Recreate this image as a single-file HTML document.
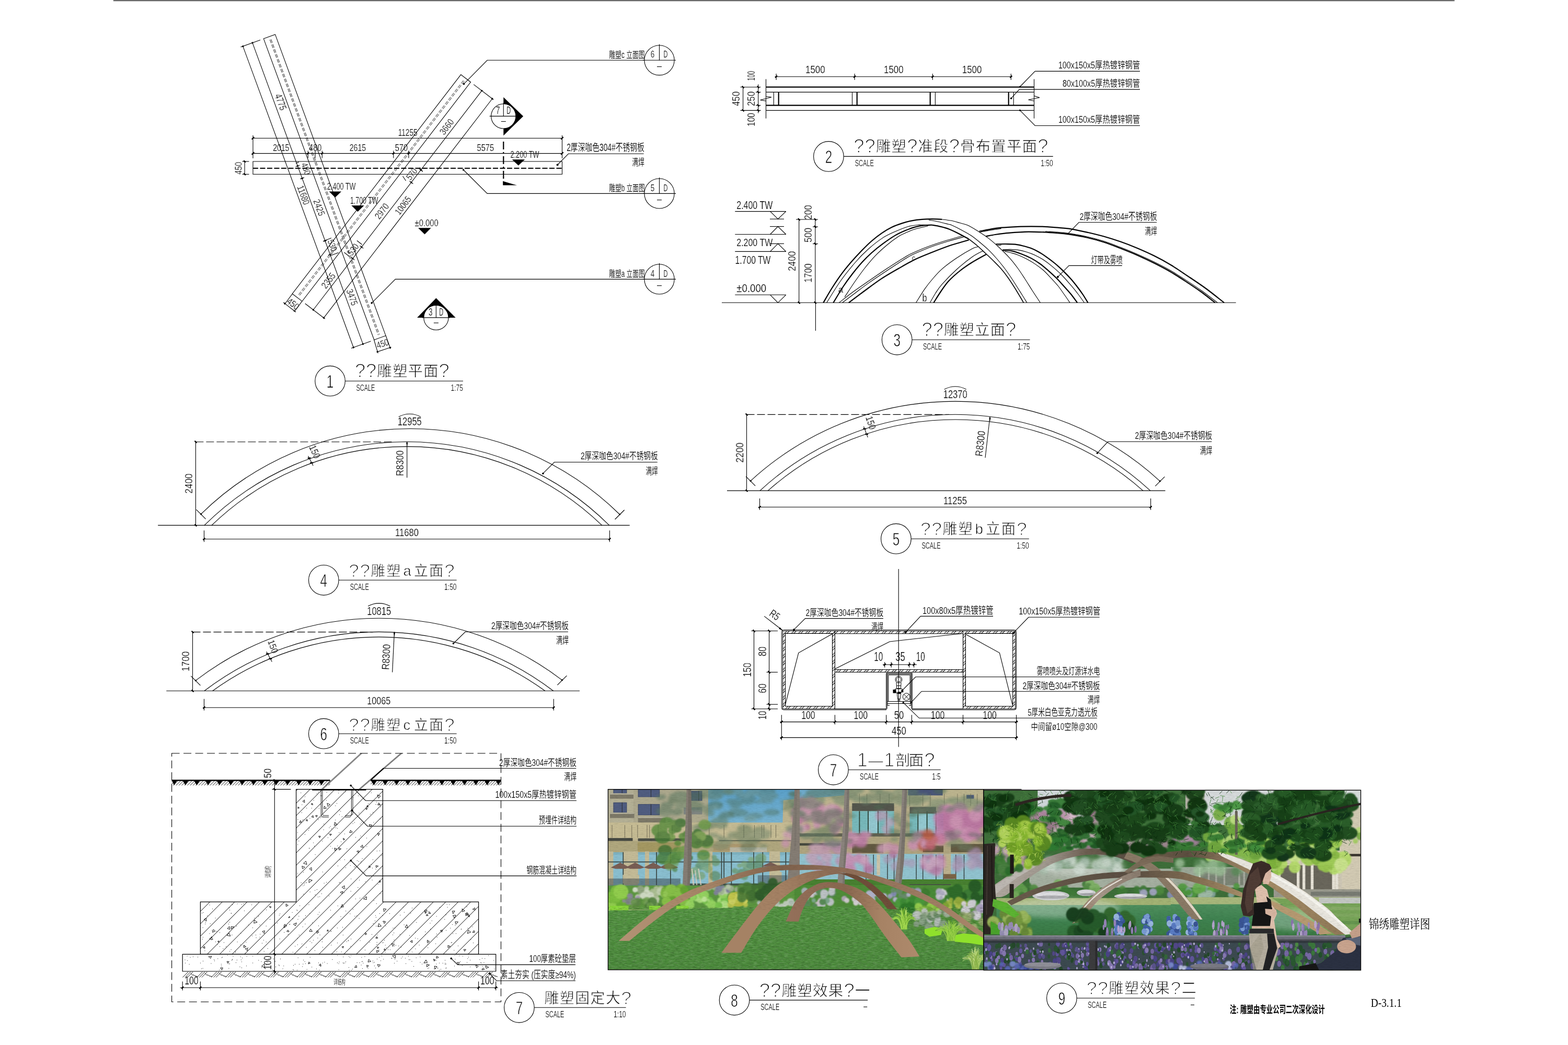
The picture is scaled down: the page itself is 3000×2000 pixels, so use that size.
<!DOCTYPE html>
<html lang="zh"><head><meta charset="utf-8"><title>锦绣雕塑详图 D-3.1.1</title>
<style>html,body{margin:0;padding:0;background:#fff}svg{display:block}.n{font-family:'Liberation Sans','Noto Sans CJK SC',sans-serif;stroke:#fff;stroke-width:.22px}.c{font-family:'Liberation Sans','Noto Sans CJK SC',sans-serif;stroke:#fff;stroke-width:.15px}.b{font-family:'Liberation Sans','Noto Sans CJK SC',sans-serif;font-weight:700;stroke:none}.t{font-family:'Liberation Sans','Noto Sans CJK SC',sans-serif;stroke:#fff;stroke-width:.75px}.s{font-family:'Liberation Serif','Noto Serif CJK SC',serif;stroke:none}.ln{fill:none;stroke:#000;stroke-width:1.1;stroke-linecap:butt;stroke-linejoin:miter}</style></head><body>
<svg xmlns="http://www.w3.org/2000/svg" width="3000" height="2000" viewBox="0 0 3000 2000">
<rect width="3000" height="2000" fill="#fff"/>
<defs><clipPath id="cp1"><rect x="1163.4" y="1510.7" width="718.4" height="345.4"/></clipPath>
<filter id="b1" x="-20%" y="-20%" width="140%" height="140%"><feGaussianBlur stdDeviation="1.2"/></filter>
<filter id="b2" x="-20%" y="-20%" width="140%" height="140%"><feGaussianBlur stdDeviation="2.5"/></filter>
<filter id="b4" x="-20%" y="-20%" width="140%" height="140%"><feGaussianBlur stdDeviation="5"/></filter>
<filter id="nzd" x="0" y="0" width="100%" height="100%"><feTurbulence type="fractalNoise" baseFrequency="0.12 0.7" numOctaves="3" seed="4"/><feColorMatrix type="matrix" values="0 0 0 0 0  0 0 0 0 0  0 0 0 0 0  3.2 0 0 0 -1.35"/></filter>
<filter id="nzl" x="0" y="0" width="100%" height="100%"><feTurbulence type="fractalNoise" baseFrequency="0.1 0.6" numOctaves="3" seed="9"/><feColorMatrix type="matrix" values="0 0 0 0 1  0 0 0 0 1  0 0 0 0 1  0 3.2 0 0 -1.45"/></filter>
<linearGradient id="lawn1" x1="0" y1="0" x2="0" y2="1"><stop offset="0" stop-color="#529340"/><stop offset="1" stop-color="#4b8a3b"/></linearGradient>
<linearGradient id="sky1" x1="0" y1="0" x2="0" y2="1"><stop offset="0" stop-color="#62b2e6"/><stop offset="1" stop-color="#8acbee"/></linearGradient>
<linearGradient id="gS" gradientUnits="userSpaceOnUse" x1="1503" y1="0" x2="1760" y2="0"><stop offset="0" stop-color="#94705a"/><stop offset="0.45" stop-color="#8a6850"/><stop offset="0.7" stop-color="#a68264"/><stop offset="1" stop-color="#ae8a6c"/></linearGradient>
<linearGradient id="gL" gradientUnits="userSpaceOnUse" x1="1183" y1="0" x2="1882" y2="0"><stop offset="0" stop-color="#b29274"/><stop offset="0.25" stop-color="#a58466"/><stop offset="0.45" stop-color="#80624c"/><stop offset="0.62" stop-color="#8f6e58"/><stop offset="1" stop-color="#a8866a"/></linearGradient>
<linearGradient id="gM" gradientUnits="userSpaceOnUse" x1="1380" y1="1823" x2="1600" y2="1665"><stop offset="0" stop-color="#a58265"/><stop offset="0.6" stop-color="#a58264"/><stop offset="1" stop-color="#8a6a54"/></linearGradient>
<clipPath id="cp2"><rect x="1882.1" y="1512.3" width="721.4" height="344.5"/></clipPath>
<linearGradient id="lawn2" x1="0" y1="0" x2="0" y2="1"><stop offset="0" stop-color="#4f8f5e"/><stop offset="0.5" stop-color="#3f8250"/><stop offset="1" stop-color="#3a7a44"/></linearGradient>
<linearGradient id="a1" gradientUnits="userSpaceOnUse" x1="1900" y1="0" x2="2200" y2="0"><stop offset="0" stop-color="#b0a8a0"/><stop offset="0.35" stop-color="#a0988e"/><stop offset="0.6" stop-color="#6c5e50"/><stop offset="1" stop-color="#51463c"/></linearGradient>
<linearGradient id="a2" gradientUnits="userSpaceOnUse" x1="1930" y1="0" x2="2400" y2="0"><stop offset="0" stop-color="#6a5c4c"/><stop offset="0.5" stop-color="#5a4e42"/><stop offset="0.8" stop-color="#8a7456"/><stop offset="1" stop-color="#b09670"/></linearGradient>
<linearGradient id="a3" gradientUnits="userSpaceOnUse" x1="2050" y1="1768" x2="2250" y2="1640"><stop offset="0" stop-color="#8a6a50"/><stop offset="0.3" stop-color="#a8998a"/><stop offset="1" stop-color="#6e6154"/></linearGradient>
<linearGradient id="ab" gradientUnits="userSpaceOnUse" x1="2180" y1="0" x2="2600" y2="0"><stop offset="0" stop-color="#73634f"/><stop offset="0.22" stop-color="#5c4e40"/><stop offset="0.42" stop-color="#8f7a5e"/><stop offset="0.6" stop-color="#a58c66"/><stop offset="1" stop-color="#8a7454"/></linearGradient>
<pattern id="hs" patternUnits="userSpaceOnUse" width="9.4" height="9.4" patternTransform="rotate(45)"><path d="M1 0V9.4M4.2 0V9.4" stroke="#000" stroke-width="1" fill="none"/></pattern></defs>
<g id="photos"><g clip-path="url(#cp1)">
<rect x="1163.4" y="1510.7" width="718.4" height="345.4" fill="#d9caa0"/>
<path d="M1354.8 1509.7L1530 1509.7L1530 1528.6L1498.7 1531.8L1497.1 1583.8L1354.8 1583Z" fill="url(#sky1)"/>
<path d="M1520 1509.7L1617.7 1509.7L1614.5 1522.3L1567.3 1526.3L1520 1528.6Z" fill="#7cc0ea"/>
<rect x="1865" y="1514.5" width="16.5" height="15.8" fill="#7cc4ee"/>
<rect x="1163.2" y="1509.7" width="191.7" height="64.6" fill="#c6bd9f"/>
<rect x="1163.2" y="1509.7" width="48.8" height="64.6" fill="#cfc6a8"/>
<rect x="1173.4" y="1510.5" width="26" height="9.5" fill="#465078"/>
<rect x="1174.6" y="1511.8" width="23.5" height="7.2" fill="#7684b8" opacity="0.35"/>
<path d="M1190.3 1510.5L1190.3 1520" stroke="#2a2a30" stroke-width="1" fill="none"/>
<rect x="1220.6" y="1510.5" width="41.7" height="15" fill="#465078"/>
<rect x="1221.9" y="1511.8" width="39.2" height="12.8" fill="#7684b8" opacity="0.35"/>
<path d="M1245.5 1510.5L1245.5 1525.5" stroke="#2a2a30" stroke-width="1" fill="none"/>
<rect x="1173.4" y="1535.7" width="26" height="19.7" fill="#465078"/>
<rect x="1174.6" y="1537" width="23.5" height="17.5" fill="#7684b8" opacity="0.35"/>
<path d="M1190.3 1535.7L1190.3 1555.4" stroke="#2a2a30" stroke-width="1" fill="none"/>
<rect x="1220.6" y="1538.9" width="41.7" height="21.3" fill="#465078"/>
<rect x="1221.9" y="1540.1" width="39.2" height="19.1" fill="#7684b8" opacity="0.35"/>
<path d="M1245.5 1538.9L1245.5 1560.1" stroke="#2a2a30" stroke-width="1" fill="none"/>
<rect x="1322.2" y="1513.7" width="21.3" height="18.9" fill="#465078"/>
<rect x="1323.5" y="1514.9" width="18.7" height="16.7" fill="#7684b8" opacity="0.35"/>
<path d="M1336.8 1513.7L1336.8 1532.6" stroke="#2a2a30" stroke-width="1" fill="none"/>
<rect x="1308.1" y="1545.2" width="35.4" height="13.4" fill="#6a7488" opacity="0.6"/>
<rect x="1167.1" y="1518.4" width="44.9" height="10.2" fill="#8c8472"/>
<rect x="1167.1" y="1518.4" width="44.9" height="2.2" fill="#d8d0b8"/>
<rect x="1167.1" y="1555.4" width="46.5" height="10.2" fill="#8c8472"/>
<rect x="1167.1" y="1555.4" width="46.5" height="2.2" fill="#d8d0b8"/>
<rect x="1220.6" y="1563.3" width="52.8" height="11" fill="#8c8472"/>
<rect x="1220.6" y="1563.3" width="52.8" height="2.2" fill="#d8d0b8"/>
<rect x="1163.2" y="1574.3" width="366.9" height="31.5" fill="#e3d3a6"/>
<rect x="1520" y="1574.3" width="97.7" height="31.5" fill="#dccb9e"/>
<path d="M1171 1579L1171 1603.4" stroke="#6e6650" stroke-width="0.8" fill="none"/>
<path d="M1195.4 1579L1195.4 1603.4" stroke="#6e6650" stroke-width="0.8" fill="none"/>
<path d="M1208.8 1579L1208.8 1603.4" stroke="#6e6650" stroke-width="0.8" fill="none"/>
<path d="M1219.9 1579L1219.9 1603.4" stroke="#6e6650" stroke-width="0.8" fill="none"/>
<path d="M1238 1579L1238 1603.4" stroke="#6e6650" stroke-width="0.8" fill="none"/>
<path d="M1242.7 1579L1242.7 1603.4" stroke="#6e6650" stroke-width="0.8" fill="none"/>
<path d="M1259.2 1579L1259.2 1603.4" stroke="#6e6650" stroke-width="0.8" fill="none"/>
<path d="M1286 1579L1286 1603.4" stroke="#6e6650" stroke-width="0.8" fill="none"/>
<path d="M1356.9 1579L1356.9 1603.4" stroke="#6e6650" stroke-width="0.8" fill="none"/>
<path d="M1385.2 1579L1385.2 1603.4" stroke="#6e6650" stroke-width="0.8" fill="none"/>
<path d="M1423.1 1579L1423.1 1603.4" stroke="#6e6650" stroke-width="0.8" fill="none"/>
<path d="M1443.5 1579L1443.5 1603.4" stroke="#6e6650" stroke-width="0.8" fill="none"/>
<path d="M1457.7 1579L1457.7 1603.4" stroke="#6e6650" stroke-width="0.8" fill="none"/>
<path d="M1461.6 1579L1461.6 1603.4" stroke="#6e6650" stroke-width="0.8" fill="none"/>
<path d="M1475 1579L1475 1603.4" stroke="#6e6650" stroke-width="0.8" fill="none"/>
<path d="M1484.5 1579L1484.5 1603.4" stroke="#6e6650" stroke-width="0.8" fill="none"/>
<rect x="1163.2" y="1603.9" width="47.3" height="5.8" fill="#4a4a44"/>
<rect x="1220.6" y="1604.5" width="90.6" height="6.3" fill="#51524a"/>
<rect x="1375.8" y="1608.2" width="154.2" height="6.3" fill="#56564a"/>
<rect x="1163.2" y="1609.7" width="366.9" height="22.1" fill="#c9ba8c"/>
<rect x="1219.9" y="1612.1" width="81.9" height="17.3" fill="#b7a562" opacity="0.8"/>
<rect x="1364.8" y="1615.3" width="78.8" height="14.2" fill="#c4a070" opacity="0.6"/>
<rect x="1396.3" y="1621.6" width="70.9" height="9.5" fill="#d8d8d0" opacity="0.7"/>
<rect x="1163.2" y="1631" width="366.9" height="63.8" fill="#9bd7ee"/>
<rect x="1163.2" y="1631" width="366.9" height="4.7" fill="#7fb8c8" opacity="0.5"/>
<rect x="1163.2" y="1629.4" width="10.2" height="64.6" fill="#e0d2aa"/>
<rect x="1193.1" y="1629.4" width="27.6" height="64.6" fill="#e0d2aa"/>
<rect x="1234" y="1629.4" width="7.9" height="64.6" fill="#e0d2aa"/>
<rect x="1355.3" y="1629.4" width="7.9" height="64.6" fill="#e0d2aa"/>
<rect x="1471.9" y="1629.4" width="20.5" height="64.6" fill="#e0d2aa"/>
<path d="M1192.3 1631L1192.3 1694" stroke="#38403c" stroke-width="1.6" fill="none"/>
<path d="M1256.1 1631L1256.1 1694" stroke="#38403c" stroke-width="1.6" fill="none"/>
<path d="M1282.9 1631L1282.9 1694" stroke="#38403c" stroke-width="1.6" fill="none"/>
<path d="M1380.5 1631L1380.5 1694" stroke="#38403c" stroke-width="1.6" fill="none"/>
<path d="M1385.2 1631L1385.2 1694" stroke="#38403c" stroke-width="1.6" fill="none"/>
<path d="M1399.4 1631L1399.4 1694" stroke="#38403c" stroke-width="1.6" fill="none"/>
<path d="M1442 1631L1442 1694" stroke="#38403c" stroke-width="1.6" fill="none"/>
<path d="M1459.3 1631L1459.3 1694" stroke="#38403c" stroke-width="1.6" fill="none"/>
<path d="M1503.4 1631L1503.4 1694" stroke="#38403c" stroke-width="1.6" fill="none"/>
<path d="M1163.2 1649.6L1530 1649.6" stroke="#3c4a4c" stroke-width="1.6" fill="none"/>
<rect x="1191.5" y="1674.3" width="31.5" height="16.5" fill="#e2d4ac"/>
<rect x="1472.7" y="1668.8" width="22.8" height="20.5" fill="#e2d4ac"/>
<path d="M1168.7 1660.2L1186.8 1650.7L1204.9 1660.2L1196.2 1662.8L1177.3 1662.8Z" fill="#87645a"/>
<path d="M1197 1660.2L1215.1 1650.7L1233.2 1660.2L1224.6 1662.8L1205.7 1662.8Z" fill="#87645a"/>
<path d="M1231.7 1660.2L1249.8 1650.7L1267.9 1660.2L1259.2 1662.8L1240.3 1662.8Z" fill="#87645a"/>
<path d="M1261.6 1660.2L1279.7 1650.7L1297.8 1660.2L1289.2 1662.8L1270.3 1662.8Z" fill="#87645a"/>
<path d="M1456.1 1658.6L1474.2 1649.9L1492.4 1658.6Z" fill="#87645a"/>
<rect x="1163.2" y="1681.4" width="138.6" height="15" fill="#3c4550" opacity="0.5"/>
<rect x="1449.8" y="1675.1" width="56.7" height="15.8" fill="#3c4048" opacity="0.45"/>
<rect x="1317.5" y="1690.9" width="212.5" height="5.5" fill="#33402c" opacity="0.8"/>
<rect x="1617.7" y="1509.7" width="263.8" height="33.1" fill="#d8cba0"/>
<rect x="1737.4" y="1509.7" width="66.2" height="12.6" fill="#4f5a86"/>
<rect x="1849.2" y="1521.5" width="14.2" height="7.1" fill="#4f5a86"/>
<path d="M1644.4 1519.2L1644.4 1542.8" stroke="#7a7258" stroke-width="0.8" fill="none"/>
<path d="M1658.6 1519.2L1658.6 1542.8" stroke="#7a7258" stroke-width="0.8" fill="none"/>
<path d="M1683.8 1519.2L1683.8 1542.8" stroke="#7a7258" stroke-width="0.8" fill="none"/>
<path d="M1701.1 1519.2L1701.1 1542.8" stroke="#7a7258" stroke-width="0.8" fill="none"/>
<path d="M1740.5 1519.2L1740.5 1542.8" stroke="#7a7258" stroke-width="0.8" fill="none"/>
<path d="M1765.7 1519.2L1765.7 1542.8" stroke="#7a7258" stroke-width="0.8" fill="none"/>
<path d="M1779.9 1519.2L1779.9 1542.8" stroke="#7a7258" stroke-width="0.8" fill="none"/>
<path d="M1806.7 1519.2L1806.7 1542.8" stroke="#7a7258" stroke-width="0.8" fill="none"/>
<path d="M1831.9 1519.2L1831.9 1542.8" stroke="#7a7258" stroke-width="0.8" fill="none"/>
<path d="M1844.5 1519.2L1844.5 1542.8" stroke="#7a7258" stroke-width="0.8" fill="none"/>
<path d="M1857.1 1519.2L1857.1 1542.8" stroke="#7a7258" stroke-width="0.8" fill="none"/>
<path d="M1869.7 1519.2L1869.7 1542.8" stroke="#7a7258" stroke-width="0.8" fill="none"/>
<rect x="1617.7" y="1542.8" width="263.8" height="56.7" fill="#cdbf98"/>
<rect x="1630.3" y="1537.3" width="80.3" height="15" fill="#5b5a52"/>
<rect x="1740.5" y="1544.4" width="50.4" height="12.6" fill="#5b5a52"/>
<rect x="1630.3" y="1552.3" width="80.3" height="42.5" fill="#86d0d4"/>
<rect x="1740.5" y="1557" width="64.6" height="40.2" fill="#86d0d4"/>
<rect x="1661.8" y="1553.8" width="17.3" height="40.2" fill="#a6e2ee"/>
<rect x="1756.3" y="1558.6" width="15.8" height="37.8" fill="#a6e2ee"/>
<rect x="1775.2" y="1558.6" width="14.2" height="37.8" fill="#a0dcec"/>
<path d="M1644.4 1552.3L1644.4 1595.6" stroke="#2c4034" stroke-width="1.8" fill="none"/>
<path d="M1661 1552.3L1661 1595.6" stroke="#2c4034" stroke-width="1.8" fill="none"/>
<path d="M1679.9 1552.3L1679.9 1595.6" stroke="#2c4034" stroke-width="1.8" fill="none"/>
<path d="M1696.4 1552.3L1696.4 1595.6" stroke="#2c4034" stroke-width="1.8" fill="none"/>
<path d="M1756.3 1552.3L1756.3 1595.6" stroke="#2c4034" stroke-width="1.8" fill="none"/>
<path d="M1773.6 1552.3L1773.6 1595.6" stroke="#2c4034" stroke-width="1.8" fill="none"/>
<path d="M1790.9 1552.3L1790.9 1595.6" stroke="#2c4034" stroke-width="1.8" fill="none"/>
<rect x="1520" y="1594.8" width="361.5" height="6.3" fill="#57584c" opacity="0.85"/>
<rect x="1520" y="1601.1" width="361.5" height="34.7" fill="#c8b88e"/>
<rect x="1630.3" y="1615.3" width="59.9" height="17.3" fill="#6d5f44"/>
<rect x="1765.7" y="1618.4" width="39.4" height="12.6" fill="#6d5f44"/>
<rect x="1819.3" y="1615.3" width="62.2" height="15.8" fill="#6d5f44"/>
<rect x="1520" y="1613.7" width="88.2" height="4.7" fill="#4a4a40"/>
<rect x="1520" y="1634.2" width="361.5" height="49.6" fill="#a4dcec"/>
<path d="M1657 1635.7L1657 1683" stroke="#3a4648" stroke-width="1.5" fill="none"/>
<path d="M1671.2 1635.7L1671.2 1683" stroke="#3a4648" stroke-width="1.5" fill="none"/>
<path d="M1698 1635.7L1698 1683" stroke="#3a4648" stroke-width="1.5" fill="none"/>
<path d="M1710.6 1635.7L1710.6 1683" stroke="#3a4648" stroke-width="1.5" fill="none"/>
<path d="M1753.1 1635.7L1753.1 1683" stroke="#3a4648" stroke-width="1.5" fill="none"/>
<path d="M1765.7 1635.7L1765.7 1683" stroke="#3a4648" stroke-width="1.5" fill="none"/>
<path d="M1790.9 1635.7L1790.9 1683" stroke="#3a4648" stroke-width="1.5" fill="none"/>
<path d="M1805.1 1635.7L1805.1 1683" stroke="#3a4648" stroke-width="1.5" fill="none"/>
<path d="M1828.7 1635.7L1828.7 1683" stroke="#3a4648" stroke-width="1.5" fill="none"/>
<path d="M1844.5 1635.7L1844.5 1683" stroke="#3a4648" stroke-width="1.5" fill="none"/>
<rect x="1677.5" y="1635.7" width="6.3" height="39.4" fill="#e8dcc0"/>
<rect x="1805.1" y="1634.2" width="14.2" height="44.1" fill="#d8c8a0"/>
<rect x="1805.1" y="1672.8" width="24.4" height="9.5" fill="#8a6a4a"/>
<rect x="1520" y="1683" width="361.5" height="11.8" fill="#4d8d30"/>
<rect x="1740.5" y="1692.4" width="78.8" height="11.3" fill="#4a4c4a"/>
<rect x="1646" y="1694.8" width="97.7" height="7.1" fill="#3a5a44" opacity="0.8"/>
<g opacity="0.8" filter="url(#b2)"><ellipse cx="1563.4" cy="1562.6" rx="13.6" ry="13.6" fill="#cf7fb4"/><ellipse cx="1563.3" cy="1578.9" rx="7.8" ry="7.8" fill="#e8a2cc"/><ellipse cx="1565.3" cy="1565.6" rx="7.8" ry="7.8" fill="#cf7fb4"/><ellipse cx="1551.2" cy="1536.8" rx="12.7" ry="12.7" fill="#e395c6"/><ellipse cx="1575.1" cy="1553.6" rx="9.9" ry="9.9" fill="#e8a2cc"/><ellipse cx="1579.5" cy="1566.1" rx="12.9" ry="12.9" fill="#e395c6"/><ellipse cx="1531.2" cy="1542.3" rx="8.2" ry="8.2" fill="#e395c6"/><ellipse cx="1590" cy="1549.8" rx="11" ry="11" fill="#d884bc"/><ellipse cx="1568.8" cy="1567.1" rx="10.2" ry="10.2" fill="#e395c6"/><ellipse cx="1563.8" cy="1547.1" rx="14.2" ry="14.2" fill="#e395c6"/><ellipse cx="1584.3" cy="1549.2" rx="8.1" ry="8.1" fill="#eeb0d4"/><ellipse cx="1528.7" cy="1562.8" rx="7.2" ry="7.2" fill="#e395c6"/><ellipse cx="1595.6" cy="1553.1" rx="13.8" ry="13.8" fill="#e395c6"/><ellipse cx="1543.8" cy="1582.9" rx="6.7" ry="6.7" fill="#cf7fb4"/><ellipse cx="1606.6" cy="1553.7" rx="6.9" ry="6.9" fill="#d884bc"/><ellipse cx="1590.1" cy="1546.7" rx="7" ry="7" fill="#eeb0d4"/><ellipse cx="1527.5" cy="1554.4" rx="13.6" ry="13.6" fill="#d884bc"/><ellipse cx="1546.5" cy="1537.3" rx="6.8" ry="6.8" fill="#cf7fb4"/><ellipse cx="1540.9" cy="1562.6" rx="9.8" ry="9.8" fill="#d884bc"/><ellipse cx="1607" cy="1574.2" rx="9.6" ry="9.6" fill="#cf7fb4"/><ellipse cx="1535.8" cy="1555" rx="8" ry="8" fill="#eeb0d4"/><ellipse cx="1597.1" cy="1585.5" rx="11" ry="11" fill="#e395c6"/><ellipse cx="1543.6" cy="1553.5" rx="13" ry="13" fill="#e8a2cc"/><ellipse cx="1534.5" cy="1586.3" rx="8" ry="8" fill="#eeb0d4"/><ellipse cx="1527.1" cy="1565.4" rx="12.8" ry="12.8" fill="#cf7fb4"/><ellipse cx="1532.3" cy="1536.7" rx="10.9" ry="10.9" fill="#d884bc"/></g>
<g opacity="0.92" filter="url(#b2)"><ellipse cx="1798.5" cy="1565.1" rx="12.5" ry="12.5" fill="#e08cc2"/><ellipse cx="1877.3" cy="1571.1" rx="12.1" ry="12.1" fill="#d67cb8"/><ellipse cx="1812.5" cy="1554" rx="15" ry="15" fill="#ea9ecc"/><ellipse cx="1818.1" cy="1555.8" rx="13.5" ry="13.5" fill="#ea9ecc"/><ellipse cx="1813.6" cy="1595.3" rx="14.7" ry="14.7" fill="#ea9ecc"/><ellipse cx="1803.8" cy="1548.4" rx="8" ry="8" fill="#ea9ecc"/><ellipse cx="1877.6" cy="1558.3" rx="13.2" ry="13.2" fill="#d67cb8"/><ellipse cx="1832.4" cy="1593" rx="11.3" ry="11.3" fill="#ea9ecc"/><ellipse cx="1811.9" cy="1583.4" rx="7.7" ry="7.7" fill="#e08cc2"/><ellipse cx="1837.2" cy="1579.9" rx="12.4" ry="12.4" fill="#e08cc2"/><ellipse cx="1820.6" cy="1593.6" rx="8.9" ry="8.9" fill="#e08cc2"/><ellipse cx="1803" cy="1567.3" rx="9.2" ry="9.2" fill="#e08cc2"/><ellipse cx="1811.9" cy="1565.1" rx="12" ry="12" fill="#e08cc2"/><ellipse cx="1804.9" cy="1553.1" rx="11" ry="11" fill="#d67cb8"/><ellipse cx="1852.1" cy="1581.9" rx="12.2" ry="12.2" fill="#e08cc2"/><ellipse cx="1846.5" cy="1594" rx="11.2" ry="11.2" fill="#d67cb8"/><ellipse cx="1855.7" cy="1596" rx="7.3" ry="7.3" fill="#ea9ecc"/><ellipse cx="1803.5" cy="1549.5" rx="9.8" ry="9.8" fill="#e08cc2"/><ellipse cx="1880.7" cy="1549.9" rx="11.8" ry="11.8" fill="#ea9ecc"/><ellipse cx="1800.9" cy="1594.6" rx="13.5" ry="13.5" fill="#e08cc2"/><ellipse cx="1863.5" cy="1593.5" rx="10.1" ry="10.1" fill="#ea9ecc"/><ellipse cx="1836.7" cy="1550" rx="14.5" ry="14.5" fill="#e08cc2"/><ellipse cx="1869.3" cy="1575.7" rx="12.5" ry="12.5" fill="#d67cb8"/><ellipse cx="1828.9" cy="1546.6" rx="7.7" ry="7.7" fill="#e08cc2"/><ellipse cx="1850.6" cy="1597.6" rx="14.7" ry="14.7" fill="#ea9ecc"/><ellipse cx="1824.8" cy="1594.5" rx="13.1" ry="13.1" fill="#d67cb8"/><ellipse cx="1834" cy="1589.5" rx="7.8" ry="7.8" fill="#ea9ecc"/><ellipse cx="1799.7" cy="1577.2" rx="11.3" ry="11.3" fill="#e08cc2"/><ellipse cx="1877.2" cy="1551.8" rx="13.8" ry="13.8" fill="#ea9ecc"/><ellipse cx="1874.1" cy="1559.3" rx="7.2" ry="7.2" fill="#d67cb8"/><ellipse cx="1809.2" cy="1577.8" rx="11.6" ry="11.6" fill="#d67cb8"/><ellipse cx="1852.3" cy="1568.9" rx="14.8" ry="14.8" fill="#d67cb8"/><ellipse cx="1831" cy="1559" rx="12.6" ry="12.6" fill="#e08cc2"/><ellipse cx="1870.7" cy="1565.9" rx="12.1" ry="12.1" fill="#d67cb8"/><ellipse cx="1814.7" cy="1552.9" rx="10.1" ry="10.1" fill="#e08cc2"/><ellipse cx="1856.6" cy="1595.3" rx="9.5" ry="9.5" fill="#e08cc2"/><ellipse cx="1806.6" cy="1570.5" rx="15.1" ry="15.1" fill="#d67cb8"/><ellipse cx="1829.2" cy="1573" rx="12.9" ry="12.9" fill="#ea9ecc"/><ellipse cx="1867.3" cy="1597" rx="11" ry="11" fill="#e08cc2"/><ellipse cx="1866.4" cy="1560.4" rx="12.4" ry="12.4" fill="#ea9ecc"/></g>
<g opacity="0.85" filter="url(#b2)"><ellipse cx="1650.7" cy="1606.5" rx="7.2" ry="7.2" fill="#e8a2cc"/><ellipse cx="1624.7" cy="1597.6" rx="8" ry="8" fill="#e395c6"/><ellipse cx="1653" cy="1600.2" rx="9.8" ry="9.8" fill="#e395c6"/><ellipse cx="1661.2" cy="1597.1" rx="6.1" ry="6.1" fill="#e8a2cc"/><ellipse cx="1648.7" cy="1611.3" rx="10.8" ry="10.8" fill="#d884bc"/><ellipse cx="1631.5" cy="1604.5" rx="6.5" ry="6.5" fill="#e395c6"/><ellipse cx="1652.5" cy="1605.7" rx="5.7" ry="5.7" fill="#d884bc"/><ellipse cx="1634.3" cy="1601.9" rx="9.4" ry="9.4" fill="#e8a2cc"/><ellipse cx="1642.9" cy="1615.2" rx="6.4" ry="6.4" fill="#d884bc"/><ellipse cx="1627.3" cy="1613.9" rx="9.5" ry="9.5" fill="#d884bc"/></g>
<g opacity="0.85" filter="url(#b2)"><ellipse cx="1764.6" cy="1601.3" rx="10.4" ry="10.4" fill="#e488b4"/><ellipse cx="1759.4" cy="1609.2" rx="10.4" ry="10.4" fill="#ea9ecc"/><ellipse cx="1765.5" cy="1611" rx="6.6" ry="6.6" fill="#e488b4"/><ellipse cx="1747.8" cy="1616.3" rx="10.9" ry="10.9" fill="#ea9ecc"/><ellipse cx="1770.7" cy="1614" rx="7.3" ry="7.3" fill="#e488b4"/><ellipse cx="1757.3" cy="1598.9" rx="7.9" ry="7.9" fill="#d8604a"/><ellipse cx="1787.1" cy="1607.5" rx="5.7" ry="5.7" fill="#e488b4"/><ellipse cx="1763" cy="1597.9" rx="8.5" ry="8.5" fill="#e06a80"/><ellipse cx="1766" cy="1618.4" rx="10.5" ry="10.5" fill="#d8604a"/><ellipse cx="1799.7" cy="1607.6" rx="10.7" ry="10.7" fill="#e488b4"/><ellipse cx="1786.4" cy="1606.5" rx="8.6" ry="8.6" fill="#e06a80"/><ellipse cx="1769.7" cy="1615.1" rx="8.6" ry="8.6" fill="#ea9ecc"/><ellipse cx="1780.2" cy="1617.4" rx="10.3" ry="10.3" fill="#e06a80"/><ellipse cx="1754.2" cy="1600.1" rx="8.5" ry="8.5" fill="#ea9ecc"/><ellipse cx="1773.3" cy="1601.4" rx="8.5" ry="8.5" fill="#e488b4"/><ellipse cx="1775.5" cy="1597.7" rx="10.9" ry="10.9" fill="#d8604a"/></g>
<g opacity="0.8" filter="url(#b2)"><ellipse cx="1584.1" cy="1655.8" rx="7.1" ry="7.1" fill="#d8a0c8"/><ellipse cx="1592.9" cy="1618" rx="9.7" ry="9.7" fill="#c890c0"/><ellipse cx="1606.6" cy="1648" rx="8.8" ry="8.8" fill="#d8a0c8"/><ellipse cx="1579.8" cy="1620.5" rx="9" ry="9" fill="#c890c0"/><ellipse cx="1582.9" cy="1619.7" rx="8.9" ry="8.9" fill="#d8a0c8"/><ellipse cx="1606.9" cy="1620.6" rx="11.2" ry="11.2" fill="#d8a0c8"/><ellipse cx="1553.6" cy="1621.6" rx="6.4" ry="6.4" fill="#c890c0"/><ellipse cx="1570.8" cy="1629.8" rx="10.2" ry="10.2" fill="#d8a0c8"/><ellipse cx="1581.4" cy="1639.1" rx="11.7" ry="11.7" fill="#e0b0d0"/><ellipse cx="1566.5" cy="1623.4" rx="9.6" ry="9.6" fill="#c890c0"/><ellipse cx="1552.9" cy="1641.2" rx="11.5" ry="11.5" fill="#e0b0d0"/><ellipse cx="1561.1" cy="1623.6" rx="10.3" ry="10.3" fill="#e0b0d0"/><ellipse cx="1564.6" cy="1624.1" rx="9.7" ry="9.7" fill="#e0b0d0"/><ellipse cx="1602.8" cy="1624.8" rx="11" ry="11" fill="#c890c0"/><ellipse cx="1605.5" cy="1628.2" rx="8.3" ry="8.3" fill="#d8a0c8"/><ellipse cx="1564.6" cy="1656.1" rx="11.9" ry="11.9" fill="#d8a0c8"/><ellipse cx="1604.7" cy="1620.7" rx="6.9" ry="6.9" fill="#c890c0"/><ellipse cx="1557.3" cy="1649.3" rx="9" ry="9" fill="#e0b0d0"/></g>
<g opacity="0.9" filter="url(#b2)"><ellipse cx="1623.2" cy="1650.3" rx="9.3" ry="9.3" fill="#e395c6"/><ellipse cx="1621.9" cy="1655" rx="7.5" ry="7.5" fill="#eeb0d4"/><ellipse cx="1622.7" cy="1653.2" rx="9.7" ry="9.7" fill="#e8a2cc"/><ellipse cx="1661.7" cy="1662.5" rx="9.9" ry="9.9" fill="#cf7fb4"/><ellipse cx="1622.3" cy="1639.9" rx="8.6" ry="8.6" fill="#e8a2cc"/><ellipse cx="1657.6" cy="1652.5" rx="6.6" ry="6.6" fill="#e395c6"/><ellipse cx="1626.7" cy="1662.7" rx="11" ry="11" fill="#e395c6"/><ellipse cx="1643.2" cy="1642.7" rx="9.3" ry="9.3" fill="#e395c6"/><ellipse cx="1651.4" cy="1648.2" rx="8.1" ry="8.1" fill="#e8a2cc"/><ellipse cx="1633.3" cy="1644.8" rx="7.6" ry="7.6" fill="#e395c6"/><ellipse cx="1654.9" cy="1644" rx="8" ry="8" fill="#eeb0d4"/><ellipse cx="1635.5" cy="1644.4" rx="6.4" ry="6.4" fill="#e8a2cc"/></g>
<g opacity="0.8" filter="url(#b2)"><ellipse cx="1711.6" cy="1625.5" rx="5.1" ry="5.1" fill="#cf7fb4"/><ellipse cx="1704.2" cy="1622.6" rx="7.5" ry="7.5" fill="#eeb0d4"/><ellipse cx="1712" cy="1624.1" rx="9" ry="9" fill="#d884bc"/><ellipse cx="1712.3" cy="1627.4" rx="9" ry="9" fill="#e8a2cc"/><ellipse cx="1708.4" cy="1635.3" rx="8.3" ry="8.3" fill="#cf7fb4"/><ellipse cx="1692.2" cy="1622.5" rx="8.5" ry="8.5" fill="#eeb0d4"/><ellipse cx="1700.9" cy="1618.6" rx="6.4" ry="6.4" fill="#e8a2cc"/><ellipse cx="1687" cy="1624.4" rx="9.3" ry="9.3" fill="#eeb0d4"/></g>
<g opacity="0.85" filter="url(#b2)"><ellipse cx="1778.5" cy="1661.8" rx="8.7" ry="8.7" fill="#e8a2cc"/><ellipse cx="1768.6" cy="1656.7" rx="8.3" ry="8.3" fill="#d884bc"/><ellipse cx="1792.2" cy="1665.3" rx="10.9" ry="10.9" fill="#e395c6"/><ellipse cx="1770.1" cy="1642.6" rx="6.8" ry="6.8" fill="#cf7fb4"/><ellipse cx="1780.9" cy="1640.6" rx="6.6" ry="6.6" fill="#cf7fb4"/><ellipse cx="1766.1" cy="1647.8" rx="7" ry="7" fill="#eeb0d4"/><ellipse cx="1786.5" cy="1656.5" rx="10.8" ry="10.8" fill="#e8a2cc"/><ellipse cx="1797.7" cy="1642.3" rx="8" ry="8" fill="#e395c6"/><ellipse cx="1786.5" cy="1662.1" rx="10.8" ry="10.8" fill="#cf7fb4"/><ellipse cx="1800.9" cy="1644.4" rx="8.1" ry="8.1" fill="#d884bc"/><ellipse cx="1798.1" cy="1657.7" rx="8.8" ry="8.8" fill="#cf7fb4"/><ellipse cx="1801.5" cy="1653.5" rx="8.4" ry="8.4" fill="#e8a2cc"/><ellipse cx="1777.5" cy="1657.3" rx="8.2" ry="8.2" fill="#eeb0d4"/><ellipse cx="1786.9" cy="1648.7" rx="9.5" ry="9.5" fill="#eeb0d4"/></g>
<g opacity="0.8" filter="url(#b2)"><ellipse cx="1828.6" cy="1656.6" rx="8.7" ry="8.7" fill="#d4b4d4"/><ellipse cx="1835.5" cy="1656" rx="7.7" ry="7.7" fill="#b898c0"/><ellipse cx="1867.2" cy="1632.7" rx="11" ry="11" fill="#b898c0"/><ellipse cx="1831.1" cy="1661" rx="7.9" ry="7.9" fill="#b898c0"/><ellipse cx="1840.6" cy="1656" rx="5.8" ry="5.8" fill="#c8a4cc"/><ellipse cx="1877.3" cy="1654.9" rx="8.1" ry="8.1" fill="#c8a4cc"/><ellipse cx="1859.5" cy="1634.8" rx="9" ry="9" fill="#b898c0"/><ellipse cx="1833.5" cy="1659.5" rx="7.5" ry="7.5" fill="#c8a4cc"/><ellipse cx="1833.8" cy="1645.7" rx="9.2" ry="9.2" fill="#b898c0"/><ellipse cx="1859.3" cy="1652.2" rx="9.3" ry="9.3" fill="#b898c0"/><ellipse cx="1868.8" cy="1648.6" rx="11" ry="11" fill="#b898c0"/><ellipse cx="1866.5" cy="1638.9" rx="6.1" ry="6.1" fill="#b898c0"/><ellipse cx="1869.2" cy="1651.7" rx="7.5" ry="7.5" fill="#b898c0"/><ellipse cx="1859.8" cy="1655" rx="9.4" ry="9.4" fill="#c8a4cc"/><ellipse cx="1861.1" cy="1655.9" rx="6.6" ry="6.6" fill="#c8a4cc"/><ellipse cx="1854" cy="1652.6" rx="6.6" ry="6.6" fill="#d4b4d4"/></g>
<g opacity="0.6" filter="url(#b2)"><ellipse cx="1695.8" cy="1644.8" rx="6" ry="6" fill="#d8b0d4"/><ellipse cx="1695" cy="1644.3" rx="5.8" ry="5.8" fill="#d8b0d4"/><ellipse cx="1697.8" cy="1645.2" rx="7.9" ry="7.9" fill="#c8a4cc"/><ellipse cx="1733" cy="1650.7" rx="7" ry="7" fill="#c8a4cc"/><ellipse cx="1714.6" cy="1653" rx="5.4" ry="5.4" fill="#c8a4cc"/><ellipse cx="1743.8" cy="1652.1" rx="8.6" ry="8.6" fill="#c8a4cc"/><ellipse cx="1721.3" cy="1657.7" rx="6.6" ry="6.6" fill="#c8a4cc"/><ellipse cx="1716.5" cy="1656" rx="9.4" ry="9.4" fill="#d8b0d4"/><ellipse cx="1711.6" cy="1658" rx="8.6" ry="8.6" fill="#c8a4cc"/><ellipse cx="1720.2" cy="1650.6" rx="5.2" ry="5.2" fill="#d8b0d4"/></g>
<g opacity="0.6" filter="url(#b2)"><ellipse cx="1682.9" cy="1558.5" rx="7.4" ry="7.4" fill="#cf7fb4"/><ellipse cx="1703.8" cy="1572.9" rx="8.6" ry="8.6" fill="#e395c6"/><ellipse cx="1682.8" cy="1563.5" rx="7.9" ry="7.9" fill="#e395c6"/><ellipse cx="1700.4" cy="1574.1" rx="8.3" ry="8.3" fill="#eeb0d4"/><ellipse cx="1688.7" cy="1560.8" rx="6.4" ry="6.4" fill="#eeb0d4"/><ellipse cx="1691.1" cy="1559.8" rx="8.1" ry="8.1" fill="#e8a2cc"/><ellipse cx="1697.5" cy="1589.5" rx="8" ry="8" fill="#eeb0d4"/><ellipse cx="1693.1" cy="1585.8" rx="6.2" ry="6.2" fill="#eeb0d4"/></g>
<g opacity="0.7" filter="url(#b2)"><ellipse cx="1503.1" cy="1614.3" rx="8.2" ry="8.2" fill="#e8a2cc"/><ellipse cx="1504.1" cy="1597.2" rx="6.5" ry="6.5" fill="#eeb0d4"/><ellipse cx="1518.9" cy="1603.5" rx="8.5" ry="8.5" fill="#e8a2cc"/><ellipse cx="1508.2" cy="1598" rx="5.5" ry="5.5" fill="#e8a2cc"/><ellipse cx="1514.9" cy="1591.9" rx="8.3" ry="8.3" fill="#eeb0d4"/><ellipse cx="1523.5" cy="1593.2" rx="5" ry="5" fill="#d884bc"/></g>
<g opacity="0.55" filter="url(#b2)"><ellipse cx="1338.4" cy="1584.4" rx="15.1" ry="7.5" fill="#7a9478"/><ellipse cx="1271" cy="1552.6" rx="16.6" ry="8.3" fill="#5f7f66"/><ellipse cx="1307.2" cy="1532" rx="9" ry="4.5" fill="#527458"/><ellipse cx="1273.7" cy="1559.2" rx="9.5" ry="4.7" fill="#7a9478"/><ellipse cx="1295.2" cy="1528" rx="16.3" ry="8.2" fill="#527458"/><ellipse cx="1364.8" cy="1541.1" rx="11.6" ry="5.8" fill="#527458"/><ellipse cx="1352.4" cy="1548.6" rx="13.8" ry="6.9" fill="#5f7f66"/><ellipse cx="1357.2" cy="1580.5" rx="12.4" ry="6.2" fill="#527458"/><ellipse cx="1376.7" cy="1572.2" rx="17.1" ry="8.5" fill="#7a9478"/><ellipse cx="1390.6" cy="1559.7" rx="13.7" ry="6.8" fill="#5f7f66"/><ellipse cx="1369.8" cy="1543.2" rx="12.5" ry="6.3" fill="#6c8a70"/><ellipse cx="1295.3" cy="1523.6" rx="14.9" ry="7.4" fill="#6c8a70"/><ellipse cx="1305.3" cy="1540.7" rx="13.7" ry="6.9" fill="#527458"/><ellipse cx="1392.2" cy="1515.8" rx="11.3" ry="5.6" fill="#5f7f66"/><ellipse cx="1303" cy="1523.1" rx="18" ry="9" fill="#5f7f66"/><ellipse cx="1363.2" cy="1512.6" rx="13.2" ry="6.6" fill="#5f7f66"/><ellipse cx="1304.2" cy="1526.2" rx="11.8" ry="5.9" fill="#6c8a70"/><ellipse cx="1342.7" cy="1547" rx="13.5" ry="6.7" fill="#7a9478"/><ellipse cx="1287.2" cy="1532.6" rx="9.8" ry="4.9" fill="#527458"/><ellipse cx="1346.3" cy="1582.5" rx="13.9" ry="7" fill="#527458"/><ellipse cx="1327.3" cy="1541.7" rx="18.4" ry="9.2" fill="#5f7f66"/><ellipse cx="1327" cy="1528" rx="8.4" ry="4.2" fill="#6c8a70"/><ellipse cx="1369.7" cy="1540.4" rx="13.7" ry="6.8" fill="#527458"/><ellipse cx="1367.8" cy="1515.7" rx="18.1" ry="9" fill="#5f7f66"/><ellipse cx="1379.4" cy="1579.7" rx="12.8" ry="6.4" fill="#6c8a70"/><ellipse cx="1357.9" cy="1557.1" rx="9.6" ry="4.8" fill="#6c8a70"/><ellipse cx="1365.7" cy="1522.2" rx="17.9" ry="8.9" fill="#6c8a70"/><ellipse cx="1347.7" cy="1586.4" rx="10.8" ry="5.4" fill="#5f7f66"/><ellipse cx="1282.6" cy="1569.5" rx="7.9" ry="3.9" fill="#6c8a70"/><ellipse cx="1372.5" cy="1517.5" rx="10.9" ry="5.4" fill="#5f7f66"/><ellipse cx="1381.5" cy="1563.7" rx="8.8" ry="4.4" fill="#527458"/><ellipse cx="1264.9" cy="1525.5" rx="10" ry="5" fill="#5f7f66"/><ellipse cx="1367" cy="1544.6" rx="8.3" ry="4.1" fill="#7a9478"/><ellipse cx="1332.8" cy="1523.2" rx="17" ry="8.5" fill="#527458"/><ellipse cx="1304.7" cy="1542" rx="14" ry="7" fill="#7a9478"/><ellipse cx="1351.7" cy="1516.4" rx="8.7" ry="4.3" fill="#6c8a70"/><ellipse cx="1276.5" cy="1541.1" rx="13" ry="6.5" fill="#5f7f66"/><ellipse cx="1349.9" cy="1512.2" rx="12" ry="6" fill="#7a9478"/><ellipse cx="1294.2" cy="1554" rx="12.9" ry="6.5" fill="#5f7f66"/><ellipse cx="1377" cy="1575.2" rx="15.8" ry="7.9" fill="#6c8a70"/></g>
<g opacity="0.42" filter="url(#b2)"><ellipse cx="1429.5" cy="1533.8" rx="14.7" ry="5.9" fill="#527458"/><ellipse cx="1523.5" cy="1556.5" rx="14.9" ry="6" fill="#5f7f66"/><ellipse cx="1424.7" cy="1523.3" rx="17.1" ry="6.8" fill="#527458"/><ellipse cx="1432.3" cy="1527.7" rx="13.8" ry="5.5" fill="#527458"/><ellipse cx="1451.7" cy="1534.2" rx="9.2" ry="3.7" fill="#5f7f66"/><ellipse cx="1407" cy="1549" rx="10.1" ry="4.1" fill="#6c8a70"/><ellipse cx="1445.4" cy="1561.4" rx="15.3" ry="6.1" fill="#5f7f66"/><ellipse cx="1402.6" cy="1513.2" rx="20.3" ry="8.1" fill="#7a9478"/><ellipse cx="1446" cy="1515.7" rx="19.5" ry="7.8" fill="#7a9478"/><ellipse cx="1519.7" cy="1519.6" rx="10.5" ry="4.2" fill="#6c8a70"/><ellipse cx="1504.7" cy="1534.4" rx="12.1" ry="4.8" fill="#7a9478"/><ellipse cx="1476.6" cy="1554.8" rx="15.6" ry="6.2" fill="#527458"/><ellipse cx="1527.4" cy="1558.6" rx="16.2" ry="6.5" fill="#5f7f66"/><ellipse cx="1425.3" cy="1522.6" rx="11.7" ry="4.7" fill="#7a9478"/><ellipse cx="1403.4" cy="1533.9" rx="14.3" ry="5.7" fill="#527458"/><ellipse cx="1505.2" cy="1547.9" rx="9.9" ry="3.9" fill="#527458"/><ellipse cx="1466" cy="1532.4" rx="14.2" ry="5.7" fill="#6c8a70"/><ellipse cx="1469.7" cy="1523.2" rx="19.6" ry="7.9" fill="#6c8a70"/><ellipse cx="1468.7" cy="1512.9" rx="16.2" ry="6.5" fill="#5f7f66"/><ellipse cx="1407.7" cy="1539.9" rx="13.1" ry="5.3" fill="#527458"/><ellipse cx="1435" cy="1566.9" rx="12.4" ry="5" fill="#7a9478"/><ellipse cx="1513.4" cy="1538.4" rx="17.1" ry="6.8" fill="#6c8a70"/><ellipse cx="1516.4" cy="1543.8" rx="14.9" ry="6" fill="#527458"/><ellipse cx="1412.3" cy="1555.9" rx="19.2" ry="7.7" fill="#527458"/></g>
<g opacity="0.45" filter="url(#b2)"><ellipse cx="1424.8" cy="1586" rx="15.4" ry="7.7" fill="#527458"/><ellipse cx="1435.3" cy="1596.6" rx="14.7" ry="7.3" fill="#527458"/><ellipse cx="1453.7" cy="1588.8" rx="12.3" ry="6.2" fill="#5f7f66"/><ellipse cx="1406.3" cy="1598.4" rx="14.9" ry="7.5" fill="#6c8a70"/><ellipse cx="1387.8" cy="1610.2" rx="14.4" ry="7.2" fill="#7a9478"/><ellipse cx="1426.5" cy="1608.8" rx="14.7" ry="7.4" fill="#6c8a70"/><ellipse cx="1374.2" cy="1601.2" rx="7.9" ry="3.9" fill="#7a9478"/><ellipse cx="1363.9" cy="1598.5" rx="10" ry="5" fill="#6c8a70"/><ellipse cx="1382.2" cy="1605.7" rx="10" ry="5" fill="#5f7f66"/><ellipse cx="1440" cy="1615.3" rx="10.7" ry="5.4" fill="#7a9478"/><ellipse cx="1424.6" cy="1601.3" rx="10.8" ry="5.4" fill="#7a9478"/><ellipse cx="1443.7" cy="1602" rx="17.3" ry="8.6" fill="#7a9478"/><ellipse cx="1453" cy="1585.8" rx="7.6" ry="3.8" fill="#527458"/><ellipse cx="1415.2" cy="1599.7" rx="16.3" ry="8.1" fill="#527458"/><ellipse cx="1463.3" cy="1593.7" rx="13.1" ry="6.5" fill="#7a9478"/><ellipse cx="1441.3" cy="1607" rx="14.6" ry="7.3" fill="#527458"/><ellipse cx="1460.2" cy="1619.3" rx="9" ry="4.5" fill="#7a9478"/><ellipse cx="1379.6" cy="1619.1" rx="17" ry="8.5" fill="#7a9478"/><ellipse cx="1436.6" cy="1603.8" rx="8.9" ry="4.5" fill="#527458"/><ellipse cx="1431.8" cy="1622.1" rx="16" ry="8" fill="#527458"/><ellipse cx="1458.2" cy="1599.2" rx="15.2" ry="7.6" fill="#6c8a70"/><ellipse cx="1430.9" cy="1599.2" rx="7.7" ry="3.8" fill="#5f7f66"/></g>
<g opacity="0.55" filter="url(#b2)"><ellipse cx="1535.5" cy="1538.8" rx="9.4" ry="4.2" fill="#7a9478"/><ellipse cx="1520.1" cy="1519.8" rx="11.6" ry="5.2" fill="#527458"/><ellipse cx="1547.1" cy="1526.6" rx="13.5" ry="6.1" fill="#7a9478"/><ellipse cx="1542.3" cy="1535.3" rx="10.8" ry="4.9" fill="#527458"/><ellipse cx="1524.9" cy="1542.4" rx="11.8" ry="5.3" fill="#7a9478"/><ellipse cx="1542.6" cy="1538.2" rx="17.7" ry="7.9" fill="#6c8a70"/><ellipse cx="1551.9" cy="1541.1" rx="16.6" ry="7.5" fill="#5f7f66"/><ellipse cx="1550.8" cy="1540.3" rx="12.3" ry="5.6" fill="#7a9478"/><ellipse cx="1522.5" cy="1533.3" rx="16.7" ry="7.5" fill="#6c8a70"/><ellipse cx="1604" cy="1519.5" rx="19.8" ry="8.9" fill="#5f7f66"/><ellipse cx="1622.4" cy="1521.9" rx="18.2" ry="8.2" fill="#527458"/><ellipse cx="1657" cy="1536" rx="9.6" ry="4.3" fill="#7a9478"/><ellipse cx="1585.4" cy="1517.2" rx="18.7" ry="8.4" fill="#5f7f66"/><ellipse cx="1631.9" cy="1518.1" rx="10.2" ry="4.6" fill="#6c8a70"/><ellipse cx="1599" cy="1521.5" rx="11.3" ry="5.1" fill="#5f7f66"/><ellipse cx="1612.9" cy="1519.2" rx="11.7" ry="5.3" fill="#6c8a70"/><ellipse cx="1625.1" cy="1520.9" rx="15.9" ry="7.2" fill="#5f7f66"/><ellipse cx="1592.9" cy="1513.9" rx="19.4" ry="8.7" fill="#5f7f66"/><ellipse cx="1603.6" cy="1512.9" rx="15.4" ry="6.9" fill="#527458"/><ellipse cx="1604.6" cy="1526" rx="15" ry="6.8" fill="#6c8a70"/><ellipse cx="1564.9" cy="1537.5" rx="11" ry="4.9" fill="#527458"/><ellipse cx="1635.6" cy="1512.3" rx="17.8" ry="8" fill="#6c8a70"/><ellipse cx="1675.6" cy="1512.5" rx="13.7" ry="6.2" fill="#7a9478"/><ellipse cx="1520.4" cy="1542.2" rx="8.6" ry="3.9" fill="#5f7f66"/><ellipse cx="1607.6" cy="1533.7" rx="12.4" ry="5.6" fill="#7a9478"/><ellipse cx="1643.3" cy="1529.2" rx="14.2" ry="6.4" fill="#6c8a70"/><ellipse cx="1613.5" cy="1538" rx="9.3" ry="4.2" fill="#7a9478"/><ellipse cx="1557.1" cy="1526.6" rx="17.6" ry="7.9" fill="#6c8a70"/><ellipse cx="1560.9" cy="1530.2" rx="18.6" ry="8.4" fill="#7a9478"/><ellipse cx="1561.2" cy="1518.3" rx="20.1" ry="9" fill="#5f7f66"/></g>
<g opacity="0.5" filter="url(#b2)"><ellipse cx="1787.6" cy="1547" rx="10.1" ry="4.6" fill="#6c8a70"/><ellipse cx="1795.4" cy="1536.2" rx="18" ry="8.1" fill="#7a9478"/><ellipse cx="1820.7" cy="1546.4" rx="8.3" ry="3.7" fill="#5f7f66"/><ellipse cx="1861.1" cy="1534.6" rx="14.7" ry="6.6" fill="#6c8a70"/><ellipse cx="1798.7" cy="1513.5" rx="13.2" ry="6" fill="#527458"/><ellipse cx="1841.9" cy="1541.5" rx="17.7" ry="8" fill="#7a9478"/><ellipse cx="1681.2" cy="1544.9" rx="10" ry="4.5" fill="#527458"/><ellipse cx="1716.3" cy="1531.6" rx="16.2" ry="7.3" fill="#7a9478"/><ellipse cx="1675.2" cy="1528.1" rx="12.5" ry="5.6" fill="#6c8a70"/><ellipse cx="1816.4" cy="1550.5" rx="9.5" ry="4.3" fill="#6c8a70"/><ellipse cx="1693.5" cy="1529.9" rx="17.3" ry="7.8" fill="#5f7f66"/><ellipse cx="1662.5" cy="1528.1" rx="14.5" ry="6.5" fill="#5f7f66"/><ellipse cx="1748.1" cy="1523.5" rx="13.2" ry="6" fill="#5f7f66"/><ellipse cx="1875.3" cy="1539.1" rx="16.9" ry="7.6" fill="#6c8a70"/><ellipse cx="1726.7" cy="1516.2" rx="18.7" ry="8.4" fill="#7a9478"/><ellipse cx="1763.2" cy="1549.5" rx="12.5" ry="5.6" fill="#527458"/><ellipse cx="1869.7" cy="1549.1" rx="10.6" ry="4.8" fill="#6c8a70"/><ellipse cx="1750.3" cy="1537.9" rx="8.6" ry="3.9" fill="#527458"/><ellipse cx="1786.4" cy="1548.7" rx="19" ry="8.6" fill="#6c8a70"/><ellipse cx="1763.4" cy="1527.4" rx="18.5" ry="8.3" fill="#7a9478"/><ellipse cx="1745" cy="1513.3" rx="13.1" ry="5.9" fill="#6c8a70"/><ellipse cx="1702.1" cy="1533.8" rx="9.9" ry="4.5" fill="#6c8a70"/><ellipse cx="1749.7" cy="1535.6" rx="17.4" ry="7.9" fill="#7a9478"/><ellipse cx="1760" cy="1552" rx="16.4" ry="7.4" fill="#7a9478"/><ellipse cx="1706.7" cy="1527" rx="8.8" ry="4" fill="#527458"/><ellipse cx="1741.5" cy="1522.5" rx="8.1" ry="3.6" fill="#6c8a70"/><ellipse cx="1824.7" cy="1532.3" rx="15" ry="6.8" fill="#6c8a70"/><ellipse cx="1720.8" cy="1526.1" rx="9.8" ry="4.4" fill="#527458"/><ellipse cx="1691.9" cy="1521.2" rx="18.5" ry="8.3" fill="#5f7f66"/><ellipse cx="1666.2" cy="1524.5" rx="12.7" ry="5.7" fill="#5f7f66"/><ellipse cx="1849.5" cy="1526.9" rx="11.1" ry="5" fill="#5f7f66"/><ellipse cx="1728.2" cy="1536.2" rx="14" ry="6.3" fill="#6c8a70"/><ellipse cx="1694.9" cy="1535.7" rx="8.3" ry="3.7" fill="#527458"/><ellipse cx="1752" cy="1530.9" rx="16.6" ry="7.5" fill="#527458"/><ellipse cx="1730.7" cy="1529.8" rx="12.6" ry="5.7" fill="#6c8a70"/><ellipse cx="1845.2" cy="1533.2" rx="13.5" ry="6.1" fill="#6c8a70"/></g>
<g opacity="0.5" filter="url(#b2)"><ellipse cx="1562.6" cy="1606.8" rx="10.4" ry="5.2" fill="#527458"/><ellipse cx="1560.8" cy="1590.8" rx="9.4" ry="4.7" fill="#5f7f66"/><ellipse cx="1602.4" cy="1582.7" rx="8" ry="4" fill="#527458"/><ellipse cx="1592.8" cy="1556.5" rx="17.3" ry="8.6" fill="#527458"/><ellipse cx="1593.5" cy="1612.4" rx="17.5" ry="8.7" fill="#6c8a70"/><ellipse cx="1606.4" cy="1568.6" rx="16.7" ry="8.3" fill="#5f7f66"/><ellipse cx="1563.3" cy="1556" rx="12.1" ry="6.1" fill="#527458"/><ellipse cx="1551.4" cy="1596.6" rx="10.3" ry="5.2" fill="#7a9478"/><ellipse cx="1542.3" cy="1600.7" rx="11.7" ry="5.9" fill="#6c8a70"/><ellipse cx="1577.4" cy="1599.1" rx="17.9" ry="8.9" fill="#6c8a70"/><ellipse cx="1572.7" cy="1568.4" rx="17.3" ry="8.6" fill="#527458"/><ellipse cx="1597.2" cy="1553.7" rx="12.2" ry="6.1" fill="#527458"/><ellipse cx="1620.3" cy="1609.7" rx="10.9" ry="5.4" fill="#7a9478"/><ellipse cx="1574.6" cy="1589.2" rx="13" ry="6.5" fill="#527458"/><ellipse cx="1617.7" cy="1556.8" rx="8.3" ry="4.1" fill="#527458"/><ellipse cx="1618.3" cy="1587.9" rx="10.8" ry="5.4" fill="#6c8a70"/><ellipse cx="1590.8" cy="1576.5" rx="11.6" ry="5.8" fill="#527458"/><ellipse cx="1523.4" cy="1596.8" rx="10.3" ry="5.1" fill="#5f7f66"/><ellipse cx="1589.2" cy="1591.4" rx="12.4" ry="6.2" fill="#7a9478"/><ellipse cx="1527" cy="1556.6" rx="13" ry="6.5" fill="#7a9478"/><ellipse cx="1562.1" cy="1609.6" rx="8.3" ry="4.1" fill="#6c8a70"/><ellipse cx="1595.4" cy="1569.4" rx="13.3" ry="6.7" fill="#7a9478"/><ellipse cx="1627.7" cy="1561.7" rx="10" ry="5" fill="#6c8a70"/><ellipse cx="1548.5" cy="1566.1" rx="13.6" ry="6.8" fill="#7a9478"/><ellipse cx="1520.4" cy="1586.7" rx="17.2" ry="8.6" fill="#5f7f66"/><ellipse cx="1588.8" cy="1587.6" rx="17" ry="8.5" fill="#527458"/></g>
<g opacity="0.45" filter="url(#b2)"><ellipse cx="1715.7" cy="1558.8" rx="6.5" ry="3.2" fill="#6c8a70"/><ellipse cx="1739.5" cy="1595.5" rx="15.4" ry="7.7" fill="#6c8a70"/><ellipse cx="1709.9" cy="1591.4" rx="10.9" ry="5.5" fill="#527458"/><ellipse cx="1721.5" cy="1570.3" rx="13.4" ry="6.7" fill="#7a9478"/><ellipse cx="1714.2" cy="1568" rx="9.4" ry="4.7" fill="#6c8a70"/><ellipse cx="1751.7" cy="1598.7" rx="14.6" ry="7.3" fill="#5f7f66"/><ellipse cx="1746.2" cy="1608.1" rx="9.2" ry="4.6" fill="#7a9478"/><ellipse cx="1729.4" cy="1595.1" rx="6.7" ry="3.3" fill="#7a9478"/><ellipse cx="1749.1" cy="1555.6" rx="8.7" ry="4.4" fill="#7a9478"/><ellipse cx="1715.1" cy="1592.2" rx="9.8" ry="4.9" fill="#527458"/><ellipse cx="1711.3" cy="1606.2" rx="8.2" ry="4.1" fill="#6c8a70"/><ellipse cx="1732.4" cy="1578.8" rx="13" ry="6.5" fill="#527458"/><ellipse cx="1745.3" cy="1560.1" rx="9.9" ry="4.9" fill="#527458"/><ellipse cx="1713.9" cy="1563.9" rx="6.4" ry="3.2" fill="#6c8a70"/></g>
<g opacity="0.4" filter="url(#b2)"><ellipse cx="1824.4" cy="1601.7" rx="8.7" ry="4.3" fill="#7a9478"/><ellipse cx="1833.7" cy="1614.6" rx="7.6" ry="3.8" fill="#6c8a70"/><ellipse cx="1859.1" cy="1596.9" rx="6.7" ry="3.4" fill="#527458"/><ellipse cx="1831.3" cy="1610.2" rx="13.9" ry="6.9" fill="#7a9478"/><ellipse cx="1829.3" cy="1594" rx="11.4" ry="5.7" fill="#7a9478"/><ellipse cx="1816.9" cy="1595.3" rx="10.4" ry="5.2" fill="#527458"/><ellipse cx="1821" cy="1615.9" rx="10.2" ry="5.1" fill="#6c8a70"/><ellipse cx="1880" cy="1605.5" rx="12.9" ry="6.4" fill="#527458"/><ellipse cx="1865.9" cy="1597.8" rx="8" ry="4" fill="#5f7f66"/><ellipse cx="1846.9" cy="1621.5" rx="14.6" ry="7.3" fill="#7a9478"/><ellipse cx="1812.9" cy="1603.4" rx="6.5" ry="3.2" fill="#6c8a70"/><ellipse cx="1824.9" cy="1605.8" rx="9.3" ry="4.7" fill="#5f7f66"/></g>
<g opacity="0.8" filter="url(#b1)"><ellipse cx="1307.1" cy="1600.8" rx="8.8" ry="7" fill="#5f9a3c"/><ellipse cx="1275.4" cy="1574.8" rx="13.5" ry="10.8" fill="#5f9a3c"/><ellipse cx="1261.2" cy="1598.7" rx="7.6" ry="6.1" fill="#4c8834"/><ellipse cx="1356.1" cy="1603.9" rx="6.6" ry="5.3" fill="#78ac4c"/><ellipse cx="1338.4" cy="1603" rx="6.8" ry="5.5" fill="#78ac4c"/><ellipse cx="1287.4" cy="1642.3" rx="14.5" ry="11.6" fill="#3f7a30"/><ellipse cx="1315.7" cy="1642.5" rx="6.7" ry="5.4" fill="#5f9a3c"/><ellipse cx="1351.6" cy="1613.4" rx="12.7" ry="10.1" fill="#78ac4c"/><ellipse cx="1295.3" cy="1628.9" rx="9.2" ry="7.4" fill="#3f7a30"/><ellipse cx="1261.8" cy="1589.5" rx="15.4" ry="12.3" fill="#5f9a3c"/><ellipse cx="1334.5" cy="1593.5" rx="8.6" ry="6.9" fill="#3f7a30"/><ellipse cx="1299.2" cy="1632.5" rx="14.1" ry="11.3" fill="#5f9a3c"/><ellipse cx="1350.8" cy="1609.2" rx="14.2" ry="11.4" fill="#3f7a30"/><ellipse cx="1284.9" cy="1640.2" rx="6.5" ry="5.2" fill="#4c8834"/><ellipse cx="1282.6" cy="1602.4" rx="9.8" ry="7.8" fill="#78ac4c"/><ellipse cx="1338.7" cy="1600.7" rx="12.3" ry="9.9" fill="#78ac4c"/><ellipse cx="1290.8" cy="1579.1" rx="12.5" ry="10" fill="#5f9a3c"/><ellipse cx="1286.2" cy="1589.8" rx="8" ry="6.4" fill="#5f9a3c"/><ellipse cx="1332.2" cy="1613.9" rx="12.7" ry="10.2" fill="#4c8834"/><ellipse cx="1294.2" cy="1585.6" rx="9.8" ry="7.9" fill="#4c8834"/><ellipse cx="1302.2" cy="1575" rx="11.1" ry="8.8" fill="#3f7a30"/><ellipse cx="1269.9" cy="1643.2" rx="14.2" ry="11.4" fill="#4c8834"/><ellipse cx="1262.8" cy="1587" rx="6.9" ry="5.5" fill="#5f9a3c"/><ellipse cx="1316.4" cy="1597.6" rx="10.8" ry="8.6" fill="#4c8834"/><ellipse cx="1308.8" cy="1630.9" rx="14.7" ry="11.8" fill="#78ac4c"/><ellipse cx="1267.5" cy="1602.6" rx="15" ry="12" fill="#4c8834"/><ellipse cx="1335.5" cy="1612.4" rx="6.4" ry="5.1" fill="#3f7a30"/><ellipse cx="1348.3" cy="1578.3" rx="12.1" ry="9.7" fill="#78ac4c"/><ellipse cx="1346.1" cy="1636.4" rx="12.2" ry="9.8" fill="#5f9a3c"/><ellipse cx="1272.5" cy="1627.8" rx="13.3" ry="10.7" fill="#3f7a30"/><ellipse cx="1324.7" cy="1604.7" rx="9.9" ry="7.9" fill="#4c8834"/><ellipse cx="1296.9" cy="1613.5" rx="6.7" ry="5.4" fill="#5f9a3c"/><ellipse cx="1311.6" cy="1607" rx="9" ry="7.2" fill="#5f9a3c"/><ellipse cx="1317.9" cy="1641.8" rx="7.7" ry="6.2" fill="#3f7a30"/></g>
<g opacity="0.55" filter="url(#b1)"><ellipse cx="1369.3" cy="1650.1" rx="8.6" ry="7.8" fill="#6a9a50"/><ellipse cx="1424" cy="1677.9" rx="7.3" ry="6.5" fill="#6a9a50"/><ellipse cx="1426.2" cy="1674.4" rx="5.4" ry="4.9" fill="#6a9a50"/><ellipse cx="1437.9" cy="1665" rx="10.6" ry="9.6" fill="#6a9a50"/><ellipse cx="1432.2" cy="1659.8" rx="11" ry="9.9" fill="#6a9a50"/><ellipse cx="1350.1" cy="1641.9" rx="6.9" ry="6.2" fill="#5a8a48"/><ellipse cx="1433.5" cy="1657.6" rx="8.1" ry="7.3" fill="#88b060"/><ellipse cx="1351.6" cy="1651" rx="8.8" ry="7.9" fill="#6a9a50"/><ellipse cx="1339.8" cy="1657.1" rx="9.5" ry="8.5" fill="#6a9a50"/><ellipse cx="1335.1" cy="1659.2" rx="5.1" ry="4.6" fill="#5a8a48"/><ellipse cx="1455.6" cy="1642.9" rx="10.7" ry="9.6" fill="#88b060"/><ellipse cx="1349.3" cy="1653.1" rx="10.6" ry="9.5" fill="#6a9a50"/><ellipse cx="1437" cy="1644.9" rx="5.9" ry="5.3" fill="#88b060"/><ellipse cx="1329.6" cy="1666.2" rx="7.7" ry="6.9" fill="#88b060"/><ellipse cx="1335" cy="1677.8" rx="6" ry="5.4" fill="#5a8a48"/><ellipse cx="1367.8" cy="1676.6" rx="10.8" ry="9.8" fill="#5a8a48"/><ellipse cx="1414.9" cy="1656.7" rx="4.8" ry="4.3" fill="#88b060"/><ellipse cx="1419.1" cy="1672.4" rx="10.7" ry="9.6" fill="#5a8a48"/><ellipse cx="1406.1" cy="1666.7" rx="5.9" ry="5.3" fill="#6a9a50"/><ellipse cx="1348.4" cy="1662.4" rx="5" ry="4.5" fill="#88b060"/><ellipse cx="1340.9" cy="1676" rx="8.6" ry="7.7" fill="#88b060"/><ellipse cx="1366.5" cy="1640.8" rx="5.2" ry="4.6" fill="#6a9a50"/><ellipse cx="1424" cy="1654.1" rx="6.7" ry="6" fill="#88b060"/><ellipse cx="1352.2" cy="1643.2" rx="6.4" ry="5.8" fill="#88b060"/><ellipse cx="1435.2" cy="1655.9" rx="7.6" ry="6.8" fill="#5a8a48"/><ellipse cx="1341.9" cy="1644.1" rx="8" ry="7.2" fill="#88b060"/><ellipse cx="1356.9" cy="1662.4" rx="6.5" ry="5.9" fill="#88b060"/><ellipse cx="1452.9" cy="1643.4" rx="8.8" ry="7.9" fill="#6a9a50"/><ellipse cx="1450.4" cy="1655.1" rx="9.4" ry="8.5" fill="#5a8a48"/><ellipse cx="1354.9" cy="1664.6" rx="7" ry="6.3" fill="#88b060"/></g>
<g opacity="0.6" filter="url(#b1)"><ellipse cx="1281.3" cy="1655.4" rx="10.7" ry="10.7" fill="#78ac4c"/><ellipse cx="1300.5" cy="1637.8" rx="8.6" ry="8.6" fill="#5f9a3c"/><ellipse cx="1287.9" cy="1642.7" rx="10.4" ry="10.4" fill="#78ac4c"/><ellipse cx="1286.7" cy="1648.7" rx="5.4" ry="5.4" fill="#5f9a3c"/><ellipse cx="1294.6" cy="1641.4" rx="10.4" ry="10.4" fill="#5f9a3c"/><ellipse cx="1306.9" cy="1638" rx="4.9" ry="4.9" fill="#78ac4c"/><ellipse cx="1317" cy="1670.7" rx="10.2" ry="10.2" fill="#4c8834"/><ellipse cx="1290.8" cy="1652.1" rx="7.7" ry="7.7" fill="#78ac4c"/><ellipse cx="1291.3" cy="1664" rx="5.1" ry="5.1" fill="#4c8834"/><ellipse cx="1316.3" cy="1678" rx="7.2" ry="7.2" fill="#4c8834"/></g>
<rect x="1163.4" y="1510.7" width="718.4" height="185" fill="#34443a" opacity="0.16"/>
<path d="M1313.6 1509.7L1322.2 1509.7L1323.8 1583.8L1323 1646.8L1319.1 1701.9L1305.7 1701.9L1308.1 1646.8L1311.2 1583.8Z" fill="#857d74"/>
<path d="M1316.7 1509.7L1322.2 1509.7L1323.8 1583.8L1323 1646.8L1319.1 1701.9L1315.2 1701.9Z" fill="#6e675f" opacity="0.6"/>
<path d="M1520.7 1509.7L1530 1509.7L1530 1686.1L1506.5 1686.1L1514.4 1599.5Z" fill="#857d74"/>
<path d="M1616.1 1509.7L1624.7 1509.7L1624 1583.8L1616.1 1670.4L1616.1 1738.1L1598.8 1738.1L1605.1 1654.6L1612.9 1583.8Z" fill="#8a837c"/>
<path d="M1620.8 1509.7L1624.7 1509.7L1624 1583.8L1616.1 1670.4L1616.1 1738.1L1609.8 1738.1Z" fill="#6f6a64" opacity="0.6"/>
<path d="M1726.3 1509.7L1735.8 1509.7L1732.6 1583.8L1729.5 1646.8L1724.8 1690.9L1711.4 1690.9L1716.9 1646.8L1723.2 1583.8Z" fill="#8a837c"/>
<path d="M1731.1 1509.7L1735.8 1509.7L1732.6 1583.8L1729.5 1646.8L1724.8 1690.9L1720 1690.9Z" fill="#6f6a64" opacity="0.6"/>
<path d="M1520 1509.7L1525.5 1509.7L1523.2 1615.3L1520 1631Z" fill="#7d766e"/>
<path d="M1323.8 1662.5L1327 1694" stroke="#d8d0c0" stroke-width="3" fill="none" opacity="0.8"/>
<path d="M1336.4 1662.5L1341.1 1694" stroke="#d8d0c0" stroke-width="2.5" fill="none" opacity="0.8"/>
<path d="M1330.1 1665.7L1333.3 1694" stroke="#d8d0c0" stroke-width="2" fill="none" opacity="0.8"/>
<rect x="1163.2" y="1694.8" width="366.9" height="46.5" fill="#5c9640"/>
<rect x="1520" y="1694" width="361.5" height="58" fill="#4f8c38"/>
<rect x="1661.8" y="1728.2" width="219.7" height="86.6" fill="#4f8c38"/>
<g opacity="0.95" filter="url(#b1)"><ellipse cx="1184.2" cy="1727.8" rx="14.2" ry="14.2" fill="#7fc040"/><ellipse cx="1194.6" cy="1726.2" rx="12.5" ry="12.5" fill="#7fc040"/><ellipse cx="1180.2" cy="1723.7" rx="10.2" ry="10.2" fill="#7fc040"/><ellipse cx="1180.2" cy="1706.8" rx="12.6" ry="12.6" fill="#7fc040"/><ellipse cx="1169.7" cy="1726" rx="11.2" ry="11.2" fill="#94d050"/><ellipse cx="1191.8" cy="1726.5" rx="13.9" ry="13.9" fill="#6cb034"/><ellipse cx="1187.9" cy="1707.6" rx="10" ry="10" fill="#7fc040"/><ellipse cx="1175.8" cy="1716.2" rx="12.9" ry="12.9" fill="#7fc040"/><ellipse cx="1168" cy="1717.8" rx="10.7" ry="10.7" fill="#7fc040"/><ellipse cx="1188" cy="1706.7" rx="14.2" ry="14.2" fill="#94d050"/></g>
<g opacity="0.85" filter="url(#b1)"><ellipse cx="1219.6" cy="1716.4" rx="4.6" ry="4.6" fill="#d0d6c0"/><ellipse cx="1243.3" cy="1709.1" rx="5.6" ry="5.6" fill="#b8c4a0"/><ellipse cx="1227.1" cy="1712.1" rx="4.2" ry="4.2" fill="#b8c4a0"/><ellipse cx="1248.2" cy="1705.1" rx="4.4" ry="4.4" fill="#b8c4a0"/><ellipse cx="1264.2" cy="1703.3" rx="8" ry="8" fill="#b8c4a0"/><ellipse cx="1220.8" cy="1716.3" rx="4.8" ry="4.8" fill="#d0d6c0"/><ellipse cx="1237.4" cy="1700.6" rx="4.7" ry="4.7" fill="#d0d6c0"/><ellipse cx="1257.1" cy="1720.5" rx="4.7" ry="4.7" fill="#d0d6c0"/><ellipse cx="1236.9" cy="1714.3" rx="8.2" ry="8.2" fill="#d0d6c0"/><ellipse cx="1235.9" cy="1708.8" rx="5" ry="5" fill="#d0d6c0"/><ellipse cx="1252.3" cy="1712.2" rx="8.2" ry="8.2" fill="#b8c4a0"/><ellipse cx="1252.2" cy="1725.5" rx="8.4" ry="8.4" fill="#d0d6c0"/><ellipse cx="1236.2" cy="1708.8" rx="7.4" ry="7.4" fill="#e4e6da"/><ellipse cx="1225.5" cy="1702.7" rx="7.7" ry="7.7" fill="#9aa88a"/><ellipse cx="1234" cy="1712.5" rx="6.1" ry="6.1" fill="#d0d6c0"/><ellipse cx="1231.1" cy="1715.4" rx="4.7" ry="4.7" fill="#9aa88a"/><ellipse cx="1245.6" cy="1711.7" rx="5" ry="5" fill="#d0d6c0"/><ellipse cx="1255.8" cy="1701.2" rx="5.6" ry="5.6" fill="#b8c4a0"/><ellipse cx="1243.9" cy="1715.3" rx="7.4" ry="7.4" fill="#e4e6da"/><ellipse cx="1237" cy="1727.7" rx="4" ry="4" fill="#e4e6da"/><ellipse cx="1271" cy="1710.7" rx="6.8" ry="6.8" fill="#e4e6da"/><ellipse cx="1263.6" cy="1706.3" rx="7.5" ry="7.5" fill="#d0d6c0"/><ellipse cx="1231.3" cy="1714.4" rx="6.4" ry="6.4" fill="#e4e6da"/><ellipse cx="1215.2" cy="1703" rx="5.1" ry="5.1" fill="#e4e6da"/></g>
<g opacity="0.7" filter="url(#b1)"><ellipse cx="1219.5" cy="1727.6" rx="5.7" ry="5.7" fill="#8670a8"/><ellipse cx="1205.4" cy="1715.2" rx="5.8" ry="5.8" fill="#9a84b8"/><ellipse cx="1205.2" cy="1714" rx="4.1" ry="4.1" fill="#9a84b8"/><ellipse cx="1202.5" cy="1725.3" rx="6.3" ry="6.3" fill="#8670a8"/><ellipse cx="1193.5" cy="1724.2" rx="3.3" ry="3.3" fill="#9a84b8"/><ellipse cx="1210.6" cy="1727.3" rx="5.7" ry="5.7" fill="#9a84b8"/><ellipse cx="1212.9" cy="1722.7" rx="4" ry="4" fill="#9a84b8"/><ellipse cx="1220.1" cy="1718.8" rx="4.5" ry="4.5" fill="#9a84b8"/></g>
<g opacity="0.85" filter="url(#b1)"><ellipse cx="1219.8" cy="1726.6" rx="8" ry="8" fill="#5a8a3c"/><ellipse cx="1244" cy="1731.2" rx="6.8" ry="6.8" fill="#5a8a3c"/><ellipse cx="1251.9" cy="1736.8" rx="8.2" ry="8.2" fill="#5a8a3c"/><ellipse cx="1312.4" cy="1730" rx="8.7" ry="8.7" fill="#6a9a48"/><ellipse cx="1212.8" cy="1727" rx="6.2" ry="6.2" fill="#6a9a48"/><ellipse cx="1265.6" cy="1737.1" rx="5.7" ry="5.7" fill="#4a7a34"/><ellipse cx="1237.7" cy="1727.3" rx="9.2" ry="9.2" fill="#5a8a3c"/><ellipse cx="1302.6" cy="1731.5" rx="4.9" ry="4.9" fill="#4a7a34"/><ellipse cx="1309.3" cy="1728" rx="8" ry="8" fill="#4a7a34"/><ellipse cx="1257.7" cy="1734.2" rx="6.6" ry="6.6" fill="#4a7a34"/><ellipse cx="1211.8" cy="1734.9" rx="5.5" ry="5.5" fill="#6a9a48"/><ellipse cx="1237.7" cy="1725.7" rx="8.6" ry="8.6" fill="#6a9a48"/><ellipse cx="1240.7" cy="1733" rx="7.2" ry="7.2" fill="#4a7a34"/><ellipse cx="1252.9" cy="1732.9" rx="6.9" ry="6.9" fill="#6a9a48"/><ellipse cx="1216.8" cy="1734.4" rx="6.6" ry="6.6" fill="#5a8a3c"/><ellipse cx="1281.8" cy="1728.5" rx="6" ry="6" fill="#6a9a48"/><ellipse cx="1247.9" cy="1726.1" rx="9.1" ry="9.1" fill="#4a7a34"/><ellipse cx="1244" cy="1734.5" rx="6.8" ry="6.8" fill="#6a9a48"/></g>
<g opacity="0.9" filter="url(#b1)"><ellipse cx="1272.9" cy="1705" rx="8.1" ry="8.1" fill="#68a430"/><ellipse cx="1288.9" cy="1715.6" rx="7" ry="7" fill="#68a430"/><ellipse cx="1274.5" cy="1709.4" rx="10.9" ry="10.9" fill="#78b438"/><ellipse cx="1310.9" cy="1710.9" rx="6.5" ry="6.5" fill="#8cc448"/><ellipse cx="1283.9" cy="1704" rx="11.5" ry="11.5" fill="#8cc448"/><ellipse cx="1303.3" cy="1702.1" rx="10.5" ry="10.5" fill="#78b438"/><ellipse cx="1310.6" cy="1728.6" rx="10.2" ry="10.2" fill="#8cc448"/><ellipse cx="1275.2" cy="1725.2" rx="9.2" ry="9.2" fill="#8cc448"/><ellipse cx="1298.5" cy="1711.4" rx="11.5" ry="11.5" fill="#68a430"/><ellipse cx="1303.3" cy="1719.8" rx="10.7" ry="10.7" fill="#8cc448"/><ellipse cx="1274.8" cy="1711.1" rx="6.6" ry="6.6" fill="#8cc448"/><ellipse cx="1297.6" cy="1708.7" rx="9" ry="9" fill="#8cc448"/><ellipse cx="1290.1" cy="1708.2" rx="7.3" ry="7.3" fill="#8cc448"/><ellipse cx="1308.9" cy="1704" rx="8" ry="8" fill="#68a430"/></g>
<g opacity="0.9" filter="url(#b1)"><ellipse cx="1379.4" cy="1724.2" rx="7.3" ry="7.3" fill="#b4e484"/><ellipse cx="1356.2" cy="1725.4" rx="9.1" ry="9.1" fill="#7cc850"/><ellipse cx="1339.7" cy="1719.9" rx="8.4" ry="8.4" fill="#b4e484"/><ellipse cx="1352.4" cy="1726" rx="6.4" ry="6.4" fill="#b4e484"/><ellipse cx="1385.9" cy="1721.7" rx="7.4" ry="7.4" fill="#7cc850"/><ellipse cx="1381.7" cy="1711.6" rx="7.3" ry="7.3" fill="#9ad864"/><ellipse cx="1339.4" cy="1709.8" rx="9.1" ry="9.1" fill="#9ad864"/><ellipse cx="1331.7" cy="1718.5" rx="6.4" ry="6.4" fill="#b4e484"/><ellipse cx="1322" cy="1725.5" rx="5" ry="5" fill="#9ad864"/><ellipse cx="1347.5" cy="1713.1" rx="9" ry="9" fill="#9ad864"/><ellipse cx="1349.2" cy="1725.8" rx="5.1" ry="5.1" fill="#7cc850"/><ellipse cx="1361.9" cy="1731.6" rx="8.9" ry="8.9" fill="#9ad864"/><ellipse cx="1347.7" cy="1721.2" rx="5.1" ry="5.1" fill="#c8ecA0"/><ellipse cx="1319.7" cy="1732" rx="9" ry="9" fill="#9ad864"/><ellipse cx="1327.3" cy="1716.9" rx="6.3" ry="6.3" fill="#7cc850"/><ellipse cx="1385.5" cy="1732.8" rx="9.2" ry="9.2" fill="#b4e484"/><ellipse cx="1379.7" cy="1731.9" rx="4.8" ry="4.8" fill="#c8ecA0"/><ellipse cx="1375.2" cy="1733.3" rx="7.4" ry="7.4" fill="#7cc850"/><ellipse cx="1385.1" cy="1711.8" rx="7.2" ry="7.2" fill="#9ad864"/><ellipse cx="1325.4" cy="1716.8" rx="6.1" ry="6.1" fill="#9ad864"/></g>
<g opacity="0.8" filter="url(#b1)"><ellipse cx="1382.7" cy="1699" rx="4.7" ry="4.7" fill="#8a80b0"/><ellipse cx="1389.7" cy="1704.5" rx="6.9" ry="6.9" fill="#c8cec0"/><ellipse cx="1355.4" cy="1698" rx="7.1" ry="7.1" fill="#a8b4a0"/><ellipse cx="1410.5" cy="1702.3" rx="5.3" ry="5.3" fill="#a8b4a0"/><ellipse cx="1381.3" cy="1708.5" rx="4.9" ry="4.9" fill="#c8cec0"/><ellipse cx="1394.1" cy="1703.8" rx="5.3" ry="5.3" fill="#8a80b0"/><ellipse cx="1378.6" cy="1705.4" rx="7.6" ry="7.6" fill="#a8b4a0"/><ellipse cx="1366.9" cy="1699.1" rx="4.9" ry="4.9" fill="#a8b4a0"/><ellipse cx="1369.9" cy="1708.7" rx="4.7" ry="4.7" fill="#8a80b0"/><ellipse cx="1398.6" cy="1700.4" rx="6" ry="6" fill="#a8b4a0"/><ellipse cx="1393.3" cy="1697.4" rx="5.2" ry="5.2" fill="#c8cec0"/><ellipse cx="1375.3" cy="1701.3" rx="6.8" ry="6.8" fill="#8a80b0"/></g>
<ellipse cx="1412" cy="1720.8" rx="19.7" ry="14.2" fill="#b2b840"/>
<g opacity="0.85" filter="url(#b1)"><ellipse cx="1397.4" cy="1715.2" rx="3.5" ry="3.5" fill="#d0d468"/><ellipse cx="1421.5" cy="1715.2" rx="4" ry="4" fill="#9aa434"/><ellipse cx="1414.7" cy="1712.8" rx="5.8" ry="5.8" fill="#c4c850"/><ellipse cx="1426.4" cy="1731.6" rx="4.7" ry="4.7" fill="#c4c850"/><ellipse cx="1410.1" cy="1724.6" rx="4.1" ry="4.1" fill="#c4c850"/><ellipse cx="1408.8" cy="1716.1" rx="5.5" ry="5.5" fill="#d0d468"/><ellipse cx="1398.5" cy="1731.3" rx="6.7" ry="6.7" fill="#c4c850"/><ellipse cx="1412.8" cy="1718.2" rx="3.4" ry="3.4" fill="#c4c850"/><ellipse cx="1401" cy="1714.3" rx="6.6" ry="6.6" fill="#c4c850"/><ellipse cx="1427.1" cy="1717.3" rx="6.8" ry="6.8" fill="#c4c850"/><ellipse cx="1422.9" cy="1716.8" rx="3.3" ry="3.3" fill="#c4c850"/><ellipse cx="1400.8" cy="1724.7" rx="6.6" ry="6.6" fill="#d0d468"/><ellipse cx="1425.6" cy="1724.5" rx="4.6" ry="4.6" fill="#d0d468"/><ellipse cx="1400.2" cy="1715.8" rx="6.8" ry="6.8" fill="#c4c850"/></g>
<g opacity="0.9" filter="url(#b1)"><ellipse cx="1458.6" cy="1717.3" rx="10.6" ry="10.6" fill="#4c7c3a"/><ellipse cx="1430.9" cy="1701.1" rx="7.1" ry="7.1" fill="#5a8a44"/><ellipse cx="1439.7" cy="1720" rx="9.1" ry="9.1" fill="#5a8a44"/><ellipse cx="1429" cy="1698.4" rx="10.4" ry="10.4" fill="#4c7c3a"/><ellipse cx="1421.5" cy="1704.9" rx="11.1" ry="11.1" fill="#5a8a44"/><ellipse cx="1439" cy="1700.4" rx="8.4" ry="8.4" fill="#5a8a44"/><ellipse cx="1422.6" cy="1710.1" rx="11.9" ry="11.9" fill="#5a8a44"/><ellipse cx="1437.2" cy="1713.6" rx="11.6" ry="11.6" fill="#3f6e32"/><ellipse cx="1419.9" cy="1700" rx="9.3" ry="9.3" fill="#5a8a44"/><ellipse cx="1419.3" cy="1718.4" rx="8.8" ry="8.8" fill="#4c7c3a"/><ellipse cx="1429.9" cy="1697" rx="8.8" ry="8.8" fill="#4c7c3a"/><ellipse cx="1457.7" cy="1696.3" rx="9" ry="9" fill="#3f6e32"/><ellipse cx="1443.4" cy="1697.5" rx="6.5" ry="6.5" fill="#3f6e32"/><ellipse cx="1418.9" cy="1704.7" rx="6.6" ry="6.6" fill="#3f6e32"/></g>
<g opacity="0.9" filter="url(#b1)"><ellipse cx="1490.3" cy="1703.5" rx="10.6" ry="10.6" fill="#3a6a30"/><ellipse cx="1477.9" cy="1697.3" rx="8.5" ry="8.5" fill="#3a6a30"/><ellipse cx="1467.2" cy="1704.1" rx="7.9" ry="7.9" fill="#3a6a30"/><ellipse cx="1456.4" cy="1712.9" rx="11.7" ry="11.7" fill="#2f5a2a"/><ellipse cx="1469.3" cy="1703.4" rx="12.1" ry="12.1" fill="#2f5a2a"/><ellipse cx="1495" cy="1697.2" rx="9.8" ry="9.8" fill="#3a6a30"/><ellipse cx="1452.2" cy="1713.2" rx="8.1" ry="8.1" fill="#2f5a2a"/><ellipse cx="1478.5" cy="1689.4" rx="9.3" ry="9.3" fill="#2f5a2a"/><ellipse cx="1470.9" cy="1712.5" rx="9.5" ry="9.5" fill="#3a6a30"/><ellipse cx="1481.3" cy="1706" rx="8.8" ry="8.8" fill="#3a6a30"/><ellipse cx="1475.2" cy="1705.2" rx="9.2" ry="9.2" fill="#2f5a2a"/><ellipse cx="1461.1" cy="1705.4" rx="6.7" ry="6.7" fill="#2f5a2a"/></g>
<g opacity="0.8" filter="url(#b1)"><ellipse cx="1527.4" cy="1726.8" rx="5.7" ry="5.7" fill="#c0c4cc"/><ellipse cx="1467.8" cy="1723.2" rx="6.2" ry="6.2" fill="#a8aab8"/><ellipse cx="1512.5" cy="1726.4" rx="7.5" ry="7.5" fill="#d8d8dc"/><ellipse cx="1452.4" cy="1727.9" rx="4.2" ry="4.2" fill="#c0c4cc"/><ellipse cx="1485.9" cy="1730" rx="5.1" ry="5.1" fill="#d8d8dc"/><ellipse cx="1487" cy="1727.8" rx="4.7" ry="4.7" fill="#c0c4cc"/><ellipse cx="1503.2" cy="1729.4" rx="5.1" ry="5.1" fill="#d8d8dc"/><ellipse cx="1522.8" cy="1733.2" rx="7.1" ry="7.1" fill="#d8d8dc"/><ellipse cx="1467.2" cy="1727.1" rx="7.4" ry="7.4" fill="#c0c4cc"/><ellipse cx="1514" cy="1727.1" rx="4.9" ry="4.9" fill="#c0c4cc"/><ellipse cx="1526.2" cy="1732.7" rx="5.8" ry="5.8" fill="#d8d8dc"/><ellipse cx="1496.3" cy="1736.7" rx="7.6" ry="7.6" fill="#d8d8dc"/><ellipse cx="1518.4" cy="1737.7" rx="4.6" ry="4.6" fill="#a8aab8"/><ellipse cx="1528.5" cy="1736.1" rx="5.2" ry="5.2" fill="#c0c4cc"/></g>
<rect x="1164.7" y="1733.7" width="37.8" height="9.5" fill="#8ad83a"/>
<rect x="1241.9" y="1733.7" width="22.1" height="9.5" fill="#8ad83a"/>
<rect x="1293.9" y="1733.7" width="23.6" height="9.5" fill="#8ad83a"/>
<g opacity="0.9" filter="url(#b1)"><ellipse cx="1568.1" cy="1726.4" rx="5.2" ry="5.2" fill="#5a8a5a"/><ellipse cx="1571.1" cy="1725.4" rx="7.1" ry="7.1" fill="#d8c8d8"/><ellipse cx="1588.3" cy="1726.1" rx="7.6" ry="7.6" fill="#c8c8d4"/><ellipse cx="1564.8" cy="1732.5" rx="7" ry="7" fill="#d8c8d8"/><ellipse cx="1537.7" cy="1724" rx="4.1" ry="4.1" fill="#b0b4c4"/><ellipse cx="1559.4" cy="1733.8" rx="5" ry="5" fill="#5a8a5a"/><ellipse cx="1581.1" cy="1723.4" rx="6.4" ry="6.4" fill="#7fa890"/><ellipse cx="1556.8" cy="1723.3" rx="4.1" ry="4.1" fill="#7fa890"/><ellipse cx="1574" cy="1732.4" rx="5.5" ry="5.5" fill="#c8c8d4"/><ellipse cx="1591.8" cy="1708.8" rx="8.4" ry="8.4" fill="#5a8a5a"/><ellipse cx="1543.9" cy="1715.1" rx="4.2" ry="4.2" fill="#c8c8d4"/><ellipse cx="1542" cy="1717.2" rx="6.2" ry="6.2" fill="#c8c8d4"/><ellipse cx="1527.6" cy="1723.8" rx="4.2" ry="4.2" fill="#5a8a5a"/><ellipse cx="1539.7" cy="1705.5" rx="6.7" ry="6.7" fill="#b0b4c4"/><ellipse cx="1554.2" cy="1712.7" rx="5.5" ry="5.5" fill="#7fa890"/><ellipse cx="1543.3" cy="1729.4" rx="8" ry="8" fill="#5a8a5a"/><ellipse cx="1552.6" cy="1713" rx="5.1" ry="5.1" fill="#d8c8d8"/><ellipse cx="1592.2" cy="1701.1" rx="6" ry="6" fill="#d8c8d8"/><ellipse cx="1574" cy="1725.9" rx="6.6" ry="6.6" fill="#5a8a5a"/><ellipse cx="1591.1" cy="1707.4" rx="6.5" ry="6.5" fill="#c8c8d4"/><ellipse cx="1561.6" cy="1705.1" rx="7.6" ry="7.6" fill="#c8c8d4"/><ellipse cx="1568.5" cy="1704.9" rx="8.5" ry="8.5" fill="#5a8a5a"/><ellipse cx="1577.2" cy="1709.8" rx="7.6" ry="7.6" fill="#c8c8d4"/><ellipse cx="1575.6" cy="1714.8" rx="6" ry="6" fill="#c8c8d4"/></g>
<g opacity="0.9" filter="url(#b1)"><ellipse cx="1659.5" cy="1721.8" rx="4.9" ry="4.9" fill="#d0c0d0"/><ellipse cx="1640.5" cy="1718.8" rx="5.8" ry="5.8" fill="#e0d4e0"/><ellipse cx="1635.2" cy="1720.8" rx="5.6" ry="5.6" fill="#e0d4e0"/><ellipse cx="1651.6" cy="1722.6" rx="7.1" ry="7.1" fill="#d0c0d0"/><ellipse cx="1646.7" cy="1728.5" rx="4.1" ry="4.1" fill="#e0d4e0"/><ellipse cx="1641.2" cy="1722.6" rx="6.2" ry="6.2" fill="#b8a8c0"/><ellipse cx="1615.3" cy="1719.9" rx="5.5" ry="5.5" fill="#b8a8c0"/><ellipse cx="1643.8" cy="1722" rx="4.9" ry="4.9" fill="#e0d4e0"/><ellipse cx="1637.5" cy="1728" rx="5.2" ry="5.2" fill="#e0d4e0"/><ellipse cx="1620.2" cy="1723.5" rx="4.8" ry="4.8" fill="#e0d4e0"/></g>
<g opacity="0.85" filter="url(#b1)"><ellipse cx="1709.9" cy="1710.8" rx="5.5" ry="5.5" fill="#8c8cc8"/><ellipse cx="1686.1" cy="1718" rx="6.7" ry="6.7" fill="#6a8a70"/><ellipse cx="1681.3" cy="1715.5" rx="4.7" ry="4.7" fill="#6a8a70"/><ellipse cx="1691.6" cy="1714.8" rx="5.6" ry="5.6" fill="#c0b8e0"/><ellipse cx="1720.6" cy="1704.7" rx="6.8" ry="6.8" fill="#6a8a70"/><ellipse cx="1724.1" cy="1715.8" rx="5.9" ry="5.9" fill="#6a8a70"/><ellipse cx="1745.5" cy="1704.4" rx="4.8" ry="4.8" fill="#8c8cc8"/><ellipse cx="1730.2" cy="1721" rx="6.5" ry="6.5" fill="#6a8a70"/><ellipse cx="1702.9" cy="1715.4" rx="4.8" ry="4.8" fill="#a8a0d0"/><ellipse cx="1712.7" cy="1721.5" rx="5.3" ry="5.3" fill="#6a8a70"/><ellipse cx="1663.3" cy="1710.9" rx="7" ry="7" fill="#c0b8e0"/><ellipse cx="1670.3" cy="1710.2" rx="7.3" ry="7.3" fill="#c0b8e0"/><ellipse cx="1755.7" cy="1706.7" rx="7.5" ry="7.5" fill="#a8a0d0"/><ellipse cx="1708.8" cy="1704" rx="4.8" ry="4.8" fill="#6a8a70"/><ellipse cx="1668.1" cy="1721.5" rx="6.7" ry="6.7" fill="#c0b8e0"/><ellipse cx="1732.3" cy="1713.9" rx="4.9" ry="4.9" fill="#6a8a70"/><ellipse cx="1713.2" cy="1721.7" rx="4.5" ry="4.5" fill="#c0b8e0"/><ellipse cx="1738.3" cy="1712.6" rx="4" ry="4" fill="#c0b8e0"/></g>
<g opacity="0.95" filter="url(#b1)"><ellipse cx="1741.9" cy="1732" rx="6.4" ry="6.4" fill="#4c9a3c"/><ellipse cx="1755.3" cy="1732" rx="8.2" ry="8.2" fill="#2f7a2c"/><ellipse cx="1749.4" cy="1723.9" rx="5.8" ry="5.8" fill="#2f7a2c"/><ellipse cx="1742" cy="1742.2" rx="8.7" ry="8.7" fill="#2f7a2c"/><ellipse cx="1733.1" cy="1737.4" rx="5.9" ry="5.9" fill="#2f7a2c"/><ellipse cx="1742.8" cy="1725.4" rx="7.5" ry="7.5" fill="#3c8a34"/><ellipse cx="1734.5" cy="1727.5" rx="7.5" ry="7.5" fill="#4c9a3c"/><ellipse cx="1741.2" cy="1733" rx="7.7" ry="7.7" fill="#2f7a2c"/><ellipse cx="1722.8" cy="1728.3" rx="10.3" ry="10.3" fill="#4c9a3c"/><ellipse cx="1727.9" cy="1725.6" rx="6.2" ry="6.2" fill="#3c8a34"/><ellipse cx="1747.4" cy="1722.5" rx="6.6" ry="6.6" fill="#3c8a34"/><ellipse cx="1740" cy="1736.1" rx="5.7" ry="5.7" fill="#2f7a2c"/><ellipse cx="1758.6" cy="1726.2" rx="9.4" ry="9.4" fill="#4c9a3c"/><ellipse cx="1731.5" cy="1738.5" rx="10.5" ry="10.5" fill="#2f7a2c"/></g>
<g opacity="0.9" filter="url(#b1)"><ellipse cx="1785" cy="1728.8" rx="9.1" ry="9.1" fill="#74b034"/><ellipse cx="1767.8" cy="1739.4" rx="6.4" ry="6.4" fill="#74b034"/><ellipse cx="1765.4" cy="1741.9" rx="5.4" ry="5.4" fill="#9cd050"/><ellipse cx="1788.5" cy="1747.8" rx="5.6" ry="5.6" fill="#88c040"/><ellipse cx="1793.8" cy="1743.1" rx="5.5" ry="5.5" fill="#9cd050"/><ellipse cx="1781" cy="1735.9" rx="8.4" ry="8.4" fill="#9cd050"/><ellipse cx="1792" cy="1733.2" rx="6.4" ry="6.4" fill="#88c040"/><ellipse cx="1776.5" cy="1743" rx="8.7" ry="8.7" fill="#74b034"/><ellipse cx="1758.8" cy="1746.8" rx="7.3" ry="7.3" fill="#74b034"/><ellipse cx="1757.3" cy="1735.4" rx="7.5" ry="7.5" fill="#9cd050"/><ellipse cx="1780.8" cy="1747.2" rx="5" ry="5" fill="#88c040"/><ellipse cx="1773.4" cy="1748.3" rx="7.6" ry="7.6" fill="#74b034"/></g>
<g opacity="0.9" filter="url(#b1)"><ellipse cx="1767.2" cy="1765" rx="8" ry="8" fill="#6c8a6c"/><ellipse cx="1753.4" cy="1768.5" rx="5.8" ry="5.8" fill="#8aa088"/><ellipse cx="1772.4" cy="1755.3" rx="5.9" ry="5.9" fill="#6c8a6c"/><ellipse cx="1768.9" cy="1744.4" rx="6.4" ry="6.4" fill="#c0c4c8"/><ellipse cx="1787.3" cy="1752.4" rx="5.3" ry="5.3" fill="#8aa088"/><ellipse cx="1779.5" cy="1760.1" rx="6.2" ry="6.2" fill="#c0c4c8"/><ellipse cx="1793.6" cy="1759.7" rx="6.7" ry="6.7" fill="#c0c4c8"/><ellipse cx="1772.8" cy="1752.3" rx="6.8" ry="6.8" fill="#a8b4a4"/><ellipse cx="1767.9" cy="1753.3" rx="6.6" ry="6.6" fill="#8aa088"/><ellipse cx="1789.1" cy="1753" rx="5.6" ry="5.6" fill="#c0c4c8"/><ellipse cx="1793.6" cy="1767.4" rx="6.9" ry="6.9" fill="#c0c4c8"/><ellipse cx="1781.6" cy="1751.1" rx="7.5" ry="7.5" fill="#a8b4a4"/><ellipse cx="1754.7" cy="1751.7" rx="9.3" ry="9.3" fill="#c0c4c8"/><ellipse cx="1782.4" cy="1753.7" rx="8.8" ry="8.8" fill="#6c8a6c"/><ellipse cx="1812.4" cy="1746.3" rx="9.4" ry="9.4" fill="#8aa088"/><ellipse cx="1804.6" cy="1769.1" rx="8.1" ry="8.1" fill="#8aa088"/><ellipse cx="1778.2" cy="1775.1" rx="9" ry="9" fill="#8aa088"/><ellipse cx="1786.7" cy="1749.4" rx="6.9" ry="6.9" fill="#a8b4a4"/><ellipse cx="1792.4" cy="1750.8" rx="6.8" ry="6.8" fill="#6c8a6c"/><ellipse cx="1812.3" cy="1773" rx="7.6" ry="7.6" fill="#8aa088"/><ellipse cx="1763.8" cy="1764.6" rx="5.7" ry="5.7" fill="#8aa088"/><ellipse cx="1765.3" cy="1753.8" rx="5.6" ry="5.6" fill="#8aa088"/><ellipse cx="1811.5" cy="1749.8" rx="5.6" ry="5.6" fill="#a8b4a4"/><ellipse cx="1797.8" cy="1745.8" rx="4.9" ry="4.9" fill="#a8b4a4"/></g>
<g opacity="0.9" filter="url(#b1)"><ellipse cx="1808.1" cy="1714.4" rx="8.2" ry="8.2" fill="#3c7a30"/><ellipse cx="1800.3" cy="1721.6" rx="8.5" ry="8.5" fill="#4a8a38"/><ellipse cx="1782.8" cy="1703.8" rx="4.8" ry="4.8" fill="#4a8a38"/><ellipse cx="1812.1" cy="1707.7" rx="8.9" ry="8.9" fill="#3c7a30"/><ellipse cx="1786.5" cy="1714.7" rx="6.7" ry="6.7" fill="#4a8a38"/><ellipse cx="1778.6" cy="1707.1" rx="9.1" ry="9.1" fill="#4a8a38"/><ellipse cx="1769.3" cy="1705.2" rx="5.8" ry="5.8" fill="#3c7a30"/><ellipse cx="1815.8" cy="1715.1" rx="5.3" ry="5.3" fill="#3c7a30"/><ellipse cx="1815.8" cy="1708" rx="4.8" ry="4.8" fill="#3c7a30"/><ellipse cx="1792.1" cy="1709.3" rx="7.2" ry="7.2" fill="#4a8a38"/><ellipse cx="1772" cy="1708.8" rx="7.6" ry="7.6" fill="#3c7a30"/><ellipse cx="1786.6" cy="1720.7" rx="7.8" ry="7.8" fill="#4a8a38"/></g>
<g opacity="0.9" filter="url(#b1)"><ellipse cx="1802.1" cy="1706.4" rx="5.7" ry="5.7" fill="#e0dce8"/><ellipse cx="1813.5" cy="1710.3" rx="3.9" ry="3.9" fill="#e0dce8"/><ellipse cx="1797" cy="1715.6" rx="6.9" ry="6.9" fill="#d0c8dc"/><ellipse cx="1801.6" cy="1714.3" rx="6.5" ry="6.5" fill="#e0dce8"/><ellipse cx="1807.5" cy="1709" rx="4.6" ry="4.6" fill="#d0c8dc"/><ellipse cx="1806.7" cy="1707.3" rx="4.2" ry="4.2" fill="#e0dce8"/><ellipse cx="1796.8" cy="1706.6" rx="6.6" ry="6.6" fill="#b8b0d0"/><ellipse cx="1800.2" cy="1718.5" rx="3.7" ry="3.7" fill="#b8b0d0"/><ellipse cx="1814.6" cy="1722" rx="3.3" ry="3.3" fill="#d0c8dc"/><ellipse cx="1802.9" cy="1709.3" rx="4.9" ry="4.9" fill="#b8b0d0"/></g>
<g opacity="0.95" filter="url(#b1)"><ellipse cx="1825.5" cy="1715.2" rx="7.4" ry="7.4" fill="#2f6a2c"/><ellipse cx="1869.3" cy="1720.7" rx="8.9" ry="8.9" fill="#3a7a34"/><ellipse cx="1851.2" cy="1710.4" rx="8.7" ry="8.7" fill="#3a7a34"/><ellipse cx="1833" cy="1727.8" rx="6.5" ry="6.5" fill="#3a7a34"/><ellipse cx="1877" cy="1707.3" rx="11.3" ry="11.3" fill="#3a7a34"/><ellipse cx="1831.7" cy="1702.3" rx="10.5" ry="10.5" fill="#2f6a2c"/><ellipse cx="1838.3" cy="1717.6" rx="8.6" ry="8.6" fill="#285a26"/><ellipse cx="1819" cy="1715.6" rx="8" ry="8" fill="#3a7a34"/><ellipse cx="1831.9" cy="1719.2" rx="11.2" ry="11.2" fill="#285a26"/><ellipse cx="1862.8" cy="1715.3" rx="10.3" ry="10.3" fill="#3a7a34"/><ellipse cx="1865.1" cy="1696.1" rx="12.5" ry="12.5" fill="#285a26"/><ellipse cx="1840.5" cy="1716.8" rx="10" ry="10" fill="#285a26"/><ellipse cx="1878.6" cy="1724.5" rx="9.9" ry="9.9" fill="#3a7a34"/><ellipse cx="1881.4" cy="1722.4" rx="10.4" ry="10.4" fill="#285a26"/><ellipse cx="1821.5" cy="1706.6" rx="9.9" ry="9.9" fill="#2f6a2c"/><ellipse cx="1865.9" cy="1715.7" rx="9" ry="9" fill="#285a26"/><ellipse cx="1831" cy="1703.7" rx="10.1" ry="10.1" fill="#2f6a2c"/><ellipse cx="1830.2" cy="1716.2" rx="11.7" ry="11.7" fill="#2f6a2c"/></g>
<g opacity="0.8" filter="url(#b1)"><ellipse cx="1815.9" cy="1728.8" rx="6.7" ry="6.7" fill="#a8b840"/><ellipse cx="1829.2" cy="1726.9" rx="5.4" ry="5.4" fill="#c0c850"/><ellipse cx="1819.6" cy="1721.9" rx="3.9" ry="3.9" fill="#a8b840"/><ellipse cx="1833.2" cy="1734" rx="5.8" ry="5.8" fill="#c0c850"/><ellipse cx="1833.7" cy="1723.1" rx="6.8" ry="6.8" fill="#a8b840"/><ellipse cx="1841.4" cy="1725.3" rx="5.8" ry="5.8" fill="#8ca834"/><ellipse cx="1847.7" cy="1729.9" rx="5.2" ry="5.2" fill="#8ca834"/><ellipse cx="1814.9" cy="1735.6" rx="7" ry="7" fill="#c0c850"/><ellipse cx="1835.9" cy="1724.8" rx="7" ry="7" fill="#a8b840"/><ellipse cx="1809.5" cy="1733.2" rx="6.6" ry="6.6" fill="#8ca834"/></g>
<g opacity="0.9" filter="url(#b1)"><ellipse cx="1858.9" cy="1730.3" rx="8.2" ry="8.2" fill="#dcd4e4"/><ellipse cx="1880.3" cy="1726.7" rx="5.2" ry="5.2" fill="#c8b8d8"/><ellipse cx="1848.3" cy="1744.2" rx="5.9" ry="5.9" fill="#dcd4e4"/><ellipse cx="1864" cy="1749.3" rx="6.5" ry="6.5" fill="#c8b8d8"/><ellipse cx="1845.1" cy="1743.4" rx="7" ry="7" fill="#c8b8d8"/><ellipse cx="1844.1" cy="1729.6" rx="5" ry="5" fill="#dcd4e4"/><ellipse cx="1847.8" cy="1742.2" rx="8.6" ry="8.6" fill="#dcd4e4"/><ellipse cx="1878.4" cy="1735.6" rx="7.8" ry="7.8" fill="#dcd4e4"/><ellipse cx="1877" cy="1740.8" rx="7.5" ry="7.5" fill="#c8b8d8"/><ellipse cx="1869" cy="1752.7" rx="6.1" ry="6.1" fill="#dcd4e4"/><ellipse cx="1867.3" cy="1738.3" rx="4.8" ry="4.8" fill="#8a9a7a"/><ellipse cx="1875.8" cy="1738.7" rx="9" ry="9" fill="#b4a4cc"/><ellipse cx="1862.6" cy="1726.7" rx="5.3" ry="5.3" fill="#dcd4e4"/><ellipse cx="1869.2" cy="1753.1" rx="8.5" ry="8.5" fill="#dcd4e4"/><ellipse cx="1845.8" cy="1742.3" rx="6.7" ry="6.7" fill="#dcd4e4"/><ellipse cx="1858.1" cy="1751.2" rx="7" ry="7" fill="#8a9a7a"/></g>
<g opacity="0.8" filter="url(#b1)"><ellipse cx="1866.7" cy="1777.2" rx="5.1" ry="5.1" fill="#9aac6c"/><ellipse cx="1837.2" cy="1762.9" rx="5.1" ry="5.1" fill="#7c9454"/><ellipse cx="1879.3" cy="1764.2" rx="7.4" ry="7.4" fill="#9aac6c"/><ellipse cx="1863" cy="1774.3" rx="6.8" ry="6.8" fill="#b4c080"/><ellipse cx="1849.5" cy="1762.4" rx="9" ry="9" fill="#7c9454"/><ellipse cx="1835.6" cy="1778.2" rx="7" ry="7" fill="#9aac6c"/><ellipse cx="1842.6" cy="1753.8" rx="8.9" ry="8.9" fill="#7c9454"/><ellipse cx="1838" cy="1771.5" rx="5.7" ry="5.7" fill="#b4c080"/><ellipse cx="1843.5" cy="1781.2" rx="6.1" ry="6.1" fill="#9aac6c"/><ellipse cx="1850.6" cy="1754.8" rx="8.4" ry="8.4" fill="#9aac6c"/></g>
<path d="M1163.2 1742.4L1254.5 1741.6L1317.5 1738.9L1443.5 1736.9L1530 1734.5L1530 1855.8L1163.2 1855.8Z" fill="url(#lawn1)"/>
<path d="M1520 1734.5L1661.8 1735.8L1709 1750.3L1748.4 1778.6L1787.8 1791.2L1827.2 1805.4L1881.5 1811.7L1881.5 1855.8L1520 1855.8Z" fill="url(#lawn1)"/>
<rect x="1163.4" y="1736" width="718.4" height="121" fill="#1d5a1c" opacity="0.16" filter="url(#nzd)"/>
<rect x="1163.4" y="1736" width="718.4" height="121" fill="#7cd060" opacity="0.13" filter="url(#nzl)"/>
<path d="M1768.9 1778.6L1787.8 1773.9L1803.5 1777L1800.4 1789.6L1778.3 1792.8L1768.9 1786.5Z" fill="#8fe02c"/>
<path d="M1819.3 1791.2L1842.9 1786.5L1881.5 1789.6L1881.5 1809.3L1858.7 1805.4L1827.2 1802.2Z" fill="#8fe02c"/>
<path d="M1614.5 1671.5C1617.1 1671.5 1622.4 1668.9 1630.3 1671.5C1638.2 1674.1 1652.6 1681.5 1661.8 1687.3C1671 1693.1 1678.9 1700.4 1685.4 1706.2C1692 1712 1695.8 1716.1 1701.1 1721.9C1706.3 1727.7 1714.3 1737.7 1716.9 1740.8L1698 1739.5C1695.9 1736.8 1690.1 1728.8 1685.4 1723.5C1680.7 1718.2 1676.2 1713.3 1669.6 1707.5C1663 1701.7 1655.2 1694.1 1646 1688.5C1636.8 1682.9 1622.2 1676.6 1614.5 1674C1606.8 1671.4 1602.4 1673.2 1600 1673Z" fill="#6f4e3a"/>
<path d="M1503.4 1763.6C1506.2 1757.7 1514.6 1737.2 1520 1728.2C1525.4 1719.2 1530.5 1714.3 1535.8 1709.3C1541 1704.3 1545.5 1701.6 1551.5 1698.3C1557.5 1695 1564.1 1691.2 1572 1689.6C1579.9 1688 1590.4 1688.1 1598.8 1688.8C1607.2 1689.5 1614.5 1691.2 1622.4 1693.6C1630.3 1696 1638.1 1698.8 1646 1703C1653.9 1707.2 1661.7 1712.2 1669.6 1718.8C1677.5 1725.4 1685.4 1733.8 1693.3 1742.4C1701.2 1751.1 1709 1761 1716.9 1770.7C1724.8 1780.4 1733.4 1790.7 1740.5 1800.7C1747.6 1810.7 1756.2 1825.6 1759.4 1830.6L1724.8 1832.2C1720.8 1827.2 1708.4 1811.9 1701.1 1802.2C1693.8 1792.5 1687.2 1783.1 1680.7 1773.9C1674.2 1764.7 1667.6 1754.7 1661.8 1747.1C1656 1739.5 1652.6 1734.2 1646 1728.2C1639.4 1722.2 1630.3 1715.5 1622.4 1710.9C1614.5 1706.3 1606.7 1702.3 1598.8 1700.6C1590.9 1698.9 1583 1698.4 1575.1 1700.6C1567.2 1702.8 1558 1707.3 1551.5 1714C1545 1720.7 1539.7 1732.5 1535.8 1740.8C1531.9 1749.1 1529.3 1760 1528 1763.8Z" fill="url(#gS)"/>
<path d="M1183.6 1800.7C1194.4 1791.8 1227.2 1762.3 1248.2 1747.1C1269.2 1731.9 1290.2 1719.3 1309.6 1709.3C1329 1699.3 1345.1 1694.4 1364.8 1687.3C1384.5 1680.2 1409.4 1671.8 1427.8 1666.8C1446.2 1661.8 1458 1659.3 1475 1657.3C1492 1655.3 1512 1655 1530 1655C1548 1655 1566.3 1655.9 1583 1657.3C1599.7 1658.7 1614.5 1660.4 1630.3 1663.6C1646 1666.8 1661.8 1671.5 1677.5 1676.2C1693.2 1680.9 1709 1686 1724.8 1692C1740.5 1698 1756.2 1704.4 1772 1712.5C1787.8 1720.6 1804.9 1731.3 1819.3 1740.8C1833.7 1750.2 1848.2 1761.8 1858.6 1769.2C1869 1776.6 1877.9 1782.3 1881.8 1784.9L1881.8 1795.1C1879.2 1793.7 1874.3 1791.6 1866.5 1786.5C1858.7 1781.4 1846.8 1772.5 1835 1764.4C1823.2 1756.3 1810 1746.1 1795.6 1737.7C1781.2 1729.3 1764.2 1721.1 1748.4 1714C1732.7 1706.9 1716.8 1700.9 1701.1 1695.1C1685.3 1689.3 1668.3 1683.6 1653.9 1679.4C1639.5 1675.2 1627.6 1672.3 1614.5 1669.9C1601.4 1667.5 1589.2 1666 1575.1 1665.2C1561 1664.4 1544 1665.1 1530 1665.2C1516 1665.3 1505.2 1664.7 1490.8 1666C1476.4 1667.3 1461.9 1668.5 1443.5 1673.1C1425.1 1677.7 1400.2 1686.5 1380.5 1693.6C1360.8 1700.7 1343.8 1706.4 1325.4 1715.6C1307 1724.8 1290.5 1734.5 1270.3 1748.7C1250.1 1762.9 1215.1 1792 1204.1 1800.7Z" fill="url(#gL)"/>
<path d="M1380.5 1823.5C1384.7 1817.8 1396.5 1801.8 1405.7 1789.6C1414.9 1777.4 1426.7 1761.6 1435.6 1750.3C1444.5 1739 1450.1 1731.6 1459.3 1721.9C1468.5 1712.2 1479 1700 1490.8 1692C1502.6 1684 1519.9 1677.8 1530 1673.9C1540.1 1670 1541.3 1670.1 1551.5 1668.4C1561.7 1666.7 1584.3 1664.4 1590.9 1663.6L1614.5 1671.5C1609.2 1672.2 1593.5 1673 1583 1675.4C1572.5 1677.8 1560.3 1682.2 1551.5 1685.7C1542.7 1689.2 1536.2 1693.3 1530 1696.7C1523.8 1700.1 1520.9 1701.5 1514.4 1706.2C1507.9 1710.9 1498.7 1717.8 1490.8 1725.1C1482.9 1732.4 1475 1740.8 1467.1 1750.3C1459.2 1759.8 1451.6 1769.6 1443.5 1781.8C1435.4 1794 1422.5 1816.5 1418.3 1823.5Z" fill="url(#gM)"/>
<path d="M1734.9 1778.6Q1734 1750.3 1732 1743M1726.8 1778.6Q1729 1750.3 1734 1745.9M1724.9 1778.6Q1720.9 1750.3 1711.5 1758M1731.8 1778.6Q1725.8 1750.3 1711.9 1754M1731.2 1778.6Q1729.4 1750.3 1725.1 1744.2M1725.2 1778.6Q1730.5 1750.3 1742.8 1753.3M1730.7 1778.6Q1734.5 1750.3 1743.3 1756M1729.4 1778.6Q1728.9 1750.3 1728 1742.4M1725.6 1778.6Q1729.2 1750.3 1737.5 1745.6M1732.3 1778.6Q1735.8 1750.3 1743.9 1748.2M1727.6 1778.6Q1722.6 1750.3 1710.8 1756.6M1729.7 1778.6Q1728.4 1750.3 1725.4 1746.1M1730.3 1778.6Q1731.4 1750.3 1734 1742.2M1735 1778.6Q1726.3 1750.3 1706 1758.3M1729.2 1778.6Q1731.1 1750.3 1735.5 1742.1M1731.7 1778.6Q1737.8 1750.3 1751.8 1761.6M1734.4 1778.6Q1733.8 1750.3 1732.5 1740.6M1727.1 1778.6Q1721.4 1750.3 1708.3 1759.8M1724.7 1778.6Q1724.7 1750.3 1724.7 1738.4" stroke="#c0e070" stroke-width="0.9" fill="none"/>
<path d="M1732.8 1778.6Q1737.5 1750.3 1748.4 1758.5M1726.2 1778.6Q1733.1 1750.3 1749.2 1755.8M1732 1778.6Q1728.7 1750.3 1721 1741.8M1734.5 1778.6Q1738.2 1750.3 1746.9 1757.1M1727.3 1778.6Q1733.9 1750.3 1749.4 1758M1734.9 1778.6Q1736.1 1750.3 1738.9 1746.9M1732.6 1778.6Q1732.2 1750.3 1731.1 1740.1M1724 1778.6Q1725.6 1750.3 1729.3 1739.7M1726.7 1778.6Q1726.7 1750.3 1726.6 1746M1733 1778.6Q1726.6 1750.3 1711.8 1758.4M1730.4 1778.6Q1737.1 1750.3 1752.7 1757.6M1724.9 1778.6Q1726.9 1750.3 1731.7 1735.4M1728 1778.6Q1730.5 1750.3 1736.4 1745.8M1726.4 1778.6Q1729.7 1750.3 1737.5 1747.6M1729.4 1778.6Q1722.9 1750.3 1707.9 1761.5M1734 1778.6Q1728.5 1750.3 1715.5 1748" stroke="#8ac83c" stroke-width="0.9" fill="none"/>
<path d="M1725.8 1778.6Q1732.8 1750.3 1748.9 1756.7M1726.5 1778.6Q1731.9 1750.3 1744.5 1749.3M1731.1 1778.6Q1730.6 1750.3 1729.3 1740.5M1728.2 1778.6Q1733.5 1750.3 1745.7 1752.4M1734.4 1778.6Q1737.2 1750.3 1743.7 1748.8M1724.2 1778.6Q1729 1750.3 1740.3 1747.1M1725.9 1778.6Q1727 1750.3 1729.7 1737M1731.1 1778.6Q1734.3 1750.3 1741.7 1750.1M1730.2 1778.6Q1729.5 1750.3 1727.9 1743M1729.2 1778.6Q1735.1 1750.3 1748.9 1759.5M1727.1 1778.6Q1722 1750.3 1710.2 1753.8M1729 1778.6Q1728.3 1750.3 1726.5 1741.7M1729.6 1778.6Q1733.7 1750.3 1743.4 1747.1M1731.6 1778.6Q1724.7 1750.3 1708.7 1757.1M1727.4 1778.6Q1723.6 1750.3 1714.8 1749.7M1726.8 1778.6Q1731.8 1750.3 1743.4 1748.4M1727.3 1778.6Q1722.6 1750.3 1711.6 1755.7M1726.6 1778.6Q1721.4 1750.3 1709.2 1755.7M1729.5 1778.6Q1728.6 1750.3 1726.5 1737.6" stroke="#6aa82c" stroke-width="0.9" fill="none"/>
<path d="M1725.6 1778.6Q1725.6 1750.3 1725.7 1742.6M1730.1 1778.6Q1726.3 1750.3 1717.6 1751.4M1726.4 1778.6Q1721.3 1750.3 1709.5 1756.3M1733.4 1778.6Q1730.1 1750.3 1722.5 1741.4M1730.3 1778.6Q1728.4 1750.3 1724 1737.7M1727.8 1778.6Q1733.7 1750.3 1747.3 1755.4M1725.5 1778.6Q1720.9 1750.3 1710.2 1760M1732.6 1778.6Q1738.3 1750.3 1751.3 1761.6M1731.2 1778.6Q1728.5 1750.3 1722.3 1743.2M1724.5 1778.6Q1719.5 1750.3 1707.8 1758.9M1732.4 1778.6Q1727 1750.3 1714.3 1749.8M1728 1778.6Q1725.9 1750.3 1720.8 1748.7M1725 1778.6Q1721.8 1750.3 1714.2 1757.2M1733.1 1778.6Q1727.6 1750.3 1714.7 1748.2M1734.7 1778.6Q1734.6 1750.3 1734.3 1737.4M1727.6 1778.6Q1733.1 1750.3 1746.1 1750.3" stroke="#a4d850" stroke-width="0.9" fill="none"/>
<path d="M1819.9 1800.7Q1818.2 1773.3 1814 1766.8M1815.3 1800.7Q1807.7 1773.3 1789.8 1781.4M1813.9 1800.7Q1823.3 1773.3 1845.3 1780.8M1818.9 1800.7Q1817.4 1773.3 1813.9 1766.5M1817.1 1800.7Q1819.7 1773.3 1825.6 1760.4M1815.9 1800.7Q1824 1773.3 1843.1 1781.9M1822.4 1800.7Q1829.9 1773.3 1847.5 1782.2M1819.4 1800.7Q1824.2 1773.3 1835.3 1775.5M1824.2 1800.7Q1830.3 1773.3 1844.7 1777.5M1820.9 1800.7Q1824.6 1773.3 1833.2 1773.2M1813 1800.7Q1811.6 1773.3 1808.3 1765.6M1816.4 1800.7Q1818.7 1773.3 1823.9 1767.3M1822 1800.7Q1819.7 1773.3 1814.3 1767.4M1817.2 1800.7Q1821.4 1773.3 1831.1 1771.3M1826 1800.7Q1817.4 1773.3 1797.4 1777.4M1825.3 1800.7Q1830.5 1773.3 1842.6 1780.4M1819.2 1800.7Q1825.6 1773.3 1840.7 1777.5M1819.6 1800.7Q1818 1773.3 1814.1 1768.3M1825.1 1800.7Q1822.9 1773.3 1817.6 1760.3M1818.1 1800.7Q1818.4 1773.3 1818.9 1763.9M1819.9 1800.7Q1827.3 1773.3 1844.6 1783.2M1825.3 1800.7Q1814.5 1773.3 1789.5 1780.8" stroke="#5c9c28" stroke-width="0.9" fill="none"/>
<path d="M1818.6 1800.7Q1816.5 1773.3 1811.4 1772.8M1817.9 1800.7Q1816.8 1773.3 1814.4 1761.1M1817.6 1800.7Q1810.9 1773.3 1795.2 1780.8M1816 1800.7Q1824.1 1773.3 1843.1 1775.8M1821.2 1800.7Q1813.7 1773.3 1796.1 1775.9M1822.2 1800.7Q1822.9 1773.3 1824.6 1770.9M1817 1800.7Q1817.3 1773.3 1818.1 1768M1819.3 1800.7Q1820.2 1773.3 1822.4 1768.2M1814.9 1800.7Q1820 1773.3 1831.7 1766.3M1813 1800.7Q1806.7 1773.3 1792 1779.8M1817.5 1800.7Q1822.8 1773.3 1834.9 1770.9M1820.8 1800.7Q1823.4 1773.3 1829.3 1765.6M1816.7 1800.7Q1820.1 1773.3 1828 1768.1M1825.3 1800.7Q1824.4 1773.3 1822.5 1769.8M1822.8 1800.7Q1826.1 1773.3 1833.9 1776.4M1813.7 1800.7Q1821.2 1773.3 1838.8 1776.3M1815.2 1800.7Q1812.1 1773.3 1804.9 1774.1M1814 1800.7Q1821.4 1773.3 1838.7 1772.7M1816.3 1800.7Q1820.6 1773.3 1830.5 1774.4M1814.8 1800.7Q1812.7 1773.3 1807.7 1770.9M1819.8 1800.7Q1812.4 1773.3 1795.1 1782.5" stroke="#b4dc60" stroke-width="0.9" fill="none"/>
<path d="M1813.4 1800.7Q1820.5 1773.3 1837 1773.4M1816.4 1800.7Q1813.6 1773.3 1807.1 1774.6M1820.6 1800.7Q1825.7 1773.3 1837.5 1772.7M1818.5 1800.7Q1816.2 1773.3 1810.9 1767.5M1818.7 1800.7Q1822 1773.3 1829.7 1768.9M1824 1800.7Q1828.5 1773.3 1839.2 1775.7M1818 1800.7Q1826.6 1773.3 1846.8 1781.8M1814 1800.7Q1818.3 1773.3 1828.4 1763.4M1813.5 1800.7Q1818.1 1773.3 1828.8 1772.9M1822.8 1800.7Q1815.9 1773.3 1799.8 1779.1M1813.2 1800.7Q1816.2 1773.3 1823.3 1761.7M1822.1 1800.7Q1824.2 1773.3 1829.2 1770.4M1815 1800.7Q1815.6 1773.3 1817 1764.1M1817.1 1800.7Q1820.3 1773.3 1827.6 1762.1M1820.9 1800.7Q1826.9 1773.3 1841 1778.5M1825 1800.7Q1822.6 1773.3 1817 1764.8M1818.4 1800.7Q1810.8 1773.3 1792.9 1778.4M1820.5 1800.7Q1812.7 1773.3 1794.7 1782.6M1822 1800.7Q1821.4 1773.3 1820 1766.1M1819.7 1800.7Q1811.3 1773.3 1791.7 1778.6M1814.8 1800.7Q1813.8 1773.3 1811.3 1773.4M1826.2 1800.7Q1828.6 1773.3 1834.3 1771.7M1820.8 1800.7Q1811.9 1773.3 1791.1 1779.5M1814.3 1800.7Q1811.2 1773.3 1804 1768.1M1815.2 1800.7Q1822.7 1773.3 1840.3 1779.6M1822.7 1800.7Q1814.5 1773.3 1795.3 1779.4M1817.7 1800.7Q1813.6 1773.3 1804 1769.9" stroke="#7cbc38" stroke-width="0.9" fill="none"/>
<path d="M1824.1 1800.7Q1827.9 1773.3 1836.8 1770.7M1814 1800.7Q1817.4 1773.3 1825.2 1772.1M1825.5 1800.7Q1831.5 1773.3 1845.6 1777.8M1814.1 1800.7Q1820 1773.3 1833.8 1774.6M1820.5 1800.7Q1812 1773.3 1792.2 1779.9M1826.3 1800.7Q1818 1773.3 1798.7 1772.9M1826 1800.7Q1817.5 1773.3 1797.6 1774.7M1812.4 1800.7Q1817.6 1773.3 1829.9 1765.3M1812.3 1800.7Q1813.7 1773.3 1816.9 1762.1M1824.3 1800.7Q1824.5 1773.3 1824.9 1762.5M1812.8 1800.7Q1812.1 1773.3 1810.7 1766.5M1823.2 1800.7Q1830.2 1773.3 1846.3 1779.1M1822.7 1800.7Q1828.3 1773.3 1841.2 1781.1M1813.5 1800.7Q1810.7 1773.3 1804.2 1769.3M1821.6 1800.7Q1817.7 1773.3 1808.5 1765.1M1814.6 1800.7Q1812.9 1773.3 1809 1770.1M1825.8 1800.7Q1826.1 1773.3 1826.6 1769.5M1812.4 1800.7Q1807 1773.3 1794.4 1777M1813.9 1800.7Q1810.9 1773.3 1803.9 1774.5M1825.7 1800.7Q1815.6 1773.3 1792.1 1783" stroke="#98d048" stroke-width="0.9" fill="none"/>
<path d="M1865 1855.8Q1866.1 1827.4 1868.8 1821.1M1868.2 1855.8Q1860.7 1827.4 1843.2 1835.7M1863.2 1855.8Q1871.7 1827.4 1891.6 1839.8M1864.6 1855.8Q1864.7 1827.4 1865 1812.2M1862.3 1855.8Q1865.6 1827.4 1873.4 1816.8M1862.8 1855.8Q1861.1 1827.4 1857 1824.3M1872.6 1855.8Q1870.4 1827.4 1865.2 1819.7M1865.4 1855.8Q1861.3 1827.4 1851.6 1832.3M1867.6 1855.8Q1869.2 1827.4 1872.9 1823.2M1863.8 1855.8Q1866.3 1827.4 1871.9 1814.1M1865.2 1855.8Q1858.2 1827.4 1841.6 1833.9M1869.2 1855.8Q1863.4 1827.4 1849.9 1829M1863.1 1855.8Q1865.1 1827.4 1870 1821.3M1872.5 1855.8Q1863 1827.4 1840.9 1834.8M1863.9 1855.8Q1862.6 1827.4 1859.7 1817.9M1860.3 1855.8Q1867.2 1827.4 1883 1829.1M1865.7 1855.8Q1863.8 1827.4 1859.3 1815.9M1872.8 1855.8Q1869.1 1827.4 1860.4 1822.1" stroke="#d8e4a0" stroke-width="0.9" fill="none"/>
<path d="M1869 1855.8Q1875.2 1827.4 1889.8 1837.4M1862.9 1855.8Q1870.9 1827.4 1889.5 1838.8M1867.7 1855.8Q1861.6 1827.4 1847.5 1830.6M1862.6 1855.8Q1869.8 1827.4 1886.6 1832.8M1872.3 1855.8Q1874.8 1827.4 1880.5 1829.6M1871.4 1855.8Q1877.5 1827.4 1891.9 1836.7M1861.8 1855.8Q1870.2 1827.4 1889.8 1834.5M1871.1 1855.8Q1871.5 1827.4 1872.3 1819.8M1864.6 1855.8Q1857.8 1827.4 1841.7 1839.4M1871.9 1855.8Q1868.9 1827.4 1861.8 1823.4M1860.5 1855.8Q1856.9 1827.4 1848.5 1830.3M1867.3 1855.8Q1870.6 1827.4 1878.4 1828.2M1861.7 1855.8Q1860.2 1827.4 1856.7 1829.2M1861.5 1855.8Q1859 1827.4 1853.1 1824.2M1870.7 1855.8Q1874.6 1827.4 1883.6 1825.8M1867.9 1855.8Q1867.7 1827.4 1867.5 1815.7M1870.1 1855.8Q1864 1827.4 1849.8 1833.6M1862.1 1855.8Q1862.9 1827.4 1865 1816.8M1869.8 1855.8Q1865.8 1827.4 1856.6 1824.2M1869.7 1855.8Q1865.9 1827.4 1857 1819.7M1872.4 1855.8Q1869.5 1827.4 1862.8 1819.1M1862.5 1855.8Q1869.8 1827.4 1886.7 1831.1M1866.7 1855.8Q1864.2 1827.4 1858.3 1821.6M1863.9 1855.8Q1864.5 1827.4 1865.9 1820.9M1868.3 1855.8Q1867.2 1827.4 1864.8 1815.3M1866.8 1855.8Q1867.9 1827.4 1870.6 1818.4" stroke="#c0d880" stroke-width="0.9" fill="none"/>
<path d="M1870.9 1855.8Q1863.7 1827.4 1847 1834.5M1864.6 1855.8Q1865.3 1827.4 1867 1811M1865.9 1855.8Q1867.4 1827.4 1871 1820.7M1871.8 1855.8Q1876.2 1827.4 1886.4 1834.4M1867 1855.8Q1867.7 1827.4 1869.4 1819.8M1866.3 1855.8Q1870.3 1827.4 1879.8 1829.9M1866 1855.8Q1871.7 1827.4 1884.9 1831.8M1869.3 1855.8Q1871.3 1827.4 1875.9 1827.7M1861.6 1855.8Q1865.5 1827.4 1874.5 1827.1M1871.7 1855.8Q1875.2 1827.4 1883.3 1828.8M1867.2 1855.8Q1861.9 1827.4 1849.3 1834.5M1866.1 1855.8Q1872.4 1827.4 1887.1 1835.6M1869.3 1855.8Q1874.1 1827.4 1885.5 1834M1867.2 1855.8Q1867.9 1827.4 1869.5 1821.7M1870.6 1855.8Q1872.2 1827.4 1876 1829.3M1865.1 1855.8Q1867.4 1827.4 1872.8 1826.1M1867.3 1855.8Q1869.7 1827.4 1875.2 1827.7M1868 1855.8Q1865.9 1827.4 1860.9 1822.9M1869.6 1855.8Q1875.7 1827.4 1889.9 1838.4M1870.1 1855.8Q1876.4 1827.4 1890.9 1833.4" stroke="#a4c860" stroke-width="0.9" fill="none"/>
<path d="M1872.2 1855.8Q1869.2 1827.4 1862.2 1825.6M1863.5 1855.8Q1865.9 1827.4 1871.3 1825.4M1862.8 1855.8Q1859 1827.4 1850.2 1825.1M1871.1 1855.8Q1866 1827.4 1854 1824.5M1861.8 1855.8Q1859.2 1827.4 1853.2 1830.7M1864.2 1855.8Q1866.1 1827.4 1870.5 1824.1M1861.5 1855.8Q1859.6 1827.4 1854.9 1820.9M1867.1 1855.8Q1868.8 1827.4 1872.6 1817.5M1862.1 1855.8Q1861.2 1827.4 1859.1 1821.9M1865.7 1855.8Q1870.4 1827.4 1881.2 1825.8M1870.1 1855.8Q1862.4 1827.4 1844.6 1830.7M1872.2 1855.8Q1867.7 1827.4 1857.4 1822.3M1863.2 1855.8Q1859.6 1827.4 1851.4 1829.9M1872.5 1855.8Q1866.6 1827.4 1852.9 1826.8M1863.5 1855.8Q1867.3 1827.4 1876.1 1819.7M1861 1855.8Q1855.1 1827.4 1841.3 1834.9" stroke="#88b048" stroke-width="0.9" fill="none"/>
<rect x="1163.4" y="1510.7" width="718.4" height="230" fill="#20301c" opacity="0.05" filter="url(#nzd)"/>
</g>
<rect x="1163.4" y="1510.7" width="718.4" height="345.4" fill="none" stroke="#0a0a0a" stroke-width="1.4"/>
<g clip-path="url(#cp2)">
<rect x="1882.1" y="1512.3" width="721.4" height="344.5" fill="#3e6f3a"/>
<rect x="1985.3" y="1511.3" width="94.5" height="59.9" fill="#d3d9dc"/>
<rect x="2268.4" y="1511.3" width="176.4" height="67.7" fill="#d6dadb"/>
<rect x="2555" y="1511.3" width="48.8" height="34.7" fill="#d8dcdc"/>
<rect x="2268.4" y="1511.3" width="36.2" height="61.4" fill="#b9b5aa"/>
<g opacity="0.9" filter="url(#b2)"><ellipse cx="2108.4" cy="1624.2" rx="13.3" ry="13.3" fill="#c9a3ba"/><ellipse cx="1959.7" cy="1578.7" rx="9.3" ry="9.3" fill="#d8b8c8"/><ellipse cx="1978.3" cy="1570.6" rx="9.8" ry="9.8" fill="#b98fa8"/><ellipse cx="2058.5" cy="1620.9" rx="7.1" ry="7.1" fill="#a87c98"/><ellipse cx="2025.9" cy="1593.3" rx="12.1" ry="12.1" fill="#d8b8c8"/><ellipse cx="2083.2" cy="1571.6" rx="6.6" ry="6.6" fill="#d8b8c8"/><ellipse cx="2064.7" cy="1601" rx="13.9" ry="13.9" fill="#d8b8c8"/><ellipse cx="2049.6" cy="1617.9" rx="13.9" ry="13.9" fill="#d8b8c8"/><ellipse cx="2065.1" cy="1579.3" rx="7" ry="7" fill="#a87c98"/><ellipse cx="1986" cy="1591.2" rx="12.5" ry="12.5" fill="#b98fa8"/><ellipse cx="1986.7" cy="1569.6" rx="8.8" ry="8.8" fill="#b98fa8"/><ellipse cx="2052.3" cy="1562.8" rx="9.7" ry="9.7" fill="#d8b8c8"/><ellipse cx="2110.9" cy="1576.9" rx="10.9" ry="10.9" fill="#c9a3ba"/><ellipse cx="2017.5" cy="1577.4" rx="8.7" ry="8.7" fill="#a87c98"/><ellipse cx="2046.8" cy="1575.3" rx="7.1" ry="7.1" fill="#c9a3ba"/><ellipse cx="2072.7" cy="1615.7" rx="8.2" ry="8.2" fill="#b98fa8"/><ellipse cx="2107.4" cy="1599" rx="13.7" ry="13.7" fill="#b98fa8"/><ellipse cx="2030.5" cy="1559.4" rx="11.3" ry="11.3" fill="#a87c98"/><ellipse cx="1960.7" cy="1614.4" rx="11.7" ry="11.7" fill="#b98fa8"/><ellipse cx="2088.8" cy="1624.2" rx="10.5" ry="10.5" fill="#a87c98"/><ellipse cx="2079.6" cy="1581.5" rx="14" ry="14" fill="#a87c98"/><ellipse cx="2037.3" cy="1559.6" rx="8.4" ry="8.4" fill="#b98fa8"/><ellipse cx="2080.6" cy="1589.5" rx="8.6" ry="8.6" fill="#c9a3ba"/><ellipse cx="1973.9" cy="1594.5" rx="7.6" ry="7.6" fill="#b98fa8"/><ellipse cx="1998.4" cy="1586.9" rx="13.4" ry="13.4" fill="#a87c98"/><ellipse cx="2081.7" cy="1603.5" rx="9.6" ry="9.6" fill="#b98fa8"/><ellipse cx="2103.6" cy="1605.7" rx="9.6" ry="9.6" fill="#b98fa8"/><ellipse cx="2046.3" cy="1587.1" rx="8.7" ry="8.7" fill="#c9a3ba"/><ellipse cx="2092.3" cy="1564.7" rx="11.3" ry="11.3" fill="#d8b8c8"/><ellipse cx="2115" cy="1608.6" rx="9.7" ry="9.7" fill="#b98fa8"/><ellipse cx="2112.8" cy="1562.5" rx="10.7" ry="10.7" fill="#c9a3ba"/><ellipse cx="1995.4" cy="1596.7" rx="10" ry="10" fill="#a87c98"/><ellipse cx="2118.8" cy="1576.3" rx="9" ry="9" fill="#c9a3ba"/><ellipse cx="2085.6" cy="1567" rx="13.1" ry="13.1" fill="#b98fa8"/><ellipse cx="2086.9" cy="1559.1" rx="11.5" ry="11.5" fill="#a87c98"/><ellipse cx="2113.3" cy="1586.7" rx="8.5" ry="8.5" fill="#b98fa8"/><ellipse cx="2043.1" cy="1578.1" rx="13.4" ry="13.4" fill="#c9a3ba"/><ellipse cx="1994" cy="1561.4" rx="13.3" ry="13.3" fill="#a87c98"/><ellipse cx="2084.2" cy="1604.7" rx="11.1" ry="11.1" fill="#d8b8c8"/><ellipse cx="2068.5" cy="1585.9" rx="12.6" ry="12.6" fill="#d8b8c8"/></g>
<g opacity="0.9" filter="url(#b2)"><ellipse cx="1954.7" cy="1637.6" rx="8.7" ry="8.7" fill="#b98fa8"/><ellipse cx="1950.7" cy="1650" rx="11.1" ry="11.1" fill="#b98fa8"/><ellipse cx="1931.5" cy="1650.8" rx="8.7" ry="8.7" fill="#b98fa8"/><ellipse cx="1956.2" cy="1630.2" rx="8.6" ry="8.6" fill="#d4b0c4"/><ellipse cx="1927.3" cy="1629.3" rx="9.9" ry="9.9" fill="#b98fa8"/><ellipse cx="1902.2" cy="1626.1" rx="11.2" ry="11.2" fill="#c9a3ba"/><ellipse cx="1915.4" cy="1661.9" rx="10.3" ry="10.3" fill="#c9a3ba"/><ellipse cx="1924.2" cy="1627.7" rx="7.6" ry="7.6" fill="#d4b0c4"/><ellipse cx="1909.9" cy="1656.4" rx="6.9" ry="6.9" fill="#d4b0c4"/><ellipse cx="1929.8" cy="1647.8" rx="8.6" ry="8.6" fill="#c9a3ba"/><ellipse cx="1936.2" cy="1651" rx="10.1" ry="10.1" fill="#c9a3ba"/><ellipse cx="1955.6" cy="1659.2" rx="7.5" ry="7.5" fill="#c9a3ba"/></g>
<g opacity="0.8" filter="url(#b2)"><ellipse cx="2156.7" cy="1616.7" rx="12.2" ry="12.2" fill="#b98fa8"/><ellipse cx="2190.7" cy="1617.4" rx="9.9" ry="9.9" fill="#c9a3ba"/><ellipse cx="2226.8" cy="1614.7" rx="10" ry="10" fill="#b98fa8"/><ellipse cx="2145.8" cy="1608.3" rx="7.3" ry="7.3" fill="#c9a3ba"/><ellipse cx="2163.8" cy="1610.3" rx="8.3" ry="8.3" fill="#c9a3ba"/><ellipse cx="2197.3" cy="1621.2" rx="9" ry="9" fill="#b98fa8"/><ellipse cx="2197.1" cy="1605" rx="9.8" ry="9.8" fill="#b98fa8"/><ellipse cx="2189.4" cy="1616.1" rx="12.3" ry="12.3" fill="#c9a3ba"/><ellipse cx="2179.2" cy="1624.3" rx="8.3" ry="8.3" fill="#c9a3ba"/><ellipse cx="2193" cy="1608.3" rx="7.6" ry="7.6" fill="#c9a3ba"/></g>
<g opacity="0.9" filter="url(#b2)"><ellipse cx="2249.9" cy="1607.2" rx="6.6" ry="6.6" fill="#a880a0"/><ellipse cx="2274.8" cy="1608.4" rx="7.1" ry="7.1" fill="#a880a0"/><ellipse cx="2257.3" cy="1617.6" rx="6.5" ry="6.5" fill="#a880a0"/><ellipse cx="2261" cy="1602.8" rx="10.2" ry="10.2" fill="#a880a0"/><ellipse cx="2285.7" cy="1609.6" rx="9.2" ry="9.2" fill="#a880a0"/><ellipse cx="2278.5" cy="1602.9" rx="8.4" ry="8.4" fill="#b890b0"/><ellipse cx="2271.2" cy="1607.6" rx="6.6" ry="6.6" fill="#b890b0"/><ellipse cx="2258.5" cy="1606.7" rx="6.6" ry="6.6" fill="#b890b0"/></g>
<rect x="2562.9" y="1544.4" width="41" height="159.1" fill="#d3cbb4"/>
<rect x="2441.6" y="1627.9" width="126" height="75.6" fill="#cfc8b6"/>
<rect x="2441.6" y="1656.2" width="107.1" height="47.3" fill="#6a675c"/>
<rect x="2444.8" y="1656.2" width="5.4" height="47.3" fill="#e6e2d6"/>
<rect x="2481" y="1656.2" width="5.4" height="47.3" fill="#e6e2d6"/>
<rect x="2492" y="1631" width="5.4" height="72.5" fill="#e6e2d6"/>
<rect x="2507.8" y="1656.2" width="5.4" height="47.3" fill="#e6e2d6"/>
<rect x="2548.7" y="1631" width="5.4" height="72.5" fill="#e6e2d6"/>
<rect x="2555" y="1631" width="5.4" height="72.5" fill="#e6e2d6"/>
<rect x="2581.8" y="1634.2" width="22.1" height="4.7" fill="#3c3830"/>
<rect x="2436.9" y="1701.9" width="167" height="15.8" fill="#9a9a8e"/>
<rect x="2507.8" y="1706.6" width="96.1" height="7.9" fill="#6a6e68" opacity="0.7"/>
<rect x="1969.5" y="1662.5" width="275.5" height="36.2" fill="#b7bcb4" opacity="0.85"/>
<rect x="2240" y="1659.4" width="157.5" height="39.4" fill="#aeb4aa" opacity="0.85"/>
<rect x="2293.6" y="1660.9" width="3.5" height="33.1" fill="#e8e8e0"/>
<rect x="2310.9" y="1660.9" width="3.5" height="33.1" fill="#e8e8e0"/>
<rect x="2325.1" y="1660.9" width="3.5" height="33.1" fill="#e8e8e0"/>
<rect x="2340.8" y="1660.9" width="3.5" height="33.1" fill="#e8e8e0"/>
<rect x="2369.2" y="1660.9" width="3.5" height="33.1" fill="#e8e8e0"/>
<rect x="2378.6" y="1660.9" width="3.5" height="33.1" fill="#e8e8e0"/>
<rect x="2296.7" y="1662.5" width="94.5" height="31.5" fill="#55584c" opacity="0.45"/>
<g opacity="0.92" filter="url(#b1)"><ellipse cx="2364" cy="1588.4" rx="15.2" ry="15.2" fill="#74ac40"/><ellipse cx="2401.5" cy="1569.9" rx="15.6" ry="15.6" fill="#b8dc78"/><ellipse cx="2379.2" cy="1567.9" rx="6.9" ry="6.9" fill="#b8dc78"/><ellipse cx="2397.4" cy="1644.9" rx="13.8" ry="13.8" fill="#8cc050"/><ellipse cx="2389.1" cy="1624.3" rx="12" ry="12" fill="#a4d060"/><ellipse cx="2418.2" cy="1627.3" rx="9.3" ry="9.3" fill="#74ac40"/><ellipse cx="2365.1" cy="1638.9" rx="15.2" ry="15.2" fill="#74ac40"/><ellipse cx="2353.5" cy="1623.3" rx="8.4" ry="8.4" fill="#a4d060"/><ellipse cx="2318.9" cy="1627.1" rx="7.6" ry="7.6" fill="#8cc050"/><ellipse cx="2398.7" cy="1584.9" rx="8.7" ry="8.7" fill="#8cc050"/><ellipse cx="2415.4" cy="1643.4" rx="6.6" ry="6.6" fill="#b8dc78"/><ellipse cx="2431.5" cy="1613.7" rx="11.1" ry="11.1" fill="#74ac40"/><ellipse cx="2379.5" cy="1594.9" rx="12.3" ry="12.3" fill="#8cc050"/><ellipse cx="2421.2" cy="1574.7" rx="13.2" ry="13.2" fill="#8cc050"/><ellipse cx="2393.7" cy="1568.8" rx="14.2" ry="14.2" fill="#b8dc78"/><ellipse cx="2318.6" cy="1616.5" rx="7.6" ry="7.6" fill="#8cc050"/><ellipse cx="2386.5" cy="1591.7" rx="6.7" ry="6.7" fill="#b8dc78"/><ellipse cx="2411.4" cy="1614.1" rx="7.6" ry="7.6" fill="#8cc050"/><ellipse cx="2355.5" cy="1609.4" rx="11.1" ry="11.1" fill="#b8dc78"/><ellipse cx="2311.9" cy="1601.6" rx="10.6" ry="10.6" fill="#74ac40"/><ellipse cx="2395.4" cy="1611.9" rx="14.2" ry="14.2" fill="#a4d060"/><ellipse cx="2349.6" cy="1632.5" rx="7.4" ry="7.4" fill="#a4d060"/><ellipse cx="2328.5" cy="1609.3" rx="15.5" ry="15.5" fill="#b8dc78"/><ellipse cx="2405.7" cy="1574.6" rx="7.9" ry="7.9" fill="#a4d060"/><ellipse cx="2416.6" cy="1580.9" rx="12" ry="12" fill="#a4d060"/><ellipse cx="2325.4" cy="1595.6" rx="6.9" ry="6.9" fill="#b8dc78"/><ellipse cx="2434.8" cy="1626" rx="7.2" ry="7.2" fill="#a4d060"/><ellipse cx="2329.5" cy="1613.6" rx="10.3" ry="10.3" fill="#a4d060"/><ellipse cx="2331" cy="1606.4" rx="8.6" ry="8.6" fill="#8cc050"/><ellipse cx="2381.9" cy="1644.4" rx="7.2" ry="7.2" fill="#a4d060"/><ellipse cx="2403.7" cy="1570.7" rx="11.6" ry="11.6" fill="#8cc050"/><ellipse cx="2406.5" cy="1597.1" rx="6.8" ry="6.8" fill="#74ac40"/><ellipse cx="2354.9" cy="1575.5" rx="13" ry="13" fill="#74ac40"/><ellipse cx="2348.8" cy="1629" rx="14.9" ry="14.9" fill="#8cc050"/><ellipse cx="2361.8" cy="1616.8" rx="9.9" ry="9.9" fill="#8cc050"/><ellipse cx="2332.8" cy="1636" rx="15.2" ry="15.2" fill="#8cc050"/><ellipse cx="2315.4" cy="1640.2" rx="9.4" ry="9.4" fill="#a4d060"/><ellipse cx="2324.2" cy="1622.8" rx="13.6" ry="13.6" fill="#74ac40"/><ellipse cx="2430.2" cy="1613.9" rx="15" ry="15" fill="#a4d060"/><ellipse cx="2362.5" cy="1568.4" rx="8.9" ry="8.9" fill="#b8dc78"/><ellipse cx="2396" cy="1572.9" rx="8.8" ry="8.8" fill="#74ac40"/><ellipse cx="2402.5" cy="1630.3" rx="14.7" ry="14.7" fill="#74ac40"/><ellipse cx="2380" cy="1635.9" rx="10.8" ry="10.8" fill="#8cc050"/><ellipse cx="2409.2" cy="1616.7" rx="14.3" ry="14.3" fill="#74ac40"/><ellipse cx="2333.2" cy="1558.7" rx="12.1" ry="12.1" fill="#74ac40"/><ellipse cx="2364.4" cy="1636.5" rx="8.6" ry="8.6" fill="#8cc050"/></g>
<g opacity="0.92" filter="url(#b1)"><ellipse cx="2547" cy="1634.8" rx="8.8" ry="8.8" fill="#b4dc68"/><ellipse cx="2570" cy="1644.9" rx="15.6" ry="15.6" fill="#b4dc68"/><ellipse cx="2500.3" cy="1622.4" rx="13.6" ry="13.6" fill="#c8e488"/><ellipse cx="2478.2" cy="1636" rx="11.9" ry="11.9" fill="#9ccc50"/><ellipse cx="2537.3" cy="1657.8" rx="11.9" ry="11.9" fill="#9ccc50"/><ellipse cx="2438.4" cy="1610.5" rx="8" ry="8" fill="#c8e488"/><ellipse cx="2470.2" cy="1610.4" rx="7.9" ry="7.9" fill="#84b83c"/><ellipse cx="2477.2" cy="1637.7" rx="13.4" ry="13.4" fill="#c8e488"/><ellipse cx="2562" cy="1664" rx="8.2" ry="8.2" fill="#c8e488"/><ellipse cx="2559.6" cy="1648.5" rx="9" ry="9" fill="#9ccc50"/><ellipse cx="2540.9" cy="1650.9" rx="13.2" ry="13.2" fill="#9ccc50"/><ellipse cx="2548.5" cy="1635.9" rx="12.4" ry="12.4" fill="#9ccc50"/><ellipse cx="2447.3" cy="1603.5" rx="9.7" ry="9.7" fill="#c8e488"/><ellipse cx="2541.9" cy="1636" rx="7.6" ry="7.6" fill="#b4dc68"/><ellipse cx="2531" cy="1619.9" rx="13.8" ry="13.8" fill="#b4dc68"/><ellipse cx="2444.9" cy="1663.5" rx="11.9" ry="11.9" fill="#9ccc50"/><ellipse cx="2545.9" cy="1618.4" rx="11.2" ry="11.2" fill="#b4dc68"/><ellipse cx="2552" cy="1663.6" rx="10.3" ry="10.3" fill="#b4dc68"/><ellipse cx="2445.8" cy="1615.3" rx="10" ry="10" fill="#9ccc50"/><ellipse cx="2554.9" cy="1610.1" rx="13.3" ry="13.3" fill="#84b83c"/><ellipse cx="2455.1" cy="1653.8" rx="8.4" ry="8.4" fill="#b4dc68"/><ellipse cx="2430.1" cy="1644.7" rx="11.2" ry="11.2" fill="#c8e488"/><ellipse cx="2441.4" cy="1613.5" rx="8.1" ry="8.1" fill="#9ccc50"/><ellipse cx="2545.7" cy="1657.9" rx="7" ry="7" fill="#9ccc50"/><ellipse cx="2429.5" cy="1625.5" rx="13.3" ry="13.3" fill="#9ccc50"/><ellipse cx="2503.7" cy="1645.6" rx="11.7" ry="11.7" fill="#9ccc50"/><ellipse cx="2557.5" cy="1616.4" rx="6.9" ry="6.9" fill="#b4dc68"/><ellipse cx="2429.6" cy="1606.4" rx="7.3" ry="7.3" fill="#b4dc68"/><ellipse cx="2565.9" cy="1654.8" rx="12.9" ry="12.9" fill="#c8e488"/><ellipse cx="2505.6" cy="1633.2" rx="11.1" ry="11.1" fill="#9ccc50"/><ellipse cx="2555.3" cy="1636.7" rx="7.9" ry="7.9" fill="#84b83c"/><ellipse cx="2502.3" cy="1641" rx="14.3" ry="14.3" fill="#9ccc50"/><ellipse cx="2511.7" cy="1617.5" rx="12" ry="12" fill="#9ccc50"/><ellipse cx="2477.1" cy="1659.8" rx="11.2" ry="11.2" fill="#b4dc68"/><ellipse cx="2499.6" cy="1608" rx="13.8" ry="13.8" fill="#84b83c"/><ellipse cx="2521.3" cy="1643.4" rx="13.4" ry="13.4" fill="#84b83c"/><ellipse cx="2542.9" cy="1616.4" rx="8.6" ry="8.6" fill="#9ccc50"/><ellipse cx="2437" cy="1656.1" rx="10.1" ry="10.1" fill="#c8e488"/><ellipse cx="2529.2" cy="1658.1" rx="8.4" ry="8.4" fill="#9ccc50"/><ellipse cx="2559.2" cy="1612.4" rx="8.2" ry="8.2" fill="#9ccc50"/><ellipse cx="2507.5" cy="1630.2" rx="12.6" ry="12.6" fill="#c8e488"/><ellipse cx="2467.7" cy="1626.5" rx="7.2" ry="7.2" fill="#b4dc68"/><ellipse cx="2433.7" cy="1652.2" rx="8" ry="8" fill="#c8e488"/><ellipse cx="2437.8" cy="1648.5" rx="15.1" ry="15.1" fill="#84b83c"/></g>
<g opacity="0.9" filter="url(#b1)"><ellipse cx="2603.2" cy="1593.3" rx="5.5" ry="5.5" fill="#a4d060"/><ellipse cx="2601.1" cy="1591.8" rx="9" ry="9" fill="#b8dc78"/><ellipse cx="2593.3" cy="1609.8" rx="4.8" ry="4.8" fill="#a4d060"/><ellipse cx="2602.5" cy="1600.4" rx="7.4" ry="7.4" fill="#74ac40"/></g>
<g opacity="0.95" filter="url(#b1)"><ellipse cx="1966.1" cy="1555.2" rx="6.5" ry="3.9" fill="#40883c"/><ellipse cx="1970.5" cy="1552" rx="12.3" ry="7.4" fill="#40883c"/><ellipse cx="2031.2" cy="1543.1" rx="7.1" ry="4.3" fill="#1f5c22"/><ellipse cx="2018.5" cy="1555.7" rx="13.4" ry="8" fill="#1f5c22"/><ellipse cx="1959.7" cy="1537.5" rx="8.8" ry="5.3" fill="#347c34"/><ellipse cx="2022.4" cy="1540.1" rx="13.2" ry="7.9" fill="#286c2a"/><ellipse cx="1987.9" cy="1548.7" rx="8.6" ry="5.2" fill="#347c34"/><ellipse cx="1971.8" cy="1535.9" rx="6.6" ry="4" fill="#286c2a"/><ellipse cx="2033.3" cy="1541.2" rx="8.1" ry="4.8" fill="#286c2a"/><ellipse cx="1971.2" cy="1545.1" rx="9" ry="5.4" fill="#1f5c22"/><ellipse cx="2014.4" cy="1534.7" rx="9.2" ry="5.5" fill="#347c34"/><ellipse cx="2010.1" cy="1555.5" rx="7.5" ry="4.5" fill="#1f5c22"/><ellipse cx="2030" cy="1534.5" rx="11.9" ry="7.1" fill="#347c34"/><ellipse cx="1969.7" cy="1549.9" rx="9.7" ry="5.8" fill="#1f5c22"/><ellipse cx="2003.7" cy="1547" rx="7.7" ry="4.6" fill="#40883c"/><ellipse cx="2016.4" cy="1541.7" rx="12.2" ry="7.3" fill="#1f5c22"/><ellipse cx="2054.8" cy="1536.3" rx="6.4" ry="3.8" fill="#286c2a"/><ellipse cx="2013.1" cy="1552" rx="11" ry="6.6" fill="#286c2a"/></g>
<g opacity="0.95" filter="url(#b1)"><ellipse cx="1969.7" cy="1581.1" rx="7.5" ry="4.1" fill="#40883c"/><ellipse cx="1979.1" cy="1574" rx="8.5" ry="4.7" fill="#1f5c22"/><ellipse cx="2038.2" cy="1575.6" rx="11.4" ry="6.3" fill="#1f5c22"/><ellipse cx="2027.8" cy="1569.7" rx="8.5" ry="4.7" fill="#347c34"/><ellipse cx="2021.9" cy="1567.7" rx="9" ry="4.9" fill="#1f5c22"/><ellipse cx="1998.6" cy="1567.4" rx="10.7" ry="5.9" fill="#40883c"/><ellipse cx="1980.2" cy="1571.5" rx="6.4" ry="3.5" fill="#40883c"/><ellipse cx="2016.8" cy="1566.3" rx="12.3" ry="6.8" fill="#347c34"/><ellipse cx="2022.7" cy="1565.3" rx="8" ry="4.4" fill="#347c34"/><ellipse cx="2012.2" cy="1567.7" rx="10" ry="5.5" fill="#1f5c22"/><ellipse cx="1996.9" cy="1579" rx="7.8" ry="4.3" fill="#1f5c22"/><ellipse cx="2034.1" cy="1574.2" rx="11.4" ry="6.3" fill="#40883c"/></g>
<g opacity="0.95" filter="url(#b1)"><ellipse cx="2021.1" cy="1598.5" rx="10.4" ry="6.2" fill="#2a6a2a"/><ellipse cx="2016.7" cy="1602.1" rx="6.7" ry="4" fill="#2a6a2a"/><ellipse cx="2028.1" cy="1589.2" rx="6.6" ry="4" fill="#1f5a22"/><ellipse cx="2030.4" cy="1598.3" rx="7.6" ry="4.5" fill="#1f5a22"/><ellipse cx="2033.3" cy="1595" rx="10.7" ry="6.4" fill="#1f5a22"/><ellipse cx="2036.5" cy="1592.5" rx="8.5" ry="5.1" fill="#2a6a2a"/></g>
<g opacity="0.95" filter="url(#b1)"><ellipse cx="2118.1" cy="1622.4" rx="7.3" ry="4" fill="#26682a"/><ellipse cx="2100.6" cy="1612.9" rx="10.9" ry="6" fill="#26682a"/><ellipse cx="2035.8" cy="1606" rx="13.9" ry="7.6" fill="#1f5a22"/><ellipse cx="2025.2" cy="1606.1" rx="7.2" ry="4" fill="#1f5a22"/><ellipse cx="2095.6" cy="1618.6" rx="10.5" ry="5.8" fill="#1f5a22"/><ellipse cx="2013.8" cy="1621.4" rx="12.8" ry="7.1" fill="#2f7a30"/><ellipse cx="2081.3" cy="1614.1" rx="6.8" ry="3.8" fill="#26682a"/><ellipse cx="2069.7" cy="1618.1" rx="10.5" ry="5.8" fill="#26682a"/><ellipse cx="2044.3" cy="1614.4" rx="7.9" ry="4.3" fill="#26682a"/><ellipse cx="2020.1" cy="1607.8" rx="10.3" ry="5.6" fill="#2f7a30"/><ellipse cx="2058.3" cy="1620.2" rx="6.8" ry="3.7" fill="#26682a"/><ellipse cx="2099.1" cy="1610.8" rx="10.2" ry="5.6" fill="#1f5a22"/><ellipse cx="2042.7" cy="1624.2" rx="11.6" ry="6.4" fill="#2f7a30"/><ellipse cx="2101.3" cy="1606.5" rx="7.8" ry="4.3" fill="#1f5a22"/><ellipse cx="2045.9" cy="1622.8" rx="6.9" ry="3.8" fill="#1f5a22"/><ellipse cx="2051.2" cy="1606.7" rx="6.9" ry="3.8" fill="#1f5a22"/><ellipse cx="2054.3" cy="1609.3" rx="12.5" ry="6.9" fill="#26682a"/><ellipse cx="2085.2" cy="1614.7" rx="6.4" ry="3.5" fill="#2f7a30"/><ellipse cx="2034.4" cy="1606.6" rx="10" ry="5.5" fill="#2f7a30"/><ellipse cx="2118.7" cy="1619.7" rx="6.3" ry="3.5" fill="#1f5a22"/><ellipse cx="2026.3" cy="1616" rx="8.9" ry="4.9" fill="#26682a"/><ellipse cx="2087.8" cy="1607" rx="8.1" ry="4.5" fill="#1f5a22"/></g>
<g opacity="0.9" filter="url(#b1)"><ellipse cx="2089.8" cy="1591.5" rx="7.9" ry="4.7" fill="#1f5c22"/><ellipse cx="2073.5" cy="1594.5" rx="9.2" ry="5.5" fill="#286c2a"/><ellipse cx="2062.8" cy="1602.2" rx="11.2" ry="6.7" fill="#1f5c22"/><ellipse cx="2086.4" cy="1584" rx="7.8" ry="4.7" fill="#286c2a"/><ellipse cx="2068.6" cy="1599.8" rx="9.1" ry="5.5" fill="#347c34"/><ellipse cx="2104" cy="1591.9" rx="10.8" ry="6.5" fill="#347c34"/><ellipse cx="2056.8" cy="1586.9" rx="7.4" ry="4.4" fill="#286c2a"/><ellipse cx="2097.8" cy="1586.8" rx="11.8" ry="7.1" fill="#347c34"/><ellipse cx="2075.4" cy="1600.1" rx="10.4" ry="6.2" fill="#286c2a"/><ellipse cx="2069.1" cy="1584.5" rx="8.9" ry="5.3" fill="#347c34"/><ellipse cx="2066.2" cy="1581.7" rx="11.5" ry="6.9" fill="#286c2a"/><ellipse cx="2104" cy="1599.2" rx="9.4" ry="5.6" fill="#347c34"/></g>
<g opacity="0.97" filter="url(#b1)"><ellipse cx="2330.7" cy="1543.8" rx="10.3" ry="5.7" fill="#4c9a44"/><ellipse cx="2336" cy="1546.9" rx="7.2" ry="4" fill="#3f8a38"/><ellipse cx="2389.5" cy="1549.1" rx="11.2" ry="6.1" fill="#4c9a44"/><ellipse cx="2352.7" cy="1545.8" rx="8.9" ry="4.9" fill="#347a30"/><ellipse cx="2378.4" cy="1543.4" rx="8.1" ry="4.5" fill="#4c9a44"/><ellipse cx="2365.3" cy="1536.1" rx="6.6" ry="3.6" fill="#3f8a38"/><ellipse cx="2351.8" cy="1541.4" rx="11.7" ry="6.5" fill="#347a30"/><ellipse cx="2349.1" cy="1550.7" rx="10.4" ry="5.7" fill="#4c9a44"/><ellipse cx="2368.2" cy="1539.7" rx="7.8" ry="4.3" fill="#4c9a44"/><ellipse cx="2367.6" cy="1544.5" rx="10.1" ry="5.6" fill="#4c9a44"/><ellipse cx="2340" cy="1548.5" rx="9" ry="4.9" fill="#3f8a38"/><ellipse cx="2339.3" cy="1545.2" rx="8.2" ry="4.5" fill="#347a30"/></g>
<rect x="2362.9" y="1552.3" width="5" height="83.5" fill="#6a6458"/>
<g opacity="0.95" filter="url(#b1)"><ellipse cx="2331.1" cy="1601.9" rx="11.3" ry="6.2" fill="#347a32"/><ellipse cx="2312.9" cy="1585.4" rx="12.8" ry="7" fill="#205a22"/><ellipse cx="2290.5" cy="1575.1" rx="12.7" ry="7" fill="#2a6a2a"/><ellipse cx="2244.5" cy="1629" rx="13.7" ry="7.5" fill="#2a6a2a"/><ellipse cx="2285.3" cy="1598.4" rx="10.5" ry="5.8" fill="#205a22"/><ellipse cx="2258" cy="1604.3" rx="7.6" ry="4.2" fill="#2a6a2a"/><ellipse cx="2330.6" cy="1579.1" rx="6.4" ry="3.5" fill="#205a22"/><ellipse cx="2241.4" cy="1620" rx="7.5" ry="4.1" fill="#205a22"/><ellipse cx="2318.5" cy="1588.2" rx="12.8" ry="7" fill="#347a32"/><ellipse cx="2245.6" cy="1589.5" rx="9.7" ry="5.4" fill="#205a22"/><ellipse cx="2248.4" cy="1615.2" rx="10.8" ry="6" fill="#2a6a2a"/><ellipse cx="2251.6" cy="1589.1" rx="12.4" ry="6.8" fill="#2a6a2a"/><ellipse cx="2291.3" cy="1604.5" rx="9.1" ry="5" fill="#205a22"/><ellipse cx="2269.6" cy="1593.8" rx="7.6" ry="4.2" fill="#347a32"/><ellipse cx="2301.7" cy="1588.1" rx="10" ry="5.5" fill="#347a32"/><ellipse cx="2264.5" cy="1619.8" rx="13" ry="7.2" fill="#347a32"/><ellipse cx="2287.4" cy="1625.5" rx="9.3" ry="5.1" fill="#347a32"/><ellipse cx="2302.6" cy="1616.7" rx="8.8" ry="4.8" fill="#347a32"/><ellipse cx="2276.7" cy="1614.5" rx="7.4" ry="4.1" fill="#2a6a2a"/><ellipse cx="2294.4" cy="1583.9" rx="7" ry="3.8" fill="#2a6a2a"/><ellipse cx="2260.5" cy="1578.5" rx="9.8" ry="5.4" fill="#205a22"/><ellipse cx="2321.8" cy="1603.9" rx="11.4" ry="6.3" fill="#347a32"/></g>
<g opacity="0.9" filter="url(#b1)"><ellipse cx="2368.2" cy="1611.4" rx="10.9" ry="6.5" fill="#2a6a2a"/><ellipse cx="2364.1" cy="1627.9" rx="6.8" ry="4.1" fill="#3c8a3a"/><ellipse cx="2350" cy="1617.5" rx="8.7" ry="5.2" fill="#2a6a2a"/><ellipse cx="2412" cy="1612.2" rx="8.7" ry="5.2" fill="#2a6a2a"/><ellipse cx="2397" cy="1618.4" rx="10.6" ry="6.4" fill="#2a6a2a"/><ellipse cx="2379.5" cy="1619.1" rx="6.7" ry="4" fill="#3c8a3a"/><ellipse cx="2359.5" cy="1618.7" rx="12.2" ry="7.3" fill="#3c8a3a"/><ellipse cx="2357.8" cy="1628.9" rx="8.2" ry="4.9" fill="#2a6a2a"/><ellipse cx="2392.9" cy="1624.8" rx="7" ry="4.2" fill="#2a6a2a"/><ellipse cx="2401.8" cy="1625.9" rx="10" ry="6" fill="#2a6a2a"/><ellipse cx="2402.2" cy="1622.3" rx="10.6" ry="6.4" fill="#3c8a3a"/><ellipse cx="2417.5" cy="1626.9" rx="10.2" ry="6.1" fill="#3c8a3a"/><ellipse cx="2357.2" cy="1614.3" rx="10.8" ry="6.5" fill="#2a6a2a"/><ellipse cx="2341.3" cy="1627.6" rx="7.1" ry="4.3" fill="#3c8a3a"/></g>
<g opacity="0.85" filter="url(#b2)"><ellipse cx="2098.5" cy="1655.9" rx="10.1" ry="10.1" fill="#a4bca8"/><ellipse cx="2017.6" cy="1659.5" rx="7.7" ry="7.7" fill="#c0d0c4"/><ellipse cx="2100.4" cy="1659.5" rx="7" ry="7" fill="#8aa894"/><ellipse cx="2024.4" cy="1657.5" rx="9.5" ry="9.5" fill="#8aa894"/><ellipse cx="2138.4" cy="1644" rx="11" ry="11" fill="#c0d0c4"/><ellipse cx="2131.3" cy="1662.2" rx="11.3" ry="11.3" fill="#6f9478"/><ellipse cx="2033.2" cy="1644.3" rx="7.4" ry="7.4" fill="#6f9478"/><ellipse cx="2073" cy="1653.7" rx="9.3" ry="9.3" fill="#8aa894"/><ellipse cx="2046.5" cy="1648" rx="11.7" ry="11.7" fill="#c0d0c4"/><ellipse cx="2138.1" cy="1661.3" rx="9.5" ry="9.5" fill="#c0d0c4"/><ellipse cx="2115.5" cy="1646.6" rx="11.5" ry="11.5" fill="#6f9478"/><ellipse cx="2075.4" cy="1650.3" rx="10" ry="10" fill="#8aa894"/><ellipse cx="2119.3" cy="1658.2" rx="8.8" ry="8.8" fill="#6f9478"/><ellipse cx="2110" cy="1651.9" rx="12.1" ry="12.1" fill="#a4bca8"/><ellipse cx="2138.1" cy="1644.2" rx="6.3" ry="6.3" fill="#8aa894"/><ellipse cx="2124.9" cy="1657.9" rx="6.5" ry="6.5" fill="#8aa894"/><ellipse cx="2065.6" cy="1663.3" rx="11.7" ry="11.7" fill="#c0d0c4"/><ellipse cx="2047.1" cy="1646.1" rx="12.5" ry="12.5" fill="#c0d0c4"/><ellipse cx="1997.6" cy="1663.9" rx="9.7" ry="9.7" fill="#a4bca8"/><ellipse cx="2006.2" cy="1645.7" rx="7.8" ry="7.8" fill="#8aa894"/><ellipse cx="2118.1" cy="1649.6" rx="9.1" ry="9.1" fill="#c0d0c4"/><ellipse cx="2042.6" cy="1654.4" rx="7.4" ry="7.4" fill="#6f9478"/><ellipse cx="2005.6" cy="1654.3" rx="7" ry="7" fill="#8aa894"/><ellipse cx="2010.5" cy="1655.7" rx="9.5" ry="9.5" fill="#c0d0c4"/></g>
<g opacity="0.85" filter="url(#b2)"><ellipse cx="2374.9" cy="1658.8" rx="11.2" ry="11.2" fill="#9cc098"/><ellipse cx="2318" cy="1657.7" rx="9" ry="9" fill="#3f7a40"/><ellipse cx="2357.1" cy="1646.1" rx="7.4" ry="7.4" fill="#9cc098"/><ellipse cx="2338.4" cy="1656" rx="9.5" ry="9.5" fill="#5a8a58"/><ellipse cx="2362.4" cy="1667.3" rx="7.4" ry="7.4" fill="#7aa878"/><ellipse cx="2251.6" cy="1660.8" rx="8.8" ry="8.8" fill="#3f7a40"/><ellipse cx="2308" cy="1661.1" rx="9.2" ry="9.2" fill="#9cc098"/><ellipse cx="2333.1" cy="1664.4" rx="12.4" ry="12.4" fill="#9cc098"/><ellipse cx="2333.7" cy="1652.4" rx="8.7" ry="8.7" fill="#7aa878"/><ellipse cx="2257.4" cy="1652.1" rx="9" ry="9" fill="#9cc098"/><ellipse cx="2372" cy="1652" rx="10.7" ry="10.7" fill="#9cc098"/><ellipse cx="2365.3" cy="1667.5" rx="9.5" ry="9.5" fill="#5a8a58"/><ellipse cx="2319" cy="1661.8" rx="11.1" ry="11.1" fill="#9cc098"/><ellipse cx="2297.9" cy="1656.9" rx="11.7" ry="11.7" fill="#9cc098"/><ellipse cx="2320.3" cy="1652.7" rx="9.4" ry="9.4" fill="#9cc098"/><ellipse cx="2291.7" cy="1651.7" rx="6.7" ry="6.7" fill="#5a8a58"/><ellipse cx="2299.5" cy="1659.6" rx="7.2" ry="7.2" fill="#7aa878"/><ellipse cx="2294.3" cy="1666.6" rx="10.6" ry="10.6" fill="#9cc098"/></g>
<g opacity="0.9" filter="url(#b1)"><ellipse cx="2052" cy="1714.6" rx="10" ry="10" fill="#4f8a40"/><ellipse cx="2042" cy="1707.5" rx="9" ry="9" fill="#3f7a38"/><ellipse cx="2052.4" cy="1714.5" rx="11" ry="11" fill="#3f7a38"/><ellipse cx="2025.1" cy="1692.6" rx="9.9" ry="9.9" fill="#7ab060"/><ellipse cx="2077.8" cy="1692.1" rx="7.7" ry="7.7" fill="#3f7a38"/><ellipse cx="2092.1" cy="1712.3" rx="10.3" ry="10.3" fill="#7ab060"/><ellipse cx="1954.8" cy="1703.9" rx="11" ry="11" fill="#64a050"/><ellipse cx="1978.1" cy="1700.8" rx="8.2" ry="8.2" fill="#4f8a40"/><ellipse cx="1967.4" cy="1694.5" rx="5.8" ry="5.8" fill="#3f7a38"/><ellipse cx="1951.2" cy="1696.3" rx="8" ry="8" fill="#64a050"/><ellipse cx="2071.4" cy="1711.3" rx="7.9" ry="7.9" fill="#3f7a38"/><ellipse cx="2085.4" cy="1692.3" rx="9.3" ry="9.3" fill="#7ab060"/><ellipse cx="2087.6" cy="1710.8" rx="5.8" ry="5.8" fill="#3f7a38"/><ellipse cx="2082.4" cy="1699.6" rx="9.7" ry="9.7" fill="#4f8a40"/><ellipse cx="2014.4" cy="1706.3" rx="6.9" ry="6.9" fill="#4f8a40"/><ellipse cx="1941.7" cy="1714.5" rx="9.2" ry="9.2" fill="#7ab060"/><ellipse cx="1955.5" cy="1712.9" rx="6" ry="6" fill="#3f7a38"/><ellipse cx="1994.1" cy="1708" rx="8.6" ry="8.6" fill="#4f8a40"/><ellipse cx="2036.9" cy="1699.1" rx="7.1" ry="7.1" fill="#3f7a38"/><ellipse cx="1941.9" cy="1695.5" rx="10" ry="10" fill="#64a050"/><ellipse cx="2004.4" cy="1703.7" rx="7.7" ry="7.7" fill="#3f7a38"/><ellipse cx="2094.5" cy="1701.1" rx="10.8" ry="10.8" fill="#7ab060"/></g>
<g opacity="0.9" filter="url(#b1)"><ellipse cx="2143.8" cy="1708.6" rx="5.7" ry="5.7" fill="#a8a8c8"/><ellipse cx="2177.1" cy="1706.5" rx="5.5" ry="5.5" fill="#8a90b8"/><ellipse cx="2187.6" cy="1701.2" rx="6.8" ry="6.8" fill="#3f7a38"/><ellipse cx="2218.4" cy="1703.9" rx="9.3" ry="9.3" fill="#4f8a40"/><ellipse cx="2206" cy="1707.2" rx="7.1" ry="7.1" fill="#a8a8c8"/><ellipse cx="2181.3" cy="1713.4" rx="5.3" ry="5.3" fill="#8a90b8"/><ellipse cx="2149" cy="1710.7" rx="6.1" ry="6.1" fill="#a8a8c8"/><ellipse cx="2144.6" cy="1713.3" rx="8.1" ry="8.1" fill="#3f7a38"/><ellipse cx="2147.4" cy="1700.9" rx="6" ry="6" fill="#4f8a40"/><ellipse cx="2174.9" cy="1700.9" rx="5.7" ry="5.7" fill="#3f7a38"/><ellipse cx="2142.2" cy="1705.8" rx="5.1" ry="5.1" fill="#3f7a38"/><ellipse cx="2240.8" cy="1712.5" rx="7.9" ry="7.9" fill="#8a90b8"/><ellipse cx="2186.4" cy="1711.7" rx="7.9" ry="7.9" fill="#3f7a38"/><ellipse cx="2175.9" cy="1709.2" rx="5.7" ry="5.7" fill="#3f7a38"/><ellipse cx="2188.1" cy="1709.5" rx="7.6" ry="7.6" fill="#a8a8c8"/><ellipse cx="2151.3" cy="1705.6" rx="5.8" ry="5.8" fill="#3f7a38"/></g>
<g opacity="0.9" filter="url(#b1)"><ellipse cx="2316.1" cy="1710" rx="9.8" ry="9.8" fill="#88a8a0"/><ellipse cx="2325.3" cy="1699.8" rx="8.2" ry="8.2" fill="#4f9a40"/><ellipse cx="2312.1" cy="1702.7" rx="6.7" ry="6.7" fill="#88a8a0"/><ellipse cx="2365.8" cy="1695.8" rx="5.9" ry="5.9" fill="#4f9a40"/><ellipse cx="2262.4" cy="1700.1" rx="9.6" ry="9.6" fill="#4f9a40"/><ellipse cx="2301" cy="1714.7" rx="9.2" ry="9.2" fill="#a8c0b0"/><ellipse cx="2270.1" cy="1704.2" rx="8" ry="8" fill="#4f9a40"/><ellipse cx="2281.8" cy="1709.6" rx="8.8" ry="8.8" fill="#4f9a40"/><ellipse cx="2275.7" cy="1711.2" rx="5.6" ry="5.6" fill="#88a8a0"/><ellipse cx="2292.5" cy="1700.1" rx="10.8" ry="10.8" fill="#6ab050"/><ellipse cx="2265.1" cy="1707.1" rx="7.9" ry="7.9" fill="#4f9a40"/><ellipse cx="2297.8" cy="1698.7" rx="10" ry="10" fill="#6ab050"/><ellipse cx="2291.4" cy="1702.7" rx="5.6" ry="5.6" fill="#6ab050"/><ellipse cx="2274.3" cy="1703.9" rx="5.8" ry="5.8" fill="#88a8a0"/><ellipse cx="2355.6" cy="1712.8" rx="6.1" ry="6.1" fill="#88a8a0"/><ellipse cx="2316.1" cy="1702.6" rx="6.5" ry="6.5" fill="#6ab050"/><ellipse cx="2274" cy="1708.1" rx="6" ry="6" fill="#4f9a40"/><ellipse cx="2313.3" cy="1710.6" rx="7.2" ry="7.2" fill="#a8c0b0"/></g>
<rect x="1906.5" y="1718.8" width="338.5" height="15.8" fill="#a3b374"/>
<rect x="2240" y="1717.2" width="363.9" height="17.3" fill="#a9b87c"/>
<rect x="1906.5" y="1732.1" width="338.5" height="56.7" fill="url(#lawn2)"/>
<rect x="2240" y="1730.6" width="363.9" height="59.1" fill="url(#lawn2)"/>
<path d="M2433.7 1718.8L2603.9 1728.2L2603.9 1789.6L2539.3 1789.6Z" fill="#77a458"/>
<rect x="2523.5" y="1718" width="80.3" height="11" fill="#c4c8c4"/>
<path d="M2507.8 1734.5L2603.9 1736.1L2603.9 1742.4L2520.4 1740.8Z" fill="#8fb070" opacity="0.6"/>
<path d="M2507.8 1747.1L2603.9 1748.7L2603.9 1755L2520.4 1753.4Z" fill="#86ac66" opacity="0.6"/>
<path d="M2507.8 1761.3L2603.9 1762.9L2603.9 1769.2L2520.4 1767.6Z" fill="#5a8c4a" opacity="0.6"/>
<ellipse cx="2010.5" cy="1714" rx="35.4" ry="9.1" fill="#c9c9cc"/>
<ellipse cx="2008.9" cy="1712.1" rx="28.4" ry="4.6" fill="#e4e4e6" opacity="0.8"/>
<ellipse cx="2013.6" cy="1716.9" rx="30.1" ry="3.2" fill="#8a8a90" opacity="0.6"/>
<ellipse cx="2078.2" cy="1708.5" rx="18.1" ry="6.3" fill="#c9c9cc"/>
<ellipse cx="2076.6" cy="1706.6" rx="14.5" ry="3.2" fill="#e4e4e6" opacity="0.8"/>
<ellipse cx="2081.3" cy="1711.4" rx="15.4" ry="2.2" fill="#8a8a90" opacity="0.6"/>
<ellipse cx="2163.3" cy="1715.3" rx="31.5" ry="5.4" fill="#c9c9cc"/>
<ellipse cx="2161.7" cy="1713.4" rx="25.2" ry="2.7" fill="#e4e4e6" opacity="0.8"/>
<ellipse cx="2166.4" cy="1718.1" rx="26.8" ry="1.9" fill="#8a8a90" opacity="0.6"/>
<ellipse cx="2032.5" cy="1737.7" rx="110.3" ry="18.9" fill="#e8f0ec" opacity="0.35" filter="url(#b4)"/>
<ellipse cx="2476.3" cy="1759.7" rx="63" ry="20.5" fill="#e8f0ec" opacity="0.3" filter="url(#b4)"/>
<ellipse cx="2071.9" cy="1659.4" rx="81.9" ry="17.3" fill="#f0f4f0" opacity="0.35" filter="url(#b4)"/>
<path d="M1901.8 1694C1907.8 1690.1 1925.4 1677.5 1938 1670.4C1950.6 1663.3 1966.4 1656.5 1977.4 1651.5C1988.4 1646.5 1992.3 1644.4 2004.2 1640.5C2016 1636.5 2033 1630.5 2048.3 1627.9C2063.5 1625.2 2079.8 1624.1 2095.5 1624.4C2111.3 1624.7 2129.6 1627 2142.8 1629.4C2155.9 1631.9 2167.3 1636.4 2174.3 1638.9C2181.2 1641.4 2182.8 1643.5 2184.5 1644.4L2166.4 1652.3C2162.5 1650.6 2152 1645.1 2142.8 1642.4C2133.6 1639.6 2121.8 1637.1 2111.3 1636.1C2100.8 1635 2090.3 1635.2 2079.8 1636.1C2069.3 1636.9 2058.8 1638.7 2048.3 1641.3C2037.8 1643.8 2027.3 1646.9 2016.8 1651.5C2006.3 1656.1 1995.8 1662.3 1985.3 1668.8C1974.8 1675.4 1964.3 1683.3 1953.8 1690.9C1943.3 1698.5 1930.9 1710.2 1922.3 1714.5C1913.6 1718.8 1905.2 1716.5 1901.8 1716.9Z" fill="url(#a1)"/>
<path d="M2157 1630.3C2162.3 1632.4 2178.2 1637.2 2188.9 1643.1C2199.5 1648.9 2210.1 1656.3 2220.8 1665.4C2231.4 1674.4 2242.6 1686.1 2252.7 1697.3C2262.8 1708.4 2273.3 1722 2281.4 1732.3C2289.4 1742.7 2297.8 1754.9 2301.1 1759.5L2281.4 1760.4C2278.7 1757.3 2272.3 1750.3 2265.4 1741.9C2258.5 1733.5 2248.9 1720.7 2239.9 1710C2230.9 1699.4 2220.8 1687.2 2211.2 1678.1C2201.6 1669.1 2192.6 1661.8 2182.5 1655.8C2172.4 1649.9 2155.9 1644.7 2150.6 1642.4Z" fill="#8a7a66"/>
<path d="M2220.8 1666C2226.1 1671.3 2242.6 1686.7 2252.7 1697.9C2262.8 1709.1 2273.4 1722.7 2281.4 1733C2289.3 1743.2 2297.3 1755 2300.5 1759.5L2296 1760.1C2292.9 1756 2285.4 1745.5 2277.5 1735.5C2269.7 1725.6 2258.8 1711.6 2248.8 1700.5C2238.8 1689.3 2222.8 1673.9 2217.6 1668.6Z" fill="#ece4d4" opacity="0.9"/>
<path d="M1903.4 1695.6L1938 1672L1975.8 1653.1L2001 1643.6L1985.3 1656.2L1945.9 1679.8L1914.4 1703.5L1903.4 1712.9Z" fill="#c4c0bc" opacity="0.7"/>
<path d="M2183.7 1643.6C2188.7 1641.9 2203.4 1635.7 2213.7 1633.4C2223.9 1631 2235.4 1630.3 2245 1629.4C2254.6 1628.6 2261.8 1628.2 2271.5 1628.2C2281.2 1628.2 2289.9 1628.2 2303 1629.4C2316.1 1630.7 2334.5 1631.8 2350.3 1635.7C2366 1639.7 2381.8 1646.5 2397.5 1653.1C2413.3 1659.6 2429 1666.7 2444.8 1675.1C2460.5 1683.5 2476.3 1693 2492 1703.5C2507.8 1714 2527.5 1728.5 2539.3 1738.1C2551.1 1747.8 2554.2 1753.2 2562.9 1761.3C2571.6 1769.3 2586.5 1782.3 2591.3 1786.5L2555 1789.3C2547.9 1784.4 2526.2 1769.8 2512.5 1759.7C2498.8 1749.6 2487.6 1739.6 2473.1 1728.7C2458.7 1717.7 2441.6 1704.3 2425.9 1694C2410.1 1683.8 2393.8 1674.9 2378.6 1667.2C2363.4 1659.6 2349.7 1652.7 2334.5 1648.3C2319.3 1643.9 2302.2 1641.8 2287.3 1640.8C2272.3 1639.8 2258.6 1641.2 2245 1642.4C2231.4 1643.5 2217.6 1645.2 2205.8 1647.6C2194 1649.9 2179.5 1654.8 2174.3 1656.2Z" fill="url(#ab)"/>
<path d="M2328.2 1631C2331.9 1631.8 2338.7 1632.1 2350.3 1635.7C2361.8 1639.4 2381.8 1646.5 2397.5 1653.1C2413.3 1659.6 2429 1666.7 2444.8 1675.1C2460.5 1683.5 2476.3 1693 2492 1703.5C2507.8 1714 2527.5 1728.5 2539.3 1738.1C2551.1 1747.8 2554.2 1753.2 2562.9 1761.3C2571.6 1769.3 2586.5 1782.3 2591.3 1786.5L2573.9 1788.9C2566.3 1783.2 2543.7 1766.7 2528.3 1755C2512.8 1743.3 2496.7 1729.9 2481 1718.8C2465.2 1707.6 2449.5 1697.4 2433.7 1688C2418 1678.7 2402.5 1670.7 2386.5 1662.5C2370.5 1654.3 2345.8 1642.8 2337.7 1638.9Z" fill="#e9e6de"/>
<path d="M2397.5 1655C2405.4 1658.9 2429 1670.1 2444.8 1678.6C2460.5 1687.1 2476.3 1695.8 2492 1706.2C2507.8 1716.5 2524.8 1729.3 2539.3 1740.8C2553.7 1752.4 2572.1 1769.7 2578.7 1775.5L2578.7 1781.8C2572.1 1776 2553.7 1758.8 2539.3 1747.1C2524.8 1735.4 2507.8 1722.3 2492 1711.7C2476.3 1701 2460.5 1692.1 2444.8 1683.3C2429 1674.5 2405.4 1663 2397.5 1658.9Z" fill="#f8f7f2" opacity="0.9"/>
<path d="M1927 1725.5C1934.1 1722.1 1954.5 1711.1 1969.5 1705C1984.5 1699 1998.4 1694.3 2016.8 1689.3C2035.1 1684.3 2058.8 1678.5 2079.8 1675.1C2100.8 1671.7 2115.2 1670.1 2142.8 1668.8C2170.3 1667.5 2220.9 1665.9 2245 1667.2C2269.1 1668.6 2272.3 1672.8 2287.3 1676.7C2302.2 1680.6 2319.5 1685.6 2334.5 1690.9C2349.5 1696.1 2369.9 1705.3 2377 1708.2L2377 1717.6C2369.9 1715.3 2349.5 1708.5 2334.5 1703.8C2319.5 1699.1 2302.2 1693.4 2287.3 1689.6C2272.3 1685.8 2266.5 1682.7 2245 1681.1C2223.5 1679.5 2183.4 1679.4 2158.5 1679.8C2133.6 1680.3 2116.5 1681.1 2095.5 1683.8C2074.5 1686.5 2050.9 1691.6 2032.5 1695.9C2014.1 1700.2 2001.5 1703.7 1985.3 1709.8C1969 1715.9 1943.3 1728.8 1934.9 1732.6Z" fill="url(#a2)"/>
<path d="M2432.2 1723.5C2439.5 1726.9 2461 1736.1 2476.3 1744C2491.5 1751.8 2511.5 1763.6 2523.5 1770.7C2535.6 1777.8 2544.5 1783.9 2548.7 1786.5L2525.1 1788.9C2523.5 1787.7 2523.8 1787.1 2515.7 1782.1C2507.5 1777 2490.2 1766.2 2476.3 1758.5C2462.4 1750.7 2439.5 1739.2 2432.2 1735.3Z" fill="#b69a72"/>
<path d="M2051.4 1767.6C2054.8 1762.1 2063.2 1745.3 2071.9 1734.5C2080.6 1723.7 2091.6 1712.2 2103.4 1703C2115.2 1693.8 2129.6 1685.9 2142.8 1679.4C2155.9 1672.8 2175.6 1666.3 2182.2 1663.6L2182.2 1676.2C2176.9 1678.3 2161.2 1683.3 2150.7 1688.8C2140.2 1694.3 2128.3 1702.5 2119.1 1709.3C2110 1716.1 2103.9 1720.6 2095.5 1729.8C2087.1 1739 2073.2 1758.7 2068.7 1764.4Z" fill="url(#a3)"/>
<path d="M2053.8 1766C2057.3 1760.8 2066.2 1744.7 2075 1734.5C2083.8 1724.3 2094.7 1713.5 2106.5 1704.6C2118.4 1695.7 2139.4 1685.2 2145.9 1681.3L2147.5 1682.8C2141.1 1686.7 2120.6 1697.1 2108.9 1705.8C2097.2 1714.6 2086.2 1725.3 2077.4 1735.3C2068.6 1745.3 2059.7 1760.9 2056.1 1766Z" fill="#f0ece4" opacity="0.9"/>
<path d="M2150.7 1668.8C2155.9 1665.1 2171.7 1651.8 2182.2 1646.8C2192.7 1641.8 2203.2 1639.7 2213.7 1638.9C2224.1 1638.1 2239.8 1641.5 2245 1642L2245 1651.5C2239.8 1651.1 2223.3 1648.3 2213.7 1649.1C2204 1649.9 2196.1 1652.4 2186.9 1656.2C2177.7 1660 2163.3 1669.3 2158.5 1672Z" fill="#7c6c5a" opacity="0.9"/>
<g opacity="0.97" filter="url(#b1)"><ellipse cx="1923.3" cy="1562.6" rx="8.1" ry="5.6" fill="#0f3011"/><ellipse cx="1961.4" cy="1543.8" rx="11" ry="7.7" fill="#0f3011"/><ellipse cx="1916.8" cy="1548.7" rx="9.4" ry="6.6" fill="#143c17"/><ellipse cx="1902.6" cy="1567" rx="13.7" ry="9.6" fill="#143c17"/><ellipse cx="1933.7" cy="1616.4" rx="9.3" ry="6.5" fill="#225426"/><ellipse cx="1894.5" cy="1551" rx="10.6" ry="7.4" fill="#225426"/><ellipse cx="1903" cy="1560.8" rx="10.2" ry="7.1" fill="#225426"/><ellipse cx="1928.8" cy="1550.3" rx="14.7" ry="10.3" fill="#1a481c"/><ellipse cx="1909.2" cy="1530.8" rx="17.6" ry="12.3" fill="#143c17"/><ellipse cx="1895.2" cy="1527.9" rx="11" ry="7.7" fill="#225426"/><ellipse cx="1949" cy="1550.7" rx="18.7" ry="13.1" fill="#143c17"/><ellipse cx="1901.1" cy="1584.6" rx="9.3" ry="6.5" fill="#225426"/><ellipse cx="1928.3" cy="1526.8" rx="12.7" ry="8.9" fill="#143c17"/><ellipse cx="1912.4" cy="1603.1" rx="10.1" ry="7.1" fill="#225426"/><ellipse cx="1950" cy="1614.3" rx="14.9" ry="10.4" fill="#1a481c"/><ellipse cx="1952.3" cy="1596" rx="14" ry="9.8" fill="#1a481c"/><ellipse cx="1881.8" cy="1536.6" rx="11.8" ry="8.3" fill="#143c17"/><ellipse cx="1887.3" cy="1570.6" rx="13.8" ry="9.6" fill="#143c17"/><ellipse cx="1931.1" cy="1566.1" rx="17.1" ry="12" fill="#1a481c"/><ellipse cx="1951.2" cy="1596.9" rx="8.1" ry="5.6" fill="#225426"/><ellipse cx="1952.5" cy="1560.2" rx="17.9" ry="12.6" fill="#225426"/><ellipse cx="1950.7" cy="1557.5" rx="15.9" ry="11.1" fill="#225426"/><ellipse cx="1882.8" cy="1575.1" rx="18.3" ry="12.8" fill="#143c17"/><ellipse cx="1935.7" cy="1580.9" rx="7.9" ry="5.5" fill="#0f3011"/><ellipse cx="1915.3" cy="1551.1" rx="9.9" ry="6.9" fill="#225426"/><ellipse cx="1896" cy="1539" rx="11.5" ry="8" fill="#0f3011"/><ellipse cx="1920.6" cy="1528" rx="10.2" ry="7.2" fill="#0f3011"/><ellipse cx="1898.9" cy="1560" rx="8.2" ry="5.7" fill="#143c17"/><ellipse cx="1955.4" cy="1587.2" rx="16.2" ry="11.3" fill="#1a481c"/><ellipse cx="1953.5" cy="1615.1" rx="14.4" ry="10.1" fill="#225426"/><ellipse cx="1887" cy="1580.7" rx="18.1" ry="12.7" fill="#143c17"/><ellipse cx="1948.4" cy="1546.9" rx="13.9" ry="9.7" fill="#1a481c"/><ellipse cx="1890.7" cy="1579.5" rx="11" ry="7.7" fill="#1a481c"/><ellipse cx="1952.6" cy="1548.3" rx="8.7" ry="6.1" fill="#225426"/><ellipse cx="1895.2" cy="1572.5" rx="12.6" ry="8.8" fill="#143c17"/><ellipse cx="1884.3" cy="1532.3" rx="11" ry="7.7" fill="#143c17"/><ellipse cx="1908.3" cy="1576.5" rx="8.4" ry="5.9" fill="#225426"/><ellipse cx="1944.9" cy="1546.2" rx="18.1" ry="12.7" fill="#143c17"/><ellipse cx="1950.3" cy="1564.3" rx="16.8" ry="11.8" fill="#0f3011"/><ellipse cx="1907.6" cy="1563.9" rx="11.4" ry="8" fill="#0f3011"/></g>
<g opacity="0.97" filter="url(#b1)"><ellipse cx="2153.5" cy="1524.7" rx="14.3" ry="10" fill="#1a481c"/><ellipse cx="2114" cy="1554.7" rx="9.7" ry="6.8" fill="#1a481c"/><ellipse cx="2163.3" cy="1566.6" rx="12.3" ry="8.6" fill="#0f3011"/><ellipse cx="2152.7" cy="1560.6" rx="18.2" ry="12.8" fill="#0f3011"/><ellipse cx="2163.8" cy="1544.8" rx="15.4" ry="10.7" fill="#143c17"/><ellipse cx="2125.2" cy="1555.9" rx="10.4" ry="7.3" fill="#0f3011"/><ellipse cx="2133.8" cy="1540.8" rx="15.2" ry="10.7" fill="#0f3011"/><ellipse cx="2126.2" cy="1571.9" rx="13.4" ry="9.4" fill="#1a481c"/><ellipse cx="2239.6" cy="1566.1" rx="15.5" ry="10.8" fill="#143c17"/><ellipse cx="2129.2" cy="1572" rx="15.2" ry="10.6" fill="#143c17"/><ellipse cx="2080" cy="1523.1" rx="18.8" ry="13.2" fill="#1a481c"/><ellipse cx="2097.1" cy="1536.1" rx="14.9" ry="10.4" fill="#0f3011"/><ellipse cx="2194.4" cy="1537.3" rx="20.3" ry="14.2" fill="#0f3011"/><ellipse cx="2113.3" cy="1533.5" rx="20" ry="14" fill="#225426"/><ellipse cx="2063.9" cy="1585.2" rx="10" ry="7" fill="#0f3011"/><ellipse cx="2219.4" cy="1543.8" rx="9.9" ry="6.9" fill="#143c17"/><ellipse cx="2057.8" cy="1553.6" rx="9.3" ry="6.5" fill="#0f3011"/><ellipse cx="2115.7" cy="1575.9" rx="14.4" ry="10" fill="#1a481c"/><ellipse cx="2074" cy="1540.3" rx="9.7" ry="6.8" fill="#0f3011"/><ellipse cx="2209.2" cy="1512.2" rx="16.6" ry="11.6" fill="#225426"/><ellipse cx="2109.8" cy="1524.6" rx="16.8" ry="11.8" fill="#143c17"/><ellipse cx="2116.7" cy="1552" rx="18.2" ry="12.7" fill="#143c17"/><ellipse cx="2218.5" cy="1543.6" rx="16.2" ry="11.3" fill="#0f3011"/><ellipse cx="2077.6" cy="1582.3" rx="17.4" ry="12.2" fill="#0f3011"/><ellipse cx="2158" cy="1568.7" rx="14.8" ry="10.4" fill="#1a481c"/><ellipse cx="2078.7" cy="1555.9" rx="10.4" ry="7.3" fill="#0f3011"/><ellipse cx="2114.4" cy="1562" rx="20" ry="14" fill="#1a481c"/><ellipse cx="2100.2" cy="1542.9" rx="9.6" ry="6.7" fill="#225426"/><ellipse cx="2203.9" cy="1541.7" rx="10.7" ry="7.5" fill="#0f3011"/><ellipse cx="2196.2" cy="1562.1" rx="12.1" ry="8.5" fill="#1a481c"/><ellipse cx="2175.2" cy="1568.9" rx="16.2" ry="11.3" fill="#225426"/><ellipse cx="2230.9" cy="1541.2" rx="17.6" ry="12.3" fill="#143c17"/><ellipse cx="2133.2" cy="1554.1" rx="8.4" ry="5.9" fill="#0f3011"/><ellipse cx="2132.3" cy="1518.4" rx="19.8" ry="13.8" fill="#143c17"/><ellipse cx="2220.6" cy="1552.5" rx="8.5" ry="5.9" fill="#0f3011"/><ellipse cx="2048.4" cy="1544.6" rx="16.2" ry="11.3" fill="#0f3011"/><ellipse cx="2105.1" cy="1525.1" rx="12.8" ry="9" fill="#225426"/><ellipse cx="2052.4" cy="1525.3" rx="18.2" ry="12.8" fill="#0f3011"/><ellipse cx="2187.7" cy="1536" rx="17.3" ry="12.1" fill="#0f3011"/><ellipse cx="2176.1" cy="1566.6" rx="18.1" ry="12.7" fill="#1a481c"/><ellipse cx="2132.4" cy="1567.2" rx="8.9" ry="6.2" fill="#143c17"/><ellipse cx="2060.7" cy="1588.7" rx="16.4" ry="11.4" fill="#143c17"/><ellipse cx="2174" cy="1544.3" rx="14.2" ry="9.9" fill="#225426"/><ellipse cx="2187.3" cy="1517.2" rx="20" ry="14" fill="#1a481c"/><ellipse cx="2202.9" cy="1592.4" rx="17.8" ry="12.5" fill="#0f3011"/><ellipse cx="2161" cy="1548.8" rx="18" ry="12.6" fill="#225426"/><ellipse cx="2205.1" cy="1548.4" rx="16.6" ry="11.6" fill="#143c17"/><ellipse cx="2059.9" cy="1514.6" rx="13.9" ry="9.8" fill="#1a481c"/><ellipse cx="2082.5" cy="1538" rx="17.7" ry="12.4" fill="#143c17"/><ellipse cx="2244.4" cy="1580.8" rx="18.3" ry="12.8" fill="#143c17"/><ellipse cx="2228.8" cy="1533.9" rx="16.8" ry="11.7" fill="#0f3011"/><ellipse cx="2145.7" cy="1554.8" rx="13.8" ry="9.6" fill="#0f3011"/><ellipse cx="2111.9" cy="1518" rx="11.4" ry="8" fill="#0f3011"/><ellipse cx="2066.6" cy="1571.7" rx="13.7" ry="9.6" fill="#1a481c"/><ellipse cx="2222" cy="1544.4" rx="14" ry="9.8" fill="#225426"/><ellipse cx="2058.9" cy="1542.7" rx="16.3" ry="11.4" fill="#0f3011"/><ellipse cx="2135" cy="1547.2" rx="19.3" ry="13.5" fill="#1a481c"/><ellipse cx="2099.7" cy="1547.1" rx="8" ry="5.6" fill="#143c17"/><ellipse cx="2065.4" cy="1511.7" rx="17.3" ry="12.1" fill="#225426"/><ellipse cx="2075.9" cy="1548.3" rx="18.5" ry="12.9" fill="#143c17"/><ellipse cx="2159" cy="1550.6" rx="10.7" ry="7.5" fill="#0f3011"/><ellipse cx="2233.5" cy="1528.2" rx="13.6" ry="9.5" fill="#0f3011"/><ellipse cx="2209.9" cy="1586.6" rx="19.2" ry="13.5" fill="#1a481c"/><ellipse cx="2049.5" cy="1586.7" rx="13.7" ry="9.6" fill="#143c17"/><ellipse cx="2126.5" cy="1547" rx="15.6" ry="10.9" fill="#143c17"/><ellipse cx="2080.5" cy="1569.1" rx="11.7" ry="8.2" fill="#225426"/><ellipse cx="2072.1" cy="1517.2" rx="16.2" ry="11.3" fill="#1a481c"/><ellipse cx="2203" cy="1561.8" rx="9.7" ry="6.8" fill="#0f3011"/><ellipse cx="2233.7" cy="1528" rx="8.5" ry="5.9" fill="#0f3011"/><ellipse cx="2069" cy="1544.6" rx="20" ry="14" fill="#1a481c"/></g>
<g opacity="0.96" filter="url(#b1)"><ellipse cx="2159.7" cy="1595.6" rx="14" ry="9.8" fill="#153d17"/><ellipse cx="2202.9" cy="1613" rx="8" ry="5.6" fill="#1c4a1e"/><ellipse cx="2241.7" cy="1612.6" rx="7.6" ry="5.3" fill="#0f3011"/><ellipse cx="2190.4" cy="1589.6" rx="12.4" ry="8.7" fill="#1c4a1e"/><ellipse cx="2129.6" cy="1613.3" rx="11" ry="7.7" fill="#153d17"/><ellipse cx="2178" cy="1593.1" rx="17.2" ry="12.1" fill="#1c4a1e"/><ellipse cx="2210.6" cy="1590.7" rx="12.3" ry="8.6" fill="#153d17"/><ellipse cx="2118" cy="1621" rx="14.6" ry="10.2" fill="#153d17"/><ellipse cx="2138.1" cy="1586.3" rx="11.3" ry="7.9" fill="#1c4a1e"/><ellipse cx="2225" cy="1606.5" rx="9" ry="6.3" fill="#0f3011"/><ellipse cx="2166.8" cy="1596.4" rx="8.5" ry="6" fill="#1c4a1e"/><ellipse cx="2210.3" cy="1623.2" rx="15.6" ry="11" fill="#1c4a1e"/><ellipse cx="2126.2" cy="1592.2" rx="14.2" ry="10" fill="#153d17"/><ellipse cx="2171.6" cy="1585.6" rx="14" ry="9.8" fill="#153d17"/><ellipse cx="2178" cy="1621.9" rx="16" ry="11.2" fill="#0f3011"/><ellipse cx="2169.5" cy="1624" rx="7.7" ry="5.4" fill="#0f3011"/><ellipse cx="2198.9" cy="1598.5" rx="11.2" ry="7.8" fill="#0f3011"/><ellipse cx="2142.8" cy="1586.6" rx="17.1" ry="12" fill="#153d17"/><ellipse cx="2170.9" cy="1595.1" rx="12.9" ry="9" fill="#153d17"/><ellipse cx="2144.8" cy="1622.8" rx="16.4" ry="11.5" fill="#0f3011"/><ellipse cx="2136.6" cy="1602.2" rx="15.1" ry="10.6" fill="#153d17"/><ellipse cx="2136" cy="1624.9" rx="13.4" ry="9.4" fill="#153d17"/><ellipse cx="2217.5" cy="1602.5" rx="13.4" ry="9.4" fill="#153d17"/><ellipse cx="2214.9" cy="1589.3" rx="7.9" ry="5.5" fill="#153d17"/><ellipse cx="2196.8" cy="1628.4" rx="14.8" ry="10.4" fill="#0f3011"/><ellipse cx="2164.3" cy="1602.4" rx="11.9" ry="8.4" fill="#153d17"/><ellipse cx="2113" cy="1588.8" rx="14.7" ry="10.3" fill="#0f3011"/><ellipse cx="2112.4" cy="1613.8" rx="16.5" ry="11.5" fill="#1c4a1e"/><ellipse cx="2222.7" cy="1627.7" rx="10.5" ry="7.4" fill="#1c4a1e"/><ellipse cx="2136.3" cy="1623.5" rx="10.1" ry="7.1" fill="#153d17"/><ellipse cx="2190.1" cy="1593" rx="17.2" ry="12.1" fill="#153d17"/><ellipse cx="2122.8" cy="1617.3" rx="11.4" ry="8" fill="#153d17"/><ellipse cx="2128.1" cy="1630.8" rx="12.7" ry="8.9" fill="#153d17"/><ellipse cx="2120.7" cy="1613.6" rx="10.4" ry="7.3" fill="#153d17"/><ellipse cx="2186.7" cy="1590.7" rx="13.3" ry="9.3" fill="#153d17"/><ellipse cx="2241.2" cy="1586.2" rx="12.1" ry="8.4" fill="#1c4a1e"/><ellipse cx="2192" cy="1610.1" rx="8.8" ry="6.2" fill="#1c4a1e"/><ellipse cx="2119.3" cy="1598.9" rx="13.1" ry="9.2" fill="#0f3011"/><ellipse cx="2231.1" cy="1592.2" rx="11.3" ry="7.9" fill="#153d17"/><ellipse cx="2147.4" cy="1602.8" rx="16.5" ry="11.6" fill="#1c4a1e"/></g>
<g opacity="0.97" filter="url(#b1)"><ellipse cx="2243.3" cy="1555" rx="18.9" ry="13.2" fill="#0f3011"/><ellipse cx="2284.3" cy="1514.4" rx="9.6" ry="6.7" fill="#1a481c"/><ellipse cx="2286.7" cy="1520.6" rx="17.4" ry="12.2" fill="#143c17"/><ellipse cx="2267" cy="1572.5" rx="10.8" ry="7.5" fill="#1a481c"/><ellipse cx="2242.1" cy="1522.2" rx="7.9" ry="5.5" fill="#1a481c"/><ellipse cx="2244" cy="1550.5" rx="12.8" ry="8.9" fill="#1a481c"/><ellipse cx="2295.3" cy="1562.6" rx="15.6" ry="10.9" fill="#143c17"/><ellipse cx="2272.2" cy="1513.9" rx="11.9" ry="8.4" fill="#143c17"/><ellipse cx="2303.1" cy="1578.6" rx="11.8" ry="8.3" fill="#0f3011"/><ellipse cx="2247" cy="1550.8" rx="13.7" ry="9.6" fill="#225426"/><ellipse cx="2254.9" cy="1588.8" rx="17.6" ry="12.3" fill="#1a481c"/><ellipse cx="2287.6" cy="1592.9" rx="13.2" ry="9.2" fill="#225426"/><ellipse cx="2301.4" cy="1587" rx="12" ry="8.4" fill="#1a481c"/><ellipse cx="2247.6" cy="1550.5" rx="16.9" ry="11.9" fill="#143c17"/><ellipse cx="2259.5" cy="1568.9" rx="9.9" ry="6.9" fill="#0f3011"/><ellipse cx="2292.4" cy="1513.2" rx="13.5" ry="9.5" fill="#1a481c"/><ellipse cx="2287.2" cy="1538.3" rx="11.4" ry="8" fill="#143c17"/><ellipse cx="2295" cy="1587.9" rx="10.6" ry="7.4" fill="#225426"/><ellipse cx="2277.8" cy="1556" rx="13.6" ry="9.5" fill="#0f3011"/><ellipse cx="2245.7" cy="1529" rx="9.5" ry="6.7" fill="#225426"/><ellipse cx="2254.4" cy="1593" rx="18.6" ry="13" fill="#1a481c"/><ellipse cx="2291.5" cy="1543.7" rx="18.9" ry="13.2" fill="#1a481c"/><ellipse cx="2290.2" cy="1539.2" rx="18.3" ry="12.8" fill="#0f3011"/><ellipse cx="2253.5" cy="1573.7" rx="15" ry="10.5" fill="#0f3011"/><ellipse cx="2253.7" cy="1577.1" rx="11.7" ry="8.2" fill="#143c17"/><ellipse cx="2301.3" cy="1564.3" rx="12.8" ry="9" fill="#225426"/><ellipse cx="2292.6" cy="1554.5" rx="13.1" ry="9.2" fill="#225426"/><ellipse cx="2261.7" cy="1581.5" rx="10.9" ry="7.6" fill="#1a481c"/><ellipse cx="2249.7" cy="1525.1" rx="8.2" ry="5.7" fill="#225426"/><ellipse cx="2295.7" cy="1558" rx="8.2" ry="5.7" fill="#0f3011"/></g>
<g opacity="0.97" filter="url(#b1)"><ellipse cx="2430.1" cy="1563.6" rx="19.3" ry="13.5" fill="#103312"/><ellipse cx="2433.4" cy="1580.9" rx="11.6" ry="8.1" fill="#103312"/><ellipse cx="2508.7" cy="1537.5" rx="10.5" ry="7.3" fill="#103312"/><ellipse cx="2576.2" cy="1593.3" rx="15.6" ry="10.9" fill="#103312"/><ellipse cx="2579.2" cy="1558.8" rx="10.5" ry="7.4" fill="#265a26"/><ellipse cx="2558.8" cy="1588" rx="17.2" ry="12" fill="#103312"/><ellipse cx="2477.3" cy="1567" rx="9.8" ry="6.8" fill="#1d4c1f"/><ellipse cx="2536.6" cy="1562" rx="17.7" ry="12.4" fill="#163f18"/><ellipse cx="2426.4" cy="1529.7" rx="11.2" ry="7.9" fill="#265a26"/><ellipse cx="2445.4" cy="1588.8" rx="11.8" ry="8.3" fill="#1d4c1f"/><ellipse cx="2568.5" cy="1574.7" rx="19.3" ry="13.5" fill="#265a26"/><ellipse cx="2422.2" cy="1584.5" rx="15.2" ry="10.6" fill="#265a26"/><ellipse cx="2408" cy="1525" rx="10.9" ry="7.7" fill="#265a26"/><ellipse cx="2385.5" cy="1593.9" rx="14" ry="9.8" fill="#265a26"/><ellipse cx="2403.4" cy="1578" rx="9" ry="6.3" fill="#163f18"/><ellipse cx="2480.5" cy="1594.5" rx="15" ry="10.5" fill="#103312"/><ellipse cx="2459.9" cy="1574.4" rx="14.3" ry="10" fill="#265a26"/><ellipse cx="2544.6" cy="1594.1" rx="10.1" ry="7.1" fill="#103312"/><ellipse cx="2455.2" cy="1572.6" rx="10.3" ry="7.2" fill="#103312"/><ellipse cx="2445.6" cy="1554.7" rx="20.3" ry="14.2" fill="#265a26"/><ellipse cx="2563.6" cy="1595.8" rx="16.2" ry="11.3" fill="#1d4c1f"/><ellipse cx="2436.2" cy="1537.4" rx="18.9" ry="13.2" fill="#163f18"/><ellipse cx="2565.2" cy="1554.3" rx="20.3" ry="14.2" fill="#103312"/><ellipse cx="2496.1" cy="1529.9" rx="16.7" ry="11.7" fill="#163f18"/><ellipse cx="2532.8" cy="1602.6" rx="13.9" ry="9.7" fill="#103312"/><ellipse cx="2579.2" cy="1594.5" rx="18.2" ry="12.8" fill="#1d4c1f"/><ellipse cx="2458.3" cy="1564.2" rx="17.4" ry="12.2" fill="#103312"/><ellipse cx="2583.1" cy="1525.3" rx="10.9" ry="7.6" fill="#1d4c1f"/><ellipse cx="2412.4" cy="1561.4" rx="14.3" ry="10" fill="#103312"/><ellipse cx="2397.4" cy="1526.1" rx="19.3" ry="13.5" fill="#103312"/><ellipse cx="2558.7" cy="1553.9" rx="13.6" ry="9.5" fill="#265a26"/><ellipse cx="2392" cy="1557.9" rx="16.4" ry="11.5" fill="#1d4c1f"/><ellipse cx="2575.3" cy="1545.8" rx="8.9" ry="6.2" fill="#1d4c1f"/><ellipse cx="2391.6" cy="1587.2" rx="10.2" ry="7.2" fill="#163f18"/><ellipse cx="2498.3" cy="1521.5" rx="15.7" ry="11" fill="#1d4c1f"/><ellipse cx="2499.1" cy="1544.1" rx="19" ry="13.3" fill="#265a26"/><ellipse cx="2414.6" cy="1556.1" rx="7.9" ry="5.5" fill="#1d4c1f"/><ellipse cx="2534.9" cy="1545.2" rx="10" ry="7" fill="#265a26"/><ellipse cx="2396" cy="1557.9" rx="8.3" ry="5.8" fill="#1d4c1f"/><ellipse cx="2554.3" cy="1598.6" rx="16.9" ry="11.8" fill="#163f18"/><ellipse cx="2466.6" cy="1540" rx="18.7" ry="13.1" fill="#163f18"/><ellipse cx="2580.9" cy="1540.4" rx="19.5" ry="13.7" fill="#1d4c1f"/><ellipse cx="2402.1" cy="1566.5" rx="20.5" ry="14.3" fill="#103312"/><ellipse cx="2487.5" cy="1537.1" rx="9" ry="6.3" fill="#265a26"/><ellipse cx="2534.2" cy="1591.6" rx="9.6" ry="6.7" fill="#265a26"/><ellipse cx="2536.2" cy="1586.3" rx="20" ry="14" fill="#265a26"/><ellipse cx="2390.2" cy="1527.3" rx="15.1" ry="10.6" fill="#103312"/><ellipse cx="2385.3" cy="1554.4" rx="9.4" ry="6.6" fill="#163f18"/><ellipse cx="2463.7" cy="1560.4" rx="18.7" ry="13.1" fill="#163f18"/><ellipse cx="2579.6" cy="1538.3" rx="12.1" ry="8.5" fill="#163f18"/><ellipse cx="2457.8" cy="1546.4" rx="15.9" ry="11.2" fill="#163f18"/><ellipse cx="2437.5" cy="1539.6" rx="15.7" ry="11" fill="#103312"/><ellipse cx="2543.3" cy="1600.7" rx="12.4" ry="8.7" fill="#265a26"/><ellipse cx="2584.2" cy="1531.1" rx="13.5" ry="9.4" fill="#1d4c1f"/><ellipse cx="2563.5" cy="1543.1" rx="15.9" ry="11.2" fill="#103312"/><ellipse cx="2537" cy="1554.9" rx="19.5" ry="13.6" fill="#265a26"/><ellipse cx="2535" cy="1564.8" rx="14.3" ry="10" fill="#1d4c1f"/><ellipse cx="2565.2" cy="1562.5" rx="10.4" ry="7.3" fill="#103312"/><ellipse cx="2485.3" cy="1589.9" rx="18.7" ry="13.1" fill="#265a26"/><ellipse cx="2412.7" cy="1526" rx="10.4" ry="7.3" fill="#265a26"/><ellipse cx="2550.8" cy="1542.8" rx="16.4" ry="11.5" fill="#103312"/><ellipse cx="2476.1" cy="1592.9" rx="12.6" ry="8.8" fill="#265a26"/><ellipse cx="2469.3" cy="1524.1" rx="9" ry="6.3" fill="#163f18"/><ellipse cx="2388.3" cy="1540.6" rx="14" ry="9.8" fill="#1d4c1f"/><ellipse cx="2560" cy="1585.3" rx="9.6" ry="6.7" fill="#103312"/><ellipse cx="2485.7" cy="1600.9" rx="18.3" ry="12.8" fill="#265a26"/><ellipse cx="2519.8" cy="1587.4" rx="7.9" ry="5.5" fill="#163f18"/><ellipse cx="2494.8" cy="1572.4" rx="8.3" ry="5.8" fill="#1d4c1f"/><ellipse cx="2441.8" cy="1601.7" rx="10.6" ry="7.4" fill="#265a26"/><ellipse cx="2396.5" cy="1596.5" rx="17.4" ry="12.2" fill="#1d4c1f"/><ellipse cx="2458.3" cy="1533.5" rx="9.9" ry="7" fill="#103312"/><ellipse cx="2476.5" cy="1550.2" rx="14.7" ry="10.3" fill="#1d4c1f"/><ellipse cx="2420.1" cy="1556.5" rx="19.6" ry="13.7" fill="#103312"/><ellipse cx="2414.1" cy="1539.9" rx="17.8" ry="12.5" fill="#1d4c1f"/><ellipse cx="2392.9" cy="1568.3" rx="19.1" ry="13.4" fill="#265a26"/><ellipse cx="2508.1" cy="1573.3" rx="9" ry="6.3" fill="#265a26"/><ellipse cx="2443.1" cy="1551.9" rx="16.1" ry="11.3" fill="#163f18"/><ellipse cx="2565.7" cy="1536.8" rx="12.4" ry="8.7" fill="#163f18"/><ellipse cx="2497.5" cy="1580.8" rx="10.1" ry="7.1" fill="#103312"/><ellipse cx="2414.3" cy="1551.2" rx="14.1" ry="9.8" fill="#1d4c1f"/><ellipse cx="2416.6" cy="1602.2" rx="8.7" ry="6.1" fill="#265a26"/><ellipse cx="2411.1" cy="1601.3" rx="13.3" ry="9.3" fill="#163f18"/><ellipse cx="2445.1" cy="1542.8" rx="10.3" ry="7.2" fill="#265a26"/><ellipse cx="2398.6" cy="1582.7" rx="20" ry="14" fill="#163f18"/><ellipse cx="2510" cy="1596.2" rx="17.9" ry="12.5" fill="#265a26"/><ellipse cx="2434.6" cy="1529.8" rx="17.8" ry="12.4" fill="#265a26"/><ellipse cx="2408.9" cy="1542.9" rx="10.8" ry="7.6" fill="#265a26"/><ellipse cx="2434.3" cy="1599.8" rx="10.2" ry="7.2" fill="#1d4c1f"/><ellipse cx="2488.2" cy="1554" rx="17.8" ry="12.5" fill="#265a26"/><ellipse cx="2552.6" cy="1526" rx="12.3" ry="8.6" fill="#265a26"/></g>
<g opacity="0.96" filter="url(#b1)"><ellipse cx="2476.7" cy="1623.4" rx="7.6" ry="5.3" fill="#103312"/><ellipse cx="2508" cy="1639.2" rx="8" ry="5.6" fill="#103312"/><ellipse cx="2440.1" cy="1593.6" rx="7.6" ry="5.3" fill="#163f18"/><ellipse cx="2463.2" cy="1634.3" rx="13.4" ry="9.4" fill="#163f18"/><ellipse cx="2500.2" cy="1606.7" rx="8.3" ry="5.8" fill="#103312"/><ellipse cx="2527.2" cy="1619" rx="7.9" ry="5.5" fill="#163f18"/><ellipse cx="2507.6" cy="1595.3" rx="9.1" ry="6.4" fill="#163f18"/><ellipse cx="2454.2" cy="1640.4" rx="12.3" ry="8.6" fill="#103312"/><ellipse cx="2466.5" cy="1594.4" rx="14.6" ry="10.2" fill="#103312"/><ellipse cx="2507.9" cy="1605" rx="15.3" ry="10.7" fill="#1d4c1f"/><ellipse cx="2518.2" cy="1631.4" rx="11.9" ry="8.3" fill="#1d4c1f"/><ellipse cx="2495.1" cy="1621.8" rx="11.7" ry="8.2" fill="#163f18"/><ellipse cx="2495.1" cy="1631.5" rx="17.1" ry="12" fill="#1d4c1f"/><ellipse cx="2474.5" cy="1621.3" rx="8.1" ry="5.7" fill="#163f18"/><ellipse cx="2497.6" cy="1595.9" rx="12" ry="8.4" fill="#163f18"/><ellipse cx="2531.4" cy="1637.2" rx="17.1" ry="11.9" fill="#163f18"/><ellipse cx="2430.7" cy="1633.3" rx="17.2" ry="12.1" fill="#1d4c1f"/><ellipse cx="2523.2" cy="1632" rx="14.8" ry="10.3" fill="#1d4c1f"/><ellipse cx="2502.9" cy="1632" rx="15.7" ry="11" fill="#103312"/><ellipse cx="2464.6" cy="1596.6" rx="14" ry="9.8" fill="#103312"/><ellipse cx="2436.5" cy="1617.8" rx="17.2" ry="12" fill="#103312"/><ellipse cx="2536.2" cy="1617" rx="12.9" ry="9.1" fill="#103312"/><ellipse cx="2429.9" cy="1622" rx="8.5" ry="5.9" fill="#163f18"/><ellipse cx="2533.5" cy="1595.2" rx="16.8" ry="11.7" fill="#103312"/><ellipse cx="2445.9" cy="1626.8" rx="16.3" ry="11.4" fill="#1d4c1f"/><ellipse cx="2515.2" cy="1593.9" rx="15.9" ry="11.1" fill="#1d4c1f"/><ellipse cx="2445" cy="1609.3" rx="13.6" ry="9.5" fill="#1d4c1f"/><ellipse cx="2436.5" cy="1616.9" rx="15.6" ry="10.9" fill="#1d4c1f"/><ellipse cx="2507.6" cy="1597.8" rx="11.3" ry="7.9" fill="#1d4c1f"/><ellipse cx="2431.3" cy="1628.2" rx="9.8" ry="6.9" fill="#103312"/><ellipse cx="2479.7" cy="1602.8" rx="10.2" ry="7.2" fill="#1d4c1f"/><ellipse cx="2446" cy="1607.4" rx="14.1" ry="9.9" fill="#103312"/><ellipse cx="2529.6" cy="1618.3" rx="15.5" ry="10.8" fill="#1d4c1f"/><ellipse cx="2482.1" cy="1622.2" rx="7.4" ry="5.2" fill="#163f18"/></g>
<g opacity="0.96" filter="url(#b1)"><ellipse cx="2503.4" cy="1521.1" rx="8" ry="5.6" fill="#265a26"/><ellipse cx="2450.1" cy="1517.5" rx="14.1" ry="9.9" fill="#1d4c1f"/><ellipse cx="2480.1" cy="1519.4" rx="12.5" ry="8.7" fill="#163f18"/><ellipse cx="2452.2" cy="1519.6" rx="10.4" ry="7.2" fill="#1d4c1f"/><ellipse cx="2484.8" cy="1532.9" rx="10.2" ry="7.1" fill="#1d4c1f"/><ellipse cx="2495.5" cy="1514" rx="12.9" ry="9" fill="#1d4c1f"/><ellipse cx="2509.5" cy="1522.3" rx="14.4" ry="10.1" fill="#163f18"/><ellipse cx="2484.2" cy="1519.7" rx="11.8" ry="8.2" fill="#163f18"/><ellipse cx="2491.6" cy="1513.6" rx="10.8" ry="7.6" fill="#163f18"/><ellipse cx="2476.8" cy="1522.8" rx="9.2" ry="6.4" fill="#265a26"/><ellipse cx="2548.1" cy="1525.5" rx="8.8" ry="6.2" fill="#163f18"/><ellipse cx="2461.3" cy="1526.2" rx="13" ry="9.1" fill="#1d4c1f"/><ellipse cx="2518.3" cy="1517.9" rx="9.3" ry="6.5" fill="#1d4c1f"/><ellipse cx="2529.1" cy="1529" rx="9.5" ry="6.6" fill="#163f18"/><ellipse cx="2552.3" cy="1533.8" rx="12.3" ry="8.6" fill="#265a26"/><ellipse cx="2560.7" cy="1519.5" rx="12.8" ry="8.9" fill="#265a26"/><ellipse cx="2474.9" cy="1512.8" rx="9.6" ry="6.7" fill="#1d4c1f"/><ellipse cx="2561" cy="1515" rx="11.8" ry="8.3" fill="#1d4c1f"/><ellipse cx="2458.1" cy="1532.2" rx="14.3" ry="10" fill="#163f18"/><ellipse cx="2481.8" cy="1529.1" rx="9" ry="6.3" fill="#265a26"/><ellipse cx="2535" cy="1532.8" rx="15.2" ry="10.6" fill="#163f18"/><ellipse cx="2459.1" cy="1517" rx="13.9" ry="9.7" fill="#265a26"/><ellipse cx="2488.1" cy="1521.7" rx="14.3" ry="10" fill="#163f18"/><ellipse cx="2557.2" cy="1530.4" rx="14.9" ry="10.4" fill="#265a26"/></g>
<path d="M2156.2 1561.9L2160.3 1572.2M1971.5 1599.2L1972.9 1606.5M1915.9 1548L1923.6 1552M2096.5 1518.8L2090.6 1525.1M2015.4 1552.1L2008.9 1556.1M2222.1 1606.1L2225.4 1610.7M2067 1533.2L2063.8 1538.6M2199.3 1516L2205.5 1520.3M1918.8 1613.3L1924.2 1615.2M2156.5 1524.8L2162.5 1526.7M2114.5 1585.7L2111.6 1591M1915.8 1605.8L1926.1 1609.7M2214.9 1515L2216.4 1523.3M2016.9 1567.6L2019 1575.4M2030.9 1604.8L2032.6 1611.5M2109.4 1596.9L2107.4 1605.3M2227.3 1512.9L2237.4 1516.8M1996.5 1596.8L1992.7 1606.6M2013.2 1605.3L2008 1613.1M1892 1553.7L1887.3 1557.2M2169.4 1592.4L2167.3 1598.7M2194.9 1518.8L2186.5 1524M2153.6 1536.4L2145.6 1540.3M2203.8 1612.6L2209.9 1617.6M2217.7 1612.1L2224.9 1614.8M2109.2 1581.7L2105.3 1589.7M2144.4 1585.4L2137.8 1591.7M2123.1 1536.7L2115.2 1537.9M2235.9 1568.8L2235.1 1577.8M2066.5 1575.9L2060.5 1583.9M2089.6 1571.6L2079.8 1574.5M2122.1 1603.6L2121.7 1613.3M2027.8 1579.9L2034.9 1583.2M2026.6 1579.6L2031.7 1583.7M2118.2 1573L2111.8 1579.6M2195.6 1613.7L2189.7 1616.8M2067.9 1612.2L2068.3 1622.5M2098.2 1596.7L2092.2 1599.8M2005.3 1557.5L2001.4 1566.8M2026.7 1575.8L2018 1578.3M2180 1535.5L2175 1541.2M2171.2 1539.8L2174.3 1548M2114.3 1546.9L2113.5 1553.4M2041.2 1550.1L2045.8 1558.2M1892.1 1546.9L1885.6 1549.3M2112.9 1521.5L2105.8 1525.3M1892.6 1578.5L1894.4 1584.6M2193.1 1595.3L2192.1 1605.9M1898.5 1552.2L1904.3 1557.2M2023.2 1520.3L2023.6 1529.1M2135 1534.6L2142.6 1538.8M2033.5 1579.7L2026 1581.3M2120.4 1594.4L2123.3 1601.2M2129.2 1530.6L2133.2 1538.2M2126.5 1581.5L2120.5 1588.1M1988.9 1578.3L1988.2 1587.9M2178.2 1607L2176.7 1613.4M1975.7 1528.1L1971.9 1536.7M1984.6 1547.2L1989.9 1549.4M2072.9 1548.7L2074.2 1556.7M2207 1600.3L2213.7 1605M2122.8 1533.9L2132.3 1535.9M2009 1595.6L2002.5 1603.2M1881.3 1605.7L1880.4 1614.4M2040.2 1579.8L2047.3 1582.2M1946.4 1564.5L1955 1567.2M1893.6 1518.9L1895.8 1526.6M1992.4 1525.4L1984.4 1530.1M1881.5 1581.5L1886.3 1589.9M2221.7 1530.1L2217.8 1539.6M1971.6 1548.9L1970.8 1558.6M2048.7 1603.8L2050.5 1613.6M1982.5 1538.7L1981.4 1547.7M2098.8 1561.9L2105.7 1565.9M2050.8 1535.5L2054.2 1545.1M2214.7 1598.5L2211 1605.1M1897.4 1595L1901.8 1598.9M2081 1537L2081.1 1546.2M2060.2 1606.2L2062.2 1613M1988.9 1596.5L1996.5 1600.9M2200.1 1578.8L2204.4 1582.6M2027.9 1564.5L2029.6 1570.7M2090.2 1560.8L2100.2 1563.4M2127.7 1612.5L2133.7 1619.1M2009.6 1595.9L2003.9 1598.5M2149.5 1518.1L2157.4 1522.9M1953 1594.5L1953.8 1605M2195 1533.1L2196.9 1538.7M1910.9 1578.4L1904 1584.4M2126.6 1589.2L2121.9 1593.3M1915.9 1544L1912.5 1550.7M1978.6 1576.5L1975 1585M2069.1 1560.8L2064.1 1569.7M2214.9 1587.7L2220.2 1590.3M2221.9 1609.1L2220.1 1616.6M2211.8 1590.5L2204.2 1594.7M1995.4 1585.6L1994.2 1592.7M2105.8 1600.8L2114.5 1603.7M2147 1575.5L2139.2 1578.4M2186.1 1562.1L2186.6 1568.5M2204 1588.9L2201.9 1594.4M2169.7 1570L2171.5 1577.9M2153.2 1571.8L2144.7 1578.5M2216.7 1578.3L2220.9 1582.9M2087.6 1590.3L2095.9 1592.4M2149.8 1598.8L2146.7 1603.7M1914.7 1599.2L1919.5 1602.6M2195.7 1528.2L2197.7 1538.1M1966 1577.6L1956.1 1582M2197.8 1528.1L2191.2 1531.3M2213.5 1531.2L2208 1538M1903.8 1604.5L1898.3 1609.9M1897.6 1563L1903.9 1571.9M1994.1 1561.3L1996.4 1568.7M2019.4 1520.4L2020.2 1528.9M2178.3 1525.9L2182.7 1530.6M1979.3 1580.7L1976.2 1589.3M1967.4 1518.8L1973.7 1522.9M2186.1 1542L2185 1552.5M1894.8 1587.5L1896.1 1598M2189.5 1537.2L2180.3 1540M2066 1613.8L2064.8 1619.2M2230.5 1602.5L2224.3 1609.7M2057.3 1572.3L2052.4 1577M2131.8 1570.2L2139.8 1576.1M1903.8 1539.7L1899.3 1547.5M1900.5 1605.2L1899.1 1612M2074 1543.2L2077.2 1548.5M1921.3 1546.6L1922.3 1556.8M2163.1 1523.5L2158.3 1527.3M1991.4 1561.6L1986.1 1567.2M2128.6 1540.3L2135.2 1546.1M1957.1 1551.7L1960 1557.9M2083.4 1590.9L2083.3 1597.1M1901.2 1605.6L1901.3 1613.5M1993.8 1531.4L1994.8 1537M2009.4 1569.9L2011.5 1578.2M2014.2 1583.4L2013.8 1592.4M1973.4 1609.9L1971.9 1615.4" stroke="#0a2a0c" stroke-width="0.8" fill="none"/>
<path d="M2146.1 1604.3L2144 1610.9M2217 1575.7L2214.9 1582.1M1923.5 1579.6L1916.1 1584.7M1939.7 1532.6L1938.1 1542.8M2208.4 1521.4L2213.7 1526.1M2236.6 1571.3L2243.5 1575.9M1948 1586.4L1946.4 1595.7M2208.2 1585.4L2217.1 1587.4M1974.3 1559.6L1979.4 1567.9M2072.9 1535.9L2078.3 1536.9M2124.6 1519.5L2118.2 1527.4M2117.4 1523.5L2119.3 1531.3M1991.4 1608.9L1993.5 1619M2008.5 1511.4L2014 1520.2M2137.3 1563.6L2141.5 1571.4M2124.9 1604.1L2121.8 1611.8M2093.1 1551.3L2088.3 1557.3M2198.8 1560.4L2199.2 1568.3M2225.6 1526.4L2232.1 1532M2015.7 1548.1L2006.3 1550.9M2117.4 1529.9L2123.3 1531.2M1942.5 1592.7L1947.1 1600.1M1958.8 1552.6L1965.4 1555.8M2094.7 1590.2L2100.3 1592.9M2041.6 1559.1L2036.4 1562.1M2160.7 1604.9L2166.7 1612.9M1902.3 1538.8L1900.7 1548.3M1989.4 1614.6L1998.5 1616.7M2205 1534.7L2210.5 1535.5M2134.3 1515.8L2128.4 1522.3M1939.7 1606.1L1934.2 1609.5M2233.9 1606.8L2225.9 1609.5M2012.1 1594.8L2007.8 1604.3M1998.3 1611.3L1988.9 1616.6M2200.9 1519.2L2193.2 1521.3M2128.8 1517.7L2121.5 1522.5M2158.4 1533L2156.9 1541.2M1963 1588.3L1957.3 1592.9M2041.5 1541.6L2049.5 1548.9M2202.3 1537.4L2196.5 1539.8M2081.5 1543.6L2088.7 1548.2M2219.4 1532.6L2217.8 1538.8M2201.5 1516.6L2192.2 1521.5M2039.5 1551.6L2040 1559.9M2122.8 1598.2L2125.2 1605.4M2071 1519.8L2067 1524.9M2230.2 1529.6L2225.8 1535.7M2147.7 1557.7L2157.3 1560M2008.3 1545.3L2003.4 1548.2M2211 1526.5L2207.2 1536.6M2025 1614.1L2028.5 1620.7M2016.8 1607L2016.1 1612.8M2220.2 1534.2L2224.4 1539.1M1999.2 1570.2L2004.7 1572.4M2024.4 1551.7L2019.9 1560.7M2208.3 1540.4L2213.3 1543.1M2025.4 1525.8L2034 1530M1941.6 1585.2L1949.6 1592.2M2197.6 1593.1L2202.7 1597.9M1986.9 1614.5L1988.2 1621.6M2203.8 1526.2L2196.1 1527.9M2094.3 1557.2L2089.6 1566.9M2113.2 1577.9L2119.1 1585.2M2038.8 1576.1L2038 1583.1M2192.7 1576.5L2186.9 1577.5M2092.8 1542L2097.8 1546.3M1974.8 1593.4L1967.1 1597.5M2068.9 1567.7L2061.6 1569.9M2020.6 1592.8L2026.1 1599.2M2169.3 1532L2175.8 1534.9M2141.8 1587.3L2141 1596M1914 1602.8L1924.5 1605M2133.7 1573.1L2140.1 1582.1M1887.9 1523.2L1884.3 1531.3M1909.6 1517.9L1902.8 1522.5M1988 1549.7L1985.2 1560.1M2066.8 1553.7L2063.6 1558.7M1940.7 1610.8L1932.8 1612.7M2024 1522.9L2017.4 1528.2M2222.2 1541.1L2222.2 1546.8M2048.3 1553.6L2054 1556.5M2218.8 1547.1L2227.1 1553.4M1966.7 1606.5L1964.5 1613.8M2103.9 1520.6L2102.6 1529.4M2003.5 1584.1L1999.7 1591M1905.4 1525L1902.3 1530.8M2065.3 1570.2L2070 1575M2130.6 1539.1L2124.5 1541.5M2116.8 1515.3L2110.9 1517M1961.2 1522.7L1967 1527.7M1951.3 1542L1948.3 1550.6M2175.5 1572.5L2185.3 1577.2M1898.6 1530.6L1906.8 1532.6M2149.3 1527.9L2150.4 1533.4M2005.8 1562.9L1999.3 1565.2M1987.6 1524.3L1981.1 1525.6M1981.9 1556.4L1988.4 1563.7M2193.8 1559.6L2188.5 1563.7M1919.2 1581.2L1915.9 1588.4M2216 1533.7L2211.1 1539.4M2201.9 1551.3L2203.9 1556.9M1956.8 1513.1L1963.2 1518.7M2223.1 1537.3L2228.6 1539.1M2004.8 1595L2006.9 1602.4M2185.1 1603.8L2181.6 1614M2135.6 1522.2L2133.3 1528.2M1949.8 1548.1L1946.9 1556.8M2049.9 1515L2057.1 1518.2M1925.3 1544.7L1917.7 1548.6M2041.7 1567.3L2048.4 1574.7M2084.6 1546.3L2075.6 1548.7M2110.2 1570.5L2105.5 1574.5M2219.3 1527.4L2211.6 1532.5M1937.6 1562.5L1945.5 1569.8M2163.8 1577.4L2165.4 1583.2M2136.7 1540.7L2139.5 1547.7M2117.6 1577.6L2113.3 1587.1M2094.1 1602.1L2097.2 1608.9M1887.3 1559.3L1892.6 1562.3M2202.6 1512.5L2198 1517.1M1950.8 1584.1L1955.7 1590.6M2104.8 1516.6L2099.5 1519.6M2025.1 1517.4L2020.8 1524M1887.2 1562.2L1893.5 1563.8M1964.3 1522.4L1956.3 1529.9M1997.3 1596.8L2003.1 1601.5M2238.9 1593L2230.1 1596.9M2094 1538.2L2100.7 1545.9M2172 1513.8L2174.8 1522.9M2030.1 1581.9L2021.8 1587.5M1954.3 1524L1953.1 1534.7M1899.5 1604.1L1891.4 1605.9M2244 1614.8L2235.3 1616.7M2134.5 1588.8L2141.2 1592.3M2243.4 1586L2243.9 1597M2057.4 1593.6L2053.4 1598.5" stroke="#4a8c40" stroke-width="0.8" fill="none"/>
<path d="M2142.8 1545.4L2148.5 1546.9M2111.8 1566.9L2112.9 1575M2216.9 1588.2L2212.5 1597.8M2176.8 1544.1L2182.6 1547.8M2162.5 1516.1L2167.4 1522.7M1950.7 1530.2L1947.4 1535.8M1976.1 1525.9L1969.9 1527.6M2242.4 1553.4L2238.7 1563.1M2129.5 1599.5L2136.8 1602.8M1950.8 1554L1958.5 1556.2M2142.6 1536.8L2136.2 1537.9M2158.6 1561L2158 1567.1M2061.2 1517.3L2057.9 1522.5M2009.8 1539.4L2011.2 1545.9M2196.3 1516.7L2188.3 1521.3M2232.9 1555.3L2240.8 1559.5M1932.2 1548.1L1940.1 1553.5M2095.2 1585L2097.3 1593.5M1890.1 1527.3L1898.9 1532M2090.6 1529.3L2091.5 1535.3M2137.3 1515.7L2130.1 1521.7M2084.9 1547L2076.9 1552.3M2041.6 1529.8L2035.3 1531M1951.7 1594.6L1951.9 1602.4M2055.1 1528.5L2063.1 1531.3M2116.3 1576.3L2121.1 1580.5M1929.8 1543.7L1921.2 1547M2190.5 1524.5L2189.6 1534.3M2165.7 1576.5L2157.5 1582.4M2239.2 1534.4L2244.6 1543.5M1931 1520.4L1921.3 1524M2048.8 1590.3L2043.3 1598.7M2015.5 1591.4L2023.3 1596.9M2006.7 1517.6L1999.6 1525.3M2174 1561.4L2179.5 1562.7M2189.5 1602.5L2192.9 1607.5M1897.8 1587.2L1908.5 1589.7M2215 1595.8L2214.1 1601.8M1910 1592.4L1910.3 1598.4M2080 1560.5L2072.4 1567.9M2092.5 1537.8L2097.1 1544.5M1928.9 1553.1L1930.3 1562.8M1930.3 1614.1L1924.1 1619.3M2244.9 1580.2L2253.5 1586M2052.5 1569.6L2061.1 1573.6M1931.4 1513.2L1927.8 1518.3M2182.4 1569.7L2190.4 1575.5M2017.3 1542.2L2023.7 1546.5M2189.2 1548.8L2194.9 1550.3M1911.9 1546.7L1917.1 1554.1M2174.4 1552.4L2177.6 1559.8M1982.2 1546L1975.9 1552M1920.6 1604.2L1926.2 1610.2M2128.3 1555.6L2117.7 1557.4M2061.8 1563.8L2062.5 1572.1M1892.8 1519.8L1888.4 1525.7M1936.6 1565.6L1936 1572.8M1996.7 1583L1998.5 1589.8M2125.6 1558.9L2118.7 1561.1M1998 1600.2L1991.9 1601.3M2093.5 1570.4L2086.7 1576.6M2133.7 1517.4L2129.7 1523.5M2217.1 1577.2L2221.1 1586.6M2050.1 1520.7L2056.3 1525M1938.8 1584.4L1945.7 1590.1M2125.1 1542.8L2130.7 1546.7M2076.5 1529.9L2070.6 1537M2050.9 1517.7L2042.8 1524.7M2205.2 1519.1L2202.6 1526.2M2149.7 1608.5L2144.1 1616.7M2121.3 1542.3L2117.4 1546.9M1981.6 1568.8L1988.4 1571.1M1936.2 1574.9L1927.8 1579.2M1945.9 1531.2L1951.8 1540.5M2198.4 1602L2205.3 1606.8M1897.6 1531.4L1897.6 1541.3M1918.4 1587L1928.8 1588.8M2122.8 1522.9L2122.5 1530.4M2016.6 1595.9L2009.5 1599.7M2061.3 1522.8L2062 1530M1938.7 1563L1932.4 1566.9M2105.7 1555.1L2112.1 1559M2074 1572.3L2081.7 1575.9M2105 1517.4L2113.1 1523.3M2147.5 1530.3L2143.3 1536.5M2228 1528.6L2220.5 1534.7M1922.7 1532.1L1928 1533.7M1953.9 1534.4L1959.6 1538.3M2113.6 1555.1L2121.3 1559.1M2163.6 1591L2161.1 1600.8M1931.4 1578.9L1936.8 1583.6M2025.8 1553.8L2022.5 1559.6M1939.4 1560.5L1933.2 1561.5M2178.2 1572.4L2183.4 1581.1M1891.4 1550.6L1899.2 1553.6M2110 1607.4L2110.9 1613.5M2172.3 1545.4L2177.9 1550.8M2070.5 1527.2L2078.2 1528.8M1931.6 1538.2L1935.9 1545M2197.8 1552.9L2205 1556M2020.8 1612.3L2016.4 1617.4M2011.7 1555.6L2001.8 1558.6M2125.3 1602.2L2125.7 1611.1M1934.8 1554L1936.5 1561.6M1906.9 1567.8L1905.5 1576.7M2133.9 1575.2L2139.2 1581.3M1948.3 1568L1942.4 1570.8M1920.2 1572.9L1919.4 1579.6M2068.3 1548.9L2075.7 1555.4M2040.8 1535.3L2044.9 1539.8M1992.8 1535.9L1985.7 1539.7M2056.6 1585.8L2066.7 1589.8M1969.2 1548.6L1963 1549.7M1893.2 1537.7L1884 1543.3M2218 1517.2L2213.2 1525.4M1900.4 1554.8L1889.9 1557.8M1950.7 1591.1L1945.4 1597.4M2193.2 1529.6L2187.9 1535.7M2098.7 1593.8L2095.3 1598.6M2080.4 1574.9L2084.3 1583.9M2200.1 1553.1L2198.6 1558.7M2212.4 1553.7L2206.7 1557.1M1994.8 1511.4L2002 1516.4M2099.8 1513.7L2092.6 1518M2153 1580.6L2155.1 1589.7M1919.2 1579.1L1923.8 1586.9" stroke="#123a14" stroke-width="0.8" fill="none"/>
<path d="M2198.9 1544.4L2195.1 1548.6M2121.6 1540.4L2117.2 1547.7M2104.3 1578.8L2095.9 1582.5M2127.6 1577.8L2132.1 1587.5M2147.5 1607.7L2153.9 1609.3M1959.1 1534.1L1958.2 1539.7M1967 1605.7L1972.9 1613.5M2171.3 1530.7L2163.3 1535.1M2149.1 1573.8L2145 1577.9M2220.4 1518.7L2226.9 1525.4M2101.5 1530.7L2098.3 1539.9M2019.5 1576.7L2021.1 1587.3M1904 1513.5L1902.5 1519.2M2174.4 1597.5L2169 1598.7M2004 1586L2013.1 1591M1891 1607.1L1900.5 1610.3M1927 1600L1923.5 1606.5M2059.5 1551.6L2060 1560.8M2079.9 1571.4L2085.1 1575.4M1925.4 1598.8L1916.8 1604.5M2199.4 1586.6L2190.9 1592.6M1917.8 1583.2L1918.2 1591.5M2128.6 1556.9L2136.4 1562.1M1979.9 1546.2L1973.3 1550.9M2006.3 1532L2008.8 1542.7M1892.5 1585L1891.7 1593.1M2037.8 1600.1L2036.3 1608.5M2235.7 1545L2237.8 1554M2067 1588.5L2070.8 1595.3M1919.9 1514.8L1926.9 1519.2M1897.7 1525.5L1897.7 1531.8M1905.9 1559.7L1913.7 1564.5M2241.8 1533.5L2242.5 1539.7M2101.2 1594.3L2096.9 1598.6M1903.6 1614.4L1905.7 1620.3M2054.8 1594L2051.6 1599.5M2078.3 1551.7L2080.4 1557.3M2040.2 1538.8L2034.2 1545.7M2019.9 1577.7L2013.6 1580M2101.5 1529.3L2106.6 1534.9M2230.6 1550.1L2228.7 1556.8M1980.1 1514.7L1974.4 1518.6M1892.5 1526.5L1899.3 1531.2M2021.6 1545.6L2025.6 1550.1M2068.6 1611.1L2069.6 1620M1926.5 1520.9L1925.2 1531.2M1986.8 1522.8L1992.6 1530M1933.7 1554.1L1928.4 1555.9M1917.6 1571.3L1909.2 1573.2M2040.5 1569.4L2041.7 1576.3M1977.5 1566.1L1972.2 1575.5M2109.5 1592.4L2111.5 1597.9M1939.2 1544.3L1933.8 1546.8M2026.7 1512.7L2031.8 1522.3M2055.2 1525.9L2048.8 1527.5M1974.8 1567.4L1968.9 1569M2031.5 1512L2028.7 1517.3M2018.2 1593.1L2025 1594.3M2045 1567.6L2053.6 1569.2M2109.3 1518.7L2114.5 1523.3M2032.5 1522.7L2027.2 1529.2M1978.3 1596.7L1971.9 1600.2M2099.3 1531.4L2108.1 1533.3M2033.9 1555.5L2027.3 1558.5M2228.2 1578L2224.9 1584.7M2089.1 1593.3L2082.9 1594.5M2160 1559.3L2160 1566.2M2234 1562.6L2235.6 1568M2097.9 1530.3L2099.8 1538.8M1910.5 1600L1916.3 1602.8M1928.8 1557.1L1927.4 1564.3M2101.9 1551.1L2108.9 1553.2M1922.2 1591.7L1917.3 1598M2147.4 1552L2154.2 1559.2M2145.7 1532.1L2138.9 1535.3M2020.7 1550.5L2023.9 1555.9M2163.2 1613.1L2158.1 1620.4M2061.1 1609.6L2054.5 1614.7M2220.4 1516.8L2212.5 1519M2094.6 1545.8L2100.5 1547.9M1937.4 1590.8L1934.5 1596.7M2003.8 1565L1995.3 1569.1M2105.8 1581.8L2107.6 1588.6M1955.9 1572.5L1953.9 1577.7M2183.3 1524L2174.2 1529.8M1955.7 1605.9L1961 1611.9M2209.3 1542.4L2214.4 1552.1M2211.6 1536.3L2207.7 1540.5M2110.9 1585.3L2105.2 1589M1900 1561.2L1895.9 1566.1M2003.3 1593L1999 1597.5M1892.7 1552.9L1894.6 1560.3M2054.3 1601.6L2046.4 1605.3M2005.4 1614.8L1998.8 1622M2075.4 1572.1L2076.2 1578.8M2232.7 1557.6L2241.1 1563.2M2172.3 1608.1L2174.8 1613.3M1963.9 1566.1L1958.1 1568.9M1923.9 1545.6L1922 1553.7M2052.8 1564.6L2054.3 1573.7M1967.9 1535.7L1959.9 1537.1M2029.4 1512.4L2035.4 1514.2M2028.6 1526.6L2033.3 1534.3M1940.9 1588.1L1941.1 1595.2M1889.5 1521.3L1881 1524.2M2096.4 1599.3L2089.9 1607.2M1988.8 1519.7L1995.4 1521.6M2046.8 1598L2040.2 1601.6M1918.2 1546.7L1927.3 1548.2M2091 1535.2L2087.4 1541.8M2131.1 1578L2127.8 1586.5M2116.4 1602.2L2115.8 1607.8M2196.6 1582.2L2204.1 1584.8M1932.4 1612.5L1934.5 1618.7M2234.5 1602.2L2228.1 1606.1M2155.4 1587.6L2149.3 1588.8M2085 1580.2L2092.4 1586.5M2200 1608.3L2207.2 1611.9M2086.5 1604.4L2091.8 1608.1" stroke="#3a7a34" stroke-width="0.8" fill="none"/>
<path d="M2492.3 1533.7L2495.8 1539.7M2361 1611L2363.4 1616.4M2494 1567L2485.8 1569.2M2392.2 1610.1L2397.4 1613.6M2353.2 1547.8L2348.9 1553.2M2424.1 1536.8L2433.5 1539.8M2409 1595.9L2407.7 1603M2370.5 1596.8L2367.7 1606.7M2476.2 1569.6L2480.2 1574.8M2261.4 1625L2260.3 1632.1M2326.7 1605L2329.1 1612.5M2316.2 1580.7L2320.4 1584.3M2287.4 1583.5L2297.8 1586.2M2274.4 1605.5L2265.3 1607.3M2278.6 1517.3L2286.7 1518.6M2298.4 1589.3L2296.2 1598M2548.5 1561.2L2542.9 1569.9M2514.2 1564.5L2510.4 1572.2M2292.6 1589.7L2299.3 1595.8M2575.5 1530.4L2583.6 1531.9M2466.5 1522.8L2470.5 1528.1M2377.3 1555.7L2374.7 1562.5M2244.6 1580L2250.1 1586.9M2353.5 1542L2355.5 1552.8M2371.9 1615.2L2365.1 1617.1M2423.4 1522.5L2426.3 1529.1M2345.4 1559.6L2338.3 1563M2453.4 1553L2446.2 1554.7M2499.4 1590.4L2509.3 1594.2M2303.2 1556L2301.3 1561.2M2261.9 1538.6L2268.7 1546.8M2549.5 1583L2542.1 1586.1M2567.5 1590.1L2567.1 1597M2502 1578.2L2511.3 1580.8M2474.1 1524.2L2480.3 1526.8M2523.7 1631.6L2521.9 1639.4M2385.2 1625.7L2379.2 1633.1M2567.1 1581.6L2562.9 1587.6M2417.2 1536.1L2409.2 1540.2M2306.5 1557L2300.2 1559.2M2405.3 1626.5L2410 1636M2461.1 1571.9L2466.7 1577.9M2510 1516L2509.9 1526.5M2364.2 1539.2L2365.7 1544.7M2551.3 1545.3L2551.8 1555.9M2296.5 1538.6L2299.7 1545.8M2320 1629L2325.6 1633.6M2382.3 1521.5L2390.9 1524.6M2291.4 1616L2296.3 1619.8M2257.6 1589.4L2263.2 1593.9M2489.7 1586.4L2496 1592.3M2400.8 1618.6L2403.4 1624.2M2534.2 1587.8L2537.1 1596.3M2245.1 1577.1L2242.4 1583.1M2495.9 1573.2L2488.1 1579.5M2259.9 1594.4L2267 1597.4M2435 1585.8L2437.7 1593.3M2243.9 1612.3L2236.6 1617M2428.6 1587.5L2433.6 1592.4M2416.9 1524.7L2422.7 1527.8M2247.3 1557.5L2242.4 1566.7M2372.8 1592.3L2364.8 1594.7M2276.8 1548.3L2270.9 1550.2M2522.1 1528.3L2514.9 1531.4M2557.5 1513.7L2551.9 1522.4M2400.7 1556.2L2394.2 1564.7M2461.6 1586.3L2455.6 1595.3M2296.6 1634.1L2306.3 1636.4M2461.1 1545.4L2466 1553.4M2518.7 1562L2523.1 1566.6M2514.3 1545.8L2513.4 1555.7M2279 1579.3L2283.2 1582.9M2390.3 1557.7L2384.6 1566.4M2376.4 1546.1L2383.2 1548.4M2498.2 1529.9L2488.7 1532.1M2474.9 1525.7L2468.2 1531.2M2265.7 1515L2272.4 1521.3M2367.1 1567.2L2370.1 1573.7M2491.8 1631.4L2489.3 1638.6M2457 1529.1L2462.5 1538.1M2333.1 1573.4L2337.5 1581.6M2577.7 1544.4L2577.1 1554.1M2319.8 1563.1L2317.6 1571.1M2565.8 1589.9L2563 1594.8M2518.7 1524.2L2519.3 1529.9M2414.1 1535.8L2419.9 1537.9M2523.2 1626.9L2530.9 1629.7M2295.5 1616.2L2288.3 1618.6M2572.1 1562.9L2569.1 1569.1M2271.8 1512.3L2266.7 1518M2443.7 1603.7L2440.2 1612.8M2549.5 1561.4L2553.6 1571.6M2470.4 1517.4L2460.7 1522.6M2539.5 1620.3L2541.1 1628.1M2308.2 1518.5L2310.4 1523.8M2579 1602.1L2574.8 1609.3M2356.4 1595.1L2357.9 1605.8M2528.3 1538.3L2531 1544.8M2291.9 1554.1L2292.9 1564.4M2331.5 1627L2329.8 1632.9M2385.5 1580.1L2387.2 1590.8M2543.2 1606.9L2536.7 1610.6M2472.3 1613.4L2472.6 1619.5M2369.5 1606.1L2374.1 1611.2M2290.5 1531L2294.2 1539.4M2376 1611.5L2379.4 1621M2443.1 1523.4L2434.7 1529.9M2515.1 1551.7L2517.9 1560.4M2278.2 1629.3L2284.9 1636.6M2464.7 1566.8L2461.7 1571.6M2326.4 1573L2322.7 1577.3M2477.7 1627.9L2475.9 1637.4M2544.1 1516.9L2552.2 1519.6M2290 1556.3L2295.3 1557.8M2452.9 1528.4L2452 1536.3M2411.4 1615.4L2402.2 1617.7M2456.2 1576L2458.7 1582.1M2486.7 1605.5L2484.4 1611.1M2386.6 1615.7L2386.9 1623.1M2417.6 1549.7L2412 1556.2M2313.9 1540.2L2319.6 1543.2M2267.8 1555.9L2262.9 1559.9M2473.9 1540.5L2481.7 1546.8" stroke="#123a14" stroke-width="0.8" fill="none"/>
<path d="M2332.7 1524.9L2325.1 1528M2553.4 1611.1L2547.1 1613.5M2484.4 1569.1L2490.6 1577M2531.2 1514.3L2539.4 1519.4M2317.2 1548.6L2320.9 1557.8M2487.4 1580.6L2486.2 1591.5M2405.1 1512.3L2407.9 1517.6M2318.3 1596.6L2312.9 1597.8M2472.8 1622.2L2479.2 1626.4M2500.8 1574.4L2494.9 1576.9M2565.5 1562.7L2561.7 1567M2484 1585.6L2477.8 1593.8M2264.1 1555.3L2271.5 1556.5M2491.9 1592.2L2486.1 1598M2292.8 1573.3L2299.6 1575M2340.7 1626.6L2347 1631.8M2306.1 1516L2301.2 1520.5M2468.5 1513.7L2469.5 1519.3M2552.5 1595.3L2549.1 1600.2M2472.5 1603.3L2478 1604.9M2545.8 1618.4L2539.2 1622.6M2515.9 1548L2519 1557.3M2415.9 1580.5L2419.3 1589.4M2344.1 1581.8L2352.6 1585M2392.6 1529.3L2395.4 1534M2337.3 1628.6L2330.4 1631.7M2318.1 1575L2312.9 1578.5M2585.6 1610L2580.7 1618.4M2401.2 1572.7L2394.8 1578.8M2563.3 1532.1L2569.2 1536.1M2316.7 1580.2L2313.7 1586.4M2400.9 1572.8L2407.2 1580.5M2305.1 1570.1L2301.4 1574.6M2444.6 1537.3L2441.7 1546.6M2495.2 1519.8L2495.4 1528.1M2280.7 1585.9L2271.3 1589M2436.1 1554.8L2436.8 1563.9M2244.4 1573L2250.2 1582.2M2311.2 1602.5L2309.4 1608.6M2248.2 1580.7L2249.5 1587.7M2408.9 1600.8L2400.4 1607.5M2425.5 1554.2L2415.4 1556.5M2384.4 1566.1L2387.1 1575.7M2377.3 1566.2L2384.9 1570.2M2410.1 1576.9L2401 1582.4M2351.4 1573.3L2342 1577.1M2444.7 1568.2L2437.1 1575.4M2254.5 1607.2L2260.6 1613.5M2516.7 1597.6L2522.2 1601.1M2289.9 1603.7L2298.9 1608.4M2351.5 1627.3L2361.4 1629.3M2358.2 1545.9L2363.4 1548.5M2360.2 1595.9L2355.5 1599.4M2576.5 1513.6L2573 1521.6M2534.3 1539.3L2531.4 1546.6M2513.3 1622.9L2504.1 1628.5M2557.9 1565.2L2550.8 1570.8M2316.3 1547.7L2317.8 1556.9M2434 1611L2431.9 1621.3M2280.3 1535.9L2271.9 1541.5M2340.7 1631.5L2346.4 1635.6M2269.1 1574.9L2264.6 1578.3M2401.7 1627.1L2398.4 1633.3M2534.4 1560L2540.8 1568.2M2536.8 1566.5L2543.3 1570M2421.8 1547.6L2414.6 1550.4M2320.7 1596.7L2314.8 1602.8M2487.2 1618.4L2494.1 1620.6M2438.2 1572.6L2430.3 1575.3M2583.9 1594.8L2576.8 1599.4M2433.6 1582.9L2434.8 1593.6M2272.2 1547.7L2276.2 1553.5M2318.2 1578.2L2313.2 1583.3M2584.6 1534.4L2585.4 1545.2M2354.8 1576.8L2351.7 1581.7M2254.2 1538.1L2260.3 1541.4M2532.1 1614.4L2526.8 1617.8M2365 1620.3L2374.5 1622.4M2447.8 1629.8L2457.3 1633.2M2417.5 1534L2412.1 1540.7M2557.5 1593.6L2556 1602.6M2269.9 1518.9L2275 1521.9M2571.8 1629.1L2577.7 1635.5M2246.6 1573.2L2255 1576.4M2258.7 1530.5L2257.7 1536.2M2423.8 1601.5L2433.2 1604.9M2289 1575.8L2282.1 1579M2516.1 1519.8L2525.6 1521.4M2558.3 1609.7L2555.7 1615.2M2390.6 1612.2L2385.6 1614.4M2317.1 1529.5L2314.6 1538.1M2458.6 1561.3L2459.6 1567.4M2499 1633.2L2504.5 1639M2244.7 1516.9L2252.1 1518.9M2421.3 1570.2L2426.3 1577.7M2279.8 1596.7L2276 1602.1M2407.6 1632.6L2411.2 1638.2M2312.4 1597.3L2316.3 1602.2M2423.6 1532.7L2433.3 1536.8M2508.8 1530.3L2501.1 1537.7M2463.8 1597L2471.9 1598.4M2423.1 1565.1L2419.6 1575.3M2294.6 1613.8L2298.8 1619.5M2426.8 1586L2434.9 1590.4M2320.1 1576.6L2318.6 1583.3M2492.7 1562L2498.9 1563.8M2357.1 1556.8L2352.1 1563.1M2513.9 1600.3L2519.3 1605.8M2272.8 1568.2L2271.1 1575.7M2325.7 1628.3L2325.8 1634.6M2353.2 1552.5L2346.9 1558.1M2369.6 1530.4L2363.7 1532.5M2271.7 1621.7L2267.8 1626.2M2329.3 1559.4L2333.5 1563.2M2321.9 1549.4L2315 1554.8M2373.5 1588L2367.9 1593M2336.9 1535.2L2344 1537.1M2288.4 1519.1L2283.6 1522.1M2576.8 1525L2574.6 1530.9M2575.3 1556.2L2570 1564.5M2273.5 1537.7L2279.5 1540.5M2519.4 1595.2L2526 1599.6" stroke="#3a7a34" stroke-width="0.8" fill="none"/>
<path d="M2566.9 1610.3L2576.6 1614.6M2478.6 1613.8L2473.1 1617.9M2411.2 1623.4L2406.9 1627.8M2289.1 1630.7L2285.3 1638.4M2316.2 1524.4L2323.3 1531M2534.1 1533.4L2541.7 1540.5M2441.7 1585.8L2434.6 1588.1M2432 1554.2L2430.8 1561.4M2566.2 1544.7L2570.2 1549.6M2308.9 1631.5L2305 1638.2M2352 1533.1L2348.9 1541M2583.3 1573.5L2586.6 1579.3M2245.3 1581.4L2243.3 1590.8M2303.2 1535.8L2299.9 1543.6M2289.6 1547.5L2296.9 1554.4M2243.4 1539.6L2240.8 1545M2303.7 1608.5L2305.4 1617.9M2442 1618.2L2434.6 1623.3M2387.1 1625.4L2391.5 1630.7M2342.1 1629.1L2335.9 1635M2426 1512.7L2429 1522.1M2511.1 1532.7L2511.2 1542.3M2465.5 1606.3L2461.8 1612M2338.4 1513.8L2333.2 1519.3M2533.5 1608.3L2525.5 1610.3M2347.2 1572.9L2346 1580.1M2468.5 1583.3L2462.7 1589.9M2340.1 1596.6L2343.9 1604.6M2255 1577.2L2246 1579.2M2462.7 1542.4L2455.8 1544.4M2388.2 1568.9L2396.5 1570.2M2521 1616.2L2517.7 1621.1M2302.2 1576.2L2302.1 1585.7M2490.4 1532.5L2484.9 1534M2514.6 1585.2L2510.4 1593.9M2373.2 1546.6L2363.1 1549.7M2507.1 1605.9L2497.4 1607.4M2391.7 1515.7L2389.7 1524.4M2551 1550.9L2544.4 1558.3M2379.1 1531.2L2385 1536.6M2515.5 1567.5L2523.7 1573.8M2470.2 1614.3L2478.6 1617.6M2310.9 1562.5L2305.7 1570.3M2365.6 1548.6L2364.7 1554.2M2373.7 1533.4L2368.1 1539.2M2290.1 1591L2297.7 1598.9M2508.4 1586.3L2518.1 1588M2505.7 1557.4L2510.7 1561.1M2388.8 1626.7L2380.9 1629.9M2540.4 1583.6L2534.8 1589.9M2429.1 1553.2L2434.8 1559.7M2557.3 1577.9L2562.5 1587M2406.3 1586.1L2399.6 1589.5M2355.3 1596.9L2356 1604.5M2265.6 1513L2258.6 1521.3M2347 1552.9L2342.3 1562.8M2398.2 1523.6L2392.4 1525.4M2539.5 1520.8L2544.5 1524.8M2411.4 1527.5L2411.4 1537.6M2375 1590L2377.5 1596.9M2351.9 1512.8L2346.3 1518.1M2253.3 1631.3L2249.2 1637.3M2565.3 1608.5L2560.5 1611.8M2346.1 1592.3L2337.3 1597.7M2578.8 1632.8L2572.5 1638.3M2411.3 1572.9L2414.7 1578.1M2472.8 1619.6L2464.4 1623.2M2339.2 1550.4L2344.2 1556.1M2480.8 1585.9L2477.2 1590.5M2542.5 1549.8L2552.2 1554.2M2311.4 1516.5L2314.8 1523.7M2583.9 1574.9L2584.3 1582.7M2401.9 1631.4L2405.4 1636M2533 1558.6L2534.8 1565.4M2242.7 1571.4L2248.8 1572.7M2283.6 1578L2279.5 1587M2250.2 1553.8L2249.7 1560.9M2434.5 1537.7L2426.5 1539.9M2342.1 1617.2L2349.8 1624.8M2319.7 1617.9L2319 1625M2279 1515.5L2272.3 1520.2M2322.1 1524.9L2315.6 1527.8M2569 1604.5L2573 1610M2539 1619.9L2543 1625M2420.9 1603.8L2422 1609.5M2454 1608L2454.9 1615.8M2534 1628.9L2534.2 1639.1M2296.7 1600.2L2301.2 1609.9M2445.5 1603.2L2446.8 1608.9M2357.2 1542.9L2354 1549.5M2416.6 1626.8L2422.9 1629.8M2496.3 1613.5L2504.6 1615.3M2260.1 1616.3L2268.5 1619.2M2325.4 1537.7L2333 1540.6M2454.2 1545.7L2445.6 1547.3M2317.9 1576.2L2323.1 1579.7M2555 1582.3L2549.1 1591M2526.1 1539.7L2528 1548.8M2546.8 1570.6L2547.6 1581M2496.9 1561.9L2503.2 1565.6M2469.1 1513.6L2478 1517.7M2540.8 1617.6L2551.5 1619.7M2528.3 1541.1L2526.6 1547.6M2264.3 1590L2272.5 1593.5M2509.6 1519.4L2516.9 1527M2353.1 1549.4L2354.1 1560M2243.2 1580.8L2248.4 1587.5M2579.1 1557.5L2582.1 1562.5M2479.8 1623.6L2473.6 1628.4M2400.3 1543.3L2406.3 1547.3M2549.4 1574L2552.4 1582.3M2400.2 1623L2402.1 1630.7M2393.7 1599.7L2402.5 1603.8M2339 1628.4L2335.9 1635.1M2457.3 1545.5L2459.1 1556.1M2248 1545.2L2253.3 1550.5M2481.5 1556.2L2478.8 1561.4M2431.1 1571.5L2433 1577M2404.1 1585.3L2406.9 1594.4M2412.1 1540.3L2415.8 1545.4M2429.3 1590.7L2425.5 1598.2M2376.8 1516.7L2371.7 1523.9M2317 1569.9L2315.4 1578.1M2380.5 1568.5L2387 1574.5M2452.3 1599L2449.3 1605.1M2457.6 1539.4L2447.2 1541.2M2347.1 1610.4L2340.6 1614.1M2478.6 1524.1L2480.7 1533.1M2340.5 1561.3L2347.1 1563M2305.9 1625.4L2297.2 1629.7M2500.7 1538.6L2496.2 1548.5M2300.5 1631.4L2293.2 1635.2M2263.6 1595L2255 1599.1M2271.5 1578.2L2278 1584.9M2338.1 1589.6L2330.5 1592.5M2326 1536.3L2317.1 1539.1M2463.4 1539.1L2458.5 1543.1M2455.2 1523.3L2457.5 1531.1M2586.2 1530.4L2589.6 1537.9M2407.2 1542.1L2402.3 1548.9M2391.9 1541.3L2399.8 1548.3M2482.9 1524.3L2473.8 1530.2M2318.5 1593.1L2316.1 1600.9M2503.8 1554.8L2506 1563.4" stroke="#0a2a0c" stroke-width="0.8" fill="none"/>
<path d="M2350.4 1608.1L2360.6 1610.2M2388.8 1605.6L2385.5 1610.1M2272.4 1573.8L2283.2 1576M2325.1 1599.3L2317.8 1605.5M2262.2 1587.1L2264.1 1595.1M2544.5 1602.8L2549.7 1605.7M2344.9 1564.7L2350.7 1566.5M2256.5 1521.3L2263.8 1525.6M2240.3 1618.3L2249.4 1621.9M2520.4 1597.1L2514.9 1598.1M2458.8 1546.3L2462 1550.8M2488.4 1601.8L2493.9 1603.3M2431.7 1577.6L2435.4 1582.2M2569 1514.2L2561.9 1515.3M2285.7 1565.8L2283.7 1575.8M2356.1 1535.7L2350.2 1539.3M2571.9 1518.9L2568.7 1528.3M2351.3 1577.6L2355.2 1587M2422.8 1570.4L2422.6 1577.7M2477.2 1559.6L2471.4 1568.6M2320.3 1624.1L2319.1 1630.8M2540.2 1632.8L2535.4 1636M2304.5 1524.7L2299.4 1530.2M2526.1 1570.5L2521.2 1577.3M2268.6 1585.1L2274.8 1588.7M2383.1 1631.9L2386.7 1639M2252.9 1531.8L2253.1 1538.3M2434.7 1565.3L2424.5 1567.1M2353.6 1513.9L2356.8 1518.4M2430.4 1606.3L2439.4 1612.4M2377.6 1560.8L2375.7 1566.3M2330.7 1529.3L2326.9 1537M2544.6 1594.2L2539.5 1602M2505.8 1633L2515 1637.9M2426.8 1521L2424.8 1531.5M2580.1 1606.2L2583.2 1611.3M2330.8 1595L2331.1 1602.8M2491.1 1540.5L2490.4 1547.5M2393.4 1631.4L2391.4 1637M2263.3 1607.6L2271.3 1611.7M2564.5 1530.7L2557.7 1534.3M2372.9 1525.3L2364.3 1529.1M2483.7 1569.7L2479.2 1576.9M2546.7 1623.9L2540.8 1629.3M2300.1 1618.2L2293.1 1625.5M2395.5 1626.1L2400.9 1634.3M2306.5 1537.3L2296.8 1540.9M2276.7 1564.1L2279.1 1570.4M2475.5 1610.2L2483.6 1612.5M2489.3 1558.2L2483.6 1565.2M2415.9 1545.9L2415.7 1554.6M2311 1565.6L2313.4 1574.5M2500.7 1574.6L2498.9 1584M2527.4 1618.7L2517.9 1622.5M2438.8 1531.8L2436.4 1541.3M2334.6 1522.5L2343.9 1524.2M2481.3 1533.2L2481.4 1540.3M2500.7 1603.3L2507.8 1606.9M2414.5 1618.8L2418.2 1625.2M2260.9 1580.6L2268.5 1584.5M2288.8 1539.6L2295.5 1545.6M2561.3 1607L2559.1 1617.7M2469.6 1613.9L2467.4 1622.7M2584.7 1579L2581.9 1587.4M2281.1 1600.6L2288.7 1606.1M2381.1 1578.1L2380.2 1585.3M2475.5 1518.5L2479.3 1522.5M2518.1 1532L2525.6 1533.8M2538.7 1593.7L2544.7 1594.8M2281.1 1617.7L2271.1 1620M2325.7 1557.4L2318.9 1559.6M2253.4 1599.6L2259.4 1603.3M2296.5 1576.1L2306.5 1579.5M2380.9 1536.5L2372.2 1543M2280.3 1583.5L2287.4 1589.6M2472.6 1551.6L2478.8 1555.9M2246.8 1551L2242.2 1554.7M2552.2 1586L2555.8 1593.2M2278.5 1628.5L2284.2 1637M2267.5 1580.5L2277.7 1583.6M2240.7 1609.2L2234.6 1611.7M2433.3 1544.8L2427.7 1552.5M2477.8 1563.1L2468 1566.5M2411.2 1522.4L2407 1532.4M2571.4 1627.8L2579.2 1631.4M2290.6 1603.1L2300.1 1605.3M2248 1523.2L2242.5 1530.5M2272.5 1567.9L2278.8 1570.7M2298.6 1577.5L2307.5 1579.7M2250.4 1547.9L2244 1556.6M2252.6 1558.7L2246.3 1563M2390.9 1614.5L2395.3 1618M2336.2 1535.3L2328.5 1537.1M2516.2 1576L2524.6 1577.6M2567.1 1571.7L2564.1 1582M2376.6 1593.5L2372.5 1601.2M2535.6 1606.3L2537.1 1614.4M2252 1576.8L2243.9 1581.1M2245.9 1619.1L2247.1 1627M2452.5 1589.7L2455.5 1598.5M2554.5 1559.4L2559.8 1560.9M2434.7 1537.5L2442 1540.4M2250.1 1603.1L2254.9 1612.8M2552.7 1526.2L2547.1 1534.5M2563.7 1512.8L2555.9 1518.4M2442.1 1605.1L2433 1609.8M2411.3 1617.1L2415 1621.3M2424.9 1513.6L2432.5 1514.8M2287 1572.9L2296.1 1578M2255.7 1534.6L2266.6 1536.4M2371.7 1540.3L2376.6 1547M2461.7 1618.6L2462.5 1624.6M2283.9 1521.4L2292.6 1524.2M2533.9 1531.4L2532.1 1540.2M2566.5 1585.5L2565.7 1591M2339.7 1523.4L2338.8 1534M2470.3 1533.3L2467.9 1540.1M2399.7 1598.2L2389.2 1601.4M2525.6 1582.9L2531.8 1590M2321.4 1573.3L2318.1 1579M2537.7 1626.5L2542 1631M2450.5 1511.5L2455.1 1516.2M2372.9 1523.2L2366 1526.1M2467.3 1618.3L2477.7 1620.7M2482 1587L2487.8 1589.3M2494 1573.9L2502.5 1580.5M2369.7 1580.9L2372.4 1587.2M2545.4 1582.9L2539.3 1590.5M2248.1 1559.8L2253.9 1568.6M2493.3 1633.9L2496.8 1639.2M2317.5 1597.3L2318.2 1606.5" stroke="#4a8c40" stroke-width="0.8" fill="none"/>
<g opacity="0.95" filter="url(#b1)"><ellipse cx="1957.3" cy="1575" rx="15.2" ry="15.2" fill="#5c8c20"/><ellipse cx="1940.7" cy="1621.7" rx="7.4" ry="7.4" fill="#74a428"/><ellipse cx="1999.9" cy="1608.2" rx="12.9" ry="12.9" fill="#b8d860"/><ellipse cx="1942.5" cy="1629.8" rx="15.1" ry="15.1" fill="#b8d860"/><ellipse cx="1943.2" cy="1617.4" rx="10.3" ry="10.3" fill="#74a428"/><ellipse cx="1937" cy="1589.2" rx="8.3" ry="8.3" fill="#74a428"/><ellipse cx="1990.5" cy="1591.8" rx="12.8" ry="12.8" fill="#8cbc30"/><ellipse cx="1961.3" cy="1585.4" rx="15.1" ry="15.1" fill="#a4cc44"/><ellipse cx="1920" cy="1594.4" rx="13" ry="13" fill="#5c8c20"/><ellipse cx="1988.3" cy="1622.3" rx="8.9" ry="8.9" fill="#8cbc30"/><ellipse cx="1973.3" cy="1592.9" rx="12.8" ry="12.8" fill="#a4cc44"/><ellipse cx="1990.4" cy="1602.3" rx="8.6" ry="8.6" fill="#5c8c20"/><ellipse cx="1991.2" cy="1604.4" rx="11.3" ry="11.3" fill="#74a428"/><ellipse cx="1942.1" cy="1583" rx="12.2" ry="12.2" fill="#8cbc30"/><ellipse cx="1954.9" cy="1602.4" rx="12.2" ry="12.2" fill="#8cbc30"/><ellipse cx="1939.2" cy="1605" rx="15.7" ry="15.7" fill="#b8d860"/><ellipse cx="1936.2" cy="1576.7" rx="12.2" ry="12.2" fill="#5c8c20"/><ellipse cx="1980.9" cy="1642.1" rx="15" ry="15" fill="#5c8c20"/><ellipse cx="1977" cy="1584.2" rx="11.3" ry="11.3" fill="#8cbc30"/><ellipse cx="1942.4" cy="1648.2" rx="12.5" ry="12.5" fill="#a4cc44"/><ellipse cx="1943.7" cy="1623" rx="10.7" ry="10.7" fill="#5c8c20"/><ellipse cx="1996" cy="1614.4" rx="14.4" ry="14.4" fill="#5c8c20"/><ellipse cx="1939.1" cy="1600.5" rx="10.6" ry="10.6" fill="#8cbc30"/><ellipse cx="1953" cy="1623.5" rx="15.7" ry="15.7" fill="#8cbc30"/><ellipse cx="1935.6" cy="1621.6" rx="10.3" ry="10.3" fill="#74a428"/><ellipse cx="1917.6" cy="1614" rx="8" ry="8" fill="#b8d860"/><ellipse cx="1984.6" cy="1585.6" rx="13.4" ry="13.4" fill="#5c8c20"/><ellipse cx="1985.8" cy="1610.1" rx="9.7" ry="9.7" fill="#8cbc30"/><ellipse cx="1992.9" cy="1582.2" rx="8.3" ry="8.3" fill="#5c8c20"/><ellipse cx="1935" cy="1576.8" rx="13.1" ry="13.1" fill="#5c8c20"/><ellipse cx="1988.8" cy="1585.4" rx="10.4" ry="10.4" fill="#a4cc44"/><ellipse cx="1925.2" cy="1593.7" rx="14.2" ry="14.2" fill="#a4cc44"/><ellipse cx="1963.9" cy="1624.7" rx="13.3" ry="13.3" fill="#74a428"/><ellipse cx="1921.2" cy="1595.5" rx="9.8" ry="9.8" fill="#b8d860"/><ellipse cx="1966.9" cy="1655.9" rx="8.1" ry="8.1" fill="#8cbc30"/><ellipse cx="1966.7" cy="1650.1" rx="7.2" ry="7.2" fill="#a4cc44"/></g>
<path d="M1961.9 1575.5L1956 1579.3M1955.3 1642L1958.7 1648.9M1940.4 1578.3L1941.3 1586.4M1980.7 1603.6L1984.8 1606.9M1912.1 1605L1907.2 1607.8M1994.7 1631.5L1999.2 1633.6M1984.5 1573.2L1989.7 1579.7M1927.5 1579.6L1926.2 1585.3M1949.7 1614L1953.8 1621.3M1917.6 1598.5L1913.4 1605.8M1930.2 1616.1L1922.7 1617.3M1914 1645.6L1908.7 1651.7M1995.2 1645.5L2000.5 1646.9M1930.9 1589.6L1937.6 1593.4M1925.7 1591.1L1919.7 1597.6M1956.3 1627.4L1957.1 1635.8M1986.8 1609.3L1982.4 1611.9M1986.9 1631.7L1985.5 1641M1911.5 1574L1906.2 1579.3M1997.5 1631.4L1992.4 1638.2M1958.8 1586.3L1966 1590.3M1938 1577.3L1930.9 1579.3M1981.5 1632.7L1979.3 1638.8M1929.1 1579.6L1925.7 1583.3M1929.8 1585.1L1931.8 1592.1M1943.7 1641.4L1946.9 1645.8M1959.5 1579.6L1966.6 1582.5M1943.9 1593L1946.5 1599.1M1917.2 1610.9L1922.6 1616.2M1993.7 1609.4L1997.9 1615.6M1916.5 1630L1912 1637.2M1992.2 1582L1983.4 1585.4M1919 1605.2L1926.9 1607.3M1960.8 1645L1968.3 1649.3M1969.6 1590L1975.2 1594.1M1993.7 1606.6L1992.2 1611.1M1928 1631.8L1930.1 1637M1975.7 1619L1969.3 1623.4M1957.5 1609.9L1958.2 1616M1991.9 1629.2L1994.5 1634.4M1914.4 1585.5L1912.5 1594.6M1994.2 1587.5L1989.6 1592.9M1965.8 1582.8L1960.5 1583.9M1969.9 1634.9L1969.3 1641.5M1950 1616.8L1953.6 1621.9M1939.1 1592.2L1943.3 1599.5M1966.5 1608.6L1973.2 1614.5M1913.3 1604.3L1916.1 1613.3M1915.4 1577L1907.1 1579.7" stroke="#a4cc44" stroke-width="0.8" fill="none"/>
<path d="M1954.3 1627.6L1953.6 1637M1974.3 1598.7L1979 1600M1930.4 1629.2L1926.9 1634.6M1924.1 1623.7L1928 1628.3M1954.2 1638.2L1958.7 1642.5M1984.3 1600.5L1992 1603.8M1963 1605.8L1956.9 1610.1M1911.7 1632.5L1907.2 1634.7M1962.6 1584.1L1956.7 1586.8M1948.6 1624.9L1944.1 1628.2M1914 1579L1914.3 1585.3M1925.2 1582.9L1927 1588.6M1932 1623.6L1925.7 1625.9M1974.8 1607.8L1980.9 1613.4M1990.5 1638.5L1989.7 1643.3M1957.2 1624.3L1951.2 1628.9M1936.1 1589.4L1943.1 1592.9M1936.4 1574.9L1935 1579.9M1973.8 1632.3L1981.2 1635.2M1920 1580.8L1914 1584.4M1935.5 1584L1942 1587.9M1944.2 1578.2L1949 1580.1M1988.9 1642.8L1992.3 1646.3M1942.1 1584.8L1947.3 1587.6M1958.9 1575.1L1960.9 1580.4M1959.7 1590.6L1960.8 1596.8M1955.4 1592.1L1952.1 1597.4M1977.3 1590.9L1978.3 1600M1921.1 1623.3L1929.2 1627.7M1925.9 1633L1932.7 1634.3M1947.7 1604.5L1939.4 1606.9M1949.7 1627L1957.4 1630.1M1947.3 1638.9L1942 1640.4M1919.2 1615.7L1924.6 1617.7M1960.7 1646.7L1964.4 1653.8M1984.5 1630.8L1979.3 1637.2M1953.3 1622.9L1957.1 1629.6M1958.6 1583.1L1967.7 1585.1M1971 1634.4L1967 1642.9M1991.9 1596.2L1996.8 1601.5M1920 1625.3L1924.9 1632.3M1915.6 1578.8L1922.4 1584.9M1920.7 1585.1L1920.2 1593.1M1911.4 1619.2L1908.2 1626.9M1968.7 1616.6L1959.7 1619M1979.7 1645.3L1973.5 1649.2M1955.3 1583.9L1950.6 1587.9M1924 1607.6L1920 1614.5M1937 1619L1943 1620.5M1981.1 1635.3L1981.8 1640.7M1937 1637.8L1928.5 1639.6M1957.3 1599.3L1951.5 1603.5M1983.8 1608L1983.7 1614.2M1991.7 1580.8L1990.5 1589.5" stroke="#c8e070" stroke-width="0.8" fill="none"/>
<path d="M1976 1608.5L1969.1 1612.2M1996.2 1591.4L2002.3 1593.3M1933.9 1593.7L1935.7 1600.3M1968.3 1589.8L1973.2 1592.5M1924.1 1599L1931.1 1600.5M1986.3 1583.3L1979.9 1586.5M1928.2 1621.9L1922.5 1625.8M1961.4 1573.4L1959.4 1577.8M1994.4 1617.2L1997.1 1624.7M1945.3 1634.3L1940.9 1641.5M1938.5 1589.4L1938.2 1594.1M1964.1 1576.4L1957.2 1580.3M1981.9 1626.5L1974.5 1631.9M1919.5 1613.1L1925.3 1614.7M1973.8 1621.5L1965.4 1625.4M1957.8 1634.9L1950.8 1638.9M1924.4 1587.7L1932.3 1591.2M1915 1622.9L1913.9 1630.9M1988 1598.9L1989.8 1608M1988.1 1621.5L1995 1623.5M1986.9 1614.5L1992.1 1622.3M1919.5 1642.9L1919.8 1648.5M1914.5 1630.5L1913.5 1638.3M1988.5 1643.3L1988 1652M1978.9 1628.7L1983.4 1631.5M1936.2 1580.8L1943.5 1582.4M1984.8 1606.2L1989 1613.3M1979.6 1610.2L1976.1 1613.9M1934.2 1626.5L1934.5 1631.5M1940.9 1642.9L1943.7 1650.6M1947.7 1641.2L1954 1643M1917.1 1626.8L1911.4 1631.2M1995.6 1624.1L2001.5 1630.8M1915.2 1612L1920.6 1613.1M1934.5 1587.5L1928.2 1591.3M1955.2 1628.2L1950.5 1630.2M1933.3 1645.9L1936.3 1649.7M1988.5 1588.9L1995.5 1591.1M1992.1 1611L2000 1613.1M1995.5 1601.7L1992 1606.8M1972.9 1632.4L1979.7 1636.1M1948.5 1643.3L1943.5 1650.5M1989.6 1626.5L1991.5 1635M1987 1584.7L1987.9 1590.9M1987.5 1576.4L1989.8 1580.5M1928.7 1583.2L1935.4 1586.6M1995.6 1630.5L1998 1637.8M1944.9 1606L1942.3 1613.1M1946.3 1597.8L1941.8 1600.6M1968.8 1637.7L1972.8 1645.2M1957.8 1575.3L1964.1 1579.3M1970.7 1619.3L1974 1624.2M1948.7 1618.6L1949.4 1627.2M1979.6 1631.8L1975.6 1636.3M1991.7 1637.1L1987.4 1640.9M1989 1588.1L1984.1 1591.9M1941.2 1581.7L1938.5 1587.7" stroke="#5c8c20" stroke-width="0.8" fill="none"/>
<g opacity="0.9" filter="url(#b1)"><ellipse cx="1904.8" cy="1651.3" rx="11.4" ry="11.4" fill="#2c6c2a"/><ellipse cx="1933.5" cy="1645.9" rx="7.8" ry="7.8" fill="#2c6c2a"/><ellipse cx="1928.9" cy="1668" rx="10" ry="10" fill="#3c7c34"/><ellipse cx="1917.7" cy="1651.1" rx="7.2" ry="7.2" fill="#3c7c34"/><ellipse cx="1949.9" cy="1661.3" rx="8.2" ry="8.2" fill="#2c6c2a"/><ellipse cx="1929.5" cy="1660" rx="10.5" ry="10.5" fill="#2c6c2a"/><ellipse cx="1910.2" cy="1666.3" rx="6.6" ry="6.6" fill="#2c6c2a"/><ellipse cx="1910.5" cy="1646" rx="7.5" ry="7.5" fill="#3c7c34"/><ellipse cx="1921.1" cy="1663.3" rx="12.1" ry="12.1" fill="#3c7c34"/><ellipse cx="1931.2" cy="1666.5" rx="8.8" ry="8.8" fill="#2c6c2a"/></g>
<path d="M1942.7 1540.4Q1994.7 1523.9 2049.8 1522" stroke="#2e2622" stroke-width="5.5" fill="none"/>
<path d="M2444.8 1577.5Q2531.4 1552.3 2603.9 1538.4" stroke="#2a2420" stroke-width="4" fill="none"/>
<path d="M1882.9 1615.3L1904.1 1613.7L1902.6 1678.3L1905.7 1725.5L1898.6 1752L1882.9 1752Z" fill="#2d2723"/>
<path d="M1882.9 1640L1903.4 1640L1900.2 1718.8L1895.5 1788.1L1882.9 1788.1Z" fill="#2d2723"/>
<path d="M1889.2 1618.4L1887.6 1750.7" stroke="#5a5048" stroke-width="1.2" fill="none" opacity="0.7"/>
<path d="M1897.1 1618.4L1898.6 1725.5" stroke="#14100e" stroke-width="1.5" fill="none" opacity="0.7"/>
<rect x="1932.5" y="1635.7" width="7.1" height="36.2" fill="#1f1a18"/>
<rect x="1931.7" y="1692" width="7.9" height="26.8" fill="#2a2420"/>
<g opacity="0.95" filter="url(#b1)"><ellipse cx="1923.3" cy="1749.8" rx="11.3" ry="11.3" fill="#6a8a38"/><ellipse cx="1933.3" cy="1748.3" rx="11" ry="11" fill="#7a9a40"/><ellipse cx="1954.6" cy="1769.2" rx="11.5" ry="11.5" fill="#6a8a38"/><ellipse cx="1930.8" cy="1760.5" rx="12.6" ry="12.6" fill="#9cb85c"/><ellipse cx="1940.4" cy="1767.8" rx="7" ry="7" fill="#6a8a38"/><ellipse cx="1904.3" cy="1766" rx="11.1" ry="11.1" fill="#6a8a38"/><ellipse cx="1947.5" cy="1777.6" rx="10.1" ry="10.1" fill="#9cb85c"/><ellipse cx="1944.6" cy="1754.8" rx="7.6" ry="7.6" fill="#6a8a38"/><ellipse cx="1904.8" cy="1771.5" rx="10.5" ry="10.5" fill="#7a9a40"/><ellipse cx="1929.3" cy="1748.6" rx="9.5" ry="9.5" fill="#6a8a38"/><ellipse cx="1948.4" cy="1763" rx="7.2" ry="7.2" fill="#6a8a38"/><ellipse cx="1963.9" cy="1758.7" rx="9.3" ry="9.3" fill="#8cac4c"/><ellipse cx="1957" cy="1753.3" rx="10.7" ry="10.7" fill="#9cb85c"/><ellipse cx="1942.8" cy="1772.9" rx="9.8" ry="9.8" fill="#6a8a38"/><ellipse cx="1946.6" cy="1750.9" rx="7.7" ry="7.7" fill="#7a9a40"/><ellipse cx="1934.9" cy="1759.6" rx="11.6" ry="11.6" fill="#9cb85c"/><ellipse cx="1948.2" cy="1761" rx="8.9" ry="8.9" fill="#7a9a40"/><ellipse cx="1915.6" cy="1772.2" rx="10.1" ry="10.1" fill="#6a8a38"/><ellipse cx="1946.9" cy="1754.9" rx="8.5" ry="8.5" fill="#7a9a40"/><ellipse cx="1939.9" cy="1785.4" rx="9.1" ry="9.1" fill="#6a8a38"/><ellipse cx="1969" cy="1780.5" rx="6.4" ry="6.4" fill="#6a8a38"/><ellipse cx="1965.4" cy="1786.3" rx="10.1" ry="10.1" fill="#8cac4c"/><ellipse cx="1900.1" cy="1764.7" rx="11.4" ry="11.4" fill="#9cb85c"/><ellipse cx="1960.5" cy="1783.7" rx="8.5" ry="8.5" fill="#6a8a38"/><ellipse cx="1934.1" cy="1763.3" rx="10.1" ry="10.1" fill="#6a8a38"/><ellipse cx="1899.8" cy="1770.2" rx="6.9" ry="6.9" fill="#7a9a40"/></g>
<path d="M1900.2 1720.3L1927 1728.2L1950.6 1750.3L1941.2 1756.6L1914.4 1742.4L1898.6 1734.5Z" fill="#5cb432"/>
<path d="M1895.5 1762.9L1922.3 1778.6L1927 1788.1L1895.5 1788.1Z" fill="#4aa42c"/>
<g opacity="0.9"><ellipse cx="1926" cy="1783.3" rx="3.4" ry="7.5" fill="#9c8cc0"/><ellipse cx="1916.4" cy="1785.4" rx="3.9" ry="8.7" fill="#9c8cc0"/><ellipse cx="1944.2" cy="1775.8" rx="3.8" ry="8.4" fill="#b8a8d0"/><ellipse cx="1948.6" cy="1780.1" rx="2.9" ry="6.5" fill="#9c8cc0"/><ellipse cx="1912.5" cy="1772.4" rx="3.5" ry="7.7" fill="#9c8cc0"/><ellipse cx="1925.4" cy="1779" rx="4" ry="8.8" fill="#9c8cc0"/><ellipse cx="1917.8" cy="1770.9" rx="2.6" ry="5.8" fill="#b8a8d0"/><ellipse cx="1935.3" cy="1771.1" rx="3.1" ry="6.8" fill="#9c8cc0"/><ellipse cx="1941.7" cy="1777.2" rx="2" ry="4.5" fill="#b8a8d0"/><ellipse cx="1939.1" cy="1777.9" rx="2.1" ry="4.7" fill="#9c8cc0"/><ellipse cx="1920.3" cy="1785.1" rx="2.4" ry="5.4" fill="#9c8cc0"/><ellipse cx="1932.5" cy="1773" rx="3.7" ry="8.1" fill="#9c8cc0"/><ellipse cx="1917.2" cy="1776.8" rx="2.6" ry="5.7" fill="#b8a8d0"/><ellipse cx="1924.9" cy="1785.2" rx="4" ry="8.8" fill="#b8a8d0"/></g>
<g opacity="0.97" filter="url(#b1)"><ellipse cx="2053.3" cy="1786.4" rx="9.3" ry="9.3" fill="#285a2a"/><ellipse cx="2136.4" cy="1769.5" rx="13.1" ry="13.1" fill="#32682e"/><ellipse cx="2070.2" cy="1788.8" rx="14.8" ry="14.8" fill="#285a2a"/><ellipse cx="2126" cy="1755.1" rx="7.7" ry="7.7" fill="#32682e"/><ellipse cx="2124.8" cy="1749" rx="12.8" ry="12.8" fill="#32682e"/><ellipse cx="2158.5" cy="1763.7" rx="14.8" ry="14.8" fill="#32682e"/><ellipse cx="2098.9" cy="1774.9" rx="11.1" ry="11.1" fill="#32682e"/><ellipse cx="2072.4" cy="1760.4" rx="10.5" ry="10.5" fill="#1e4a22"/><ellipse cx="2073.3" cy="1751.1" rx="13.8" ry="13.8" fill="#183c1c"/><ellipse cx="2082.3" cy="1781.9" rx="9.4" ry="9.4" fill="#183c1c"/><ellipse cx="2058.6" cy="1758.2" rx="8" ry="8" fill="#32682e"/><ellipse cx="2079.8" cy="1779.6" rx="13.6" ry="13.6" fill="#32682e"/><ellipse cx="2163.1" cy="1770.8" rx="8.8" ry="8.8" fill="#32682e"/><ellipse cx="2146" cy="1757.4" rx="7.9" ry="7.9" fill="#183c1c"/><ellipse cx="2111.2" cy="1784.5" rx="10.5" ry="10.5" fill="#183c1c"/><ellipse cx="2155.9" cy="1777.5" rx="14.9" ry="14.9" fill="#183c1c"/><ellipse cx="2055.6" cy="1784" rx="14" ry="14" fill="#285a2a"/><ellipse cx="2148.5" cy="1785.5" rx="7.6" ry="7.6" fill="#183c1c"/><ellipse cx="2084.4" cy="1785.2" rx="7.8" ry="7.8" fill="#1e4a22"/><ellipse cx="2105.1" cy="1761" rx="14.5" ry="14.5" fill="#285a2a"/><ellipse cx="2080.5" cy="1757.9" rx="12.3" ry="12.3" fill="#1e4a22"/><ellipse cx="2067.5" cy="1783.1" rx="13.6" ry="13.6" fill="#1e4a22"/><ellipse cx="2150.2" cy="1783.4" rx="14.1" ry="14.1" fill="#32682e"/><ellipse cx="2091.5" cy="1752.9" rx="13.5" ry="13.5" fill="#285a2a"/><ellipse cx="2095.2" cy="1762.7" rx="14.8" ry="14.8" fill="#285a2a"/><ellipse cx="2067.8" cy="1777.5" rx="7.4" ry="7.4" fill="#183c1c"/><ellipse cx="2090.5" cy="1756.5" rx="8.9" ry="8.9" fill="#285a2a"/><ellipse cx="2073.6" cy="1755.7" rx="9.5" ry="9.5" fill="#183c1c"/><ellipse cx="2146.2" cy="1773.2" rx="7.2" ry="7.2" fill="#1e4a22"/><ellipse cx="2131.9" cy="1783.2" rx="7.4" ry="7.4" fill="#32682e"/><ellipse cx="2090.3" cy="1775.4" rx="8.9" ry="8.9" fill="#285a2a"/><ellipse cx="2152.2" cy="1754.3" rx="11.7" ry="11.7" fill="#32682e"/><ellipse cx="2144.8" cy="1779" rx="10.7" ry="10.7" fill="#1e4a22"/><ellipse cx="2159.1" cy="1776.4" rx="9.6" ry="9.6" fill="#1e4a22"/><ellipse cx="2111.2" cy="1785.1" rx="9.6" ry="9.6" fill="#183c1c"/><ellipse cx="2077.4" cy="1767.5" rx="14.1" ry="14.1" fill="#285a2a"/><ellipse cx="2150.3" cy="1778.8" rx="12.7" ry="12.7" fill="#285a2a"/><ellipse cx="2080.8" cy="1756.7" rx="12.6" ry="12.6" fill="#183c1c"/><ellipse cx="2053.5" cy="1750.4" rx="13.8" ry="13.8" fill="#183c1c"/><ellipse cx="2129" cy="1757.4" rx="9.3" ry="9.3" fill="#32682e"/></g>
<g opacity="0.97"><ellipse cx="2145.6" cy="1765" rx="4.1" ry="4.9" fill="#3a5498"/><ellipse cx="2143" cy="1782.9" rx="5.1" ry="6.1" fill="#9cb8e4"/><ellipse cx="2135.9" cy="1789.3" rx="3.4" ry="4" fill="#4060a8"/><ellipse cx="2138.8" cy="1785.2" rx="3.4" ry="4.1" fill="#7c9cd8"/><ellipse cx="2134.3" cy="1759.5" rx="4.9" ry="5.9" fill="#3a5498"/><ellipse cx="2134.6" cy="1779.9" rx="4.2" ry="5.1" fill="#9cb8e4"/><ellipse cx="2142" cy="1775.8" rx="3.4" ry="4.1" fill="#5a7cc4"/><ellipse cx="2141.8" cy="1769" rx="2.9" ry="3.5" fill="#7c9cd8"/><ellipse cx="2147.1" cy="1786.8" rx="4.1" ry="5" fill="#9cb8e4"/><ellipse cx="2140.3" cy="1784" rx="3.8" ry="4.5" fill="#9cb8e4"/><ellipse cx="2144.3" cy="1755.4" rx="3.9" ry="4.6" fill="#3a5498"/><ellipse cx="2138.5" cy="1756.6" rx="3.8" ry="4.6" fill="#3a5498"/><ellipse cx="2136.9" cy="1780.9" rx="4.4" ry="5.2" fill="#4060a8"/><ellipse cx="2139.8" cy="1768.4" rx="5" ry="6" fill="#3a5498"/><ellipse cx="2134.4" cy="1772.1" rx="3.6" ry="4.3" fill="#4060a8"/><ellipse cx="2138.7" cy="1770.1" rx="2.9" ry="3.5" fill="#3a5498"/><ellipse cx="2141.9" cy="1758.1" rx="3.9" ry="4.6" fill="#9cb8e4"/><ellipse cx="2144.3" cy="1769.6" rx="3.6" ry="4.3" fill="#4060a8"/><ellipse cx="2139.9" cy="1749.8" rx="3.5" ry="4.2" fill="#3a5498"/><ellipse cx="2143.5" cy="1756.7" rx="3.5" ry="4.3" fill="#5a7cc4"/><ellipse cx="2135.8" cy="1754.7" rx="5.3" ry="6.3" fill="#9cb8e4"/><ellipse cx="2149.4" cy="1763.1" rx="3.3" ry="4" fill="#3a5498"/><ellipse cx="2144.9" cy="1777.6" rx="4.3" ry="5.1" fill="#7c9cd8"/><ellipse cx="2137.5" cy="1775.9" rx="5.1" ry="6.1" fill="#5a7cc4"/><ellipse cx="2146.5" cy="1759.5" rx="3.5" ry="4.2" fill="#4060a8"/><ellipse cx="2134.8" cy="1783.7" rx="3.2" ry="3.8" fill="#5a7cc4"/></g>
<g opacity="0.97"><ellipse cx="2200.1" cy="1767.5" rx="3.3" ry="4" fill="#7c9cd8"/><ellipse cx="2201.1" cy="1778.2" rx="4.3" ry="5.2" fill="#7c9cd8"/><ellipse cx="2201" cy="1765.4" rx="5.1" ry="6.2" fill="#4060a8"/><ellipse cx="2191.5" cy="1756.2" rx="4.9" ry="5.9" fill="#4060a8"/><ellipse cx="2188.1" cy="1763.3" rx="5.1" ry="6.2" fill="#4060a8"/><ellipse cx="2190.4" cy="1762.1" rx="4.9" ry="5.8" fill="#5a7cc4"/><ellipse cx="2190.8" cy="1756.3" rx="2.9" ry="3.5" fill="#4060a8"/><ellipse cx="2195.9" cy="1782.1" rx="4.6" ry="5.5" fill="#4060a8"/><ellipse cx="2197" cy="1782.5" rx="4.7" ry="5.6" fill="#4060a8"/><ellipse cx="2189.8" cy="1762.4" rx="5" ry="6.1" fill="#3a5498"/><ellipse cx="2197.5" cy="1777.6" rx="4.1" ry="4.9" fill="#4060a8"/><ellipse cx="2191.7" cy="1775.2" rx="4.8" ry="5.7" fill="#4060a8"/><ellipse cx="2194.4" cy="1781.9" rx="4.4" ry="5.3" fill="#9cb8e4"/><ellipse cx="2198.5" cy="1766.8" rx="4.3" ry="5.1" fill="#7c9cd8"/><ellipse cx="2196.4" cy="1755" rx="5.1" ry="6.1" fill="#3a5498"/><ellipse cx="2188.7" cy="1762.6" rx="4.3" ry="5.2" fill="#9cb8e4"/><ellipse cx="2195.3" cy="1753.6" rx="4.3" ry="5.1" fill="#7c9cd8"/><ellipse cx="2193.9" cy="1764.6" rx="3.1" ry="3.7" fill="#3a5498"/><ellipse cx="2191.9" cy="1788.6" rx="2.8" ry="3.4" fill="#4060a8"/><ellipse cx="2188.4" cy="1782.7" rx="3.3" ry="3.9" fill="#3a5498"/><ellipse cx="2189.6" cy="1783" rx="4.9" ry="5.8" fill="#7c9cd8"/><ellipse cx="2192.6" cy="1755.1" rx="4" ry="4.7" fill="#7c9cd8"/><ellipse cx="2193.7" cy="1786.6" rx="2.9" ry="3.5" fill="#9cb8e4"/><ellipse cx="2188.8" cy="1782.6" rx="4.6" ry="5.5" fill="#7c9cd8"/><ellipse cx="2202.1" cy="1768" rx="4.6" ry="5.5" fill="#9cb8e4"/><ellipse cx="2197.5" cy="1761.4" rx="3.3" ry="3.9" fill="#7c9cd8"/></g>
<g opacity="0.97"><ellipse cx="2243.6" cy="1783.6" rx="4.9" ry="5.9" fill="#4060a8"/><ellipse cx="2242.9" cy="1773.2" rx="5" ry="6" fill="#7c9cd8"/><ellipse cx="2242.8" cy="1783.2" rx="3.4" ry="4.1" fill="#5a7cc4"/><ellipse cx="2238.7" cy="1773" rx="3.2" ry="3.8" fill="#5a7cc4"/><ellipse cx="2240.8" cy="1774.6" rx="3.6" ry="4.3" fill="#4060a8"/><ellipse cx="2239.3" cy="1784.9" rx="3.5" ry="4.1" fill="#3a5498"/><ellipse cx="2236.7" cy="1756.8" rx="3.2" ry="3.9" fill="#5a7cc4"/><ellipse cx="2235.7" cy="1762" rx="4.1" ry="4.9" fill="#4060a8"/><ellipse cx="2248" cy="1763.5" rx="5" ry="6" fill="#3a5498"/><ellipse cx="2237.7" cy="1783.7" rx="3" ry="3.6" fill="#4060a8"/><ellipse cx="2242.3" cy="1768.8" rx="3.8" ry="4.6" fill="#9cb8e4"/><ellipse cx="2243.7" cy="1788.6" rx="3.1" ry="3.8" fill="#7c9cd8"/><ellipse cx="2245.7" cy="1783.3" rx="3.1" ry="3.7" fill="#7c9cd8"/><ellipse cx="2245.6" cy="1768.2" rx="4.6" ry="5.5" fill="#9cb8e4"/><ellipse cx="2235.6" cy="1757.5" rx="3.7" ry="4.5" fill="#4060a8"/><ellipse cx="2246.9" cy="1772" rx="3.9" ry="4.6" fill="#4060a8"/><ellipse cx="2235.2" cy="1769.1" rx="3" ry="3.6" fill="#4060a8"/><ellipse cx="2237.4" cy="1767.4" rx="5.2" ry="6.2" fill="#9cb8e4"/><ellipse cx="2249.9" cy="1760" rx="4.7" ry="5.6" fill="#9cb8e4"/><ellipse cx="2235.4" cy="1787.2" rx="4" ry="4.8" fill="#3a5498"/><ellipse cx="2249.9" cy="1775.5" rx="4.6" ry="5.5" fill="#4060a8"/><ellipse cx="2243.9" cy="1786" rx="3.9" ry="4.7" fill="#4060a8"/><ellipse cx="2241.7" cy="1789.3" rx="5.1" ry="6.1" fill="#9cb8e4"/><ellipse cx="2250.5" cy="1786.5" rx="4.5" ry="5.4" fill="#5a7cc4"/><ellipse cx="2247.3" cy="1783.6" rx="2.9" ry="3.5" fill="#4060a8"/><ellipse cx="2246.8" cy="1787.1" rx="3.6" ry="4.3" fill="#4060a8"/></g>
<g opacity="0.97"><ellipse cx="2248.1" cy="1759.5" rx="5" ry="6" fill="#5a7cc4"/><ellipse cx="2252" cy="1776.7" rx="4.2" ry="5.1" fill="#7c9cd8"/><ellipse cx="2242.2" cy="1783.6" rx="3.6" ry="4.3" fill="#3a5498"/><ellipse cx="2255.1" cy="1775.4" rx="5.1" ry="6.1" fill="#9cb8e4"/><ellipse cx="2255.2" cy="1759.2" rx="3.4" ry="4.1" fill="#4060a8"/><ellipse cx="2244.9" cy="1777.4" rx="4.9" ry="5.9" fill="#3a5498"/><ellipse cx="2248.7" cy="1785.3" rx="3" ry="3.6" fill="#5a7cc4"/><ellipse cx="2248.1" cy="1754.7" rx="4.8" ry="5.8" fill="#7c9cd8"/><ellipse cx="2244.9" cy="1773.7" rx="4.4" ry="5.3" fill="#3a5498"/><ellipse cx="2255" cy="1787.7" rx="4.6" ry="5.5" fill="#5a7cc4"/><ellipse cx="2249" cy="1774.5" rx="4.2" ry="5.1" fill="#9cb8e4"/><ellipse cx="2242.7" cy="1782.9" rx="4.4" ry="5.3" fill="#5a7cc4"/><ellipse cx="2252.3" cy="1762.7" rx="5" ry="6.1" fill="#7c9cd8"/><ellipse cx="2250.6" cy="1769.9" rx="4.6" ry="5.5" fill="#5a7cc4"/><ellipse cx="2253" cy="1780.9" rx="4.2" ry="5" fill="#4060a8"/><ellipse cx="2255.1" cy="1774" rx="4.9" ry="5.9" fill="#7c9cd8"/><ellipse cx="2253.7" cy="1779" rx="3.7" ry="4.4" fill="#7c9cd8"/><ellipse cx="2255.2" cy="1777.9" rx="4.2" ry="5" fill="#5a7cc4"/><ellipse cx="2251.4" cy="1779.9" rx="4.9" ry="5.8" fill="#3a5498"/><ellipse cx="2250.8" cy="1762.3" rx="3.2" ry="3.9" fill="#5a7cc4"/><ellipse cx="2253.4" cy="1772.6" rx="4.7" ry="5.7" fill="#9cb8e4"/><ellipse cx="2247.2" cy="1773" rx="3.9" ry="4.7" fill="#7c9cd8"/><ellipse cx="2249.2" cy="1766.7" rx="4.9" ry="5.9" fill="#9cb8e4"/><ellipse cx="2252.5" cy="1758.7" rx="4.6" ry="5.6" fill="#3a5498"/><ellipse cx="2246" cy="1771.4" rx="5" ry="6" fill="#5a7cc4"/><ellipse cx="2253.4" cy="1766.6" rx="4.9" ry="5.9" fill="#7c9cd8"/></g>
<g opacity="0.97"><ellipse cx="2287" cy="1766.7" rx="4.4" ry="5.3" fill="#4060a8"/><ellipse cx="2285.7" cy="1776.8" rx="4.8" ry="5.8" fill="#9cb8e4"/><ellipse cx="2280.3" cy="1787.4" rx="5.2" ry="6.2" fill="#5a7cc4"/><ellipse cx="2278.5" cy="1779.5" rx="3.8" ry="4.6" fill="#5a7cc4"/><ellipse cx="2275.3" cy="1758.8" rx="4.4" ry="5.3" fill="#7c9cd8"/><ellipse cx="2276" cy="1772.7" rx="5" ry="6" fill="#4060a8"/><ellipse cx="2278.4" cy="1789.5" rx="3.2" ry="3.8" fill="#4060a8"/><ellipse cx="2272.8" cy="1784.4" rx="4.6" ry="5.5" fill="#9cb8e4"/><ellipse cx="2280.8" cy="1762.5" rx="2.9" ry="3.4" fill="#4060a8"/><ellipse cx="2276.8" cy="1769.7" rx="3.8" ry="4.6" fill="#7c9cd8"/><ellipse cx="2285.7" cy="1787.7" rx="3.5" ry="4.2" fill="#3a5498"/><ellipse cx="2287.9" cy="1775.3" rx="5.3" ry="6.4" fill="#5a7cc4"/><ellipse cx="2273.8" cy="1773.4" rx="3.4" ry="4" fill="#3a5498"/><ellipse cx="2273.7" cy="1766.8" rx="4.4" ry="5.3" fill="#9cb8e4"/><ellipse cx="2287.9" cy="1788.9" rx="2.8" ry="3.4" fill="#3a5498"/><ellipse cx="2276.1" cy="1785.1" rx="3" ry="3.6" fill="#3a5498"/><ellipse cx="2277.3" cy="1783.5" rx="3.7" ry="4.4" fill="#5a7cc4"/><ellipse cx="2276" cy="1773.7" rx="4.7" ry="5.6" fill="#5a7cc4"/><ellipse cx="2287.2" cy="1787.6" rx="3.4" ry="4.1" fill="#7c9cd8"/><ellipse cx="2288" cy="1769.7" rx="4.6" ry="5.5" fill="#7c9cd8"/><ellipse cx="2281.9" cy="1764.7" rx="5.2" ry="6.2" fill="#7c9cd8"/><ellipse cx="2278.8" cy="1777.3" rx="4.5" ry="5.3" fill="#7c9cd8"/><ellipse cx="2275.4" cy="1767.5" rx="3" ry="3.6" fill="#5a7cc4"/><ellipse cx="2275.3" cy="1779.8" rx="3" ry="3.5" fill="#4060a8"/><ellipse cx="2285.4" cy="1766.9" rx="4.5" ry="5.3" fill="#9cb8e4"/><ellipse cx="2287.6" cy="1768.7" rx="4.4" ry="5.3" fill="#3a5498"/></g>
<g opacity="0.97"><ellipse cx="2379.9" cy="1779.4" rx="3" ry="3.7" fill="#5a7cc4"/><ellipse cx="2382.6" cy="1776.6" rx="3.5" ry="4.2" fill="#5a7cc4"/><ellipse cx="2381.2" cy="1783.5" rx="4.9" ry="5.9" fill="#7c9cd8"/><ellipse cx="2372.7" cy="1780.8" rx="2.9" ry="3.5" fill="#4060a8"/><ellipse cx="2387.2" cy="1769.3" rx="4.5" ry="5.4" fill="#5a7cc4"/><ellipse cx="2385.1" cy="1779.4" rx="4" ry="4.8" fill="#9cb8e4"/><ellipse cx="2374.6" cy="1761.4" rx="3.9" ry="4.7" fill="#3a5498"/><ellipse cx="2386.6" cy="1775.8" rx="4.5" ry="5.4" fill="#3a5498"/><ellipse cx="2382.7" cy="1774.7" rx="3.8" ry="4.6" fill="#5a7cc4"/><ellipse cx="2375.1" cy="1770.9" rx="4.5" ry="5.4" fill="#9cb8e4"/><ellipse cx="2380" cy="1759.8" rx="5" ry="6" fill="#3a5498"/><ellipse cx="2381.2" cy="1771.3" rx="4.3" ry="5.1" fill="#3a5498"/><ellipse cx="2380.2" cy="1781.7" rx="4.9" ry="5.9" fill="#5a7cc4"/><ellipse cx="2376.1" cy="1778.4" rx="5" ry="6" fill="#4060a8"/><ellipse cx="2378.2" cy="1783.8" rx="3.5" ry="4.2" fill="#3a5498"/><ellipse cx="2383.3" cy="1767.1" rx="3" ry="3.6" fill="#7c9cd8"/><ellipse cx="2383.6" cy="1783.1" rx="4.4" ry="5.3" fill="#4060a8"/><ellipse cx="2385.6" cy="1760.5" rx="4.7" ry="5.6" fill="#4060a8"/><ellipse cx="2375.1" cy="1767.1" rx="4.5" ry="5.4" fill="#3a5498"/><ellipse cx="2377.8" cy="1763.5" rx="4.8" ry="5.8" fill="#3a5498"/><ellipse cx="2382.8" cy="1762.8" rx="3.1" ry="3.7" fill="#4060a8"/><ellipse cx="2379.5" cy="1778.9" rx="4" ry="4.8" fill="#3a5498"/><ellipse cx="2385.6" cy="1784.4" rx="3.4" ry="4.1" fill="#3a5498"/><ellipse cx="2377.5" cy="1777" rx="4.4" ry="5.2" fill="#7c9cd8"/><ellipse cx="2377.1" cy="1771" rx="4.3" ry="5.1" fill="#5a7cc4"/><ellipse cx="2374.8" cy="1770.2" rx="5" ry="6" fill="#3a5498"/></g>
<g opacity="0.9"><ellipse cx="2331.8" cy="1770.8" rx="2.1" ry="6.4" fill="#a088c4"/><ellipse cx="2341.2" cy="1770" rx="1.8" ry="5.4" fill="#c0a8d8"/><ellipse cx="2341" cy="1782" rx="2.4" ry="7.2" fill="#8a70b0"/><ellipse cx="2335.9" cy="1783" rx="2.2" ry="6.7" fill="#a088c4"/><ellipse cx="2331" cy="1776.7" rx="1.9" ry="5.7" fill="#a088c4"/><ellipse cx="2336.4" cy="1785.5" rx="2.4" ry="7.3" fill="#c0a8d8"/><ellipse cx="2346" cy="1776" rx="2" ry="5.9" fill="#8a70b0"/><ellipse cx="2327.9" cy="1787.8" rx="2.8" ry="8.3" fill="#8a70b0"/><ellipse cx="2322.9" cy="1789.2" rx="2.5" ry="7.4" fill="#c0a8d8"/><ellipse cx="2338.5" cy="1767.5" rx="2" ry="6.1" fill="#c0a8d8"/><ellipse cx="2324" cy="1787.9" rx="2.4" ry="7.3" fill="#8a70b0"/><ellipse cx="2321.9" cy="1766.5" rx="1.9" ry="5.8" fill="#a088c4"/><ellipse cx="2347.2" cy="1785.5" rx="2.2" ry="6.7" fill="#c0a8d8"/><ellipse cx="2321.3" cy="1771.5" rx="2.5" ry="7.6" fill="#c0a8d8"/><ellipse cx="2349.9" cy="1773.6" rx="1.6" ry="4.7" fill="#8a70b0"/><ellipse cx="2323.4" cy="1785.8" rx="2.1" ry="6.3" fill="#c0a8d8"/></g>
<g opacity="0.9"><ellipse cx="2483" cy="1788.5" rx="2.1" ry="6.4" fill="#a088c4"/><ellipse cx="2472.4" cy="1766.7" rx="2.5" ry="7.5" fill="#8a70b0"/><ellipse cx="2523.1" cy="1771.3" rx="2.2" ry="6.7" fill="#8a70b0"/><ellipse cx="2493" cy="1783.3" rx="2.8" ry="8.3" fill="#8a70b0"/><ellipse cx="2474.4" cy="1774.3" rx="2.4" ry="7.1" fill="#c0a8d8"/><ellipse cx="2499.4" cy="1785.6" rx="2.1" ry="6.2" fill="#a088c4"/><ellipse cx="2520.7" cy="1780.3" rx="2.8" ry="8.4" fill="#a088c4"/><ellipse cx="2493.5" cy="1776.1" rx="2.6" ry="7.8" fill="#8a70b0"/><ellipse cx="2485.6" cy="1777" rx="2.5" ry="7.6" fill="#a088c4"/><ellipse cx="2484.1" cy="1771.1" rx="2.1" ry="6.2" fill="#a088c4"/><ellipse cx="2489.3" cy="1787.9" rx="2.3" ry="6.8" fill="#c0a8d8"/><ellipse cx="2491.9" cy="1774.9" rx="2.4" ry="7.3" fill="#a088c4"/><ellipse cx="2522" cy="1774.6" rx="2.4" ry="7.2" fill="#8a70b0"/><ellipse cx="2497.1" cy="1789" rx="2.7" ry="8.1" fill="#a088c4"/><ellipse cx="2504" cy="1771.5" rx="2.2" ry="6.7" fill="#a088c4"/><ellipse cx="2516.7" cy="1769.5" rx="2.6" ry="7.7" fill="#c0a8d8"/></g>
<g opacity="0.9"><ellipse cx="2146.4" cy="1781.1" rx="1.8" ry="5.5" fill="#a088c4"/><ellipse cx="2161" cy="1771.8" rx="2.4" ry="7.3" fill="#a088c4"/><ellipse cx="2127.7" cy="1785.5" rx="2.4" ry="7.2" fill="#8a70b0"/><ellipse cx="2117.8" cy="1787.5" rx="2.2" ry="6.7" fill="#a088c4"/><ellipse cx="2127.8" cy="1780.8" rx="1.7" ry="5.2" fill="#a088c4"/><ellipse cx="2172.5" cy="1778.6" rx="2.3" ry="6.9" fill="#8a70b0"/><ellipse cx="2144.9" cy="1779.2" rx="2" ry="5.9" fill="#c0a8d8"/><ellipse cx="2118.6" cy="1785.3" rx="2.8" ry="8.3" fill="#8a70b0"/><ellipse cx="2111.4" cy="1774.8" rx="1.7" ry="5.1" fill="#a088c4"/><ellipse cx="2165.9" cy="1781.1" rx="2.3" ry="7" fill="#a088c4"/><ellipse cx="2162.3" cy="1768.6" rx="2.2" ry="6.5" fill="#c0a8d8"/><ellipse cx="2151.2" cy="1779.4" rx="2.1" ry="6.3" fill="#c0a8d8"/><ellipse cx="2114.6" cy="1766.9" rx="2.7" ry="8.1" fill="#a088c4"/><ellipse cx="2118.4" cy="1780.6" rx="2" ry="6.1" fill="#a088c4"/><ellipse cx="2133" cy="1766.4" rx="2.4" ry="7.2" fill="#a088c4"/><ellipse cx="2139.9" cy="1778.1" rx="2.4" ry="7.2" fill="#c0a8d8"/></g>
<rect x="1882.9" y="1797.5" width="362.1" height="58.6" fill="#3c4a50"/>
<rect x="2240" y="1797.5" width="363.9" height="58.6" fill="#3c4a50"/>
<g opacity="0.95"><ellipse cx="2204.6" cy="1820.8" rx="3.4" ry="5" fill="#7a6aa8"/><ellipse cx="2203.6" cy="1854.5" rx="3.8" ry="5.7" fill="#6456a0"/><ellipse cx="2217.7" cy="1841.9" rx="2.8" ry="4.2" fill="#6456a0"/><ellipse cx="1968.8" cy="1838.6" rx="1.9" ry="2.9" fill="#7a6aa8"/><ellipse cx="2065.6" cy="1840.3" rx="3.5" ry="5.3" fill="#356a3a"/><ellipse cx="2144.1" cy="1828.3" rx="3.2" ry="4.9" fill="#6456a0"/><ellipse cx="2169.5" cy="1811.7" rx="2.1" ry="3.2" fill="#356a3a"/><ellipse cx="2191.6" cy="1808.7" rx="3.5" ry="5.2" fill="#54488c"/><ellipse cx="2030.2" cy="1822" rx="2.6" ry="3.9" fill="#5c5490"/><ellipse cx="2070.9" cy="1842.1" rx="2.9" ry="4.3" fill="#8c7cb8"/><ellipse cx="1932.6" cy="1826.6" rx="2" ry="2.9" fill="#6456a0"/><ellipse cx="2065.4" cy="1838.6" rx="2.9" ry="4.4" fill="#8c7cb8"/><ellipse cx="1929.4" cy="1839.3" rx="3.2" ry="4.8" fill="#24482a"/><ellipse cx="1901.9" cy="1826.3" rx="2.9" ry="4.3" fill="#6456a0"/><ellipse cx="1977.7" cy="1829.1" rx="2.3" ry="3.5" fill="#4a4488"/><ellipse cx="1932.3" cy="1833.2" rx="3.2" ry="4.8" fill="#24482a"/><ellipse cx="1943.7" cy="1832.8" rx="3.5" ry="5.2" fill="#54488c"/><ellipse cx="2007.8" cy="1818.9" rx="2.8" ry="4.2" fill="#356a3a"/><ellipse cx="2058.7" cy="1817.9" rx="2.1" ry="3.2" fill="#8c7cb8"/><ellipse cx="1972.3" cy="1820.4" rx="2.2" ry="3.3" fill="#5c5490"/><ellipse cx="2123.6" cy="1814.2" rx="2.5" ry="3.8" fill="#8c7cb8"/><ellipse cx="1916.2" cy="1821.9" rx="3.6" ry="5.4" fill="#7a6aa8"/><ellipse cx="1899.5" cy="1851.5" rx="3.2" ry="4.8" fill="#54488c"/><ellipse cx="2059.5" cy="1842.4" rx="3.2" ry="4.8" fill="#6456a0"/><ellipse cx="2034.3" cy="1809.3" rx="2.7" ry="4.1" fill="#54488c"/><ellipse cx="2188.7" cy="1810.7" rx="2.3" ry="3.4" fill="#7a6aa8"/><ellipse cx="1892" cy="1816" rx="2.9" ry="4.4" fill="#6456a0"/><ellipse cx="2100.4" cy="1835.2" rx="3.3" ry="5" fill="#4a4488"/><ellipse cx="1916.1" cy="1849.3" rx="2.3" ry="3.5" fill="#54488c"/><ellipse cx="2151.7" cy="1834.2" rx="3.2" ry="4.7" fill="#6456a0"/><ellipse cx="2015.8" cy="1825.1" rx="2.7" ry="4" fill="#54488c"/><ellipse cx="2022.6" cy="1825.5" rx="3.1" ry="4.7" fill="#6456a0"/><ellipse cx="2190.6" cy="1847.6" rx="3.4" ry="5.1" fill="#8c7cb8"/><ellipse cx="2017.8" cy="1839.6" rx="3.9" ry="5.9" fill="#4a4488"/><ellipse cx="1939.7" cy="1839.4" rx="2.7" ry="4" fill="#5c5490"/><ellipse cx="1897.9" cy="1836.8" rx="2.1" ry="3.2" fill="#6456a0"/><ellipse cx="1887.9" cy="1844.6" rx="2.9" ry="4.4" fill="#24482a"/><ellipse cx="2007.1" cy="1807.5" rx="2" ry="3" fill="#24482a"/><ellipse cx="2238.8" cy="1850.8" rx="2.1" ry="3.1" fill="#6456a0"/><ellipse cx="1886.1" cy="1807" rx="3.8" ry="5.8" fill="#54488c"/><ellipse cx="2122" cy="1818.8" rx="3.4" ry="5.1" fill="#6456a0"/><ellipse cx="1925.9" cy="1831.7" rx="2.4" ry="3.6" fill="#356a3a"/><ellipse cx="1972.8" cy="1847.4" rx="4.1" ry="6.1" fill="#6456a0"/><ellipse cx="1884.8" cy="1822.5" rx="2.5" ry="3.8" fill="#6456a0"/><ellipse cx="2145.9" cy="1841.8" rx="3.3" ry="4.9" fill="#4a4488"/><ellipse cx="2024.2" cy="1821.9" rx="2" ry="3" fill="#5c5490"/><ellipse cx="1907.6" cy="1831.9" rx="3.3" ry="5" fill="#24482a"/><ellipse cx="1989.7" cy="1830" rx="3.5" ry="5.2" fill="#54488c"/><ellipse cx="2189.4" cy="1847.2" rx="2.1" ry="3.2" fill="#2a5230"/><ellipse cx="2140.2" cy="1827.3" rx="3.8" ry="5.7" fill="#54488c"/><ellipse cx="2074.6" cy="1847.7" rx="3.1" ry="4.6" fill="#6456a0"/><ellipse cx="2146.3" cy="1821" rx="2.4" ry="3.6" fill="#7a6aa8"/><ellipse cx="2216.8" cy="1819.5" rx="3.9" ry="5.8" fill="#4a4488"/><ellipse cx="1988.5" cy="1847.3" rx="4.1" ry="6.1" fill="#4a4488"/><ellipse cx="2221.1" cy="1847.8" rx="2.9" ry="4.3" fill="#6456a0"/><ellipse cx="2133.5" cy="1838.4" rx="2.5" ry="3.8" fill="#54488c"/><ellipse cx="2188.2" cy="1823.3" rx="3.2" ry="4.9" fill="#2a5230"/><ellipse cx="1959.6" cy="1855.3" rx="2" ry="3" fill="#356a3a"/><ellipse cx="2109.3" cy="1836.9" rx="2.3" ry="3.4" fill="#8c7cb8"/><ellipse cx="2163.5" cy="1854.2" rx="3.7" ry="5.6" fill="#4a4488"/><ellipse cx="1912.3" cy="1841.8" rx="2.5" ry="3.8" fill="#8c7cb8"/><ellipse cx="1969.2" cy="1846.3" rx="2.9" ry="4.4" fill="#7a6aa8"/><ellipse cx="2157.7" cy="1841.4" rx="2.2" ry="3.3" fill="#356a3a"/><ellipse cx="2036.3" cy="1821.6" rx="3.7" ry="5.6" fill="#4a4488"/><ellipse cx="2045.3" cy="1854.6" rx="2.1" ry="3.2" fill="#54488c"/><ellipse cx="2069.5" cy="1840.5" rx="2.8" ry="4.2" fill="#24482a"/><ellipse cx="2017.7" cy="1852.8" rx="3.8" ry="5.6" fill="#356a3a"/><ellipse cx="1916" cy="1817.8" rx="2.1" ry="3.1" fill="#8c7cb8"/><ellipse cx="2140.6" cy="1821.7" rx="2.9" ry="4.3" fill="#356a3a"/><ellipse cx="2211.1" cy="1817.9" rx="2.7" ry="4.1" fill="#4a4488"/><ellipse cx="2003.5" cy="1846.3" rx="2.8" ry="4.1" fill="#24482a"/><ellipse cx="2088" cy="1847.3" rx="2.3" ry="3.5" fill="#24482a"/><ellipse cx="2132.1" cy="1850.8" rx="2.2" ry="3.2" fill="#8c7cb8"/><ellipse cx="2104.5" cy="1817.6" rx="2.8" ry="4.3" fill="#8c7cb8"/><ellipse cx="2188.3" cy="1811.7" rx="2.6" ry="3.9" fill="#8c7cb8"/><ellipse cx="1994.3" cy="1851.3" rx="3.5" ry="5.3" fill="#7a6aa8"/><ellipse cx="1945.3" cy="1825.6" rx="2.6" ry="3.9" fill="#7a6aa8"/><ellipse cx="1910.2" cy="1832.6" rx="3.1" ry="4.6" fill="#8c7cb8"/><ellipse cx="2117.2" cy="1843.1" rx="2" ry="3" fill="#2a5230"/><ellipse cx="2119.3" cy="1809" rx="2.2" ry="3.3" fill="#356a3a"/><ellipse cx="2009.4" cy="1844.7" rx="2.8" ry="4.2" fill="#5c5490"/><ellipse cx="1994" cy="1820.3" rx="2.6" ry="3.9" fill="#24482a"/><ellipse cx="2006.3" cy="1846.8" rx="3.6" ry="5.5" fill="#4a4488"/><ellipse cx="2115.4" cy="1825.8" rx="2.6" ry="3.9" fill="#356a3a"/><ellipse cx="1907" cy="1811.2" rx="3.1" ry="4.7" fill="#2a5230"/><ellipse cx="2222.7" cy="1816.7" rx="3.6" ry="5.4" fill="#8c7cb8"/><ellipse cx="2141.2" cy="1827.5" rx="3.6" ry="5.5" fill="#8c7cb8"/><ellipse cx="2091.6" cy="1816.9" rx="2" ry="3" fill="#24482a"/><ellipse cx="1936.5" cy="1812.3" rx="2.2" ry="3.4" fill="#8c7cb8"/><ellipse cx="2181.2" cy="1848.4" rx="3.1" ry="4.7" fill="#8c7cb8"/><ellipse cx="1935.9" cy="1811" rx="3.8" ry="5.7" fill="#2a5230"/><ellipse cx="2104.7" cy="1826.8" rx="2" ry="3" fill="#8c7cb8"/><ellipse cx="2233.5" cy="1840.5" rx="3.6" ry="5.4" fill="#4a4488"/><ellipse cx="1991.5" cy="1855.2" rx="3.1" ry="4.6" fill="#2a5230"/><ellipse cx="2045.2" cy="1806.3" rx="3.4" ry="5.1" fill="#356a3a"/><ellipse cx="2070.3" cy="1815.5" rx="2.2" ry="3.3" fill="#6456a0"/><ellipse cx="2231.8" cy="1851.9" rx="2.9" ry="4.4" fill="#7a6aa8"/><ellipse cx="2006.7" cy="1830.4" rx="2.6" ry="4" fill="#2a5230"/><ellipse cx="1896.1" cy="1831.6" rx="2.4" ry="3.6" fill="#8c7cb8"/><ellipse cx="2038.3" cy="1807.7" rx="2.9" ry="4.4" fill="#8c7cb8"/><ellipse cx="1891.2" cy="1841.3" rx="3.4" ry="5.1" fill="#356a3a"/><ellipse cx="2023.2" cy="1836.4" rx="3.3" ry="4.9" fill="#4a4488"/><ellipse cx="2169.8" cy="1811.9" rx="3.9" ry="5.9" fill="#356a3a"/><ellipse cx="2242.4" cy="1816.2" rx="2.1" ry="3.2" fill="#54488c"/><ellipse cx="1964.4" cy="1817.5" rx="3.2" ry="4.8" fill="#8c7cb8"/><ellipse cx="2179.4" cy="1811" rx="3.6" ry="5.4" fill="#6456a0"/><ellipse cx="2119.8" cy="1825.3" rx="2.4" ry="3.6" fill="#7a6aa8"/><ellipse cx="2146.7" cy="1830.7" rx="3.2" ry="4.8" fill="#24482a"/><ellipse cx="2206.4" cy="1832.8" rx="2.6" ry="3.9" fill="#7a6aa8"/><ellipse cx="2024.2" cy="1819.8" rx="3.4" ry="5.1" fill="#24482a"/><ellipse cx="2204.8" cy="1852" rx="3.9" ry="5.9" fill="#7a6aa8"/><ellipse cx="2033.3" cy="1823.4" rx="3.8" ry="5.8" fill="#6456a0"/><ellipse cx="2218.8" cy="1842.3" rx="1.9" ry="2.9" fill="#7a6aa8"/><ellipse cx="1928.2" cy="1830.9" rx="3.7" ry="5.6" fill="#356a3a"/><ellipse cx="1976.5" cy="1852.5" rx="2.1" ry="3.2" fill="#4a4488"/><ellipse cx="1951.1" cy="1834" rx="2.6" ry="3.9" fill="#5c5490"/><ellipse cx="2221.3" cy="1838" rx="2.6" ry="3.9" fill="#8c7cb8"/><ellipse cx="2142.8" cy="1824.3" rx="2.9" ry="4.4" fill="#356a3a"/><ellipse cx="2101" cy="1844" rx="2.8" ry="4.3" fill="#7a6aa8"/><ellipse cx="2083.1" cy="1816.5" rx="2.4" ry="3.7" fill="#6456a0"/><ellipse cx="1893.4" cy="1812.7" rx="3.3" ry="5" fill="#24482a"/><ellipse cx="2208.1" cy="1853.9" rx="2.7" ry="4.1" fill="#7a6aa8"/><ellipse cx="2087.4" cy="1830.7" rx="2.5" ry="3.8" fill="#2a5230"/><ellipse cx="2121.1" cy="1808.9" rx="3" ry="4.5" fill="#24482a"/><ellipse cx="2012.9" cy="1848.7" rx="3.5" ry="5.2" fill="#54488c"/><ellipse cx="2147" cy="1816.5" rx="2.5" ry="3.8" fill="#24482a"/><ellipse cx="2147.8" cy="1809.4" rx="3.8" ry="5.7" fill="#4a4488"/><ellipse cx="2049.9" cy="1826.3" rx="2.5" ry="3.7" fill="#6456a0"/><ellipse cx="2083.5" cy="1810.4" rx="3" ry="4.4" fill="#356a3a"/><ellipse cx="2024.3" cy="1849.5" rx="2" ry="3" fill="#2a5230"/><ellipse cx="2211.3" cy="1809.5" rx="3.5" ry="5.2" fill="#6456a0"/><ellipse cx="2077.9" cy="1845" rx="2.6" ry="3.9" fill="#24482a"/><ellipse cx="1969.1" cy="1849.5" rx="3.7" ry="5.5" fill="#5c5490"/><ellipse cx="2162.5" cy="1830.2" rx="3.7" ry="5.5" fill="#7a6aa8"/><ellipse cx="1962.3" cy="1809.8" rx="2.7" ry="4" fill="#5c5490"/><ellipse cx="1892.7" cy="1812.8" rx="3.9" ry="5.9" fill="#6456a0"/><ellipse cx="2024" cy="1806.3" rx="3.8" ry="5.7" fill="#6456a0"/><ellipse cx="2061.4" cy="1829.6" rx="2.4" ry="3.6" fill="#356a3a"/><ellipse cx="1911.6" cy="1841" rx="3.7" ry="5.5" fill="#356a3a"/><ellipse cx="1977.2" cy="1837.2" rx="3" ry="4.4" fill="#8c7cb8"/><ellipse cx="2025.4" cy="1844.2" rx="3.1" ry="4.7" fill="#8c7cb8"/><ellipse cx="2070.9" cy="1828.3" rx="3.2" ry="4.9" fill="#8c7cb8"/><ellipse cx="1989.1" cy="1807.5" rx="3.1" ry="4.6" fill="#5c5490"/><ellipse cx="1932.4" cy="1834.9" rx="2.2" ry="3.3" fill="#356a3a"/><ellipse cx="2137" cy="1839.5" rx="2.9" ry="4.3" fill="#6456a0"/><ellipse cx="2019.9" cy="1815.1" rx="3.9" ry="5.9" fill="#2a5230"/><ellipse cx="2152.5" cy="1818.9" rx="2.8" ry="4.2" fill="#54488c"/><ellipse cx="1917.1" cy="1838" rx="3.4" ry="5" fill="#4a4488"/><ellipse cx="1921" cy="1846.1" rx="3.2" ry="4.8" fill="#6456a0"/><ellipse cx="2070.4" cy="1835.9" rx="2.1" ry="3.2" fill="#5c5490"/><ellipse cx="1952.8" cy="1810.2" rx="2" ry="3" fill="#5c5490"/><ellipse cx="1921.1" cy="1824.6" rx="3.7" ry="5.6" fill="#8c7cb8"/><ellipse cx="1968.3" cy="1850.7" rx="4" ry="5.9" fill="#24482a"/><ellipse cx="1993.8" cy="1840.3" rx="2.2" ry="3.3" fill="#8c7cb8"/><ellipse cx="2018.1" cy="1850.7" rx="3.1" ry="4.7" fill="#8c7cb8"/><ellipse cx="2050.9" cy="1839.1" rx="2.5" ry="3.8" fill="#24482a"/><ellipse cx="2233" cy="1807.3" rx="2.1" ry="3.1" fill="#5c5490"/><ellipse cx="1988.8" cy="1848.8" rx="2.5" ry="3.8" fill="#24482a"/><ellipse cx="2052.5" cy="1828.2" rx="2.3" ry="3.5" fill="#4a4488"/><ellipse cx="1906.7" cy="1824.7" rx="2.6" ry="3.9" fill="#8c7cb8"/><ellipse cx="2127" cy="1850.9" rx="3.7" ry="5.6" fill="#7a6aa8"/><ellipse cx="2106.6" cy="1847.8" rx="3.1" ry="4.7" fill="#24482a"/><ellipse cx="2167.6" cy="1849.2" rx="3" ry="4.5" fill="#4a4488"/><ellipse cx="1947.5" cy="1854.3" rx="3.8" ry="5.7" fill="#356a3a"/><ellipse cx="1993.8" cy="1827.2" rx="2" ry="3" fill="#7a6aa8"/><ellipse cx="2046.5" cy="1820.7" rx="2.9" ry="4.4" fill="#8c7cb8"/><ellipse cx="1894.2" cy="1829.5" rx="2.2" ry="3.3" fill="#4a4488"/><ellipse cx="2219.7" cy="1814.8" rx="3.2" ry="4.9" fill="#2a5230"/><ellipse cx="2048.1" cy="1807" rx="2.2" ry="3.3" fill="#7a6aa8"/><ellipse cx="1976.5" cy="1827.7" rx="3.7" ry="5.6" fill="#356a3a"/><ellipse cx="2207.3" cy="1835" rx="2.4" ry="3.6" fill="#24482a"/><ellipse cx="2227.1" cy="1812.3" rx="3.6" ry="5.3" fill="#5c5490"/><ellipse cx="2051.8" cy="1836.6" rx="2.4" ry="3.6" fill="#24482a"/><ellipse cx="2188.1" cy="1855.2" rx="2.5" ry="3.8" fill="#24482a"/><ellipse cx="2201" cy="1832.9" rx="2.1" ry="3.2" fill="#24482a"/><ellipse cx="2219.3" cy="1808.3" rx="2.4" ry="3.7" fill="#54488c"/><ellipse cx="1900.5" cy="1850.7" rx="3.6" ry="5.4" fill="#7a6aa8"/><ellipse cx="2045.5" cy="1825.6" rx="3.9" ry="5.9" fill="#24482a"/><ellipse cx="2085.8" cy="1849.9" rx="3.3" ry="4.9" fill="#54488c"/><ellipse cx="2063.4" cy="1819.2" rx="3.1" ry="4.6" fill="#5c5490"/><ellipse cx="2013.9" cy="1847.9" rx="4" ry="6" fill="#6456a0"/><ellipse cx="2190.1" cy="1842.4" rx="2" ry="3" fill="#2a5230"/><ellipse cx="2228.8" cy="1854.8" rx="2.9" ry="4.3" fill="#2a5230"/><ellipse cx="2049.5" cy="1812.3" rx="2.5" ry="3.7" fill="#54488c"/><ellipse cx="2169.7" cy="1842" rx="3" ry="4.5" fill="#6456a0"/><ellipse cx="2060" cy="1816.8" rx="3.1" ry="4.7" fill="#5c5490"/><ellipse cx="1945.2" cy="1833.3" rx="3.1" ry="4.7" fill="#356a3a"/><ellipse cx="2039.3" cy="1810.1" rx="3.4" ry="5.1" fill="#4a4488"/><ellipse cx="1887.7" cy="1822.2" rx="2.9" ry="4.4" fill="#2a5230"/><ellipse cx="2039.5" cy="1831" rx="2.3" ry="3.5" fill="#5c5490"/><ellipse cx="1985.5" cy="1842.1" rx="2.8" ry="4.1" fill="#2a5230"/><ellipse cx="1939.3" cy="1842.2" rx="2.8" ry="4.1" fill="#4a4488"/><ellipse cx="2138.6" cy="1825.6" rx="3.7" ry="5.5" fill="#356a3a"/><ellipse cx="2230.5" cy="1831.5" rx="3.3" ry="5" fill="#356a3a"/><ellipse cx="2190.9" cy="1821" rx="2.6" ry="3.9" fill="#4a4488"/><ellipse cx="2174.7" cy="1847.2" rx="2.5" ry="3.7" fill="#8c7cb8"/><ellipse cx="1953" cy="1819.7" rx="3.1" ry="4.7" fill="#6456a0"/><ellipse cx="1956.5" cy="1829.5" rx="2.8" ry="4.2" fill="#8c7cb8"/><ellipse cx="2025.8" cy="1838.1" rx="4" ry="6" fill="#54488c"/><ellipse cx="2220.5" cy="1854.7" rx="3.9" ry="5.9" fill="#7a6aa8"/><ellipse cx="2133.4" cy="1844.6" rx="2.6" ry="3.9" fill="#6456a0"/><ellipse cx="2102.2" cy="1826.8" rx="3.6" ry="5.5" fill="#2a5230"/><ellipse cx="2198.1" cy="1806.6" rx="2.7" ry="4" fill="#6456a0"/><ellipse cx="2119.4" cy="1825.8" rx="4.1" ry="6.1" fill="#4a4488"/><ellipse cx="2081.2" cy="1811.8" rx="2.6" ry="3.9" fill="#54488c"/><ellipse cx="2134.9" cy="1811.1" rx="2.7" ry="4.1" fill="#7a6aa8"/><ellipse cx="2172.6" cy="1834.9" rx="3.8" ry="5.7" fill="#54488c"/><ellipse cx="1942.7" cy="1854.5" rx="3.4" ry="5" fill="#5c5490"/><ellipse cx="2164.8" cy="1819.6" rx="3.5" ry="5.2" fill="#54488c"/><ellipse cx="2080" cy="1844.8" rx="2.7" ry="4.1" fill="#6456a0"/><ellipse cx="2225.2" cy="1828.1" rx="2.6" ry="3.8" fill="#2a5230"/><ellipse cx="1914" cy="1849.6" rx="2.5" ry="3.7" fill="#4a4488"/><ellipse cx="1951.6" cy="1843.9" rx="3" ry="4.5" fill="#6456a0"/><ellipse cx="1991.9" cy="1806.4" rx="3.5" ry="5.3" fill="#7a6aa8"/><ellipse cx="2217.6" cy="1817.2" rx="2.6" ry="3.9" fill="#24482a"/><ellipse cx="1927" cy="1829.7" rx="2.4" ry="3.6" fill="#2a5230"/><ellipse cx="2088.3" cy="1831.5" rx="2.1" ry="3.2" fill="#6456a0"/><ellipse cx="1884.5" cy="1848" rx="3.3" ry="5" fill="#5c5490"/><ellipse cx="2090.2" cy="1836.7" rx="4.1" ry="6.1" fill="#8c7cb8"/><ellipse cx="2094.1" cy="1807.1" rx="2.9" ry="4.4" fill="#7a6aa8"/><ellipse cx="2179" cy="1808.4" rx="3.4" ry="5" fill="#2a5230"/><ellipse cx="2207.8" cy="1849.1" rx="3.9" ry="5.8" fill="#5c5490"/><ellipse cx="2078.4" cy="1820.2" rx="2" ry="3" fill="#24482a"/><ellipse cx="2181.4" cy="1812.5" rx="2.6" ry="4" fill="#2a5230"/><ellipse cx="1970.9" cy="1848" rx="2.4" ry="3.6" fill="#6456a0"/><ellipse cx="2190.7" cy="1848.6" rx="2.4" ry="3.6" fill="#54488c"/><ellipse cx="1982.5" cy="1821.2" rx="3.2" ry="4.8" fill="#356a3a"/><ellipse cx="2043.1" cy="1833.4" rx="2.8" ry="4.2" fill="#356a3a"/><ellipse cx="2167.8" cy="1806.3" rx="3.6" ry="5.5" fill="#5c5490"/><ellipse cx="2158.1" cy="1847.9" rx="2.6" ry="3.9" fill="#6456a0"/><ellipse cx="2145.5" cy="1811.9" rx="3.3" ry="5" fill="#5c5490"/><ellipse cx="2132.8" cy="1829.5" rx="2.7" ry="4" fill="#8c7cb8"/><ellipse cx="2236.7" cy="1814" rx="3.6" ry="5.5" fill="#6456a0"/><ellipse cx="2125.9" cy="1848.7" rx="3.5" ry="5.3" fill="#8c7cb8"/><ellipse cx="2206.5" cy="1832.3" rx="2.4" ry="3.5" fill="#54488c"/><ellipse cx="2209.2" cy="1832.4" rx="1.9" ry="2.9" fill="#54488c"/><ellipse cx="2080" cy="1817.3" rx="2.9" ry="4.4" fill="#6456a0"/><ellipse cx="2114.3" cy="1832.2" rx="2.3" ry="3.5" fill="#356a3a"/><ellipse cx="1950.3" cy="1836.8" rx="3.8" ry="5.7" fill="#8c7cb8"/><ellipse cx="2237.2" cy="1839.5" rx="2.9" ry="4.4" fill="#7a6aa8"/><ellipse cx="2083.1" cy="1823.6" rx="3.8" ry="5.7" fill="#4a4488"/><ellipse cx="1886.2" cy="1847.9" rx="3.7" ry="5.6" fill="#2a5230"/><ellipse cx="1895.8" cy="1825.3" rx="3" ry="4.5" fill="#4a4488"/><ellipse cx="1977.9" cy="1826.6" rx="3.6" ry="5.4" fill="#7a6aa8"/><ellipse cx="2111" cy="1845.1" rx="2.4" ry="3.7" fill="#5c5490"/><ellipse cx="2194" cy="1818.6" rx="3.6" ry="5.4" fill="#8c7cb8"/><ellipse cx="2136.4" cy="1808.6" rx="1.9" ry="2.9" fill="#8c7cb8"/><ellipse cx="2106.8" cy="1849.8" rx="2" ry="3" fill="#24482a"/><ellipse cx="2242.4" cy="1808.5" rx="3.6" ry="5.4" fill="#24482a"/><ellipse cx="2099.1" cy="1834.8" rx="1.9" ry="2.9" fill="#6456a0"/><ellipse cx="2223.8" cy="1817.2" rx="2.3" ry="3.5" fill="#4a4488"/><ellipse cx="1907.8" cy="1825.8" rx="3" ry="4.5" fill="#2a5230"/><ellipse cx="2173.1" cy="1849.1" rx="3" ry="4.5" fill="#7a6aa8"/><ellipse cx="2084.8" cy="1850.6" rx="3.3" ry="4.9" fill="#24482a"/><ellipse cx="2044.9" cy="1832.7" rx="2.6" ry="3.9" fill="#24482a"/><ellipse cx="2125.4" cy="1821.2" rx="2.8" ry="4.2" fill="#4a4488"/><ellipse cx="2210.2" cy="1834.7" rx="4" ry="6" fill="#4a4488"/><ellipse cx="1940.5" cy="1840.5" rx="4" ry="6" fill="#2a5230"/><ellipse cx="2043.7" cy="1853.5" rx="1.9" ry="2.9" fill="#6456a0"/><ellipse cx="2053.2" cy="1829.3" rx="2.3" ry="3.4" fill="#5c5490"/><ellipse cx="2153.4" cy="1837.5" rx="1.9" ry="2.9" fill="#2a5230"/><ellipse cx="1996.4" cy="1830.8" rx="3" ry="4.4" fill="#5c5490"/><ellipse cx="1947.5" cy="1808.9" rx="3.4" ry="5.2" fill="#2a5230"/><ellipse cx="2018.2" cy="1849.3" rx="2.8" ry="4.2" fill="#5c5490"/><ellipse cx="2080.5" cy="1826.1" rx="2.8" ry="4.3" fill="#7a6aa8"/><ellipse cx="2137" cy="1806.7" rx="2.5" ry="3.8" fill="#6456a0"/><ellipse cx="2136.7" cy="1812.6" rx="3" ry="4.5" fill="#54488c"/><ellipse cx="1934.6" cy="1833" rx="3.5" ry="5.2" fill="#7a6aa8"/><ellipse cx="1939.2" cy="1809" rx="3.8" ry="5.7" fill="#24482a"/><ellipse cx="2080.6" cy="1805.8" rx="3" ry="4.5" fill="#6456a0"/><ellipse cx="2182.6" cy="1852.7" rx="4.1" ry="6.1" fill="#7a6aa8"/><ellipse cx="1887.6" cy="1837.5" rx="2.4" ry="3.6" fill="#5c5490"/><ellipse cx="2187.4" cy="1845" rx="2.7" ry="4.1" fill="#24482a"/><ellipse cx="2127.2" cy="1822" rx="3" ry="4.4" fill="#356a3a"/><ellipse cx="1907.2" cy="1838.6" rx="3.4" ry="5.1" fill="#8c7cb8"/><ellipse cx="2078.2" cy="1854.1" rx="3.2" ry="4.9" fill="#4a4488"/><ellipse cx="1922.4" cy="1813.6" rx="3.8" ry="5.8" fill="#7a6aa8"/><ellipse cx="1985.5" cy="1820.7" rx="3.2" ry="4.7" fill="#5c5490"/><ellipse cx="2122.1" cy="1843.3" rx="3.8" ry="5.7" fill="#8c7cb8"/><ellipse cx="2227.9" cy="1807.3" rx="3.6" ry="5.5" fill="#24482a"/><ellipse cx="2061.6" cy="1829.7" rx="3.6" ry="5.5" fill="#7a6aa8"/><ellipse cx="2099.7" cy="1840.1" rx="2.2" ry="3.3" fill="#7a6aa8"/><ellipse cx="1965.1" cy="1821.4" rx="3" ry="4.5" fill="#356a3a"/><ellipse cx="2214.9" cy="1845.9" rx="2.7" ry="4" fill="#4a4488"/><ellipse cx="2224.9" cy="1850.3" rx="3.7" ry="5.5" fill="#7a6aa8"/><ellipse cx="1888.9" cy="1816.4" rx="1.9" ry="2.9" fill="#5c5490"/><ellipse cx="1915.2" cy="1853.6" rx="2.2" ry="3.3" fill="#6456a0"/><ellipse cx="2162.9" cy="1850.8" rx="2.5" ry="3.7" fill="#7a6aa8"/><ellipse cx="2029.8" cy="1855.3" rx="3.6" ry="5.4" fill="#24482a"/><ellipse cx="2121.3" cy="1818.4" rx="2.6" ry="3.9" fill="#6456a0"/><ellipse cx="1945" cy="1835.5" rx="2.8" ry="4.2" fill="#54488c"/><ellipse cx="2204.2" cy="1832.1" rx="2.9" ry="4.4" fill="#7a6aa8"/><ellipse cx="2020.6" cy="1847.6" rx="2.1" ry="3.1" fill="#24482a"/><ellipse cx="2102.6" cy="1818" rx="2.2" ry="3.3" fill="#4a4488"/><ellipse cx="1999.3" cy="1854.6" rx="2" ry="3" fill="#7a6aa8"/><ellipse cx="1979.3" cy="1848.9" rx="2.1" ry="3.1" fill="#6456a0"/><ellipse cx="1979.9" cy="1823.5" rx="3.1" ry="4.7" fill="#24482a"/><ellipse cx="1923.3" cy="1840" rx="2.5" ry="3.8" fill="#24482a"/><ellipse cx="1911.7" cy="1809.4" rx="3.5" ry="5.2" fill="#2a5230"/><ellipse cx="2214" cy="1808.9" rx="2.4" ry="3.6" fill="#2a5230"/></g>
<g opacity="0.9"><ellipse cx="2113.4" cy="1810.8" rx="1.4" ry="2.1" fill="#b0a8d4"/><ellipse cx="2064.2" cy="1815.9" rx="1" ry="1.5" fill="#c4bce0"/><ellipse cx="2074.5" cy="1816.2" rx="1.1" ry="1.6" fill="#c4bce0"/><ellipse cx="1926.8" cy="1836.1" rx="1.6" ry="2.4" fill="#b0a8d4"/><ellipse cx="1902.9" cy="1853.2" rx="1.7" ry="2.6" fill="#c4bce0"/><ellipse cx="2123.9" cy="1818.8" rx="1.4" ry="2.1" fill="#b0a8d4"/><ellipse cx="2177" cy="1808.7" rx="1.7" ry="2.5" fill="#b0a8d4"/><ellipse cx="2179.5" cy="1835.6" rx="1" ry="1.4" fill="#c4bce0"/><ellipse cx="2098.8" cy="1853.4" rx="1.2" ry="1.8" fill="#b0a8d4"/><ellipse cx="1987.6" cy="1848.7" rx="1.3" ry="2" fill="#c4bce0"/><ellipse cx="2147.7" cy="1841" rx="1.8" ry="2.7" fill="#c4bce0"/><ellipse cx="2060.5" cy="1852.9" rx="1.6" ry="2.3" fill="#b0a8d4"/><ellipse cx="2148.8" cy="1823.5" rx="1.2" ry="1.7" fill="#b0a8d4"/><ellipse cx="1888" cy="1834.6" rx="1.7" ry="2.5" fill="#b0a8d4"/><ellipse cx="2194.3" cy="1839.5" rx="1.1" ry="1.7" fill="#b0a8d4"/><ellipse cx="1906.8" cy="1845.4" rx="1.5" ry="2.2" fill="#b0a8d4"/><ellipse cx="2069" cy="1822" rx="1.2" ry="1.7" fill="#b0a8d4"/><ellipse cx="1960.7" cy="1819.2" rx="1.1" ry="1.6" fill="#b0a8d4"/><ellipse cx="2120.7" cy="1844.7" rx="1.7" ry="2.6" fill="#b0a8d4"/><ellipse cx="2072.1" cy="1850.8" rx="1" ry="1.4" fill="#c4bce0"/><ellipse cx="1917.3" cy="1814.2" rx="1" ry="1.5" fill="#c4bce0"/><ellipse cx="1990.4" cy="1821.3" rx="1.2" ry="1.8" fill="#b0a8d4"/><ellipse cx="2041.4" cy="1818.3" rx="1.6" ry="2.4" fill="#b0a8d4"/><ellipse cx="1950.7" cy="1851.1" rx="1.3" ry="2" fill="#c4bce0"/><ellipse cx="2164.8" cy="1837.7" rx="1.1" ry="1.7" fill="#c4bce0"/><ellipse cx="2225.4" cy="1850" rx="1.5" ry="2.3" fill="#b0a8d4"/><ellipse cx="2083.4" cy="1825.1" rx="1.3" ry="2" fill="#b0a8d4"/><ellipse cx="2072.8" cy="1844.6" rx="1.7" ry="2.6" fill="#c4bce0"/><ellipse cx="2126.5" cy="1851" rx="1.5" ry="2.2" fill="#c4bce0"/><ellipse cx="2099" cy="1837.3" rx="1.5" ry="2.3" fill="#b0a8d4"/><ellipse cx="2143.9" cy="1834.2" rx="1.4" ry="2" fill="#b0a8d4"/><ellipse cx="1974.9" cy="1844.9" rx="1.7" ry="2.6" fill="#c4bce0"/><ellipse cx="2100.6" cy="1817.2" rx="1.8" ry="2.7" fill="#c4bce0"/><ellipse cx="2233.7" cy="1812.4" rx="1.5" ry="2.3" fill="#c4bce0"/><ellipse cx="1986" cy="1806.7" rx="1.6" ry="2.4" fill="#b0a8d4"/><ellipse cx="1959.1" cy="1853.3" rx="1.2" ry="1.8" fill="#b0a8d4"/><ellipse cx="2194.3" cy="1837.8" rx="1.5" ry="2.3" fill="#b0a8d4"/><ellipse cx="2064.6" cy="1829.7" rx="1.4" ry="2" fill="#b0a8d4"/><ellipse cx="2167.6" cy="1850.5" rx="1.5" ry="2.2" fill="#c4bce0"/><ellipse cx="1931.9" cy="1812.9" rx="1.2" ry="1.8" fill="#c4bce0"/><ellipse cx="2144.4" cy="1847.2" rx="1.5" ry="2.2" fill="#c4bce0"/><ellipse cx="2130" cy="1828.5" rx="1.2" ry="1.9" fill="#b0a8d4"/><ellipse cx="2116.3" cy="1812.2" rx="1.7" ry="2.5" fill="#b0a8d4"/><ellipse cx="1886.6" cy="1817.5" rx="1.8" ry="2.7" fill="#b0a8d4"/><ellipse cx="2150.6" cy="1807.9" rx="0.9" ry="1.4" fill="#b0a8d4"/><ellipse cx="1995.2" cy="1821.2" rx="1.6" ry="2.5" fill="#c4bce0"/><ellipse cx="2191.1" cy="1808.8" rx="1.5" ry="2.2" fill="#c4bce0"/><ellipse cx="1930.7" cy="1814.5" rx="1.4" ry="2.2" fill="#c4bce0"/><ellipse cx="1977.5" cy="1815.5" rx="1.5" ry="2.2" fill="#c4bce0"/><ellipse cx="1894.8" cy="1848.8" rx="1.1" ry="1.7" fill="#c4bce0"/><ellipse cx="2088.7" cy="1812.5" rx="1.4" ry="2.1" fill="#c4bce0"/><ellipse cx="1962" cy="1853.8" rx="1.8" ry="2.7" fill="#c4bce0"/><ellipse cx="2171.9" cy="1806" rx="1.7" ry="2.5" fill="#c4bce0"/><ellipse cx="2197" cy="1848.3" rx="1.2" ry="1.8" fill="#b0a8d4"/><ellipse cx="2098.7" cy="1823.8" rx="1.3" ry="1.9" fill="#c4bce0"/><ellipse cx="2131.5" cy="1842.5" rx="1.7" ry="2.6" fill="#c4bce0"/><ellipse cx="2075.2" cy="1814.7" rx="1.5" ry="2.2" fill="#c4bce0"/><ellipse cx="2063.4" cy="1840.4" rx="1.3" ry="2" fill="#b0a8d4"/><ellipse cx="2045.1" cy="1826.7" rx="1.1" ry="1.7" fill="#b0a8d4"/><ellipse cx="2038.8" cy="1810.3" rx="1" ry="1.5" fill="#b0a8d4"/></g>
<g opacity="0.95"><ellipse cx="2377.2" cy="1850.4" rx="3.5" ry="5.3" fill="#4a4488"/><ellipse cx="2378.2" cy="1831.8" rx="3.5" ry="5.2" fill="#54488c"/><ellipse cx="2290.3" cy="1854.3" rx="2.6" ry="3.9" fill="#7a6aa8"/><ellipse cx="2389.1" cy="1840.6" rx="2.2" ry="3.3" fill="#5c5490"/><ellipse cx="2327.5" cy="1824.2" rx="2.8" ry="4.1" fill="#356a3a"/><ellipse cx="2371.2" cy="1806.4" rx="2.3" ry="3.4" fill="#356a3a"/><ellipse cx="2334.1" cy="1820.6" rx="2.8" ry="4.2" fill="#6456a0"/><ellipse cx="2324.1" cy="1827" rx="3" ry="4.4" fill="#7a6aa8"/><ellipse cx="2383.8" cy="1827.2" rx="2.9" ry="4.4" fill="#4a4488"/><ellipse cx="2263.2" cy="1824.3" rx="3.3" ry="4.9" fill="#24482a"/><ellipse cx="2341.3" cy="1835.2" rx="2.4" ry="3.5" fill="#5c5490"/><ellipse cx="2337" cy="1815.4" rx="4" ry="6" fill="#8c7cb8"/><ellipse cx="2273.8" cy="1807.5" rx="3.3" ry="4.9" fill="#4a4488"/><ellipse cx="2281.2" cy="1852.5" rx="2.1" ry="3.1" fill="#8c7cb8"/><ellipse cx="2352.8" cy="1821.7" rx="4.1" ry="6.1" fill="#7a6aa8"/><ellipse cx="2259" cy="1842.9" rx="4" ry="6" fill="#8c7cb8"/><ellipse cx="2359.2" cy="1836.1" rx="2.6" ry="4" fill="#24482a"/><ellipse cx="2344.4" cy="1855.2" rx="3.7" ry="5.6" fill="#6456a0"/><ellipse cx="2317.5" cy="1842.4" rx="3.2" ry="4.9" fill="#6456a0"/><ellipse cx="2377.2" cy="1839.4" rx="3.8" ry="5.7" fill="#2a5230"/><ellipse cx="2365.5" cy="1850.8" rx="2" ry="3" fill="#6456a0"/><ellipse cx="2250.9" cy="1810.1" rx="3.9" ry="5.8" fill="#4a4488"/><ellipse cx="2397.4" cy="1838.7" rx="2.6" ry="3.9" fill="#24482a"/><ellipse cx="2294.2" cy="1808.1" rx="2.6" ry="3.9" fill="#2a5230"/><ellipse cx="2328.3" cy="1810.9" rx="3" ry="4.5" fill="#2a5230"/><ellipse cx="2387.5" cy="1811.5" rx="3" ry="4.5" fill="#54488c"/><ellipse cx="2363.2" cy="1849.6" rx="2.8" ry="4.2" fill="#24482a"/><ellipse cx="2378.5" cy="1847.5" rx="3.6" ry="5.5" fill="#8c7cb8"/><ellipse cx="2393.9" cy="1814.9" rx="2" ry="2.9" fill="#2a5230"/><ellipse cx="2357.7" cy="1850.3" rx="2.6" ry="3.9" fill="#4a4488"/><ellipse cx="2260.3" cy="1845.9" rx="2.8" ry="4.2" fill="#5c5490"/><ellipse cx="2328.3" cy="1809.3" rx="3.8" ry="5.7" fill="#356a3a"/><ellipse cx="2289.2" cy="1813.3" rx="3.2" ry="4.8" fill="#6456a0"/><ellipse cx="2306.4" cy="1831.2" rx="3.4" ry="5.1" fill="#24482a"/><ellipse cx="2312.3" cy="1828.6" rx="2.7" ry="4" fill="#7a6aa8"/><ellipse cx="2396.3" cy="1848.4" rx="3.7" ry="5.5" fill="#6456a0"/><ellipse cx="2396.3" cy="1850.5" rx="3.1" ry="4.7" fill="#5c5490"/><ellipse cx="2261.3" cy="1813" rx="2.4" ry="3.5" fill="#2a5230"/><ellipse cx="2336.1" cy="1849.9" rx="3.3" ry="5" fill="#2a5230"/><ellipse cx="2382.8" cy="1812.8" rx="2.6" ry="3.8" fill="#356a3a"/><ellipse cx="2353.2" cy="1854.9" rx="3.6" ry="5.3" fill="#6456a0"/><ellipse cx="2262.7" cy="1807.7" rx="2.3" ry="3.4" fill="#54488c"/><ellipse cx="2288" cy="1819.9" rx="2.6" ry="3.9" fill="#6456a0"/><ellipse cx="2369.7" cy="1816.6" rx="3.7" ry="5.5" fill="#356a3a"/><ellipse cx="2385.5" cy="1807.7" rx="2" ry="2.9" fill="#54488c"/><ellipse cx="2295.3" cy="1852.7" rx="2.6" ry="3.9" fill="#8c7cb8"/><ellipse cx="2246.6" cy="1831.5" rx="3.3" ry="4.9" fill="#24482a"/><ellipse cx="2262.5" cy="1827.8" rx="3.5" ry="5.3" fill="#6456a0"/><ellipse cx="2280.8" cy="1835.6" rx="4.1" ry="6.1" fill="#6456a0"/><ellipse cx="2369.7" cy="1824.9" rx="2.3" ry="3.4" fill="#24482a"/><ellipse cx="2389" cy="1832" rx="2" ry="3" fill="#7a6aa8"/><ellipse cx="2277.9" cy="1806.6" rx="2.6" ry="3.9" fill="#7a6aa8"/><ellipse cx="2309.5" cy="1844.1" rx="3.3" ry="5" fill="#7a6aa8"/><ellipse cx="2240.4" cy="1831.3" rx="2.2" ry="3.3" fill="#6456a0"/><ellipse cx="2240" cy="1805.9" rx="2.3" ry="3.5" fill="#6456a0"/><ellipse cx="2371.8" cy="1818.4" rx="2.1" ry="3.2" fill="#24482a"/><ellipse cx="2270.3" cy="1822.8" rx="2.6" ry="3.9" fill="#4a4488"/><ellipse cx="2332.5" cy="1838.9" rx="2.6" ry="3.9" fill="#54488c"/><ellipse cx="2257.8" cy="1808.1" rx="3.9" ry="5.9" fill="#54488c"/><ellipse cx="2277.2" cy="1812" rx="2.5" ry="3.8" fill="#24482a"/><ellipse cx="2241.8" cy="1817.1" rx="2.6" ry="4" fill="#2a5230"/><ellipse cx="2333.2" cy="1807.4" rx="3.3" ry="5" fill="#7a6aa8"/><ellipse cx="2262" cy="1816.3" rx="2.9" ry="4.3" fill="#8c7cb8"/><ellipse cx="2307.6" cy="1838.7" rx="3.9" ry="5.8" fill="#7a6aa8"/><ellipse cx="2242.3" cy="1840.3" rx="4" ry="6.1" fill="#4a4488"/><ellipse cx="2322.2" cy="1834.3" rx="3.6" ry="5.4" fill="#356a3a"/><ellipse cx="2249.1" cy="1810.1" rx="4" ry="6" fill="#54488c"/><ellipse cx="2321.7" cy="1824.8" rx="2.5" ry="3.7" fill="#356a3a"/><ellipse cx="2268.8" cy="1809.4" rx="2.6" ry="3.9" fill="#4a4488"/><ellipse cx="2360.6" cy="1845.3" rx="4.1" ry="6.1" fill="#7a6aa8"/><ellipse cx="2269.1" cy="1825.2" rx="3.5" ry="5.2" fill="#6456a0"/><ellipse cx="2278.4" cy="1818.8" rx="2.2" ry="3.3" fill="#6456a0"/><ellipse cx="2266.6" cy="1822.4" rx="2" ry="3" fill="#24482a"/><ellipse cx="2383.7" cy="1812.8" rx="3.6" ry="5.4" fill="#7a6aa8"/><ellipse cx="2344.3" cy="1826.1" rx="3.9" ry="5.8" fill="#5c5490"/><ellipse cx="2245.2" cy="1825.8" rx="2.4" ry="3.5" fill="#24482a"/><ellipse cx="2301.6" cy="1835.8" rx="2.9" ry="4.4" fill="#4a4488"/><ellipse cx="2372.3" cy="1838.5" rx="4" ry="5.9" fill="#7a6aa8"/><ellipse cx="2328" cy="1829.5" rx="3.4" ry="5.1" fill="#2a5230"/><ellipse cx="2384.3" cy="1841.5" rx="2.2" ry="3.3" fill="#7a6aa8"/><ellipse cx="2255.1" cy="1846" rx="2.1" ry="3.2" fill="#4a4488"/><ellipse cx="2255.4" cy="1818.3" rx="3.2" ry="4.8" fill="#24482a"/><ellipse cx="2263.9" cy="1826.6" rx="2.6" ry="3.8" fill="#54488c"/><ellipse cx="2329.8" cy="1818.6" rx="2" ry="2.9" fill="#54488c"/><ellipse cx="2254.4" cy="1838.3" rx="3.7" ry="5.6" fill="#6456a0"/><ellipse cx="2311.7" cy="1827.1" rx="2.7" ry="4" fill="#24482a"/><ellipse cx="2273.8" cy="1829.8" rx="3.7" ry="5.6" fill="#4a4488"/><ellipse cx="2356.7" cy="1838.2" rx="1.9" ry="2.9" fill="#356a3a"/><ellipse cx="2315.6" cy="1835.6" rx="2.7" ry="4.1" fill="#4a4488"/><ellipse cx="2337.2" cy="1809.2" rx="2" ry="3.1" fill="#6456a0"/><ellipse cx="2270.1" cy="1819.1" rx="2.4" ry="3.6" fill="#356a3a"/><ellipse cx="2268.2" cy="1817.3" rx="2.8" ry="4.3" fill="#7a6aa8"/><ellipse cx="2342.7" cy="1828.8" rx="3.2" ry="4.8" fill="#8c7cb8"/><ellipse cx="2299.2" cy="1809.4" rx="3.2" ry="4.8" fill="#5c5490"/><ellipse cx="2394.4" cy="1809.4" rx="3.8" ry="5.6" fill="#7a6aa8"/><ellipse cx="2315.2" cy="1842.9" rx="2.6" ry="3.9" fill="#2a5230"/><ellipse cx="2290.8" cy="1829.5" rx="2.2" ry="3.3" fill="#54488c"/><ellipse cx="2296.7" cy="1837.2" rx="2.3" ry="3.5" fill="#356a3a"/><ellipse cx="2256.6" cy="1838.7" rx="4" ry="6.1" fill="#6456a0"/><ellipse cx="2306.5" cy="1849" rx="3.4" ry="5" fill="#4a4488"/><ellipse cx="2293.7" cy="1819.1" rx="3.6" ry="5.4" fill="#8c7cb8"/><ellipse cx="2384.4" cy="1843.1" rx="2.6" ry="3.8" fill="#24482a"/><ellipse cx="2329.8" cy="1851.9" rx="3.6" ry="5.4" fill="#7a6aa8"/><ellipse cx="2325.2" cy="1815.6" rx="2.8" ry="4.2" fill="#6456a0"/><ellipse cx="2369" cy="1817.3" rx="3.7" ry="5.6" fill="#5c5490"/><ellipse cx="2329" cy="1827.5" rx="2.3" ry="3.4" fill="#54488c"/><ellipse cx="2373.8" cy="1828.9" rx="3.4" ry="5" fill="#7a6aa8"/><ellipse cx="2380.5" cy="1853.8" rx="3.3" ry="4.9" fill="#6456a0"/><ellipse cx="2271.4" cy="1844.9" rx="2.4" ry="3.7" fill="#2a5230"/><ellipse cx="2249.8" cy="1849.1" rx="3" ry="4.5" fill="#6456a0"/></g>
<g opacity="0.9"><ellipse cx="2339.6" cy="1834.3" rx="1" ry="1.5" fill="#c4bce0"/><ellipse cx="2262" cy="1812.1" rx="1.6" ry="2.4" fill="#b0a8d4"/><ellipse cx="2286.9" cy="1845.7" rx="1.8" ry="2.7" fill="#b0a8d4"/><ellipse cx="2340.3" cy="1808.8" rx="1" ry="1.5" fill="#c4bce0"/><ellipse cx="2257.5" cy="1854.7" rx="1.8" ry="2.7" fill="#b0a8d4"/><ellipse cx="2293.7" cy="1843" rx="1.6" ry="2.4" fill="#b0a8d4"/><ellipse cx="2284.5" cy="1806" rx="1.8" ry="2.7" fill="#c4bce0"/><ellipse cx="2296.5" cy="1809.9" rx="1.6" ry="2.4" fill="#b0a8d4"/><ellipse cx="2242.5" cy="1826.7" rx="1.1" ry="1.7" fill="#c4bce0"/><ellipse cx="2265" cy="1855.4" rx="1.8" ry="2.7" fill="#b0a8d4"/><ellipse cx="2329.9" cy="1835.9" rx="1.4" ry="2.1" fill="#b0a8d4"/><ellipse cx="2354.6" cy="1846.3" rx="1.8" ry="2.7" fill="#b0a8d4"/><ellipse cx="2245.4" cy="1830.3" rx="1" ry="1.5" fill="#c4bce0"/><ellipse cx="2338.7" cy="1819" rx="1.8" ry="2.8" fill="#b0a8d4"/><ellipse cx="2273.6" cy="1832" rx="1.6" ry="2.4" fill="#c4bce0"/><ellipse cx="2304" cy="1840.1" rx="1.3" ry="2" fill="#c4bce0"/><ellipse cx="2325.8" cy="1810.8" rx="1.7" ry="2.6" fill="#c4bce0"/><ellipse cx="2363.3" cy="1846.6" rx="1" ry="1.5" fill="#b0a8d4"/><ellipse cx="2304" cy="1822.1" rx="1" ry="1.5" fill="#c4bce0"/><ellipse cx="2352.3" cy="1851.2" rx="1.7" ry="2.6" fill="#c4bce0"/><ellipse cx="2266" cy="1808.9" rx="1.3" ry="1.9" fill="#c4bce0"/><ellipse cx="2375.4" cy="1825.7" rx="1.2" ry="1.8" fill="#b0a8d4"/><ellipse cx="2246.2" cy="1822.6" rx="1.7" ry="2.5" fill="#c4bce0"/><ellipse cx="2352" cy="1805.9" rx="1" ry="1.5" fill="#c4bce0"/></g>
<g opacity="0.95"><ellipse cx="2464.8" cy="1833.7" rx="3.1" ry="4.6" fill="#4c8c44"/><ellipse cx="2548.5" cy="1823.9" rx="3.3" ry="5" fill="#4c8c44"/><ellipse cx="2442.2" cy="1834.6" rx="3.2" ry="4.8" fill="#4c8c44"/><ellipse cx="2458.8" cy="1837.7" rx="4.7" ry="7" fill="#2a5a30"/><ellipse cx="2499.8" cy="1845.7" rx="4.1" ry="6.1" fill="#7a6aa8"/><ellipse cx="2440.9" cy="1828.4" rx="2.2" ry="3.3" fill="#7a6aa8"/><ellipse cx="2553.6" cy="1854.2" rx="2.3" ry="3.5" fill="#7a6aa8"/><ellipse cx="2459.9" cy="1818.1" rx="2.8" ry="4.1" fill="#3c7a3c"/><ellipse cx="2535.8" cy="1821.1" rx="3.6" ry="5.4" fill="#7a6aa8"/><ellipse cx="2545.4" cy="1809.4" rx="3" ry="4.5" fill="#2a5a30"/><ellipse cx="2493.6" cy="1821.9" rx="4" ry="6" fill="#22502a"/><ellipse cx="2526.8" cy="1826.7" rx="3" ry="4.5" fill="#2a5a30"/><ellipse cx="2532.8" cy="1841.9" rx="2.6" ry="4" fill="#3c7a3c"/><ellipse cx="2512.4" cy="1810.2" rx="4.4" ry="6.6" fill="#3c7a3c"/><ellipse cx="2453.8" cy="1810.1" rx="4.4" ry="6.7" fill="#7a6aa8"/><ellipse cx="2454.3" cy="1851.8" rx="3.6" ry="5.4" fill="#3c7a3c"/><ellipse cx="2454.9" cy="1831.2" rx="2.4" ry="3.7" fill="#22502a"/><ellipse cx="2488.3" cy="1814.6" rx="4" ry="6" fill="#22502a"/><ellipse cx="2533.9" cy="1810.5" rx="4.1" ry="6.2" fill="#22502a"/><ellipse cx="2510.7" cy="1843.6" rx="3" ry="4.5" fill="#22502a"/><ellipse cx="2522.1" cy="1818.7" rx="4" ry="6" fill="#4c8c44"/><ellipse cx="2505.1" cy="1832.6" rx="4.1" ry="6.1" fill="#22502a"/><ellipse cx="2549.6" cy="1825" rx="4.3" ry="6.4" fill="#7a6aa8"/><ellipse cx="2535" cy="1844.6" rx="2.6" ry="3.9" fill="#4c8c44"/><ellipse cx="2481.1" cy="1807.6" rx="3.2" ry="4.8" fill="#4c8c44"/><ellipse cx="2550.7" cy="1849.6" rx="3" ry="4.5" fill="#3c7a3c"/><ellipse cx="2541.9" cy="1843.9" rx="4.3" ry="6.4" fill="#4c8c44"/><ellipse cx="2536.6" cy="1811.4" rx="2.4" ry="3.5" fill="#4c8c44"/><ellipse cx="2458.8" cy="1813" rx="3.7" ry="5.5" fill="#4c8c44"/><ellipse cx="2477.9" cy="1854.5" rx="3.6" ry="5.4" fill="#22502a"/><ellipse cx="2535.2" cy="1809" rx="3.4" ry="5.1" fill="#2a5a30"/><ellipse cx="2499.7" cy="1826.6" rx="2.8" ry="4.2" fill="#7a6aa8"/><ellipse cx="2506.6" cy="1830.8" rx="3.5" ry="5.3" fill="#22502a"/><ellipse cx="2482.5" cy="1829.5" rx="2.7" ry="4" fill="#2a5a30"/><ellipse cx="2482.9" cy="1854.3" rx="4" ry="6" fill="#2a5a30"/><ellipse cx="2534.4" cy="1811.1" rx="2.2" ry="3.3" fill="#22502a"/><ellipse cx="2483.2" cy="1821.4" rx="3.6" ry="5.4" fill="#7a6aa8"/><ellipse cx="2530.1" cy="1845.9" rx="3.6" ry="5.4" fill="#3c7a3c"/><ellipse cx="2498.4" cy="1846.4" rx="4.6" ry="6.9" fill="#3c7a3c"/><ellipse cx="2505.1" cy="1830.5" rx="4.5" ry="6.7" fill="#7a6aa8"/><ellipse cx="2473.8" cy="1842.2" rx="2.9" ry="4.4" fill="#2a5a30"/><ellipse cx="2472.9" cy="1833.8" rx="4.6" ry="6.9" fill="#2a5a30"/><ellipse cx="2462.4" cy="1807.3" rx="4.3" ry="6.4" fill="#7a6aa8"/><ellipse cx="2509.9" cy="1850.3" rx="3.9" ry="5.9" fill="#3c7a3c"/><ellipse cx="2478.9" cy="1816.1" rx="2.5" ry="3.8" fill="#4c8c44"/><ellipse cx="2488.6" cy="1830.8" rx="4.4" ry="6.6" fill="#3c7a3c"/><ellipse cx="2445.5" cy="1822.2" rx="4.3" ry="6.5" fill="#7a6aa8"/><ellipse cx="2460.3" cy="1831.7" rx="2.3" ry="3.4" fill="#4c8c44"/><ellipse cx="2462.6" cy="1843.2" rx="4.5" ry="6.7" fill="#22502a"/><ellipse cx="2470.2" cy="1810.9" rx="2.9" ry="4.4" fill="#7a6aa8"/><ellipse cx="2517.4" cy="1818.1" rx="2.6" ry="3.9" fill="#7a6aa8"/><ellipse cx="2483.3" cy="1838" rx="4.4" ry="6.5" fill="#4c8c44"/><ellipse cx="2542" cy="1808.2" rx="4.3" ry="6.5" fill="#2a5a30"/><ellipse cx="2536.9" cy="1842.1" rx="2.8" ry="4.1" fill="#4c8c44"/><ellipse cx="2461.5" cy="1824.5" rx="4.2" ry="6.3" fill="#7a6aa8"/><ellipse cx="2547.1" cy="1853.2" rx="4.6" ry="6.9" fill="#22502a"/><ellipse cx="2463.5" cy="1806.9" rx="2.2" ry="3.4" fill="#7a6aa8"/><ellipse cx="2442.9" cy="1824.2" rx="3.5" ry="5.2" fill="#7a6aa8"/><ellipse cx="2474.5" cy="1842.6" rx="4.7" ry="7.1" fill="#2a5a30"/><ellipse cx="2538" cy="1833" rx="3.8" ry="5.7" fill="#3c7a3c"/><ellipse cx="2447.4" cy="1844.6" rx="3.9" ry="5.8" fill="#7a6aa8"/><ellipse cx="2501.3" cy="1849" rx="4" ry="5.9" fill="#7a6aa8"/><ellipse cx="2469.2" cy="1824.3" rx="3.2" ry="4.7" fill="#3c7a3c"/><ellipse cx="2549.5" cy="1848.6" rx="2.4" ry="3.6" fill="#22502a"/><ellipse cx="2499.1" cy="1838.8" rx="2.7" ry="4" fill="#2a5a30"/><ellipse cx="2526.1" cy="1827.6" rx="3.6" ry="5.4" fill="#22502a"/><ellipse cx="2555" cy="1819.9" rx="2.4" ry="3.6" fill="#22502a"/><ellipse cx="2512.2" cy="1823.8" rx="3.4" ry="5.1" fill="#3c7a3c"/><ellipse cx="2540.2" cy="1829.3" rx="2.7" ry="4" fill="#4c8c44"/><ellipse cx="2497.6" cy="1852.4" rx="2.4" ry="3.6" fill="#4c8c44"/><ellipse cx="2487.3" cy="1846.3" rx="3.9" ry="5.8" fill="#4c8c44"/><ellipse cx="2536.5" cy="1832.9" rx="3.2" ry="4.8" fill="#2a5a30"/><ellipse cx="2535.2" cy="1843.9" rx="3.9" ry="5.8" fill="#22502a"/><ellipse cx="2482.4" cy="1835.7" rx="4.3" ry="6.4" fill="#3c7a3c"/><ellipse cx="2541.2" cy="1850.8" rx="4.4" ry="6.6" fill="#2a5a30"/><ellipse cx="2538.9" cy="1834.8" rx="2.8" ry="4.2" fill="#22502a"/><ellipse cx="2463.4" cy="1841.9" rx="3" ry="4.5" fill="#2a5a30"/><ellipse cx="2515" cy="1840.2" rx="2.5" ry="3.8" fill="#7a6aa8"/><ellipse cx="2501" cy="1855.3" rx="3.9" ry="5.9" fill="#4c8c44"/><ellipse cx="2506.5" cy="1805.8" rx="3.9" ry="5.8" fill="#3c7a3c"/></g>
<g opacity="0.9" filter="url(#b1)"><ellipse cx="1937.2" cy="1845" rx="5.7" ry="5.7" fill="#7c8cd0"/><ellipse cx="1952.5" cy="1851.6" rx="5" ry="5" fill="#3a4898"/><ellipse cx="1916.2" cy="1845.4" rx="3.8" ry="3.8" fill="#5a68b8"/><ellipse cx="1971.9" cy="1855.2" rx="3.9" ry="3.9" fill="#5a68b8"/><ellipse cx="1885.7" cy="1845.7" rx="4.9" ry="4.9" fill="#7c8cd0"/><ellipse cx="1945.4" cy="1846" rx="3.5" ry="3.5" fill="#7c8cd0"/><ellipse cx="1892.3" cy="1845.6" rx="5.5" ry="5.5" fill="#7c8cd0"/><ellipse cx="1939.1" cy="1855.3" rx="3.3" ry="3.3" fill="#7c8cd0"/><ellipse cx="1939.8" cy="1843.2" rx="3.3" ry="3.3" fill="#7c8cd0"/><ellipse cx="1928.7" cy="1855.7" rx="4.8" ry="4.8" fill="#3a4898"/><ellipse cx="1893.9" cy="1854.4" rx="4" ry="4" fill="#7c8cd0"/><ellipse cx="1892.9" cy="1850.1" rx="3.7" ry="3.7" fill="#7c8cd0"/><ellipse cx="1928" cy="1853.8" rx="5.4" ry="5.4" fill="#5a68b8"/><ellipse cx="1958" cy="1853.6" rx="6.2" ry="6.2" fill="#5a68b8"/><ellipse cx="1895.9" cy="1851.5" rx="4.8" ry="4.8" fill="#3a4898"/><ellipse cx="1985" cy="1852.5" rx="5.2" ry="5.2" fill="#3a4898"/><ellipse cx="1976.5" cy="1847.5" rx="3.4" ry="3.4" fill="#5a68b8"/><ellipse cx="1951.8" cy="1848.5" rx="4.1" ry="4.1" fill="#3a4898"/><ellipse cx="1962.8" cy="1853.6" rx="5" ry="5" fill="#3a4898"/><ellipse cx="1946.1" cy="1849.6" rx="4.6" ry="4.6" fill="#5a68b8"/></g>
<g opacity="0.9" filter="url(#b1)"><ellipse cx="2310.5" cy="1855.1" rx="4.9" ry="4.9" fill="#c0c8e8"/><ellipse cx="2281.2" cy="1849.9" rx="4.1" ry="4.1" fill="#5a68b8"/><ellipse cx="2335.3" cy="1845" rx="3.8" ry="3.8" fill="#3a4898"/><ellipse cx="2350.1" cy="1845.2" rx="6.2" ry="6.2" fill="#c0c8e8"/><ellipse cx="2311.3" cy="1851.6" rx="5.3" ry="5.3" fill="#5a68b8"/><ellipse cx="2365.1" cy="1847.1" rx="4.4" ry="4.4" fill="#5a68b8"/><ellipse cx="2259.3" cy="1851.3" rx="4" ry="4" fill="#c0c8e8"/><ellipse cx="2321.2" cy="1849.6" rx="3.2" ry="3.2" fill="#7c8cd0"/><ellipse cx="2266.7" cy="1853.4" rx="5.1" ry="5.1" fill="#c0c8e8"/><ellipse cx="2309.1" cy="1855" rx="6" ry="6" fill="#7c8cd0"/><ellipse cx="2295" cy="1843.6" rx="5.8" ry="5.8" fill="#5a68b8"/><ellipse cx="2248.3" cy="1849.8" rx="5.6" ry="5.6" fill="#3a4898"/><ellipse cx="2273.8" cy="1855.8" rx="5.9" ry="5.9" fill="#5a68b8"/><ellipse cx="2329.7" cy="1845.7" rx="4.1" ry="4.1" fill="#c0c8e8"/><ellipse cx="2331.4" cy="1846.6" rx="5.2" ry="5.2" fill="#7c8cd0"/><ellipse cx="2330.9" cy="1846.1" rx="3.8" ry="3.8" fill="#3a4898"/><ellipse cx="2360.8" cy="1851.5" rx="3.2" ry="3.2" fill="#5a68b8"/><ellipse cx="2319" cy="1852.3" rx="5.8" ry="5.8" fill="#c0c8e8"/><ellipse cx="2240.3" cy="1846.8" rx="5.2" ry="5.2" fill="#7c8cd0"/><ellipse cx="2352.8" cy="1855.8" rx="4.2" ry="4.2" fill="#c0c8e8"/></g>
<ellipse cx="1994.7" cy="1848.2" rx="35.9" ry="6.6" fill="#7d7d86"/>
<ellipse cx="1994.7" cy="1846" rx="34.7" ry="4.1" fill="#8f8f98"/>
<ellipse cx="2314" cy="1850.3" rx="37" ry="6.6" fill="#6a6a72"/>
<ellipse cx="2314" cy="1848.2" rx="35.9" ry="4.1" fill="#7a7a84"/>
<rect x="1882" y="1790.3" width="692" height="10.1" fill="#6f707c"/>
<rect x="1882" y="1790.3" width="692" height="2.3" fill="#8a8b96"/>
<rect x="1882" y="1797.6" width="692" height="3" fill="#505058"/>
<rect x="1882" y="1800.4" width="692" height="4.1" fill="#2c3034" opacity="0.7"/>
<rect x="2084.2" y="1800.7" width="15.4" height="55.4" fill="#3c3c3e"/>
<rect x="2095.5" y="1800.7" width="4.1" height="55.4" fill="#2c2c2e"/>
<path d="M2400.7 1699.9L2413.3 1693.6L2424.3 1703L2430.6 1728.2L2440 1740.8L2443.2 1748.7L2437.7 1761.3L2443.2 1797.5L2450.3 1810.9L2444 1817.2L2436.9 1795.2L2428.2 1766L2419.6 1750.3L2405.4 1728.2Z" fill="#dfc0ad"/>
<path d="M2418 1663.6L2431.4 1662.1L2432.5 1677.8L2427.4 1692L2416.4 1692Z" fill="#dcb9a6"/>
<path d="M2399.1 1728.2L2429 1725.8L2434.1 1738.4L2429.8 1772.6L2394.7 1772.6L2397.5 1750.3Z" fill="#161616"/>
<path d="M2422.7 1715.6L2431.4 1721.9L2433 1734.5L2425.9 1728.2Z" fill="#1a1a1a"/>
<rect x="2395.2" y="1772.3" width="37.3" height="5" fill="#d8b8a4"/>
<path d="M2391.5 1777.4L2436.9 1777.4L2437.7 1786.8L2390.4 1786.8Z" fill="#2a2a2c"/>
<path d="M2389.6 1786.5L2437.7 1786.5L2445.6 1816.4L2435.3 1856.1L2403.8 1856.1L2391.5 1813.3Z" fill="#b5ae9f"/>
<path d="M2424.3 1786.5L2437.7 1786.5L2443.5 1814.8L2429 1856.1L2416.1 1856.1L2426.2 1813.3Z" fill="#222224"/>
<path d="M2411.7 1786.5L2418 1813.3L2403.8 1856.1L2397.5 1856.1L2391.5 1813.3Z" fill="#a49c8c" opacity="0.6"/>
<path d="M2420.4 1739.2L2441.6 1740.8L2443.2 1748.7L2437.7 1756.6L2421.1 1748.7Z" fill="#d8b6a2"/>
<path d="M2397.5 1652.6L2413.3 1647.6L2429 1653.9L2433 1662.1L2421.1 1671.5L2413.3 1692L2400.7 1701.4L2398.3 1728.2L2399.4 1750.3L2391.2 1754.2L2378.6 1752.2L2373.9 1734.5L2378.6 1703L2389.6 1671.5Z" fill="#3b2c28"/>
<path d="M2391.2 1674.7L2407 1658.9L2413.3 1687.3L2399.1 1706.2L2395.9 1740.8L2386.5 1748.7L2381.8 1728.2L2384.9 1699.9Z" fill="#5a443c" opacity="0.7"/>
<path d="M2569.2 1795.2L2603.9 1790.4L2603.9 1856.1L2485.7 1856.1L2507.8 1849.5L2526.7 1843.2L2555 1821.1Z" fill="#2b3142"/>
<path d="M2573.9 1795.9L2603.9 1792L2603.9 1810.1L2586.5 1807Z" fill="#5a6478"/>
<ellipse cx="2576.3" cy="1811.7" rx="18.1" ry="12.9" fill="#c9a48e"/>
<path d="M2581.8 1784.9L2603.9 1766L2603.9 1791.2L2586.5 1795.9Z" fill="#c4a08a"/>
<path d="M2485.7 1849.5L2517.2 1843.2L2523.5 1856.1L2485.7 1856.1Z" fill="#181818"/>
<rect x="2599.9" y="1758.1" width="3.9" height="7.9" fill="#1a1a1a"/>
<rect x="1882.1" y="1512.3" width="721.4" height="344.5" fill="#10200f" opacity="0.06" filter="url(#nzd)"/>
</g>
<rect x="1882.1" y="1512.3" width="721.4" height="344.5" fill="none" stroke="#0a0a0a" stroke-width="1.4"/></g>
<g id="txt" fill="#000" opacity="0.999"><text class="n" x="780.1" y="260" font-size="17.7" text-anchor="middle" textLength="36.9" lengthAdjust="spacingAndGlyphs">11255</text>
<text class="n" x="537.8" y="288.8" font-size="18.3" text-anchor="middle" textLength="31.3" lengthAdjust="spacingAndGlyphs">2015</text>
<text class="n" x="603.3" y="288.8" font-size="18.3" text-anchor="middle" textLength="24.4" lengthAdjust="spacingAndGlyphs">480</text>
<text class="n" x="684.4" y="288.8" font-size="18.3" text-anchor="middle" textLength="31.3" lengthAdjust="spacingAndGlyphs">2615</text>
<text class="n" x="767.9" y="288.8" font-size="18.3" text-anchor="middle" textLength="24.4" lengthAdjust="spacingAndGlyphs">570</text>
<text class="n" x="928.8" y="288.8" font-size="18.3" text-anchor="middle" textLength="32.6" lengthAdjust="spacingAndGlyphs">5575</text>
<text class="n" transform="translate(456.6 321.9) rotate(-90)" y="6.3" font-size="18" text-anchor="middle" textLength="24.1" lengthAdjust="spacingAndGlyphs">450</text>
<text class="n" transform="translate(536.7 195.4) rotate(69.9)" y="6.3" font-size="18" text-anchor="middle" textLength="32.1" lengthAdjust="spacingAndGlyphs">4775</text>
<text class="n" transform="translate(610.8 397.2) rotate(69.9)" y="6.3" font-size="18" text-anchor="middle" textLength="32.1" lengthAdjust="spacingAndGlyphs">2425</text>
<text class="n" transform="translate(673.7 568.8) rotate(69.9)" y="6.3" font-size="18" text-anchor="middle" textLength="32.1" lengthAdjust="spacingAndGlyphs">3475</text>
<text class="n" transform="translate(580.6 373.1) rotate(69.9)" y="6.3" font-size="18" text-anchor="middle" textLength="37.5" lengthAdjust="spacingAndGlyphs">11680</text>
<text class="n" transform="translate(585.6 323) rotate(69.9)" y="6" font-size="17.1" text-anchor="middle" textLength="22.9" lengthAdjust="spacingAndGlyphs">480</text>
<text class="n" transform="translate(636 469.6) rotate(69.9)" y="6" font-size="17.1" text-anchor="middle" textLength="22.9" lengthAdjust="spacingAndGlyphs">530</text>
<text class="n" transform="translate(731.9 657.6) rotate(-18.5)" y="6.2" font-size="17.7" text-anchor="middle" textLength="23.7" lengthAdjust="spacingAndGlyphs">450</text>
<text class="n" transform="translate(628.2 536.9) rotate(-52.5)" y="6.3" font-size="18" text-anchor="middle" textLength="32.1" lengthAdjust="spacingAndGlyphs">2355</text>
<text class="n" transform="translate(730.4 404.1) rotate(-52.5)" y="6.3" font-size="18" text-anchor="middle" textLength="32.1" lengthAdjust="spacingAndGlyphs">2970</text>
<text class="n" transform="translate(854.5 242.6) rotate(-52.5)" y="6.3" font-size="18" text-anchor="middle" textLength="32.1" lengthAdjust="spacingAndGlyphs">3660</text>
<text class="n" transform="translate(771 393.2) rotate(-52.5)" y="6.3" font-size="18" text-anchor="middle" textLength="38.8" lengthAdjust="spacingAndGlyphs">10065</text>
<text class="n" transform="translate(787.6 333) rotate(-52.5)" y="6" font-size="17.1" text-anchor="middle" textLength="22.9" lengthAdjust="spacingAndGlyphs">570</text>
<text class="n" transform="translate(675.6 477.4) rotate(-52.5)" y="6" font-size="17.1" text-anchor="middle" textLength="22.9" lengthAdjust="spacingAndGlyphs">530</text>
<text class="n" transform="translate(560.9 581.6) rotate(37.5)" y="6.2" font-size="17.7" text-anchor="middle" textLength="23.7" lengthAdjust="spacingAndGlyphs">450</text>
<text class="n" x="625.8" y="362.7" font-size="18.1" textLength="54.8" lengthAdjust="spacingAndGlyphs">2.400 TW</text>
<text class="n" x="669.9" y="389.8" font-size="18.4" textLength="53.6" lengthAdjust="spacingAndGlyphs">1.700 TW</text>
<text class="n" x="793.6" y="433" font-size="18.7" textLength="45.2" lengthAdjust="spacingAndGlyphs">±0.000</text>
<text class="n" x="976.5" y="301.8" font-size="17.6" textLength="54.9" lengthAdjust="spacingAndGlyphs">2.200 TW</text>
<text class="n" x="1248.6" y="110.4" font-size="18.3" text-anchor="middle" textLength="7.5" lengthAdjust="spacingAndGlyphs">6</text>
<text class="n" x="1273.5" y="110.4" font-size="18.3" text-anchor="middle" textLength="8" lengthAdjust="spacingAndGlyphs">D</text>
<text class="c" x="1165.3" y="110.5" font-size="17.6" textLength="68.3" lengthAdjust="spacingAndGlyphs">雕塑c 立面图</text>
<text class="n" x="1248.6" y="365.5" font-size="18.3" text-anchor="middle" textLength="7.5" lengthAdjust="spacingAndGlyphs">5</text>
<text class="n" x="1273.5" y="365.5" font-size="18.3" text-anchor="middle" textLength="8" lengthAdjust="spacingAndGlyphs">D</text>
<text class="c" x="1165.3" y="365.6" font-size="17.6" textLength="68.3" lengthAdjust="spacingAndGlyphs">雕塑b 立面图</text>
<text class="n" x="1248.6" y="529.5" font-size="18.3" text-anchor="middle" textLength="7.5" lengthAdjust="spacingAndGlyphs">4</text>
<text class="n" x="1273.5" y="529.5" font-size="18.3" text-anchor="middle" textLength="8" lengthAdjust="spacingAndGlyphs">D</text>
<text class="c" x="1165.3" y="529.6" font-size="17.6" textLength="68.3" lengthAdjust="spacingAndGlyphs">雕塑a 立面图</text>
<text class="c" x="1084.2" y="289.3" font-size="19.8" textLength="148.7" lengthAdjust="spacingAndGlyphs">2厚深咖色304#不锈钢板</text>
<text class="c" x="1209.2" y="316.9" font-size="18.6" textLength="23.7" lengthAdjust="spacingAndGlyphs">满焊</text>
<text class="t" x="631.6" y="741.8" font-size="35.7" text-anchor="middle" textLength="13.5" lengthAdjust="spacingAndGlyphs">1</text>
<text class="t" x="678.9 700.1 721.3 750.9 780.4 810 839.5" y="720" font-size="28.6"><tspan y="722" font-size="36.4" stroke-width="1.5">??</tspan><tspan y="720">雕塑平面</tspan><tspan y="722" font-size="36.4" stroke-width="1.5">?</tspan></text>
<text class="n" x="681.4" y="747.8" font-size="15.7" textLength="36" lengthAdjust="spacingAndGlyphs">SCALE</text>
<text class="n" x="886" y="747.8" font-size="15.7" text-anchor="end" textLength="23.5" lengthAdjust="spacingAndGlyphs">1:75</text>
<text class="n" x="1559.8" y="140" font-size="20" text-anchor="middle" textLength="37.5" lengthAdjust="spacingAndGlyphs">1500</text>
<text class="n" x="1709.8" y="140" font-size="20" text-anchor="middle" textLength="37.5" lengthAdjust="spacingAndGlyphs">1500</text>
<text class="n" x="1859.6" y="140" font-size="20" text-anchor="middle" textLength="37.5" lengthAdjust="spacingAndGlyphs">1500</text>
<text class="n" transform="translate(1408.2 189) rotate(-90)" y="7" font-size="20" text-anchor="middle" textLength="28" lengthAdjust="spacingAndGlyphs">450</text>
<text class="n" transform="translate(1437.3 145.2) rotate(-90)" y="7" font-size="20" text-anchor="middle" textLength="18.5" lengthAdjust="spacingAndGlyphs">100</text>
<text class="n" transform="translate(1437.3 189) rotate(-90)" y="7" font-size="20" text-anchor="middle" textLength="28" lengthAdjust="spacingAndGlyphs">250</text>
<text class="n" transform="translate(1437.3 229) rotate(-90)" y="7" font-size="20" text-anchor="middle" textLength="26" lengthAdjust="spacingAndGlyphs">100</text>
<text class="c" x="2024.9" y="131.3" font-size="18.6" textLength="156.3" lengthAdjust="spacingAndGlyphs">100x150x5厚热镀锌钢管</text>
<text class="c" x="2033" y="166.3" font-size="18.4" textLength="148.2" lengthAdjust="spacingAndGlyphs">80x100x5厚热镀锌钢管</text>
<text class="c" x="2024.9" y="235.1" font-size="18.6" textLength="156.3" lengthAdjust="spacingAndGlyphs">100x150x5厚热镀锌钢管</text>
<text class="t" x="1585.4" y="312" font-size="35.7" text-anchor="middle" textLength="13.5" lengthAdjust="spacingAndGlyphs">2</text>
<text class="t" x="1633.3 1654.6 1675.9 1705.5 1735.2 1756.5 1786.1 1815.8 1837.1 1866.7 1896.3 1925.9 1955.6 1985.2" y="290.4" font-size="28.6"><tspan y="292.4" font-size="36.4" stroke-width="1.5">??</tspan><tspan y="290.4">雕塑</tspan><tspan y="292.4" font-size="36.4" stroke-width="1.5">?</tspan><tspan y="290.4">准段</tspan><tspan y="292.4" font-size="36.4" stroke-width="1.5">?</tspan><tspan y="290.4">骨布置平面</tspan><tspan y="292.4" font-size="36.4" stroke-width="1.5">?</tspan></text>
<text class="n" x="1635.8" y="318" font-size="15.7" textLength="36" lengthAdjust="spacingAndGlyphs">SCALE</text>
<text class="n" x="2014.7" y="318" font-size="15.7" text-anchor="end" textLength="23.5" lengthAdjust="spacingAndGlyphs">1:50</text>
<text class="n" x="1409.3" y="399.6" font-size="22" textLength="68.9" lengthAdjust="spacingAndGlyphs">2.400 TW</text>
<text class="n" x="1409.3" y="471.2" font-size="21.1" textLength="68.9" lengthAdjust="spacingAndGlyphs">2.200 TW</text>
<text class="n" x="1406.5" y="504.8" font-size="22.1" textLength="68" lengthAdjust="spacingAndGlyphs">1.700 TW</text>
<text class="n" x="1409.3" y="559.2" font-size="21.4" textLength="56.9" lengthAdjust="spacingAndGlyphs">±0.000</text>
<text class="n" transform="translate(1515 499.8) rotate(-90)" y="7.2" font-size="20.7" text-anchor="middle" textLength="38.5" lengthAdjust="spacingAndGlyphs">2400</text>
<text class="n" transform="translate(1546 406.5) rotate(-90)" y="7.2" font-size="20.7" text-anchor="middle" textLength="28" lengthAdjust="spacingAndGlyphs">200</text>
<text class="n" transform="translate(1546 450) rotate(-90)" y="7.2" font-size="20.7" text-anchor="middle" textLength="28" lengthAdjust="spacingAndGlyphs">500</text>
<text class="n" transform="translate(1546 522.5) rotate(-90)" y="7.2" font-size="20.7" text-anchor="middle" textLength="36.5" lengthAdjust="spacingAndGlyphs">1700</text>
<text class="n" x="1603.8" y="559.5" font-size="16.4" textLength="9.5" lengthAdjust="spacingAndGlyphs">a</text>
<text class="n" x="1764.5" y="577" font-size="20" textLength="9" lengthAdjust="spacingAndGlyphs">b</text>
<text class="n" x="1744.5" y="497.5" font-size="13.6" textLength="7" lengthAdjust="spacingAndGlyphs">c</text>
<text class="c" x="2065.7" y="420.6" font-size="19.1" textLength="148" lengthAdjust="spacingAndGlyphs">2厚深咖色304#不锈钢板</text>
<text class="c" x="2190.3" y="448.5" font-size="18.6" textLength="23.4" lengthAdjust="spacingAndGlyphs">满焊</text>
<text class="c" x="2087.4" y="504.3" font-size="18.5" textLength="60.6" lengthAdjust="spacingAndGlyphs">灯带及雾喷</text>
<text class="t" x="1716.2" y="662.9" font-size="35.7" text-anchor="middle" textLength="13.5" lengthAdjust="spacingAndGlyphs">3</text>
<text class="t" x="1763.5 1784.7 1805.9 1835.4 1864.9 1894.5 1924" y="641" font-size="28.6"><tspan y="643" font-size="36.4" stroke-width="1.5">??</tspan><tspan y="641">雕塑立面</tspan><tspan y="643" font-size="36.4" stroke-width="1.5">?</tspan></text>
<text class="n" x="1766" y="668.9" font-size="15.7" textLength="36" lengthAdjust="spacingAndGlyphs">SCALE</text>
<text class="n" x="1970.6" y="668.9" font-size="15.7" text-anchor="end" textLength="23.5" lengthAdjust="spacingAndGlyphs">1:75</text>
<text class="n" transform="translate(361.2 925.5) rotate(-90)" y="7.2" font-size="20.7" text-anchor="middle" textLength="38.5" lengthAdjust="spacingAndGlyphs">2400</text>
<text class="n" x="783.8" y="814.3" font-size="21.4" text-anchor="middle" textLength="46" lengthAdjust="spacingAndGlyphs">12955</text>
<text class="n" x="778.4" y="1025.7" font-size="20.7" text-anchor="middle" textLength="45" lengthAdjust="spacingAndGlyphs">11680</text>
<text class="n" transform="translate(764.6 886.5) rotate(-90)" y="7" font-size="20" text-anchor="middle" textLength="49" lengthAdjust="spacingAndGlyphs">R8300</text>
<text class="n" transform="translate(601.8 864.8) rotate(66)" y="6.2" font-size="17.9" text-anchor="middle" textLength="26" lengthAdjust="spacingAndGlyphs">150</text>
<text class="c" x="1110.9" y="879.3" font-size="18.1" textLength="147.9" lengthAdjust="spacingAndGlyphs">2厚深咖色304#不锈钢板</text>
<text class="c" x="1235.4" y="907.7" font-size="17.8" textLength="23.4" lengthAdjust="spacingAndGlyphs">满焊</text>
<text class="t" x="619.3" y="1122.9" font-size="35.7" text-anchor="middle" textLength="13.5" lengthAdjust="spacingAndGlyphs">4</text>
<text class="t" x="667.3 688.4 709.6 738.9 771.4 791.7 821 850.2" y="1101.9" font-size="27.5"><tspan y="1103.8" font-size="35" stroke-width="1.5">??</tspan><tspan y="1101.9">雕塑a立面</tspan><tspan y="1103.8" font-size="35" stroke-width="1.5">?</tspan></text>
<text class="n" x="669.8" y="1128.9" font-size="15.7" textLength="36" lengthAdjust="spacingAndGlyphs">SCALE</text>
<text class="n" x="873.6" y="1128.9" font-size="15.7" text-anchor="end" textLength="23.5" lengthAdjust="spacingAndGlyphs">1:50</text>
<text class="n" transform="translate(1415.2 866.2) rotate(-90)" y="7.2" font-size="20.7" text-anchor="middle" textLength="38.5" lengthAdjust="spacingAndGlyphs">2200</text>
<text class="n" x="1827.7" y="761.8" font-size="21.4" text-anchor="middle" textLength="46" lengthAdjust="spacingAndGlyphs">12370</text>
<text class="n" x="1827.5" y="964.5" font-size="20.7" text-anchor="middle" textLength="45" lengthAdjust="spacingAndGlyphs">11255</text>
<text class="n" transform="translate(1875.3 848.8) rotate(-83.5)" y="7" font-size="20" text-anchor="middle" textLength="49" lengthAdjust="spacingAndGlyphs">R8300</text>
<text class="n" transform="translate(1665.7 809.3) rotate(72)" y="6.2" font-size="17.9" text-anchor="middle" textLength="26" lengthAdjust="spacingAndGlyphs">150</text>
<text class="c" x="2171.6" y="840.1" font-size="18.5" textLength="147.7" lengthAdjust="spacingAndGlyphs">2厚深咖色304#不锈钢板</text>
<text class="c" x="2295.8" y="868.6" font-size="18.1" textLength="23.5" lengthAdjust="spacingAndGlyphs">满焊</text>
<text class="t" x="1714.4" y="1043.8" font-size="35.7" text-anchor="middle" textLength="13.5" lengthAdjust="spacingAndGlyphs">5</text>
<text class="t" x="1761 1782.2 1803.5 1832.9 1865.6 1886 1915.4 1944.9" y="1022" font-size="27.9"><tspan y="1024" font-size="35.5" stroke-width="1.5">??</tspan><tspan y="1022">雕塑b立面</tspan><tspan y="1024" font-size="35.5" stroke-width="1.5">?</tspan></text>
<text class="n" x="1763.5" y="1049.8" font-size="15.7" textLength="36" lengthAdjust="spacingAndGlyphs">SCALE</text>
<text class="n" x="1968.8" y="1049.8" font-size="15.7" text-anchor="end" textLength="23.5" lengthAdjust="spacingAndGlyphs">1:50</text>
<text class="n" transform="translate(354.5 1265.8) rotate(-90)" y="7.2" font-size="20.7" text-anchor="middle" textLength="38.5" lengthAdjust="spacingAndGlyphs">1700</text>
<text class="n" x="725.2" y="1176.6" font-size="21.4" text-anchor="middle" textLength="46" lengthAdjust="spacingAndGlyphs">10815</text>
<text class="n" x="724.8" y="1348.2" font-size="20.7" text-anchor="middle" textLength="45" lengthAdjust="spacingAndGlyphs">10065</text>
<text class="n" transform="translate(738.5 1257.3) rotate(-87.2)" y="7" font-size="20" text-anchor="middle" textLength="49" lengthAdjust="spacingAndGlyphs">R8300</text>
<text class="n" transform="translate(522.3 1237.3) rotate(70)" y="6.2" font-size="17.9" text-anchor="middle" textLength="26" lengthAdjust="spacingAndGlyphs">150</text>
<text class="c" x="940" y="1204.4" font-size="18.5" textLength="147.9" lengthAdjust="spacingAndGlyphs">2厚深咖色304#不锈钢板</text>
<text class="c" x="1063.9" y="1232.4" font-size="18.5" textLength="24" lengthAdjust="spacingAndGlyphs">满焊</text>
<text class="t" x="619.3" y="1416.8" font-size="35.7" text-anchor="middle" textLength="13.5" lengthAdjust="spacingAndGlyphs">6</text>
<text class="t" x="667.3 688.4 709.6 738.9 771.4 791.7 821 850.2" y="1396.9" font-size="27.5"><tspan y="1398.8" font-size="35" stroke-width="1.5">??</tspan><tspan y="1396.9">雕塑c立面</tspan><tspan y="1398.8" font-size="35" stroke-width="1.5">?</tspan></text>
<text class="n" x="669.8" y="1422.8" font-size="15.7" textLength="36" lengthAdjust="spacingAndGlyphs">SCALE</text>
<text class="n" x="873.6" y="1422.8" font-size="15.7" text-anchor="end" textLength="23.5" lengthAdjust="spacingAndGlyphs">1:50</text>
<text class="n" transform="translate(1429.2 1282.1) rotate(-90)" y="7.8" font-size="22.1" text-anchor="middle" textLength="27" lengthAdjust="spacingAndGlyphs">150</text>
<text class="n" transform="translate(1458.2 1246.7) rotate(-90)" y="7.8" font-size="22.1" text-anchor="middle" textLength="18.5" lengthAdjust="spacingAndGlyphs">80</text>
<text class="n" transform="translate(1458.2 1317.5) rotate(-90)" y="7.8" font-size="22.1" text-anchor="middle" textLength="18.5" lengthAdjust="spacingAndGlyphs">60</text>
<text class="n" transform="translate(1458.2 1369) rotate(-90)" y="7.8" font-size="22.1" text-anchor="middle" textLength="16.5" lengthAdjust="spacingAndGlyphs">10</text>
<text class="n" x="1546.4" y="1376" font-size="21.9" text-anchor="middle" textLength="26.5" lengthAdjust="spacingAndGlyphs">100</text>
<text class="n" x="1646.8" y="1376" font-size="21.9" text-anchor="middle" textLength="26.5" lengthAdjust="spacingAndGlyphs">100</text>
<text class="n" x="1719.9" y="1376" font-size="21.9" text-anchor="middle" textLength="18.5" lengthAdjust="spacingAndGlyphs">50</text>
<text class="n" x="1794.1" y="1376" font-size="21.9" text-anchor="middle" textLength="26.5" lengthAdjust="spacingAndGlyphs">100</text>
<text class="n" x="1893.6" y="1376" font-size="21.9" text-anchor="middle" textLength="26.5" lengthAdjust="spacingAndGlyphs">100</text>
<text class="n" x="1719.9" y="1405.5" font-size="22.1" text-anchor="middle" textLength="28" lengthAdjust="spacingAndGlyphs">450</text>
<text class="n" x="1680.7" y="1265.3" font-size="23.4" text-anchor="middle" textLength="17" lengthAdjust="spacingAndGlyphs">10</text>
<text class="n" x="1722.4" y="1265.3" font-size="23.4" text-anchor="middle" textLength="18.5" lengthAdjust="spacingAndGlyphs">35</text>
<text class="n" x="1761.2" y="1265.3" font-size="23.4" text-anchor="middle" textLength="17" lengthAdjust="spacingAndGlyphs">10</text>
<text class="n" transform="translate(1482.3 1176.9) rotate(35)" y="7.2" font-size="20.7" text-anchor="middle" textLength="19" lengthAdjust="spacingAndGlyphs">R5</text>
<text class="c" x="1541.6" y="1179" font-size="18.5" textLength="148.6" lengthAdjust="spacingAndGlyphs">2厚深咖色304#不锈钢板</text>
<text class="c" x="1666.9" y="1205.4" font-size="16.9" textLength="23.3" lengthAdjust="spacingAndGlyphs">满焊</text>
<text class="c" x="1765" y="1174.9" font-size="18.9" textLength="135.9" lengthAdjust="spacingAndGlyphs">100x80x5厚热镀锌管</text>
<text class="c" x="1949.3" y="1176.3" font-size="18.7" textLength="155.9" lengthAdjust="spacingAndGlyphs">100x150x5厚热镀锌钢管</text>
<text class="c" x="1983.5" y="1291.1" font-size="18.7" textLength="121.1" lengthAdjust="spacingAndGlyphs">雾喷喷头及灯源详水电</text>
<text class="c" x="1956.4" y="1318.7" font-size="18.6" textLength="148.2" lengthAdjust="spacingAndGlyphs">2厚深咖色304#不锈钢板</text>
<text class="c" x="2080.7" y="1346.1" font-size="18.1" textLength="23.5" lengthAdjust="spacingAndGlyphs">满焊</text>
<text class="c" x="1966.5" y="1369.6" font-size="18.8" textLength="133.4" lengthAdjust="spacingAndGlyphs">5厚米白色亚克力透光板</text>
<text class="c" x="1972.6" y="1397" font-size="17.6" textLength="126.9" lengthAdjust="spacingAndGlyphs">中间留ø10空隙@300</text>
<text class="t" x="1594.4" y="1485.9" font-size="35.7" text-anchor="middle" textLength="13.5" lengthAdjust="spacingAndGlyphs">7</text>
<text class="t" x="1639.7 1661.3 1691.2 1712.9 1738.7 1768.6" y="1465" font-size="28.5"><tspan y="1467" font-size="36.2" stroke-width="1.5">1</tspan><tspan y="1465">—</tspan><tspan y="1467" font-size="36.2" stroke-width="1.5">1</tspan><tspan y="1465">剖面</tspan><tspan y="1467" font-size="36.2" stroke-width="1.5">?</tspan></text>
<text class="n" x="1645.1" y="1491.9" font-size="15.7" textLength="36" lengthAdjust="spacingAndGlyphs">SCALE</text>
<text class="n" x="1799.7" y="1491.9" font-size="15.7" text-anchor="end" textLength="16.5" lengthAdjust="spacingAndGlyphs">1:5</text>
<text class="n" transform="translate(511.5 1480) rotate(-90)" y="7" font-size="20" text-anchor="middle" textLength="18.5" lengthAdjust="spacingAndGlyphs">50</text>
<text class="n" transform="translate(511.8 1842.4) rotate(-90)" y="7" font-size="20" text-anchor="middle" textLength="27" lengthAdjust="spacingAndGlyphs">100</text>
<text class="c" transform="translate(511.8 1668.6) rotate(-90)" y="4.9" font-size="12.6" text-anchor="middle" textLength="22.5" lengthAdjust="spacingAndGlyphs">详结构</text>
<text class="n" x="366.4" y="1884.4" font-size="21.9" text-anchor="middle" textLength="26.5" lengthAdjust="spacingAndGlyphs">100</text>
<text class="n" x="932.3" y="1884.4" font-size="21.9" text-anchor="middle" textLength="26.5" lengthAdjust="spacingAndGlyphs">100</text>
<text class="c" x="649.5" y="1883.7" font-size="13.2" text-anchor="middle" textLength="22.5" lengthAdjust="spacingAndGlyphs">详结构</text>
<text class="c" x="955.1" y="1465.5" font-size="18.7" textLength="147.9" lengthAdjust="spacingAndGlyphs">2厚深咖色304#不锈钢板</text>
<text class="c" x="1079.3" y="1492.9" font-size="17.9" textLength="23.7" lengthAdjust="spacingAndGlyphs">满焊</text>
<text class="c" x="947.4" y="1527.3" font-size="18.5" textLength="155.6" lengthAdjust="spacingAndGlyphs">100x150x5厚热镀锌钢管</text>
<text class="c" x="1031.1" y="1575.9" font-size="18.6" textLength="71.9" lengthAdjust="spacingAndGlyphs">预埋件详结构</text>
<text class="c" x="1007.4" y="1671.5" font-size="18.5" textLength="95.6" lengthAdjust="spacingAndGlyphs">钢筋混凝土详结构</text>
<text class="c" x="1012.5" y="1841.2" font-size="18.7" textLength="89.3" lengthAdjust="spacingAndGlyphs">100厚素砼垫层</text>
<text class="c" x="957.7" y="1872.4" font-size="19" textLength="144.1" lengthAdjust="spacingAndGlyphs">素土夯实 (压实度≥94%)</text>
<text class="t" x="993.4" y="1940.9" font-size="35.7" text-anchor="middle" textLength="13.5" lengthAdjust="spacingAndGlyphs">7</text>
<text class="t" x="1041.5 1070.8 1100.2 1129.6 1158.9 1188.3" y="1919.9" font-size="28"><tspan y="1919.9">雕塑固定大</tspan><tspan y="1921.9" font-size="35.7" stroke-width="1.5">?</tspan></text>
<text class="n" x="1043.4" y="1946.9" font-size="15.7" textLength="36" lengthAdjust="spacingAndGlyphs">SCALE</text>
<text class="n" x="1197.6" y="1946.9" font-size="15.7" text-anchor="end" textLength="23.5" lengthAdjust="spacingAndGlyphs">1:10</text>
<text class="t" x="1405.1" y="1926.7" font-size="35.7" text-anchor="middle" textLength="13.5" lengthAdjust="spacingAndGlyphs">8</text>
<text class="t" x="1452.7 1474.1 1495.5 1525.2 1554.9 1584.6 1614.4 1635.8" y="1906.4" font-size="28.8"><tspan y="1908.4" font-size="36.6" stroke-width="1.5">??</tspan><tspan y="1906.4">雕塑效果</tspan><tspan y="1908.4" font-size="36.6" stroke-width="1.5">?</tspan><tspan y="1906.4">一</tspan></text>
<text class="n" x="1455.3" y="1932.7" font-size="15.7" textLength="36" lengthAdjust="spacingAndGlyphs">SCALE</text>
<text class="t" x="2031.4" y="1922.9" font-size="35.7" text-anchor="middle" textLength="13.5" lengthAdjust="spacingAndGlyphs">9</text>
<text class="t" x="2078.8 2100 2121.3 2150.9 2180.4 2209.9 2239.4 2260.7" y="1901" font-size="28.1"><tspan y="1903" font-size="35.8" stroke-width="1.5">??</tspan><tspan y="1901">雕塑效果</tspan><tspan y="1903" font-size="35.8" stroke-width="1.5">?</tspan><tspan y="1901">二</tspan></text>
<text class="n" x="2081.3" y="1928.9" font-size="15.7" textLength="36" lengthAdjust="spacingAndGlyphs">SCALE</text>
<text class="s" x="2618.9" y="1777.1" font-size="24.3" textLength="117.3" lengthAdjust="spacingAndGlyphs">锦绣雕塑详图</text>
<text class="s" x="2622.7" y="1926.5" font-size="22.4" textLength="59.2" lengthAdjust="spacingAndGlyphs">D-3.1.1</text>
<text class="b" x="2353.1" y="1939.3" font-size="18.9" textLength="181.6" lengthAdjust="spacingAndGlyphs">注: 雕塑由专业公司二次深化设计</text></g>
<g id="lines" class="ln"><path d="M484 309L1075.5 309L1075.5 333.5L484 333.5Z"/>
<path d="M484 321.9L1075.5 321.9" stroke-width="2" stroke-dasharray="10 3.5"/>
<path d="M484 264.5L1075.5 264.5"/>
<path d="M484 293.6L1075.5 293.6"/>
<path d="M484 259L484 303"/>
<path d="M1075.5 259L1075.5 303"/>
<path d="M481.7 266.8L486.3 262.2" stroke-width="2.3"/>
<path d="M481.7 295.9L486.3 291.3" stroke-width="2.3"/>
<path d="M1073.2 266.8L1077.8 262.2" stroke-width="2.3"/>
<path d="M1073.2 295.9L1077.8 291.3" stroke-width="2.3"/>
<path d="M589.3 288.5L589.3 302.5"/>
<path d="M603 288.5L603 302.5"/>
<path d="M616.3 288.5L616.3 302.5"/>
<path d="M752.8 288.5L752.8 302.5"/>
<path d="M781.9 288.5L781.9 302.5"/>
<path d="M587.5 295.4L591.1 291.8" stroke-width="2.3"/>
<path d="M614.5 295.4L618.1 291.8" stroke-width="2.3"/>
<path d="M751 295.4L754.6 291.8" stroke-width="2.3"/>
<path d="M780.1 295.4L783.7 291.8" stroke-width="2.3"/>
<path d="M468.1 309L468.1 333.5"/>
<path d="M463.5 309L476.5 309"/>
<path d="M463.5 333.5L476.5 333.5"/>
<path d="M466.3 307.2L469.9 310.8" stroke-width="2.3"/>
<path d="M466.3 331.7L469.9 335.3" stroke-width="2.3"/>
<path d="M504.4 74.1L526.5 65.9L738 642.4L715.8 650.5Z"/>
<path d="M516.4 76L723.7 641.3" stroke-width="0.9" stroke-dasharray="7 3"/>
<path d="M518.6 75.2L726 640.4" stroke-width="0.9" stroke-dasharray="7 3"/>
<path d="M483 81.9L694.4 658.4"/>
<path d="M464.8 88.6L676.3 665"/>
<path d="M460.5 90.1L498.1 76.4"/>
<circle cx="483" cy="81.9" r="1.7" fill="#000" stroke="none"/>
<circle cx="464.8" cy="88.6" r="1.7" fill="#000" stroke="none"/>
<path d="M672 666.6L709.5 652.9"/>
<circle cx="694.4" cy="658.4" r="1.7" fill="#000" stroke="none"/>
<circle cx="676.3" cy="665" r="1.7" fill="#000" stroke="none"/>
<circle cx="569.4" cy="317.6" r="1.6" fill="#000" stroke="none"/>
<path d="M565.7 318.9L573.3 316.2"/>
<circle cx="578.1" cy="341.2" r="1.6" fill="#000" stroke="none"/>
<path d="M574.4 342.6L581.9 339.8"/>
<circle cx="622" cy="460.9" r="1.6" fill="#000" stroke="none"/>
<path d="M618.3 462.2L625.8 459.4"/>
<circle cx="631.6" cy="487.1" r="1.6" fill="#000" stroke="none"/>
<path d="M627.9 488.4L635.4 485.6"/>
<path d="M566 312.5L572 310"/>
<path d="M575.5 342.5L581.5 340"/>
<path d="M618.5 461.5L634 455.5"/>
<path d="M633 489L647.5 483.5"/>
<path d="M715.6 650.5L723.2 676.2"/>
<path d="M738 642.3L747.2 667.5"/>
<path d="M720.5 673.8L748.5 664.6"/>
<circle cx="722.3" cy="673.2" r="1.6" fill="#000" stroke="none"/>
<circle cx="746.3" cy="665.3" r="1.6" fill="#000" stroke="none"/>
<path d="M559.3 562.2L578.1 576.6L900.5 157.2L881.8 142.8Z"/>
<path d="M571.4 563.9L886.5 154" stroke-width="0.9" stroke-dasharray="7 3"/>
<path d="M573.3 565.4L888.4 155.5" stroke-width="0.9" stroke-dasharray="7 3"/>
<path d="M599.4 593L921.8 173.6"/>
<path d="M619.4 608.3L941.8 189"/>
<path d="M583.8 581L621.8 610.2"/>
<circle cx="599.4" cy="593" r="1.7" fill="#000" stroke="none"/>
<circle cx="619.4" cy="608.3" r="1.7" fill="#000" stroke="none"/>
<path d="M906.2 161.6L944.2 190.8"/>
<circle cx="921.8" cy="173.6" r="1.7" fill="#000" stroke="none"/>
<circle cx="941.8" cy="189" r="1.7" fill="#000" stroke="none"/>
<circle cx="674.8" cy="494.8" r="1.6" fill="#000" stroke="none"/>
<path d="M671.5 492.3L678.2 497.5"/>
<circle cx="691.8" cy="472.8" r="1.6" fill="#000" stroke="none"/>
<path d="M688.5 470.2L695.2 475.4"/>
<circle cx="786.9" cy="349" r="1.6" fill="#000" stroke="none"/>
<path d="M783.6 346.5L790.3 351.7"/>
<circle cx="805.1" cy="325.3" r="1.6" fill="#000" stroke="none"/>
<path d="M801.8 322.8L808.6 328"/>
<path d="M770.5 337L776.5 346"/>
<path d="M803 320.5L808.5 328.5"/>
<path d="M658.5 483L668.5 491"/>
<path d="M683 460.5L692.5 468"/>
<path d="M559.4 562.4L544 583"/>
<path d="M578 576.4L563.6 596"/>
<path d="M542 578.6L566 597.2"/>
<circle cx="544.9" cy="580.8" r="1.6" fill="#000" stroke="none"/>
<circle cx="563.2" cy="595" r="1.6" fill="#000" stroke="none"/>
<path d="M629.6 366.5L653.1 366.5L641.1 378Z" fill="#000" stroke="none"/>
<path d="M672.4 393.3L696.7 393.3L684.4 405.3Z" fill="#000" stroke="none"/>
<path d="M800 436.2L824.7 436.2L812.5 448.5Z" fill="#000" stroke="none"/>
<path d="M979.8 305.3L1004.1 305.3L991.8 316.8Z" fill="#000" stroke="none"/>
<path d="M963.3 270.9L963.3 348" stroke-width="2.2" stroke-dasharray="15 5 3 5"/>
<path d="M962.2 346.8L962.2 354.6L989 354.6Z" fill="#000" stroke="none"/>
<circle cx="887.5" cy="160.7" r="1.8" fill="#000" stroke="none"/>
<path d="M887.5 160.7L932.2 115.3L1232.9 115.3"/>
<circle cx="1261.5" cy="115.3" r="28.6"/>
<path d="M1229.9 115.3L1293.1 115.3"/>
<path d="M1261.5 84.7L1261.5 115.3"/>
<path d="M1257 127.6L1266 127.6"/>
<circle cx="886.6" cy="325" r="1.8" fill="#000" stroke="none"/>
<path d="M886.6 325L932.2 370.4L1232.9 370.4"/>
<circle cx="1261.5" cy="370.4" r="28.6"/>
<path d="M1229.9 370.4L1293.1 370.4"/>
<path d="M1261.5 339.8L1261.5 370.4"/>
<path d="M1257 382.7L1266 382.7"/>
<circle cx="711.2" cy="579.9" r="1.8" fill="#000" stroke="none"/>
<path d="M711.2 579.9L756.4 534.4L1232.9 534.4"/>
<circle cx="1261.5" cy="534.4" r="28.6"/>
<path d="M1229.9 534.4L1293.1 534.4"/>
<path d="M1261.5 503.8L1261.5 534.4"/>
<path d="M1257 546.7L1266 546.7"/>
<circle cx="1066.6" cy="315.5" r="2" fill="#000" stroke="none"/>
<path d="M1066.6 315.5L1087.5 294.3L1231.6 294.3"/>
<circle cx="631.6" cy="729.2" r="28.8"/>
<path d="M660.4 729.2L886 729.2"/>
<path d="M1465.5 166.7L1978.5 166.7" stroke-width="2.2"/>
<path d="M1465.5 176.4L1978.5 176.4"/>
<path d="M1465.5 201.7L1978.5 201.7" stroke-width="2.2"/>
<path d="M1465.5 211.4L1978.5 211.4"/>
<path d="M1465.5 151.4L1465.5 226.7"/>
<path d="M1465.5 183.5L1465.5 184.6L1476 186L1454.5 191.5L1465.5 193.2L1465.5 194.5"/>
<path d="M1978.5 151.4L1978.5 226.7"/>
<path d="M1978.5 182.5L1978.5 183.6L1989 186.8L1967.5 191L1978.5 193.2"/>
<path d="M1480.3 176.4L1480.3 201.7" stroke-width="1.1"/>
<path d="M1489.7 176.4L1489.7 201.7" stroke-width="2.2"/>
<path d="M1630.5 176.4L1630.5 201.7" stroke-width="1.1"/>
<path d="M1639.7 176.4L1639.7 201.7" stroke-width="2.2"/>
<path d="M1779.7 176.4L1779.7 201.7" stroke-width="2.2"/>
<path d="M1789.4 176.4L1789.4 201.7" stroke-width="1.1"/>
<path d="M1929.7 176.4L1929.7 201.7" stroke-width="2.2"/>
<path d="M1939.2 176.4L1939.2 201.7" stroke-width="1.1"/>
<path d="M1482.5 146.8L1936.5 146.8"/>
<path d="M1485.1 141L1485.1 153"/>
<path d="M1483.2 148.7L1487 144.9" stroke-width="2.3"/>
<path d="M1635.1 141L1635.1 153"/>
<path d="M1633.2 148.7L1637 144.9" stroke-width="2.3"/>
<path d="M1784.3 141L1784.3 153"/>
<path d="M1782.4 148.7L1786.2 144.9" stroke-width="2.3"/>
<path d="M1934.3 141L1934.3 153"/>
<path d="M1932.4 148.7L1936.2 144.9" stroke-width="2.3"/>
<path d="M1421.6 166.7L1421.6 211.4"/>
<path d="M1450.7 161.5L1450.7 216.5"/>
<path d="M1416.5 166.7L1455.5 166.7"/>
<path d="M1416.5 211.4L1455.5 211.4"/>
<path d="M1446 176.4L1455.5 176.4"/>
<path d="M1446 201.7L1455.5 201.7"/>
<path d="M1419.7 164.8L1423.5 168.6" stroke-width="2.3"/>
<path d="M1419.7 209.5L1423.5 213.3" stroke-width="2.3"/>
<path d="M1448.9 164.9L1452.5 168.5" stroke-width="2.3"/>
<path d="M1448.9 174.6L1452.5 178.2" stroke-width="2.3"/>
<path d="M1448.9 199.9L1452.5 203.5" stroke-width="2.3"/>
<path d="M1448.9 209.6L1452.5 213.2" stroke-width="2.3"/>
<circle cx="1951.4" cy="166" r="1.6" fill="#000" stroke="none"/>
<path d="M1951.4 166L1980.3 136.4L2181 136.4"/>
<circle cx="1934.6" cy="188.2" r="1.8" fill="#000" stroke="none"/>
<path d="M1934.6 188.2L1950.2 171.1L2181 171.1"/>
<circle cx="1951.4" cy="211.1" r="1.6" fill="#000" stroke="none"/>
<path d="M1951.4 211.1L1980.3 240.5L2181 240.5"/>
<circle cx="1585.4" cy="299.4" r="28.8"/>
<path d="M1614.2 299.4L2014.7 299.4"/>
<path d="M1381 579.3L2364.7 579.3"/>
<path d="M1560.4 579.3L1560.4 633"/>
<path d="M1406.3 404.6L1503.7 404.6"/>
<path d="M1473.6 404.6L1488.4 419.2L1503.7 404.6"/>
<path d="M1473 419.2L1500 419.2"/>
<path d="M1406.3 448.5L1503.7 448.5"/>
<path d="M1473.6 448.5L1488.4 433.5L1503.7 448.5"/>
<path d="M1473 433.5L1500 433.5"/>
<path d="M1406.3 481.4L1503.7 481.4"/>
<path d="M1473.6 481.4L1488.4 466.4L1503.7 481.4"/>
<path d="M1473 466.4L1500 466.4"/>
<path d="M1406.3 564.3L1503.7 564.3"/>
<path d="M1473.6 564.3L1488.4 579.3L1503.7 564.3"/>
<path d="M1528.7 420L1528.7 579.3"/>
<path d="M1559.8 420L1559.8 579.3"/>
<path d="M1523 420L1565 420"/>
<path d="M1555 434L1565 434"/>
<path d="M1555 466.6L1565 466.6"/>
<path d="M1526.8 418.1L1530.6 421.9" stroke-width="2.3"/>
<path d="M1526.8 577.4L1530.6 581.2" stroke-width="2.3"/>
<path d="M1557.9 418.1L1561.7 421.9" stroke-width="2.3"/>
<path d="M1557.9 432.1L1561.7 435.9" stroke-width="2.3"/>
<path d="M1557.9 464.7L1561.7 468.5" stroke-width="2.3"/>
<path d="M1557.9 577.4L1561.7 581.2" stroke-width="2.3"/>
<path d="M1575.3 579.3C1578.1 574.6 1586 560.4 1592 551C1598 541.6 1604.8 531.4 1611 523.1C1617.2 514.8 1622.6 508.3 1629 501C1635.4 493.7 1642.8 485.8 1649.3 479.1C1655.8 472.4 1661.6 466.5 1668 461C1674.4 455.5 1681.3 450.2 1687.6 445.9C1693.9 441.6 1699.6 438.1 1706 435C1712.4 431.9 1719.3 429.5 1725.8 427.4C1732.3 425.3 1738.6 423.6 1745 422.3C1751.4 421 1757.8 420.3 1764.1 419.8C1770.4 419.3 1776.6 419.2 1783 419.2C1789.4 419.2 1799.1 419.7 1802.3 419.8" stroke-width="2.2"/>
<path d="M1802.3 419.8C1805.2 420.2 1814.4 421.2 1820 422.3C1825.6 423.4 1830.7 425 1836 426.5C1841.3 428 1845.9 428.6 1851.9 431.3C1857.9 434.1 1865.4 438.9 1872 443C1878.6 447.1 1884.7 450.9 1891.4 456.1C1898.1 461.3 1905.2 467.6 1912 474C1918.8 480.4 1926.4 487.9 1932.2 494.4C1938 500.9 1942.3 506.6 1947 513C1951.7 519.4 1955.6 525.5 1960.3 532.7C1965 539.9 1970 548.2 1975 556C1980 563.8 1987.8 575.4 1990.3 579.3"/>
<path d="M1581.7 579.3C1586.1 572.4 1598.9 550.9 1608 538C1617.1 525.1 1627.7 512.2 1636.5 502C1645.3 491.8 1652.5 484.6 1661 477C1669.5 469.4 1679.1 461.7 1687.6 456.1C1696.1 450.5 1703.5 447.3 1712 443.5C1720.5 439.7 1731 435.4 1738.6 433.2C1746.2 431 1751.3 430.8 1757.7 430.4C1764.1 430 1773.6 430.6 1776.8 430.6"/>
<path d="M1594.4 579.3C1597.6 574.1 1607.5 557.2 1613.6 548C1619.7 538.8 1625 531.7 1631 524C1637 516.3 1643.1 508.8 1649.3 502C1655.5 495.2 1661.6 489.2 1668 483.5C1674.4 477.8 1680.1 473.1 1687.6 467.6C1695.1 462.1 1705.6 454.8 1713 450.4C1720.4 446 1725.6 443.9 1732 441.2C1738.4 438.5 1745.5 436 1751.3 434.4C1757.1 432.8 1761.7 432 1767 431.4C1772.3 430.8 1780.5 430.7 1783.2 430.6" stroke-width="2.2"/>
<path d="M1783.2 430.6C1785.8 431.1 1793.7 432.3 1799 433.6C1804.3 434.9 1809.1 436 1815.1 438.3C1821.1 440.6 1828.6 444.3 1835 447.5C1841.4 450.7 1850.3 455.8 1853.4 457.4" stroke-width="2.2"/>
<path d="M1853.4 457.4C1856.2 459.6 1864.5 465.8 1870 470.5C1875.5 475.2 1881.1 480.7 1886.3 485.5C1891.5 490.3 1896.1 494.6 1901 499.5C1905.9 504.4 1911 509.4 1915.7 514.8C1920.4 520.2 1924.8 526 1929 532C1933.2 538 1937.7 545 1941.2 550.5C1944.7 556 1947.1 560.2 1950 565C1952.9 569.8 1957 576.9 1958.4 579.3" stroke-width="1.6"/>
<path d="M1616.1 568.4C1619.5 563.3 1630 547.1 1636.5 537.8C1643 528.5 1648.6 520.6 1655 512.5C1661.4 504.4 1667.8 496.6 1674.8 489.3C1681.8 482.1 1689.6 475.2 1697 469C1704.4 462.8 1713.1 456.4 1719.4 452.3C1725.7 448.2 1729.7 446.9 1735 444.6C1740.3 442.3 1744.5 440.3 1751.3 438.3C1758.1 436.3 1771.5 433.5 1775.6 432.5"/>
<path d="M1776.8 421C1780 421.6 1789.6 423.1 1796 424.5C1802.4 425.9 1811.1 428.3 1815.1 429.3C1819.1 430.3 1815.8 428.7 1820 430.6C1824.2 432.5 1833.6 437.1 1840 440.5C1846.4 443.9 1852.5 447.1 1858.3 451C1864.1 454.9 1869.5 459.4 1875 464C1880.5 468.6 1886.1 473.2 1891.4 478.4C1896.7 483.6 1901.9 489.1 1907 495C1912.1 500.9 1917.3 507.3 1922 513.5C1926.7 519.7 1930.7 525.6 1935 532C1939.3 538.4 1944.1 546.3 1947.6 551.8C1951.1 557.3 1953.1 560.4 1956 565C1958.9 569.6 1963.3 576.9 1964.8 579.3"/>
<path d="M1605.3 579.3C1609.9 575.8 1623.5 564.9 1633 558C1642.5 551.1 1650.8 545.5 1662 537.8C1673.2 530.1 1687.2 520.3 1700 512C1712.8 503.7 1727.9 493.9 1738.6 488C1749.3 482.1 1755.5 480 1764 476.5C1772.5 473 1781.1 469.9 1789.6 467C1798.1 464.1 1806.1 461.7 1815 459C1823.9 456.3 1838.3 452.3 1843 451"/>
<path d="M1611.7 579.3C1615.8 576.2 1627.6 567.3 1636 561C1644.4 554.7 1651.3 549.1 1662 541.6C1672.7 534.1 1687.2 524.4 1700 516C1712.8 507.6 1727.9 497.3 1738.6 491.2C1749.3 485.1 1755.5 483.1 1764 479.5C1772.5 475.9 1781.1 472.6 1789.6 469.6C1798.1 466.6 1805.7 464.3 1815 461.5C1824.3 458.7 1840.4 454.4 1845.5 453"/>
<path d="M1623.8 579.3C1629 575.4 1644.4 563.8 1655 556C1665.6 548.2 1676.9 539.7 1687.6 532.7C1698.3 525.7 1708.4 520.1 1719 514C1729.6 507.9 1740.6 501.5 1751.3 496.3C1762 491.1 1772.4 487.2 1783 483C1793.6 478.8 1806.6 473.8 1815.1 470.8C1823.6 467.8 1827.5 466.9 1834 465C1840.5 463.1 1850.5 460.2 1853.8 459.3" stroke-width="2.2"/>
<path d="M1873.6 442.7C1877 442.1 1887 440 1894 438.8C1901 437.6 1906.8 436.5 1915.7 435.7C1924.6 434.9 1938 434.2 1947.6 433.8C1957.1 433.4 1964.5 433.4 1973 433.4C1981.5 433.4 1990.1 433.4 1998.6 433.8C2007.1 434.2 2015.5 434.9 2024 435.7C2032.5 436.4 2040.3 436.8 2049.6 438.3C2058.9 439.8 2069.6 442.2 2080 444.6C2090.4 447 2101.4 449.5 2112 452.5C2122.6 455.5 2133.1 458.8 2143.8 462.5C2154.5 466.2 2165.4 470.5 2176 475C2186.6 479.5 2196.9 484 2207.6 489.3C2218.3 494.6 2229.4 500.6 2240 507C2250.6 513.4 2260.1 520.1 2271.3 527.6C2282.5 535.1 2295.2 543.4 2307 552C2318.8 560.6 2336.2 574.8 2342.1 579.3" stroke-width="2.2"/>
<path d="M1873.6 444.6C1877 443.9 1887 441.8 1894 440.6C1901 439.4 1912.1 437.9 1915.7 437.4"/>
<path d="M1886.3 452.3C1889.2 451.8 1898 449.9 1904 449C1910 448.1 1915.8 447.3 1922 446.6C1928.2 445.9 1934.6 445.4 1941 444.9C1947.4 444.4 1954 444 1960.3 443.8C1966.6 443.6 1972.6 443.7 1979 443.8C1985.4 443.9 1991.6 444 1998.6 444.4C2005.6 444.8 2013.6 445.4 2021 446C2028.4 446.6 2033.4 446.7 2043.2 448.2C2053 449.7 2068.5 452.2 2080 454.8C2091.5 457.4 2101.4 460.1 2112 463.5C2122.6 466.9 2133.1 471.1 2143.8 475.3C2154.5 479.5 2165.4 483.8 2176 488.5C2186.6 493.2 2196.9 498 2207.6 503.3C2218.3 508.6 2229.4 514.3 2240 520.5C2250.6 526.7 2261.6 534 2271.3 540.3C2281 546.6 2289.1 552 2298 558.5C2306.9 565 2320.4 575.8 2324.9 579.3" stroke-width="2.2"/>
<path d="M2000 442.8C2007.2 443.4 2029.9 444.7 2043.2 446.4C2056.5 448.1 2068.5 450.5 2080 453C2091.5 455.5 2101.4 458.2 2112 461.6C2122.6 465 2133.1 469.2 2143.8 473.3C2154.5 477.4 2165.4 481.8 2176 486.4C2186.6 491 2196.9 495.7 2207.6 501C2218.3 506.3 2229.4 511.9 2240 518C2250.6 524.1 2261.3 531.1 2271.3 537.6C2281.3 544.1 2290.3 550 2300 557C2309.7 564 2324.5 575.6 2329.4 579.3"/>
<path d="M1752.6 579.3C1755.4 574.9 1763.8 560.8 1769.2 553.1C1774.6 545.4 1779.5 539.4 1785 533C1790.5 526.6 1794.8 521.3 1802.3 514.8C1809.8 508.3 1820.4 500.5 1830 494C1839.6 487.5 1853.2 479.5 1860 475.9C1866.8 472.3 1869.2 473 1871 472.4"/>
<path d="M1779.4 579.3C1781.2 576.2 1786.2 566.9 1790 561C1793.8 555.1 1795.6 551.6 1802.3 544.1C1809 536.6 1820.4 524.7 1830 516C1839.6 507.3 1851.7 497.7 1860 491.8C1868.3 485.9 1876.7 482.3 1880 480.4"/>
<path d="M1786.4 579.3C1788.7 575.8 1795.2 564.9 1800 558C1804.8 551.1 1808.9 544.5 1815.1 537.8C1821.3 531.1 1829.5 524 1837 518C1844.5 512 1851.7 507.2 1860 502C1868.3 496.8 1882.5 489.2 1887 486.7" stroke-width="2.2"/>
<path d="M1905.5 467.3C1908.6 467.2 1917.8 466.9 1924 467C1930.2 467.1 1936.7 467 1942.4 467.6C1948.1 468.2 1952.9 469.5 1958 470.8C1963.1 472.1 1968.4 473.5 1973.1 475.3C1977.8 477.1 1981.8 479.2 1986 481.5C1990.2 483.8 1993.4 485.7 1998.6 489.3C2003.8 492.9 2011 498.1 2017 503C2023 507.9 2029 513.4 2034.3 518.6C2039.6 523.8 2044.3 528.7 2049 534C2053.7 539.3 2058.5 545.5 2062.3 550.5C2066.1 555.5 2068.8 559.2 2072 564C2075.2 568.8 2079.9 576.8 2081.5 579.3" stroke-width="2.2"/>
<path d="M1908 470C1909.3 469.8 1914.7 469.2 1916 469"/>
<path d="M1918.2 477.8C1920.7 477.7 1928.1 477.3 1933 477.4C1937.9 477.5 1942.4 477.6 1947.6 478.4C1952.8 479.2 1958.7 480.6 1964 482.2C1969.3 483.8 1974.1 485.5 1979.4 488C1984.7 490.5 1990.7 493.6 1996 497C2001.3 500.4 2005.5 503.6 2011.3 508.4C2017.1 513.2 2024.6 519.6 2031 526C2037.4 532.4 2044.4 540.7 2049.6 546.7C2054.8 552.7 2057.8 556.6 2062 562C2066.2 567.4 2072.4 576.4 2074.5 579.3"/>
<path d="M1918.2 479.2C1921 479.4 1928.8 479 1934.8 480.1C1940.8 481.2 1947.6 483.6 1954 486C1960.4 488.4 1967.1 491.2 1973.1 494.4C1979.1 497.6 1984.7 501.2 1990 505C1995.3 508.8 1999.8 512.8 2005 517.3C2010.2 521.8 2015.7 526.7 2021 532C2026.3 537.3 2032.1 544 2036.8 549.2C2041.5 554.4 2045 558 2049 563C2053.1 568 2059.1 576.6 2061.1 579.3" stroke-width="2.2"/>
<path d="M1922 481C1924.2 481.5 1930.7 482.8 1935 484C1939.3 485.2 1942.8 486.1 1947.6 488C1952.4 489.9 1958.7 492.7 1964 495.5C1969.3 498.3 1974.1 501 1979.4 504.6C1984.7 508.2 1990.7 512.3 1996 517C2001.3 521.7 2006.5 527.5 2011.3 532.7C2016.1 537.9 2020.8 542.7 2025 548C2029.2 553.3 2033.1 559.3 2036.8 564.5C2040.5 569.7 2045.3 576.8 2047 579.3"/>
<circle cx="2043" cy="447.6" r="1.6" fill="#000" stroke="none"/>
<path d="M2043 447.6L2064.3 425.5L2213 425.5"/>
<circle cx="2023.8" cy="530.1" r="2" fill="#000" stroke="none"/>
<path d="M2023.8 530.1L2045.1 508.4L2146.8 508.4"/>
<circle cx="1716.2" cy="650.3" r="28.8"/>
<path d="M1745 650.3L1970.6 650.3"/>
<path d="M302.2 1005.4L1204.7 1005.4"/>
<path d="M391 1005.4A549.1 549.1 0 0 1 1165.7 1005.4"/>
<path d="M405 1005.4A537.6 537.6 0 0 1 1151.7 1005.4"/>
<path d="M384.6 983.8A571.9 571.9 0 0 1 1185.6 984.5"/>
<path d="M393.6 993.3L375.6 975.3"/>
<circle cx="384.6" cy="983.8" r="1.6" fill="#000" stroke="none"/>
<path d="M1176.6 994L1194.6 976"/>
<circle cx="1185.6" cy="984.5" r="1.6" fill="#000" stroke="none"/>
<path d="M374.4 845.7L374.4 1005.4"/>
<path d="M372.5 843.8L376.3 847.6" stroke-width="2.3"/>
<path d="M372.5 1003.5L376.3 1007.3" stroke-width="2.3"/>
<path d="M374.4 845.7L749.4 845.7" stroke-dasharray="15 5"/>
<path d="M762.8 797.8A42.8 42.8 0 0 1 804.8 797.8"/>
<path d="M388 1031.7L1167.2 1031.7"/>
<path d="M390.5 1015.2L390.5 1037.2"/>
<path d="M388.6 1033.6L392.4 1029.8" stroke-width="2.3"/>
<path d="M1166.4 1015.2L1166.4 1037.2"/>
<path d="M1164.5 1033.6L1168.3 1029.8" stroke-width="2.3"/>
<path d="M778.7 845.5L778.7 914.3"/>
<path d="M778.7 855L777.1 847L780.3 847Z" fill="#000" stroke="none"/>
<path d="M589.6 872.8L599.1 891.2"/>
<path d="M588.7 877L594.7 876.6" stroke-width="2.3"/>
<path d="M593.3 886L599.3 885.6" stroke-width="2.3"/>
<circle cx="1038.9" cy="906.2" r="1.8" fill="#000" stroke="none"/>
<path d="M1038.9 906.2L1060.6 884.5L1257.8 884.5"/>
<circle cx="619.3" cy="1110.3" r="28.8"/>
<path d="M648.1 1110.3L873.6 1110.3"/>
<path d="M1391 939.1L2229.5 939.1"/>
<path d="M1454 939.1A550.9 550.9 0 0 1 2200.9 939.1"/>
<path d="M1469.3 939.1A541 541 0 0 1 2186.9 939.1"/>
<path d="M1436.1 920.3A579.2 579.2 0 0 1 2219.3 920.8"/>
<path d="M1445.1 929.8L1427.1 911.8"/>
<circle cx="1436.1" cy="920.3" r="1.6" fill="#000" stroke="none"/>
<path d="M2210.3 930.3L2228.3 912.3"/>
<circle cx="2219.3" cy="920.8" r="1.6" fill="#000" stroke="none"/>
<path d="M1428.5 793.4L1428.5 939.1"/>
<path d="M1426.6 791.5L1430.4 795.3" stroke-width="2.3"/>
<path d="M1426.6 937.2L1430.4 941" stroke-width="2.3"/>
<path d="M1428.5 793.4L1816 793.4" stroke-dasharray="15 5"/>
<path d="M1806.7 745.3A42.8 42.8 0 0 1 1848.7 745.3"/>
<path d="M1451 970.5L2202.4 970.5"/>
<path d="M1453.5 954L1453.5 976"/>
<path d="M1451.6 972.4L1455.4 968.6" stroke-width="2.3"/>
<path d="M2201.6 954L2201.6 976"/>
<path d="M2199.7 972.4L2203.5 968.6" stroke-width="2.3"/>
<path d="M1894 797.8L1885 876"/>
<path d="M1894 807.3L1892.4 799.3L1895.6 799.3Z" fill="#000" stroke="none"/>
<path d="M1652.5 816.2L1660.3 837.1"/>
<path d="M1651.2 820.7L1657.2 820.9" stroke-width="2.3"/>
<path d="M1655 830.9L1661 831.1" stroke-width="2.3"/>
<circle cx="2099.4" cy="867.2" r="1.8" fill="#000" stroke="none"/>
<path d="M2099.4 867.2L2119.8 845.3L2318.3 845.3"/>
<circle cx="1714.4" cy="1031.2" r="28.8"/>
<path d="M1743.2 1031.2L1968.8 1031.2"/>
<path d="M318.3 1322.3L1109 1322.3"/>
<path d="M391 1322.3A549.9 549.9 0 0 1 1058.6 1322.3"/>
<path d="M406.8 1322.3A541.5 541.5 0 0 1 1042.8 1322.3"/>
<path d="M374.4 1302.4A576.8 576.8 0 0 1 1075.4 1301.6"/>
<path d="M383.4 1311.9L365.4 1293.9"/>
<circle cx="374.4" cy="1302.4" r="1.6" fill="#000" stroke="none"/>
<path d="M1066.4 1311.1L1084.4 1293.1"/>
<circle cx="1075.4" cy="1301.6" r="1.6" fill="#000" stroke="none"/>
<path d="M368.5 1209.6L368.5 1322.3"/>
<path d="M366.6 1207.7L370.4 1211.5" stroke-width="2.3"/>
<path d="M366.6 1320.4L370.4 1324.2" stroke-width="2.3"/>
<path d="M368.5 1209.6L713.7 1209.6" stroke-dasharray="15 5"/>
<path d="M704.2 1160.1A42.8 42.8 0 0 1 746.2 1160.1"/>
<path d="M388 1354.2L1060.1 1354.2"/>
<path d="M390.5 1337.7L390.5 1359.7"/>
<path d="M388.6 1356.1L392.4 1352.3" stroke-width="2.3"/>
<path d="M1059.3 1337.7L1059.3 1359.7"/>
<path d="M1057.4 1356.1L1061.2 1352.3" stroke-width="2.3"/>
<path d="M754.5 1209.3L750.7 1286.6"/>
<path d="M754.5 1218.8L752.9 1210.8L756.1 1210.8Z" fill="#000" stroke="none"/>
<path d="M509.8 1247.2L520.3 1266.4"/>
<path d="M509.1 1251.4L515.1 1251.4" stroke-width="2.3"/>
<path d="M514.2 1260.8L520.2 1260.8" stroke-width="2.3"/>
<circle cx="867.5" cy="1231.5" r="1.8" fill="#000" stroke="none"/>
<path d="M867.5 1231.5L890.2 1209.3L1086.9 1209.3"/>
<circle cx="619.3" cy="1404.2" r="28.8"/>
<path d="M648.1 1404.2L873.6 1404.2"/>
<path d="M1497.6 1207.5H1942.6V1212.7H1497.6Z" fill="url(#hs)" stroke="none"/>
<path d="M1497.6 1351.8H1597.4V1356.7H1497.6Z" fill="url(#hs)" stroke="none"/>
<path d="M1842.5 1351.8H1942.6V1356.7H1842.5Z" fill="url(#hs)" stroke="none"/>
<path d="M1497.6 1207.5H1502.5V1356.7H1497.6Z" fill="url(#hs)" stroke="none"/>
<path d="M1592.5 1207.5H1597.4V1356.7H1592.5Z" fill="url(#hs)" stroke="none"/>
<path d="M1842.5 1207.5H1847.4V1356.7H1842.5Z" fill="url(#hs)" stroke="none"/>
<path d="M1937.7 1207.5H1942.6V1356.7H1937.7Z" fill="url(#hs)" stroke="none"/>
<path d="M1597.4 1281.5H1842.5V1286.5H1597.4Z" fill="url(#hs)" stroke="none"/>
<path d="M1497.6 1207.5L1597.4 1207.5L1597.4 1356.7L1497.6 1356.7Z" stroke-width="1.1"/>
<path d="M1502.5 1212.4L1592.5 1212.4L1592.5 1351.8L1502.5 1351.8Z" stroke-width="1.1"/>
<path d="M1842.5 1207.5L1942.6 1207.5L1942.6 1356.7L1842.5 1356.7Z" stroke-width="1.1"/>
<path d="M1847.4 1212.4L1937.7 1212.4L1937.7 1351.8L1847.4 1351.8Z" stroke-width="1.1"/>
<path d="M1597.4 1207.5L1842.5 1207.5" stroke-width="1.1"/>
<path d="M1597.4 1212.7L1842.5 1212.7" stroke-width="1.1"/>
<path d="M1597.4 1281.5L1842.5 1281.5" stroke-width="1.1"/>
<path d="M1597.4 1286.5L1842.5 1286.5" stroke-width="1.1"/>
<path d="M1499.3 1205.5H1940.6Q1944.6 1205.5 1944.6 1209.5V1354.6Q1944.6 1358.6 1940.6 1358.6H1745.3V1288.2H1695.6V1358.6H1499.3Q1495.3 1358.6 1495.3 1354.6V1209.5Q1495.3 1205.5 1499.3 1205.5Z" stroke-width="1.0"/>
<path d="M1597.4 1356.7L1695.6 1356.7" stroke-width="1.2"/>
<path d="M1745.3 1356.7L1842.5 1356.7" stroke-width="1.2"/>
<path d="M1697.2 1288.2L1697.2 1356.7" stroke-width="1"/>
<path d="M1743.7 1288.2L1743.7 1356.7" stroke-width="1"/>
<path d="M1697.9 1350L1697.9 1290L1743 1290L1743 1350" stroke-width="1"/>
<path d="M1699.8 1342.5L1699.8 1291.8L1741.1 1291.8L1741.1 1342.5" stroke-width="1"/>
<path d="M1697.9 1342.5L1743 1342.5" stroke-width="1"/>
<path d="M1697.9 1346.5L1743 1346.5" stroke-width="1"/>
<path d="M1697.9 1350L1702 1350"/>
<path d="M1739 1350L1743 1350"/>
<circle cx="1719.4" cy="1300.6" r="6.4" stroke-width="1"/>
<circle cx="1719.4" cy="1300.6" r="4.4" stroke-width="1"/>
<path d="M1715 1306L1715.6 1317.5L1723.4 1317.5L1724 1306" stroke-width="1"/>
<path d="M1715.4 1312.3L1723.8 1312.3" stroke-width="1"/>
<path d="M1713.5 1318.2L1725.5 1318.2L1727.2 1320.5L1723.5 1326.5L1715.5 1326.5L1712 1320.5Z" fill="none" stroke="#000"/>
<path d="M1709.3 1320.6L1713.6 1320.6L1713.6 1325.6L1709.3 1325.6Z" stroke-width="1.6" fill="#000"/>
<path d="M1725.5 1321L1727.6 1321L1727.6 1324.2L1725.5 1324.2Z" stroke-width="1.4" fill="#000"/>
<path d="M1717.4 1324.6L1723.2 1324.6L1723.2 1327.6L1717.4 1327.6Z" stroke-width="1" fill="#000"/>
<path d="M1716.3 1327.5L1717.6 1337.8L1722.2 1337.8L1723.6 1327.5" stroke-width="1"/>
<path d="M1718.3 1338L1718.3 1343"/>
<path d="M1721.4 1338L1721.4 1343"/>
<circle cx="1734.2" cy="1333.6" r="6.9" stroke-width="1"/>
<path d="M1729.3 1328.7L1739.1 1338.5" stroke-width="1"/>
<path d="M1729.3 1338.5L1739.1 1328.7" stroke-width="1"/>
<path d="M1719.2 1089L1719.2 1429.5"/>
<path d="M1502.4 1349.1L1527.8 1249.6L1592.3 1213.2"/>
<path d="M1597.4 1280.2L1702.3 1228L1838.1 1212.7"/>
<path d="M1848.3 1214.2L1912.4 1249.6L1937.2 1349.1"/>
<path d="M1442.5 1207.5L1442.5 1356.7"/>
<path d="M1471.6 1207.5L1471.6 1360.5"/>
<path d="M1437.5 1207.5L1488 1207.5"/>
<path d="M1440.4 1205.4L1444.6 1209.6" stroke-width="2.3"/>
<path d="M1437.5 1356.7L1488 1356.7"/>
<path d="M1440.4 1354.6L1444.6 1358.8" stroke-width="2.3"/>
<path d="M1466.5 1286.5L1488 1286.5"/>
<path d="M1466.5 1348.1L1488 1348.1"/>
<path d="M1469.5 1205.4L1473.7 1209.6" stroke-width="2.3"/>
<path d="M1469.5 1284.4L1473.7 1288.6" stroke-width="2.3"/>
<path d="M1469.5 1346L1473.7 1350.2" stroke-width="2.3"/>
<path d="M1469.5 1354.6L1473.7 1358.8" stroke-width="2.3"/>
<path d="M1492.5 1381.6L1947.5 1381.6"/>
<path d="M1492.5 1411.6L1947.5 1411.6"/>
<path d="M1495.3 1368.2L1495.3 1416.6"/>
<path d="M1944.5 1368.2L1944.5 1416.6"/>
<path d="M1597.4 1368.2L1597.4 1386.5"/>
<path d="M1695.6 1368.2L1695.6 1386.5"/>
<path d="M1744.4 1368.2L1744.4 1386.5"/>
<path d="M1842.5 1368.2L1842.5 1386.5"/>
<path d="M1493.2 1383.7L1497.4 1379.5" stroke-width="2.3"/>
<path d="M1595.3 1383.7L1599.5 1379.5" stroke-width="2.3"/>
<path d="M1693.5 1383.7L1697.7 1379.5" stroke-width="2.3"/>
<path d="M1742.3 1383.7L1746.5 1379.5" stroke-width="2.3"/>
<path d="M1840.4 1383.7L1844.6 1379.5" stroke-width="2.3"/>
<path d="M1942.4 1383.7L1946.6 1379.5" stroke-width="2.3"/>
<path d="M1493.2 1413.7L1497.4 1409.5" stroke-width="2.3"/>
<path d="M1942.4 1413.7L1946.6 1409.5" stroke-width="2.3"/>
<path d="M1688.9 1272L1754 1272"/>
<path d="M1692.7 1267L1692.7 1277.5"/>
<path d="M1690.6 1273.8L1694.8 1270.2" stroke-width="2.6"/>
<path d="M1705.2 1267L1705.2 1277.5"/>
<path d="M1703.1 1273.8L1707.3 1270.2" stroke-width="2.6"/>
<path d="M1739.6 1267L1739.6 1277.5"/>
<path d="M1737.5 1273.8L1741.7 1270.2" stroke-width="2.6"/>
<path d="M1748.6 1267L1748.6 1277.5"/>
<path d="M1746.5 1273.8L1750.7 1270.2" stroke-width="2.6"/>
<path d="M1462.2 1179.4L1497 1206.2"/>
<path d="M1497.6 1206.7L1490 1203.4L1492.2 1200.6Z" fill="#000" stroke="none"/>
<circle cx="1519" cy="1205.2" r="2" fill="#000" stroke="none"/>
<path d="M1519 1205.2L1540.6 1183.6L1689.9 1183.6"/>
<circle cx="1732.5" cy="1210.2" r="2" fill="#000" stroke="none"/>
<path d="M1732.5 1210.2L1761.3 1179.4L1900 1179.4"/>
<circle cx="1938.8" cy="1211.3" r="2" fill="#000" stroke="none"/>
<path d="M1938.8 1211.3L1967.9 1181.3L2103.7 1181.3"/>
<circle cx="1725.8" cy="1321.9" r="1.6" fill="#000" stroke="none"/>
<path d="M1725.8 1321.9L1751.7 1295.5L2103.7 1295.5"/>
<circle cx="1743" cy="1344.7" r="1.8" fill="#000" stroke="none"/>
<path d="M1743 1344.7L1763.1 1323.2L2103.7 1323.2"/>
<circle cx="1728.3" cy="1344.7" r="1.8" fill="#000" stroke="none"/>
<path d="M1728.3 1344.7L1758.4 1374.3L2098.9 1374.3"/>
<circle cx="1594.4" cy="1473.3" r="28.8"/>
<path d="M1623.2 1473.3L1799.7 1473.3"/>
<path d="M328.6 1441.7L958.5 1441.7L958.5 1917.5L328.6 1917.5Z" stroke-dasharray="15 7.5"/>
<path d="M328.6 1493.5L631.6 1493.5" stroke-width="2.4"/>
<path d="M328.6 1495.3L329.6 1494.3M328.6 1500.6L335 1494.3M331.4 1503.1L340.4 1494.3M336.8 1503.1L345.8 1494.3M342.2 1503.1L351.2 1494.3M347.6 1503.1L356.6 1494.3M353 1503.1L362 1494.3M358.4 1503.1L367.4 1494.3M363.8 1503.1L372.8 1494.3M369.2 1503.1L378.2 1494.3M374.6 1503.1L383.6 1494.3M380 1503.1L389 1494.3M385.4 1503.1L394.4 1494.3M390.8 1503.1L399.8 1494.3M396.2 1503.1L405.2 1494.3M401.6 1503.1L410.6 1494.3M407 1503.1L416 1494.3M412.4 1503.1L421.4 1494.3M417.8 1503.1L426.8 1494.3M423.2 1503.1L432.2 1494.3M428.6 1503.1L437.6 1494.3M434 1503.1L443 1494.3M439.4 1503.1L448.4 1494.3M444.8 1503.1L453.8 1494.3M450.2 1503.1L459.2 1494.3M455.6 1503.1L464.6 1494.3M461 1503.1L470 1494.3M466.4 1503.1L475.4 1494.3M471.8 1503.1L480.8 1494.3M477.2 1503.1L486.2 1494.3M482.6 1503.1L491.6 1494.3M488 1503.1L497 1494.3M493.4 1503.1L502.4 1494.3M498.8 1503.1L507.8 1494.3M504.2 1503.1L513.2 1494.3M509.6 1503.1L518.6 1494.3M515 1503.1L524 1494.3M520.4 1503.1L529.4 1494.3M525.8 1503.1L534.8 1494.3M531.2 1503.1L540.2 1494.3M536.6 1503.1L545.6 1494.3M542 1503.1L551 1494.3M547.4 1503.1L556.4 1494.3M552.8 1503.1L561.8 1494.3M558.2 1503.1L567.2 1494.3M563.6 1503.1L572.6 1494.3M569 1503.1L578 1494.3M574.4 1503.1L583.4 1494.3M579.8 1503.1L588.8 1494.3M585.2 1503.1L594.2 1494.3M590.6 1503.1L599.6 1494.3M596 1503.1L605 1494.3M601.4 1503.1L610.4 1494.3M606.8 1503.1L615.8 1494.3M612.2 1503.1L621.2 1494.3M617.6 1503.1L626.6 1494.3M623 1503.1L631.6 1494.7M628.4 1503.1L631.6 1500" stroke-width="0.9"/>
<path d="M328.6 1493.5L339 1493.5L333.2 1503.1Z" fill="#000" stroke="none"/>
<path d="M349.1 1493.5L360.7 1493.5L354.9 1503.1Z" fill="#000" stroke="none"/>
<path d="M370.8 1493.5L382.4 1493.5L376.6 1503.1Z" fill="#000" stroke="none"/>
<path d="M392.4 1493.5L404 1493.5L398.2 1503.1Z" fill="#000" stroke="none"/>
<path d="M414.1 1493.5L425.7 1493.5L419.9 1503.1Z" fill="#000" stroke="none"/>
<path d="M435.8 1493.5L447.4 1493.5L441.6 1503.1Z" fill="#000" stroke="none"/>
<path d="M457.5 1493.5L469.1 1493.5L463.3 1503.1Z" fill="#000" stroke="none"/>
<path d="M479.2 1493.5L490.8 1493.5L485 1503.1Z" fill="#000" stroke="none"/>
<path d="M500.8 1493.5L512.4 1493.5L506.6 1503.1Z" fill="#000" stroke="none"/>
<path d="M522.5 1493.5L534.1 1493.5L528.3 1503.1Z" fill="#000" stroke="none"/>
<path d="M544.2 1493.5L555.8 1493.5L550 1503.1Z" fill="#000" stroke="none"/>
<path d="M565.9 1493.5L577.5 1493.5L571.7 1503.1Z" fill="#000" stroke="none"/>
<path d="M587.6 1493.5L599.2 1493.5L593.4 1503.1Z" fill="#000" stroke="none"/>
<path d="M609.2 1493.5L620.8 1493.5L615 1503.1Z" fill="#000" stroke="none"/>
<path d="M709.2 1493.5L958.5 1493.5" stroke-width="2.4"/>
<path d="M709.2 1495.3L710.2 1494.3M709.2 1500.6L715.6 1494.3M712 1503.1L721 1494.3M717.4 1503.1L726.4 1494.3M722.8 1503.1L731.8 1494.3M728.2 1503.1L737.2 1494.3M733.6 1503.1L742.6 1494.3M739 1503.1L748 1494.3M744.4 1503.1L753.4 1494.3M749.8 1503.1L758.8 1494.3M755.2 1503.1L764.2 1494.3M760.6 1503.1L769.6 1494.3M766 1503.1L775 1494.3M771.4 1503.1L780.4 1494.3M776.8 1503.1L785.8 1494.3M782.2 1503.1L791.2 1494.3M787.6 1503.1L796.6 1494.3M793 1503.1L802 1494.3M798.4 1503.1L807.4 1494.3M803.8 1503.1L812.8 1494.3M809.2 1503.1L818.2 1494.3M814.6 1503.1L823.6 1494.3M820 1503.1L829 1494.3M825.4 1503.1L834.4 1494.3M830.8 1503.1L839.8 1494.3M836.2 1503.1L845.2 1494.3M841.6 1503.1L850.6 1494.3M847 1503.1L856 1494.3M852.4 1503.1L861.4 1494.3M857.8 1503.1L866.8 1494.3M863.2 1503.1L872.2 1494.3M868.6 1503.1L877.6 1494.3M874 1503.1L883 1494.3M879.4 1503.1L888.4 1494.3M884.8 1503.1L893.8 1494.3M890.2 1503.1L899.2 1494.3M895.6 1503.1L904.6 1494.3M901 1503.1L910 1494.3M906.4 1503.1L915.4 1494.3M911.8 1503.1L920.8 1494.3M917.2 1503.1L926.2 1494.3M922.6 1503.1L931.6 1494.3M928 1503.1L937 1494.3M933.4 1503.1L942.4 1494.3M938.8 1503.1L947.8 1494.3M944.2 1503.1L953.2 1494.3M949.6 1503.1L958.5 1494.4M955 1503.1L958.5 1499.7" stroke-width="0.9"/>
<path d="M709.6 1493.5L721.2 1493.5L715.4 1503.1Z" fill="#000" stroke="none"/>
<path d="M731.3 1493.5L742.9 1493.5L737.1 1503.1Z" fill="#000" stroke="none"/>
<path d="M753 1493.5L764.6 1493.5L758.8 1503.1Z" fill="#000" stroke="none"/>
<path d="M774.6 1493.5L786.2 1493.5L780.4 1503.1Z" fill="#000" stroke="none"/>
<path d="M796.3 1493.5L807.9 1493.5L802.1 1503.1Z" fill="#000" stroke="none"/>
<path d="M818 1493.5L829.6 1493.5L823.8 1503.1Z" fill="#000" stroke="none"/>
<path d="M839.7 1493.5L851.3 1493.5L845.5 1503.1Z" fill="#000" stroke="none"/>
<path d="M861.4 1493.5L873 1493.5L867.2 1503.1Z" fill="#000" stroke="none"/>
<path d="M883 1493.5L894.6 1493.5L888.8 1503.1Z" fill="#000" stroke="none"/>
<path d="M904.7 1493.5L916.3 1493.5L910.5 1503.1Z" fill="#000" stroke="none"/>
<path d="M926.4 1493.5L938 1493.5L932.2 1503.1Z" fill="#000" stroke="none"/>
<path d="M948.1 1493.5L958.5 1493.5L953.9 1503.1Z" fill="#000" stroke="none"/>
<path d="M690.3 1441.7L615.1 1510.6" stroke-width="0.9"/>
<path d="M692.5 1441.7L617.3 1510.6" stroke-width="0.9"/>
<path d="M766.8 1441.7L686.5 1510.6" stroke-width="0.9"/>
<path d="M769 1441.7L688.7 1510.6" stroke-width="0.9"/>
<path d="M709.4 1493L733.7 1470.5" stroke-width="2"/>
<path d="M566.6 1513.6L569.6 1510.6M566.6 1537.3L593.3 1510.6M566.6 1561.1L617.1 1510.6M566.6 1584.9L640.9 1510.6M566.6 1608.6L664.6 1510.6M566.6 1632.4L688.4 1510.6M566.6 1656.1L712.1 1510.6M566.6 1679.9L732.4 1514.1M566.6 1703.7L732.4 1537.9M567.9 1726.1L732.4 1561.6M591.7 1726.1L732.4 1585.4M615.4 1726.1L732.4 1609.1M639.2 1726.1L732.4 1632.9M663 1726.1L732.4 1656.7M686.7 1726.1L732.4 1680.4M710.5 1726.1L732.4 1704.2M383.4 1744.3L401.6 1726.1M383.4 1768.1L425.4 1726.1M383.4 1791.8L449.1 1726.1M383.4 1815.6L472.9 1726.1M396.4 1826.3L496.6 1726.1M420.2 1826.3L520.4 1726.1M444 1826.3L544.2 1726.1M467.7 1826.3L567.9 1726.1M491.5 1826.3L591.7 1726.1M515.2 1826.3L615.4 1726.1M539 1826.3L639.2 1726.1M562.8 1826.3L663 1726.1M586.5 1826.3L686.7 1726.1M610.3 1826.3L710.5 1726.1M634 1826.3L734.2 1726.1M657.8 1826.3L758 1726.1M681.6 1826.3L781.8 1726.1M705.3 1826.3L805.5 1726.1M729.1 1826.3L829.3 1726.1M752.8 1826.3L853 1726.1M776.6 1826.3L876.8 1726.1M800.4 1826.3L900.6 1726.1M824.1 1826.3L915.6 1734.8M847.9 1826.3L915.6 1758.6M871.6 1826.3L915.6 1782.3M895.4 1826.3L915.6 1806.1" stroke-width="1"/>
<path d="M566.6 1510.6L732.4 1510.6L732.4 1726.1L915.6 1726.1L915.6 1826.3L383.4 1826.3L383.4 1726.1L566.6 1726.1Z" stroke-width="1.2"/>
<path d="M624.5 1547L619.7 1547.6L620.6 1542.8ZM582.3 1530.9L582.9 1536L579 1533.7ZM724.5 1527.8L721.9 1521.4L727.8 1523.5ZM674.3 1592.5L668.9 1593.7L670.7 1589ZM640.6 1573.5L645.4 1578.2L639.5 1579.6ZM724.8 1536.5L727.8 1540.7L722.8 1540.2ZM706.2 1578L711.8 1579.1L708.6 1582.8ZM583.2 1659.6L578.9 1662.8L577.8 1657.6ZM596.9 1537L598.7 1540.3L595.6 1539.7ZM659.2 1695.2L658.7 1701.3L654.2 1698ZM596.1 1563.3L598.7 1560.6L599.9 1564.6ZM719.1 1656.6L723.8 1657.5L719.8 1660.5ZM630.8 1596.3L634.4 1596.6L632.1 1599.4ZM569.8 1547.2L570.1 1544.3L572.6 1546.2ZM631.6 1539.9L627.3 1543.5L625.9 1537.4ZM703.2 1547.2L701 1549.9L700 1546.5ZM705.7 1660.5L706.2 1656.8L709.1 1659.2ZM700.5 1715.9L701.3 1721.7L695.3 1720.5ZM574.8 1570.4L577.1 1573.6L573.1 1574.5ZM605.9 1563.9L603.4 1561.2L607 1560.4ZM585.2 1648.1L587.1 1654.5L580.7 1652.2ZM726.5 1595.4L724 1599.3L722.4 1594.7ZM591.3 1682.9L597.3 1684.8L591.1 1689.3ZM655.9 1706.1L654.8 1710.8L651 1707.6ZM613.2 1600.4L611.5 1603.6L609.7 1600.2ZM652.6 1624.7L648.8 1626.9L648.1 1622.4ZM682.6 1629.4L686 1628.2L686.3 1632.2ZM693.3 1617L694.8 1621.6L689.8 1620.9ZM644.6 1624.9L640.9 1628L639.9 1623ZM701.5 1544.1L703 1541.1L704.5 1544.7ZM596.3 1666.1L592 1662.8L595.9 1660.3ZM724.9 1688.4L726.6 1685.2L728.4 1688ZM657 1607.6L656.7 1604.2L659.8 1606.5ZM587.2 1567.8L588.6 1571.2L585.3 1570.6Z" stroke-width="0.9"/>
<path d="M592.8 1707h0.9M660.9 1660.7h0.9M583.1 1524.8h0.9M680 1602.6h0.9M580.3 1711.1h0.9M671.3 1682.1h0.9M582.1 1693.7h0.9M579.4 1695.1h0.9M642 1584.3h0.9M658.1 1708.6h0.9M611.9 1539.9h0.9M653.9 1563h0.9M586.3 1546.7h0.9M576.8 1555.3h0.9M619.1 1577.1h0.9M691.5 1573.9h0.9M649.5 1550.2h0.9M624.7 1516.4h0.9M609.1 1515.8h0.9M687.2 1629.1h0.9M599.3 1613h0.9M719.8 1535.1h0.9M701.1 1604h0.9M648.7 1689.1h0.9M632.2 1619.8h0.9M679.9 1720.4h0.9M624 1688.6h0.9M682.9 1647.1h0.9M634.1 1586.1h0.9M577.4 1540.1h0.9M580 1669.3h0.9M610 1547.1h0.9M582.3 1690.5h0.9M709.5 1654.4h0.9M614.2 1563.8h0.9M616 1609.8h0.9M594.1 1606.9h0.9M611.2 1716h0.9M726 1628.3h0.9M608.2 1716.8h0.9M618.7 1588h0.9M568.8 1593.3h0.9M645.4 1618.9h0.9M601.1 1619.4h0.9M569.4 1568.5h0.9M583.1 1597.1h0.9M575.3 1517.4h0.9M617.8 1561.8h0.9M663.3 1624.5h0.9M690 1651.7h0.9M684.4 1698.5h0.9M631.6 1581.6h0.9M727.9 1544.2h0.9M685.8 1648.6h0.9M575.7 1689.3h0.9M712.9 1645.3h0.9M687.3 1684.4h0.9M591.1 1623.4h0.9M650.2 1689.2h0.9M698.8 1687.4h0.9M663.1 1701.4h0.9M679.1 1659.2h0.9M605.8 1519.2h0.9M590.1 1588.9h0.9M585.6 1689.4h0.9M659 1645.4h0.9M669.9 1656.6h0.9M647.8 1513.3h0.9M697.7 1670.9h0.9M650 1625.8h0.9M675.3 1526.6h0.9M687.8 1565.9h0.9M580.6 1568.8h0.9M686.6 1556h0.9M688.3 1719h0.9M648.5 1593.5h0.9M646.1 1657.2h0.9M692.7 1643.1h0.9M672.6 1529h0.9M592.5 1566.3h0.9M688.9 1577h0.9M660.5 1515.2h0.9M578.4 1569.4h0.9M677.3 1659h0.9M677.9 1574.1h0.9M652.2 1610.9h0.9M644.1 1537.7h0.9M713.2 1554.7h0.9M726.9 1710.6h0.9M571.4 1609.7h0.9M701.3 1717.4h0.9M641.3 1569.4h0.9M602.6 1712.6h0.9M602.7 1635.6h0.9M591.5 1623.4h0.9M722.8 1540.6h0.9M701.3 1620.2h0.9M712.1 1661.4h0.9M606 1702.5h0.9M647.3 1517.9h0.9M569.2 1616.6h0.9M641.5 1576.5h0.9M591.4 1585.3h0.9M619.7 1690.3h0.9M568.9 1671.4h0.9M704.4 1538h0.9M718.5 1663.4h0.9M714.5 1573.9h0.9M628.8 1595.7h0.9M730.2 1637.2h0.9M627 1603.1h0.9M613.1 1522.8h0.9M585.1 1689.1h0.9M614.8 1710.5h0.9M608.9 1568.8h0.9M651.3 1552.8h0.9M629 1714.8h0.9M711.7 1684.3h0.9M670.7 1705.8h0.9M720.8 1628.8h0.9M685 1523.1h0.9M687.1 1608h0.9M690.4 1648.9h0.9M614.9 1523h0.9M718.6 1539.5h0.9M645 1585.3h0.9M616.8 1668.9h0.9M726.6 1567.6h0.9M674.7 1576.2h0.9M658.8 1596h0.9M595.7 1546.8h0.9M602.2 1704.2h0.9M649 1559.1h0.9M715.2 1723.4h0.9M641.4 1542.1h0.9M599.7 1531.8h0.9M623.9 1531.9h0.9M607.3 1567.2h0.9M660.8 1700.3h0.9M689.9 1599.9h0.9M635.6 1623.5h0.9M629.6 1584.1h0.9M578.6 1571.3h0.9M725.2 1539.2h0.9M650 1645.8h0.9M708.2 1558.3h0.9M612.5 1565.1h0.9M633.3 1606.9h0.9M722.9 1692.1h0.9M709.8 1517.2h0.9" stroke-width="1.0"/>
<path d="M400.7 1797.1L405.3 1792.6L406 1798.7ZM898.2 1754.8L895.1 1752.9L898.1 1751.3ZM627.2 1779.3L628.4 1782L625.5 1781.8ZM722.8 1795.5L719.4 1795.9L720.9 1792.6ZM543.9 1769.7L549 1771.5L543.2 1775.8ZM547.1 1729.8L551.3 1732.9L547.4 1734.8ZM565.1 1772L561.5 1768.8L567.3 1766.3ZM817.1 1749.3L819.1 1752.3L815.4 1752.5ZM734.8 1818.4L735.4 1815.7L738.2 1818.2ZM861.4 1811.2L857.2 1813.9L857 1809.3ZM734.9 1767.5L734.1 1762.9L738.2 1764.4ZM894.4 1746.9L894.8 1751.3L890.4 1748.8ZM492.1 1765L485.8 1766.9L486.5 1760.7ZM872.1 1751.5L869.2 1757.1L866.5 1752.1ZM553.8 1753.7L554.5 1756L551.9 1756.4ZM889 1820.6L887.1 1817.2L891.4 1817.1ZM817.6 1804.1L817.5 1799.3L821.6 1801.7ZM515.2 1735L518.7 1735.3L517.7 1737.8ZM435.1 1777.3L438.8 1773L440 1778.6ZM734.6 1744.7L733.6 1739.3L738.9 1739.9ZM466.6 1813.7L466.2 1809.4L470.7 1811.8ZM908.5 1737.4L909 1741.6L904.3 1740.3ZM894.4 1786.6L895.9 1780.2L900.6 1783.9ZM698.8 1789.1L698.9 1785.1L702 1787.4ZM394.9 1762.9L390.3 1759.8L394.5 1757.4ZM597.5 1782.8L592 1782.6L594.4 1777.9ZM548.7 1782.9L550.9 1779.9L553.1 1783.2ZM391.5 1811.2L392 1815.1L388 1813.4ZM721.7 1812.6L725 1813.2L722.7 1815.7ZM447.6 1773.9L442.6 1778.1L442.1 1773.5ZM870.8 1764L876.5 1764.3L872.3 1769.1ZM820.2 1748.4L821.3 1744.8L824 1748.3ZM411.9 1782L406.5 1784.3L408.3 1778.9ZM606.1 1781.6L610.1 1783.9L606.4 1786.3ZM788.9 1804.1L785 1801.9L788.6 1799.7ZM657.3 1735.8L652.2 1736.1L654.8 1730.8ZM889.3 1743.2L884.8 1745.1L884 1739.3ZM870.2 1743.6L866.8 1748.7L865.3 1743.8ZM817.1 1741.6L814.9 1746.1L812.2 1742.4ZM474 1815L473.1 1819.6L469.1 1815.5ZM846.7 1780L845.4 1784.1L842.4 1780.8ZM906.8 1780.8L908.4 1784.2L904.2 1784.7ZM720.7 1818.9L725.3 1820.1L720.9 1823.5ZM656.3 1814.5L654.1 1812.1L657.4 1811.3ZM505.6 1786.7L502 1782.5L506.6 1781.4ZM438.1 1785.4L440.8 1791.5L434.2 1790.4ZM724.9 1767.4L729.5 1772.6L723 1773.6ZM416.5 1801.7L419.1 1800.8L418.4 1803.7ZM813.7 1748.3L812.5 1744.2L815.9 1746.2ZM775.1 1774.7L778.2 1769.7L780.6 1775.6ZM751.4 1811.3L749.5 1806.1L754.5 1807ZM896.9 1749.9L890.9 1752.4L892.3 1747Z" stroke-width="0.9"/>
<path d="M850.3 1759.7h0.9M511.7 1815.4h0.9M718.5 1794.8h0.9M736.8 1822.3h0.9M633.4 1808.9h0.9M753.9 1810.6h0.9M616.3 1797.8h0.9M686.7 1757.7h0.9M497.4 1788h0.9M426.5 1815.7h0.9M461.8 1730.7h0.9M441.7 1817.5h0.9M567.6 1741.7h0.9M400.6 1732.1h0.9M751.2 1789.1h0.9M753.6 1799h0.9M420.1 1784.9h0.9M577.4 1806.7h0.9M818.3 1813.8h0.9M420.2 1811.6h0.9M868.4 1818.9h0.9M442 1747.9h0.9M444.5 1731.4h0.9M833.2 1806.2h0.9M720.4 1807.5h0.9M719 1755.7h0.9M438.2 1737.5h0.9M785.4 1747.8h0.9M554 1768.9h0.9M396.4 1752.8h0.9M534.7 1797h0.9M579.8 1759h0.9M894.6 1776.6h0.9M835.1 1787.6h0.9M401.8 1767.8h0.9M615.9 1802.5h0.9M568.6 1795.9h0.9M669.5 1748.9h0.9M840.8 1736.8h0.9M818.4 1744.5h0.9M386.1 1747.5h0.9M788 1822.2h0.9M387.7 1775.3h0.9M645 1804.7h0.9M482.9 1775.7h0.9M568.8 1808.1h0.9M523 1818.9h0.9M535.3 1748.8h0.9M754.9 1776h0.9M443.5 1789.3h0.9M428.1 1803.9h0.9M753.6 1803.8h0.9M717.1 1762.3h0.9M597.4 1766.1h0.9M855.7 1736.4h0.9M854.7 1730.5h0.9M494.3 1753.4h0.9M861.4 1776.3h0.9M585.7 1813.1h0.9M508.8 1772.4h0.9M666.2 1800.7h0.9M783.1 1790.3h0.9M569.5 1759.5h0.9M467.4 1809.2h0.9M735.1 1799.5h0.9M475 1770.3h0.9M793.9 1783.8h0.9M452 1772.5h0.9M852.9 1751h0.9M486.6 1757.1h0.9M756.8 1809.3h0.9M467.1 1743.1h0.9M516.2 1759.5h0.9M661.2 1743.6h0.9M558.7 1746.3h0.9M900.5 1798.2h0.9M439.2 1820.7h0.9M439.1 1765.1h0.9M905.1 1804.6h0.9M772.7 1769.9h0.9M489 1789.5h0.9M441.8 1748h0.9M590.5 1731.4h0.9M596.2 1804.2h0.9M751.7 1776.2h0.9M719.4 1772.7h0.9M460.3 1786.2h0.9M599.2 1799.4h0.9M865 1769.5h0.9M688.6 1800.2h0.9M607.9 1750.1h0.9M766.9 1812.8h0.9M794.3 1795.4h0.9M835.7 1793.5h0.9M724.3 1771.8h0.9M550.7 1788.5h0.9M437.1 1768.5h0.9M798.7 1796.7h0.9M718 1752.2h0.9M609.1 1771.9h0.9M713.7 1767.5h0.9M742.1 1817.6h0.9M482.1 1791.1h0.9M796.4 1765.5h0.9M644.1 1821.9h0.9M405.5 1780.4h0.9M470.4 1803.3h0.9M882.2 1778h0.9M438.8 1783.4h0.9M671.2 1797.1h0.9M655.9 1789.6h0.9M823.3 1778.3h0.9M602.1 1819.3h0.9M496.4 1793.9h0.9M592.7 1801.5h0.9M450 1822.8h0.9M573.2 1733.5h0.9M530.3 1766.5h0.9M392.4 1768.4h0.9M607.5 1795.3h0.9M571.4 1753.6h0.9M503.9 1799.4h0.9M881.9 1778.8h0.9M501 1805.2h0.9M592.4 1748.5h0.9M453.7 1802.8h0.9M813 1789.1h0.9M633.2 1782.2h0.9M504.8 1820.8h0.9M571.9 1789.6h0.9M817.9 1806.6h0.9M632.7 1756.4h0.9M675 1740.1h0.9M825.8 1762.2h0.9M834.7 1753.8h0.9M584.1 1752.5h0.9M610.5 1746h0.9M386.8 1797.5h0.9M533.9 1751.7h0.9M544.8 1774.2h0.9M611.7 1789.4h0.9M733.6 1763h0.9M876 1810.3h0.9M415.5 1807.7h0.9M863.8 1803.5h0.9M459.6 1808.1h0.9M719.8 1729.5h0.9M391.5 1819.7h0.9M731.9 1752.2h0.9M439 1741.8h0.9M508.8 1802.8h0.9M568.4 1742.8h0.9M862.9 1804.3h0.9M474.1 1813.8h0.9M706.7 1803.3h0.9M738.5 1814.1h0.9M801.7 1808.8h0.9M489.7 1794.7h0.9M665.8 1799.5h0.9M617.1 1813h0.9M678.6 1753.5h0.9M509.1 1741.5h0.9M645.8 1733.7h0.9M632.1 1742h0.9M644.9 1776h0.9M670.4 1811.1h0.9M388.9 1809h0.9M632.6 1782.2h0.9M736.8 1809h0.9M583.5 1768.4h0.9M892.8 1735.4h0.9M721.9 1789.3h0.9M400.5 1786.8h0.9M745.9 1817.7h0.9M559.9 1822.5h0.9M655.1 1774.7h0.9M859.5 1731.4h0.9M764.7 1788.3h0.9M564.3 1811h0.9M578.8 1773.8h0.9M663 1802.2h0.9M496.7 1770h0.9M608.5 1781.4h0.9M822.1 1756.3h0.9M822.6 1766.9h0.9M651.5 1754.2h0.9M652.9 1821.9h0.9M731.1 1804.3h0.9M560.2 1758.6h0.9M543.4 1784.5h0.9M720.7 1803.5h0.9M406.6 1797.6h0.9M853.2 1780.6h0.9M411.7 1757h0.9M388.7 1746.4h0.9M872.1 1786.7h0.9M733 1804h0.9M866 1786.9h0.9M711.1 1788.4h0.9M753.2 1785.5h0.9M745.1 1748.5h0.9M737.7 1772.1h0.9M788.2 1737.9h0.9M481.2 1731.7h0.9M794.5 1816h0.9M731.7 1763.6h0.9M819.9 1803.8h0.9M682.3 1752.9h0.9M544.9 1768.7h0.9M553.6 1769.5h0.9M724.4 1817.9h0.9M414.2 1782.7h0.9M406.2 1739.5h0.9M813.4 1783.4h0.9M870.6 1771.1h0.9M392.9 1765.3h0.9M698.1 1818.3h0.9M903.5 1773.8h0.9M603.2 1737.9h0.9M725.8 1748.5h0.9M465.6 1729.6h0.9M387.9 1793.9h0.9M449.7 1821.1h0.9M432 1811.8h0.9M453.5 1729.8h0.9M765.4 1751.4h0.9M772.9 1746.1h0.9M411.9 1802.6h0.9M762.3 1810.4h0.9M770.8 1736.2h0.9" stroke-width="1.0"/>
<path d="M349.2 1826.3L948.7 1826.3L948.7 1859L349.2 1859Z" stroke-width="1.2"/>
<path d="M727.6 1847.4L724.4 1850.8L722.2 1845.8ZM835.8 1829.5L839.2 1832.6L834.6 1833.9ZM613.2 1844.7L614.2 1848.7L610.4 1847.2ZM912.1 1852.4L910.1 1847L915.1 1849.1ZM930.3 1853.5L929.1 1848.1L934.6 1851.1ZM830.7 1839.5L829.3 1835.7L832.5 1836.8ZM832.2 1854.8L831.1 1849.1L836.2 1849.8ZM681.4 1847.5L682.8 1851.5L678.5 1851.6ZM500.7 1849.1L505.4 1845.2L506.3 1852ZM873.9 1842.1L879.1 1842.1L876.9 1846.2ZM593.3 1843.6L589.9 1844.6L591.1 1840.9ZM709.6 1840.1L704.1 1841.3L705.4 1836.1ZM815.2 1837.2L817.6 1842.2L810.9 1843.1ZM404.8 1829.9L402.8 1834.3L399.6 1831ZM421.8 1852.3L426.4 1852.3L424.5 1856.5ZM927 1855.2L922.3 1856.2L924.2 1852.6ZM821.5 1846.8L816.5 1850.4L816.7 1845.3ZM702.3 1851.3L701.7 1847.3L705.4 1848.4ZM756.1 1834.1L750.5 1829.1L756.8 1828.5ZM438.2 1840.5L435.8 1843.7L434.2 1840Z" stroke-width="0.9"/>
<path d="M725.3 1832.4h0.9M483.2 1829.9h0.9M776.2 1844.2h0.9M437.4 1853.3h0.9M509.8 1840.1h0.9M443.9 1836.1h0.9M851.2 1837.9h0.9M451.1 1842.4h0.9M540.6 1854.2h0.9M419.2 1856.4h0.9M385.1 1854h0.9M749.2 1834.4h0.9M635.5 1836.5h0.9M504.7 1834.1h0.9M568.1 1856.7h0.9M945.6 1854.8h0.9M409.3 1836.6h0.9M884.9 1829.9h0.9M783.8 1836.7h0.9M934 1828.8h0.9M831.8 1838.1h0.9M434.7 1828.4h0.9M846.8 1843.4h0.9M461.9 1840.8h0.9M894.3 1834.6h0.9M691.4 1832.3h0.9M458.5 1850.4h0.9M775 1833.9h0.9M398.4 1830.8h0.9M713.6 1842.5h0.9M514.3 1834.2h0.9M715.9 1848.6h0.9M834.5 1845h0.9M471.7 1830.2h0.9M787.5 1840h0.9M780.9 1829.9h0.9M833.9 1837.9h0.9M852.6 1853.1h0.9M644.8 1828.7h0.9M893.2 1842h0.9M870.5 1835.9h0.9M462 1852.2h0.9M569.8 1833h0.9M572.2 1845.4h0.9M354 1843.2h0.9M616.7 1843.1h0.9M423.1 1848.8h0.9M837.4 1853.1h0.9M542.3 1848.7h0.9M578.3 1849.9h0.9M387.6 1853.3h0.9M919.3 1842.5h0.9M656.9 1843.5h0.9M671.2 1828.9h0.9M927.3 1834.7h0.9M459.8 1831.2h0.9M500.3 1851.8h0.9M369.1 1831.1h0.9M767.4 1833.9h0.9M361.7 1845.5h0.9M694.5 1843.3h0.9M769.6 1831.3h0.9M869 1848.9h0.9M378.1 1831.8h0.9M645.1 1842.7h0.9M517.7 1831.8h0.9M592.8 1832.2h0.9M703.6 1853h0.9M438.9 1844.7h0.9M795.8 1833h0.9M843.1 1855.2h0.9M582.7 1840.4h0.9M851.3 1843.4h0.9M586.8 1855.3h0.9M813.8 1838h0.9M494.3 1837.9h0.9M610.6 1856.5h0.9M830.2 1854.5h0.9M836.6 1852.6h0.9M383.1 1843.1h0.9M921.6 1855.1h0.9M499.6 1840.4h0.9M728 1838.8h0.9M667.3 1830.3h0.9M609.1 1842.8h0.9M363.6 1832.3h0.9M928.7 1850.6h0.9M909.1 1846.5h0.9M833.1 1853.7h0.9M878 1829.3h0.9M733.3 1835.9h0.9M755.2 1836.1h0.9M674.1 1854.8h0.9M721.2 1835.5h0.9M661 1840.7h0.9M917.4 1836.6h0.9M533.1 1846.9h0.9M422.9 1845.4h0.9M920.5 1843h0.9M511 1841.7h0.9M669.1 1832.6h0.9M425 1832.1h0.9M526 1840h0.9M522.9 1835.3h0.9M403.5 1844h0.9M851.3 1845.8h0.9M690.7 1847h0.9M471 1848.7h0.9M625.7 1844h0.9M716.1 1841.8h0.9M536.1 1835.3h0.9M483.2 1843h0.9M579.4 1845.1h0.9M358.3 1838.4h0.9M864.4 1835.1h0.9M682.7 1842.4h0.9M520.8 1856.6h0.9M527.2 1850.5h0.9M445.6 1830.2h0.9M870 1840.9h0.9M388.1 1839.4h0.9M613.2 1849.4h0.9M416.3 1834.8h0.9M922.5 1849.5h0.9M443.2 1838h0.9M561.1 1847.7h0.9M718.2 1852.7h0.9M840.2 1843.2h0.9M791.1 1849.6h0.9M803.6 1841.9h0.9M818.6 1848.6h0.9M895.9 1832h0.9M869.8 1828.4h0.9M807.2 1845.1h0.9M647.7 1855.9h0.9M691.8 1840.3h0.9M817.9 1853.3h0.9M712.9 1839.2h0.9M620.5 1841.4h0.9M781.8 1836.7h0.9M583.9 1844.2h0.9M580.2 1837.5h0.9M819.9 1852.7h0.9M648.7 1841h0.9M460.9 1837h0.9M437.5 1844.8h0.9M697.5 1830.8h0.9M899.2 1837.6h0.9M853.4 1852.4h0.9M922.1 1834.2h0.9M605.1 1854.4h0.9M357.6 1829.7h0.9M687.6 1842.6h0.9M899.2 1850.5h0.9M671.9 1857h0.9M659.3 1843.1h0.9M759.3 1839.5h0.9M564.2 1845.4h0.9M560.3 1855.5h0.9M754 1843.4h0.9M410.1 1839h0.9M589.9 1844.4h0.9M693 1853.6h0.9M925.5 1842.3h0.9M613.3 1846.2h0.9M944.4 1838.2h0.9M666.9 1851.7h0.9M452.9 1837.4h0.9M933.9 1852h0.9M656.4 1831.5h0.9M883.9 1848.1h0.9M839.8 1856.7h0.9M880.1 1840.4h0.9M444.3 1836.6h0.9M655.9 1842.8h0.9M463.2 1833.5h0.9M726.4 1845.6h0.9M561.5 1856.8h0.9M730.2 1829.5h0.9M596.2 1850.9h0.9M533.9 1848.1h0.9M353.5 1837h0.9M852.7 1845.1h0.9M749.1 1833.9h0.9M647.7 1844.2h0.9M509.6 1846.9h0.9M667.7 1856.9h0.9M693.3 1840.1h0.9M423.6 1832.8h0.9M803.5 1831.4h0.9" stroke-width="1.0"/>
<path d="M349.5 1870.6L360 1860M354.1 1870.6L364.6 1860M358.6 1870.6L369.1 1860M364.7 1862.5L369.7 1867.5M369.2 1865.1L374.2 1868.5M373.8 1867.7L378.8 1869.5M376.8 1870.6L387.3 1860M381.4 1870.6L391.9 1860M385.9 1870.6L396.4 1860M392 1862.5L397 1867.5M396.5 1865.1L401.5 1868.5M401.1 1867.7L406.1 1869.5M404.1 1870.6L414.6 1860M408.7 1870.6L419.2 1860M413.2 1870.6L423.7 1860M419.3 1862.5L424.3 1867.5M423.8 1865.1L428.8 1868.5M428.4 1867.7L433.4 1869.5M431.4 1870.6L441.9 1860M436 1870.6L446.5 1860M440.5 1870.6L451 1860M446.6 1862.5L451.6 1867.5M451.1 1865.1L456.1 1868.5M455.7 1867.7L460.7 1869.5M458.7 1870.6L469.2 1860M463.3 1870.6L473.8 1860M467.8 1870.6L478.3 1860M473.9 1862.5L478.9 1867.5M478.4 1865.1L483.4 1868.5M483 1867.7L488 1869.5M486 1870.6L496.5 1860M490.6 1870.6L501.1 1860M495.1 1870.6L505.6 1860M501.2 1862.5L506.2 1867.5M505.7 1865.1L510.7 1868.5M510.3 1867.7L515.3 1869.5M513.3 1870.6L523.8 1860M517.9 1870.6L528.4 1860M522.4 1870.6L532.9 1860M528.5 1862.5L533.5 1867.5M533 1865.1L538 1868.5M537.6 1867.7L542.6 1869.5M540.6 1870.6L551.1 1860M545.2 1870.6L555.7 1860M549.7 1870.6L560.2 1860M555.8 1862.5L560.8 1867.5M560.3 1865.1L565.3 1868.5M564.8 1867.7L569.8 1869.5M567.9 1870.6L578.4 1860M572.4 1870.6L582.9 1860M577 1870.6L587.5 1860M583 1862.5L588 1867.5M587.6 1865.1L592.6 1868.5M592.1 1867.7L597.1 1869.5M595.2 1870.6L605.7 1860M599.7 1870.6L610.2 1860M604.3 1870.6L614.8 1860M610.3 1862.5L615.3 1867.5M614.9 1865.1L619.9 1868.5M619.4 1867.7L624.4 1869.5M622.5 1870.6L633 1860M627 1870.6L637.5 1860M631.6 1870.6L642.1 1860M637.6 1862.5L642.6 1867.5M642.2 1865.1L647.2 1868.5M646.7 1867.7L651.7 1869.5M649.8 1870.6L660.3 1860M654.3 1870.6L664.8 1860M658.9 1870.6L669.4 1860M664.9 1862.5L669.9 1867.5M669.5 1865.1L674.5 1868.5M674 1867.7L679 1869.5M677.1 1870.6L687.6 1860M681.6 1870.6L692.1 1860M686.2 1870.6L696.7 1860M692.2 1862.5L697.2 1867.5M696.8 1865.1L701.8 1868.5M701.3 1867.7L706.3 1869.5M704.4 1870.6L714.9 1860M708.9 1870.6L719.4 1860M713.5 1870.6L724 1860M719.5 1862.5L724.5 1867.5M724.1 1865.1L729.1 1868.5M728.6 1867.7L733.6 1869.5M731.7 1870.6L742.2 1860M736.2 1870.6L746.7 1860M740.8 1870.6L751.3 1860M746.8 1862.5L751.8 1867.5M751.4 1865.1L756.4 1868.5M755.9 1867.7L760.9 1869.5M759 1870.6L769.5 1860M763.5 1870.6L774 1860M768.1 1870.6L778.6 1860M774.1 1862.5L779.1 1867.5M778.7 1865.1L783.7 1868.5M783.2 1867.7L788.2 1869.5M786.3 1870.6L796.8 1860M790.8 1870.6L801.3 1860M795.4 1870.6L805.9 1860M801.4 1862.5L806.4 1867.5M806 1865.1L811 1868.5M810.5 1867.7L815.5 1869.5M813.6 1870.6L824.1 1860M818.1 1870.6L828.6 1860M822.7 1870.6L833.2 1860M828.7 1862.5L833.7 1867.5M833.3 1865.1L838.3 1868.5M837.8 1867.7L842.8 1869.5M840.9 1870.6L851.4 1860M845.4 1870.6L855.9 1860M850 1870.6L860.5 1860M856 1862.5L861 1867.5M860.6 1865.1L865.6 1868.5M865.1 1867.7L870.1 1869.5M868.2 1870.6L878.7 1860M872.7 1870.6L883.2 1860M877.3 1870.6L887.8 1860M883.3 1862.5L888.3 1867.5M887.9 1865.1L892.9 1868.5M892.4 1867.7L897.4 1869.5M895.5 1870.6L906 1860M900 1870.6L910.5 1860M904.6 1870.6L915.1 1860M910.6 1862.5L915.6 1867.5M915.2 1865.1L920.2 1868.5M919.7 1867.7L924.7 1869.5M922.8 1870.6L933.3 1860M927.3 1870.6L937.8 1860M931.9 1870.6L942.4 1860M937.9 1862.5L942.9 1867.5M942.5 1865.1L947.5 1868.5M947 1867.7L952 1869.5" stroke-width="0.9"/>
<path d="M597.2 1511.4L700.5 1511.4" stroke-width="2.6"/>
<path d="M614.3 1512.5L614.3 1560L616.8 1563.8L629.1 1563.8" stroke-width="0.9"/>
<path d="M616.9 1512.5L616.9 1558.5L619.6 1560.9L629.1 1560.9" stroke-width="0.9"/>
<path d="M672.4 1512.5L672.4 1560L669.9 1563.8L660.2 1563.8" stroke-width="0.9"/>
<path d="M675 1512.5L675 1558.5L669.7 1560.9L660.2 1560.9" stroke-width="0.9"/>
<path d="M525.3 1493.5L525.3 1864.5"/>
<path d="M520.5 1510.6L556.5 1510.6"/>
<path d="M523.4 1491.6L527.2 1495.4" stroke-width="2.3"/>
<path d="M523.4 1508.7L527.2 1512.5" stroke-width="2.3"/>
<path d="M523.4 1824.4L527.2 1828.2" stroke-width="2.3"/>
<path d="M523.4 1857.1L527.2 1860.9" stroke-width="2.3"/>
<path d="M344.6 1890.2L952.8 1890.2"/>
<path d="M349.2 1878.5L349.2 1895.5"/>
<path d="M347.3 1892.1L351.1 1888.3" stroke-width="2.3"/>
<path d="M383.4 1878.5L383.4 1895.5"/>
<path d="M381.5 1892.1L385.3 1888.3" stroke-width="2.3"/>
<path d="M915.6 1878.5L915.6 1895.5"/>
<path d="M913.7 1892.1L917.5 1888.3" stroke-width="2.3"/>
<path d="M948.7 1878.5L948.7 1895.5"/>
<path d="M946.8 1892.1L950.6 1888.3" stroke-width="2.3"/>
<path d="M733.7 1470.5L1102.3 1470.5"/>
<circle cx="671.2" cy="1503.4" r="1.8" fill="#000" stroke="none"/>
<path d="M671.2 1503.4L699.4 1532.2L1103 1532.2"/>
<circle cx="673.7" cy="1551.4" r="1.8" fill="#000" stroke="none"/>
<path d="M673.7 1551.4L703 1581.2L1103 1581.2"/>
<circle cx="671.2" cy="1647" r="1.8" fill="#000" stroke="none"/>
<path d="M671.2 1647L700.5 1676.4L1103 1676.4"/>
<circle cx="863.3" cy="1834.4" r="1.8" fill="#000" stroke="none"/>
<path d="M863.3 1834.4L875.5 1846.4L1101 1846.4"/>
<circle cx="936.7" cy="1863.3" r="2" fill="#000" stroke="none"/>
<path d="M936.7 1863.3L950 1877L1101 1877"/>
<circle cx="993.4" cy="1928.3" r="28.8"/>
<path d="M1022.2 1928.3L1197.6 1928.3"/>
<path d="M216.9 1.4L2782.9 1.4" stroke-width="1.2"/>
<path d="M1881.8 1510.7L1954.5 1510.7" stroke-width="1.3"/>
<circle cx="1405.1" cy="1914.1" r="28.8"/>
<path d="M1433.9 1914.1L1660.2 1914.1"/>
<path d="M1652.2 1927.1L1659.2 1927.1"/>
<circle cx="2031.4" cy="1910.3" r="28.8"/>
<path d="M2060.2 1910.3L2286.1 1910.3"/>
<path d="M2278.1 1923.3L2285.1 1923.3"/></g>
<g id="fills" class="ln"><path d="M963.3 186.1L1001.1 222.4L963.3 259.5Z" fill="#000" stroke="none"/>
<circle cx="963.3" cy="222.4" r="23.6" fill="#fff"/>
<path d="M936.7 222.4L989.9 222.4"/>
<path d="M963.3 196.8L963.3 222.4"/>
<path d="M958.8 232.5L967.8 232.5"/>
<path d="M798.1 607.9L834.4 570.4L871.7 607.9Z" fill="#000" stroke="none"/>
<circle cx="834.4" cy="607.9" r="23.6" fill="#fff"/>
<path d="M807.8 607.9L861 607.9"/>
<path d="M834.4 582.3L834.4 607.9"/>
<path d="M829.9 618L838.9 618"/></g>
<g id="toptxt" fill="#000" opacity="0.999"><text class="n" x="952.7" y="218.4" font-size="19.3" text-anchor="middle" textLength="7.5" lengthAdjust="spacingAndGlyphs">7</text>
<text class="n" x="973.2" y="218.4" font-size="19.3" text-anchor="middle" textLength="8" lengthAdjust="spacingAndGlyphs">D</text>
<text class="n" x="823.8" y="603.9" font-size="19.3" text-anchor="middle" textLength="7.5" lengthAdjust="spacingAndGlyphs">3</text>
<text class="n" x="844.3" y="603.9" font-size="19.3" text-anchor="middle" textLength="8" lengthAdjust="spacingAndGlyphs">D</text></g>
</svg></body></html>
